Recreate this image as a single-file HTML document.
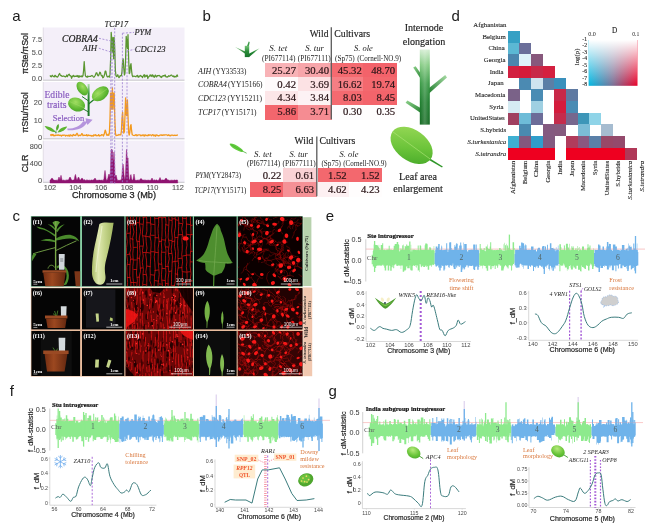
<!DOCTYPE html>
<html><head><meta charset="utf-8"><title>Figure</title>
<style>html,body{margin:0;padding:0;background:#fff}svg{display:block}</style>
</head><body>
<svg width="649" height="527" viewBox="0 0 649 527">
<rect width="649" height="527" fill="#fff"/>
<g id="panel_a">
<rect x="43" y="27.5" width="141.5" height="52.5" fill="#f4eff9"/>
<rect x="43" y="82" width="141.5" height="56.6" fill="#f4eff9"/>
<rect x="43" y="140.6" width="141.5" height="41.6" fill="#f4eff9"/>
<line x1="43" y1="80.2" x2="184.5" y2="80.2" stroke="#b9b6bd" stroke-width="0.8"/>
<line x1="43" y1="138.8" x2="184.5" y2="138.8" stroke="#b9b6bd" stroke-width="0.8"/>
<line x1="43" y1="182.3" x2="184.5" y2="182.3" stroke="#b9b6bd" stroke-width="0.8"/>
<line x1="43.2" y1="27.5" x2="43.2" y2="80.2" stroke="#d6d2da" stroke-width="0.6"/>
<line x1="43.2" y1="82" x2="43.2" y2="138.8" stroke="#d6d2da" stroke-width="0.6"/>
<line x1="43.2" y1="140.6" x2="43.2" y2="182.3" stroke="#d6d2da" stroke-width="0.6"/>
<text font-size="15" font-family="'Liberation Sans', sans-serif" fill="#1a1a1a" x="12.3" y="20.5">a</text>
<text font-size="7.4" font-family="'Liberation Sans', sans-serif" text-anchor="end" fill="#555" x="42" y="42" stroke="#555" stroke-width="0.1">7.5</text>
<text font-size="7.4" font-family="'Liberation Sans', sans-serif" text-anchor="end" fill="#555" x="42" y="55.1" stroke="#555" stroke-width="0.1">5.0</text>
<text font-size="7.4" font-family="'Liberation Sans', sans-serif" text-anchor="end" fill="#555" x="42" y="67.9" stroke="#555" stroke-width="0.1">2.5</text>
<text font-size="7.4" font-family="'Liberation Sans', sans-serif" text-anchor="end" fill="#555" x="42" y="80.5" stroke="#555" stroke-width="0.1">0.0</text>
<text font-size="7.4" font-family="'Liberation Sans', sans-serif" text-anchor="end" fill="#555" x="42" y="105.4" stroke="#555" stroke-width="0.1">20</text>
<text font-size="7.4" font-family="'Liberation Sans', sans-serif" text-anchor="end" fill="#555" x="42" y="122.7" stroke="#555" stroke-width="0.1">10</text>
<text font-size="7.4" font-family="'Liberation Sans', sans-serif" text-anchor="end" fill="#555" x="42" y="139.7" stroke="#555" stroke-width="0.1">0</text>
<text font-size="7.4" font-family="'Liberation Sans', sans-serif" text-anchor="end" fill="#555" x="42" y="149.3" stroke="#555" stroke-width="0.1">800</text>
<text font-size="7.4" font-family="'Liberation Sans', sans-serif" text-anchor="end" fill="#555" x="42" y="166.3" stroke="#555" stroke-width="0.1">400</text>
<text font-size="7.4" font-family="'Liberation Sans', sans-serif" text-anchor="end" fill="#555" x="42" y="183.2" stroke="#555" stroke-width="0.1">0</text>
<text font-size="9" font-family="'Liberation Sans', sans-serif" text-anchor="middle" fill="#222" textLength="41" lengthAdjust="spacingAndGlyphs" transform="translate(27.6 53.5) rotate(-90)" stroke="#222" stroke-width="0.25">πSte/πSol</text>
<text font-size="9" font-family="'Liberation Sans', sans-serif" text-anchor="middle" fill="#222" textLength="40.5" lengthAdjust="spacingAndGlyphs" transform="translate(27.6 112.5) rotate(-90)" stroke="#222" stroke-width="0.25">πStu/πSol</text>
<text font-size="9" font-family="'Liberation Sans', sans-serif" text-anchor="middle" fill="#222" textLength="17.7" lengthAdjust="spacingAndGlyphs" transform="translate(27.8 163.5) rotate(-90)" stroke="#222" stroke-width="0.25">CLR</text>
<text font-size="7.4" font-family="'Liberation Sans', sans-serif" text-anchor="middle" fill="#555" x="50" y="190.2" stroke="#555" stroke-width="0.1">102</text>
<text font-size="7.4" font-family="'Liberation Sans', sans-serif" text-anchor="middle" fill="#555" x="75.5" y="190.2" stroke="#555" stroke-width="0.1">104</text>
<text font-size="7.4" font-family="'Liberation Sans', sans-serif" text-anchor="middle" fill="#555" x="101.1" y="190.2" stroke="#555" stroke-width="0.1">106</text>
<text font-size="7.4" font-family="'Liberation Sans', sans-serif" text-anchor="middle" fill="#555" x="127" y="190.2" stroke="#555" stroke-width="0.1">108</text>
<text font-size="7.4" font-family="'Liberation Sans', sans-serif" text-anchor="middle" fill="#555" x="152.4" y="190.2" stroke="#555" stroke-width="0.1">110</text>
<text font-size="7.4" font-family="'Liberation Sans', sans-serif" text-anchor="middle" fill="#555" x="178" y="190.2" stroke="#555" stroke-width="0.1">112</text>
<text font-size="9.2" font-family="'Liberation Sans', sans-serif" fill="#222" textLength="84" lengthAdjust="spacingAndGlyphs" x="72" y="198.3" stroke="#222" stroke-width="0.25">Chromosome 3 (Mb)</text>
<path d="M50 75.4 L50.6 76.4 L51.2 76.8 L51.8 75.9 L52.4 75.3 L53 76.2 L53.6 76.5 L54.2 76.9 L54.8 75.4 L55.4 75.4 L56 76.7 L56.6 76.5 L57.2 77.2 L57.8 76.8 L58.4 75.7 L59 74.3 L59.6 73.5 L60.2 74.8 L60.8 75.7 L61.4 75.5 L62 76.3 L62.6 76.3 L63.2 76 L63.8 76.2 L64.4 76.4 L65 76.7 L65.6 76.9 L66.2 76.3 L66.8 75 L67.4 76.7 L68 75.3 L68.6 74.6 L69.2 74.2 L69.8 75.6 L70.4 75.7 L71 76.3 L71.6 78.3 L72.2 76.2 L72.8 76.7 L73.4 75.3 L74 76 L74.6 76.6 L75.2 76.1 L75.8 76.4 L76.4 76.3 L77 75.5 L77.6 76.6 L78.2 75.7 L78.8 77.4 L79.4 75.9 L80 76.6 L80.6 76.2 L81.2 76.8 L81.8 75.8 L82.4 76.8 L83 75.8 L83.6 70.2 L84.2 61.6 L84.8 70.2 L85.4 75.7 L86 76.7 L86.6 76.5 L87.2 77.3 L87.8 76 L88.4 76.6 L89 76.5 L89.6 76.4 L90.2 76.3 L90.8 76.3 L91.4 75.8 L92 75.5 L92.6 75.9 L93.2 76.6 L93.8 77.2 L94.4 76.8 L95 75.8 L95.6 74.6 L96.2 72.8 L96.8 72.8 L97.4 74.6 L98 75.8 L98.6 75.6 L99.2 74 L99.8 72.2 L100.4 72.6 L101 74.7 L101.6 75.9 L102.2 75.5 L102.8 77.8 L103.4 77.4 L104 76.3 L104.6 74.3 L105.2 71.2 L105.8 71.2 L106.4 74.3 L107 76.4 L107.6 76.9 L108.2 76.7 L108.8 76.2 L109.4 77.1 L110 74.4 L110.6 59.9 L111.2 32.3 L111.8 40.2 L112.4 52.1 L113 37.3 L113.6 58.8 L114.2 37.6 L114.8 50.3 L115.4 70.9 L116 75.9 L116.6 76.6 L117.2 76.1 L117.8 74.7 L118.4 76.7 L119 77.7 L119.6 76.9 L120.2 75.6 L120.8 75.9 L121.4 75.7 L122 71.6 L122.6 61.5 L123.2 58.8 L123.8 68.6 L124.4 75 L125 73.4 L125.6 58.9 L126.2 36.3 L126.8 42.4 L127.4 48.3 L128 34.7 L128.6 57.4 L129.2 73.6 L129.8 72.9 L130.4 65.6 L131 63.7 L131.6 70.8 L132.2 75.3 L132.8 76.7 L133.4 76.3 L134 76 L134.6 76.3 L135.2 76.5 L135.8 76.8 L136.4 75.9 L137 76 L137.6 75.3 L138.2 77.2 L138.8 77.1 L139.4 76.1 L140 75.9 L140.6 75.4 L141.2 76.3 L141.8 76.3 L142.4 77.6 L143 76.4 L143.6 75.7 L144.2 74.6 L144.8 77.1 L145.4 76.3 L146 75.2 L146.6 76.3 L147.2 75.2 L147.8 78.5 L148.4 76.9 L149 76.6 L149.6 76.1 L150.2 74.8 L150.8 76.1 L151.4 75.2 L152 76.6 L152.6 74.8 L153.2 75.6 L153.8 77 L154.4 77.3 L155 75.4 L155.6 75.2 L156.2 76.8 L156.8 76.8 L157.4 75.6 L158 75.7 L158.6 75.7 L159.2 75.4 L159.8 75.8 L160.4 77 L161 76.6 L161.6 77.5 L162.2 76.1 L162.8 76.1 L163.4 75.6 L164 76.1 L164.6 75.3 L165.2 75 L165.8 76.7 L166.4 77.1 L167 76.7 L167.6 77.1 L168.2 76.4 L168.8 75.7 L169.4 76.3 L170 76 L170.6 75.5 L171.2 75.1 L171.8 75.2 L172.4 76.2 L173 76.3 L173.6 75.9 L174.2 77.1 L174.8 76.3 L175.4 76.6 L176 77 L176.6 75.7 L177.2 74.9 L177.8 76.7" fill="none" stroke="#5b9631" stroke-width="1.25" stroke-linejoin="round"/>
<path d="M50 134.9 L50.6 134.9 L51.2 135.5 L51.8 134.5 L52.4 135.2 L53 134.5 L53.6 135.7 L54.2 135.4 L54.8 135.8 L55.4 135.1 L56 135.4 L56.6 135.2 L57.2 135 L57.8 135.4 L58.4 134.9 L59 135.2 L59.6 135.5 L60.2 135.3 L60.8 135.2 L61.4 136.1 L62 135.3 L62.6 135.1 L63.2 135.4 L63.8 135.1 L64.4 135.2 L65 135.2 L65.6 136 L66.2 135.3 L66.8 135.4 L67.4 135.5 L68 136 L68.6 135.2 L69.2 135.1 L69.8 136.2 L70.4 134.8 L71 135.2 L71.6 135.5 L72.2 136.1 L72.8 135 L73.4 134.5 L74 135.5 L74.6 135.1 L75.2 135.2 L75.8 135.5 L76.4 134.1 L77 133.3 L77.6 134.1 L78.2 135.8 L78.8 135.8 L79.4 135.3 L80 135.1 L80.6 135.6 L81.2 134.8 L81.8 133.6 L82.4 134 L83 135.7 L83.6 135.3 L84.2 135.2 L84.8 135.4 L85.4 135.3 L86 135.3 L86.6 134.6 L87.2 135.9 L87.8 135.4 L88.4 135 L89 135.6 L89.6 135.4 L90.2 135.3 L90.8 135.7 L91.4 136.1 L92 135.5 L92.6 135.9 L93.2 136.1 L93.8 134.9 L94.4 135.1 L95 135.6 L95.6 134.7 L96.2 135.2 L96.8 135.8 L97.4 135.7 L98 135.5 L98.6 134.6 L99.2 136.1 L99.8 135.5 L100.4 135.6 L101 135.5 L101.6 134.7 L102.2 134.8 L102.8 134.9 L103.4 136 L104 134.8 L104.6 132.6 L105.2 130.1 L105.8 131.6 L106.4 134.3 L107 135.4 L107.6 134.9 L108.2 134.2 L108.8 135.4 L109.4 132.8 L110 118.8 L110.6 93.2 L111.2 93.2 L111.8 109.2 L112.4 88 L113 109.2 L113.6 93.2 L114.2 93.2 L114.8 118.8 L115.4 132.8 L116 135.7 L116.6 135.4 L117.2 135.4 L117.8 135.1 L118.4 135.2 L119 134.4 L119.6 134.9 L120.2 134.8 L120.8 134.9 L121.4 131 L122 118.8 L122.6 112.3 L123.2 123.5 L123.8 133.1 L124.4 131.8 L125 114.7 L125.6 98 L126.2 114.7 L126.8 115.8 L127.4 100 L128 115.8 L128.6 132 L129.2 135 L129.8 132.5 L130.4 126.3 L131 124.6 L131.6 130.7 L132.2 134.6 L132.8 135 L133.4 135.3 L134 135.5 L134.6 135.4 L135.2 135.4 L135.8 134.6 L136.4 134.9 L137 135.8 L137.6 135.4 L138.2 134.8 L138.8 135 L139.4 134.8 L140 134.9 L140.6 135.7 L141.2 135.2 L141.8 135.7 L142.4 135.4 L143 134.8 L143.6 135.1 L144.2 136.1 L144.8 135 L145.4 134.9 L146 135.7 L146.6 135.3 L147.2 135.3 L147.8 135.8 L148.4 134.7 L149 135.4 L149.6 134.9 L150.2 134.8 L150.8 135 L151.4 135.7 L152 135.2 L152.6 134.6 L153.2 134.9 L153.8 135.8 L154.4 135.7 L155 134.9 L155.6 136.2 L156.2 135.2 L156.8 134.9 L157.4 135.3 L158 135.6 L158.6 135.9 L159.2 135.7 L159.8 135.1 L160.4 135.1 L161 134.8 L161.6 135.3 L162.2 135.1 L162.8 135.4 L163.4 134.8 L164 135.1 L164.6 135 L165.2 134.9 L165.8 134.9 L166.4 134.9 L167 134.9 L167.6 135.5 L168.2 135.3 L168.8 134.8 L169.4 135.5 L170 135.4 L170.6 135.8 L171.2 135.2 L171.8 135.2 L172.4 135.1 L173 135.3 L173.6 135.5 L174.2 135.4 L174.8 135.2 L175.4 135.5 L176 135.3 L176.6 135.4 L177.2 135 L177.8 135.4" fill="none" stroke="#f39a1e" stroke-width="1.3" stroke-linejoin="round"/>
<path d="M50 183 L50 180.1 L50.5 180 L51 179.3 L51.5 178.4 L52 178 L52.5 178.4 L53 179.3 L53.5 180 L54 180 L54.5 180.3 L55 180.1 L55.5 180.3 L56 180.3 L56.5 180.1 L57 180.4 L57.5 180.2 L58 179.9 L58.5 178.3 L59 177 L59.5 178.3 L60 179.9 L60.5 177.6 L61 175.3 L61.5 177.6 L62 180 L62.5 180.3 L63 180.2 L63.5 180 L64 180.3 L64.5 180.3 L65 180.4 L65.5 180.2 L66 180.3 L66.5 179.9 L67 180.2 L67.5 179.8 L68 180.3 L68.5 179.8 L69 178.8 L69.5 177.6 L70 177 L70.5 177.6 L71 178.8 L71.5 179.8 L72 180.3 L72.5 180.3 L73 179.9 L73.5 180.1 L74 180 L74.5 178.4 L75 175.5 L75.5 174.4 L76 176.7 L76.5 179.3 L77 179.8 L77.5 179.2 L78 177.8 L78.5 177 L79 177.8 L79.5 179.2 L80 180.1 L80.5 180 L81 179.3 L81.5 178.4 L82 178 L82.5 178.4 L83 179.3 L83.5 180 L84 180.3 L84.5 179.5 L85 180.3 L85.5 180.4 L86 180.2 L86.5 179.7 L87 180.4 L87.5 180 L88 180.1 L88.5 180.3 L89 180.2 L89.5 180.1 L90 180.4 L90.5 180.3 L91 180.1 L91.5 179.9 L92 180.1 L92.5 180.2 L93 179.7 L93.5 179.9 L94 179.8 L94.5 178.7 L95 178 L95.5 178.7 L96 179.8 L96.5 180.3 L97 180.2 L97.5 180.3 L98 180.1 L98.5 180.2 L99 180 L99.5 180.1 L100 179.9 L100.5 180.3 L101 180.3 L101.5 180.1 L102 180.3 L102.5 180.2 L103 180.4 L103.5 180.1 L104 178.5 L104.5 173.8 L105 170.4 L105.5 173.8 L106 178.5 L106.5 180.2 L107 180.3 L107.5 179.3 L108 177.5 L108.5 175.1 L109 174 L109.5 175.1 L110 177.5 L110.5 168.8 L111 151.6 L111.5 149.1 L112 165.5 L112.5 149.8 L113 159.2 L113.5 161.6 L114 152 L114.5 161.6 L115 175 L115.5 176.6 L116 175 L116.5 176.6 L117 179.1 L117.5 180.2 L118 180.4 L118.5 180.3 L119 180 L119.5 180.3 L120 180.4 L120.5 180.1 L121 180.3 L121.5 178.7 L122 174.5 L122.5 167.7 L123 164 L123.5 167.7 L124 174.5 L124.5 178.7 L125 179.5 L125.5 174.6 L126 161.4 L126.5 149.4 L127 155.3 L127.5 160 L128 157.9 L128.5 171.2 L129 179 L129.5 180.3 L130 179.1 L130.5 175.3 L131 174.6 L131.5 178.5 L132 179.7 L132.5 180.3 L133 179.5 L133.5 176.9 L134 174 L134.5 176.9 L135 179.9 L135.5 180.3 L136 180.3 L136.5 180.3 L137 180.2 L137.5 180.1 L138 180.3 L138.5 180 L139 180.4 L139.5 180.1 L140 179.5 L140.5 178.8 L141 178.5 L141.5 178.8 L142 179.5 L142.5 180.1 L143 180 L143.5 180 L144 180.3 L144.5 179.9 L145 180.3 L145.5 180 L146 180.3 L146.5 180.3 L147 180.1 L147.5 180.2 L148 180.3 L148.5 180.1 L149 180.2 L149.5 180.3 L150 180.3 L150.5 180.3 L151 180.1 L151.5 178.9 L152 178 L152.5 178.9 L153 179.9 L153.5 180.3 L154 180.2 L154.5 180 L155 179.7 L155.5 180.4 L156 179.8 L156.5 180 L157 179.9 L157.5 180.4 L158 180.2 L158.5 180.2 L159 180 L159.5 178.6 L160 177.5 L160.5 178.6 L161 180 L161.5 180.3 L162 179.7 L162.5 180.1 L163 180.1 L163.5 180.1 L164 180.1 L164.5 180 L165 179.3 L165.5 178.4 L166 178 L166.5 178.4 L167 179.3 L167.5 180 L168 179.8 L168.5 180.1 L169 180.3 L169.5 180.4 L170 180.4 L170.5 180.3 L171 180.4 L171.5 179.9 L172 180.2 L172.5 180.3 L173 180.2 L173.5 180.3 L174 180.2 L174.5 179.9 L175 179.9 L175.5 180.3 L176 179.9 L176.5 180 L177 180 L177.5 180 L177.8 183Z" fill="#8f1370" stroke="#8f1370" stroke-width="0.5" stroke-linejoin="round"/>
<line x1="110.8" y1="51.8" x2="110.8" y2="183.6" stroke="#9b7fcf" stroke-width="0.8" stroke-dasharray="2 1.5"/>
<line x1="112.1" y1="41" x2="112.1" y2="183.6" stroke="#9b7fcf" stroke-width="0.8" stroke-dasharray="2 1.5"/>
<line x1="114.7" y1="27.9" x2="114.7" y2="183.6" stroke="#9b7fcf" stroke-width="0.8" stroke-dasharray="2 1.5"/>
<line x1="122.4" y1="33.2" x2="122.4" y2="183.6" stroke="#9b7fcf" stroke-width="0.8" stroke-dasharray="2 1.5"/>
<line x1="127" y1="50.8" x2="127" y2="183.6" stroke="#9b7fcf" stroke-width="0.8" stroke-dasharray="2 1.5"/>
<line x1="99" y1="38.3" x2="112.1" y2="41.2" stroke="#9b7fcf" stroke-width="0.8" stroke-dasharray="2 1.5"/>
<line x1="98.8" y1="48.2" x2="110.8" y2="52" stroke="#9b7fcf" stroke-width="0.8" stroke-dasharray="2 1.5"/>
<line x1="122.4" y1="33.2" x2="134" y2="32.4" stroke="#9b7fcf" stroke-width="0.8" stroke-dasharray="2 1.5"/>
<line x1="127" y1="51" x2="134.5" y2="49.3" stroke="#9b7fcf" stroke-width="0.8" stroke-dasharray="2 1.5"/>
<text font-size="8.2" font-family="'Liberation Serif', serif" fill="#222" font-style="italic" textLength="23.5" lengthAdjust="spacingAndGlyphs" x="104.6" y="27.3" stroke="#222" stroke-width="0.12">TCP17</text>
<text font-size="8.2" font-family="'Liberation Serif', serif" fill="#222" font-style="italic" textLength="16.8" lengthAdjust="spacingAndGlyphs" x="134.4" y="35" stroke="#222" stroke-width="0.12">PYM</text>
<text font-size="8.4" font-family="'Liberation Serif', serif" fill="#222" font-style="italic" textLength="30.8" lengthAdjust="spacingAndGlyphs" x="134.8" y="52" stroke="#222" stroke-width="0.12">CDC123</text>
<text font-size="9.4" font-family="'Liberation Serif', serif" fill="#222" font-style="italic" textLength="35.8" lengthAdjust="spacingAndGlyphs" x="62" y="41.6" stroke="#222" stroke-width="0.2">COBRA4</text>
<text font-size="8.2" font-family="'Liberation Serif', serif" fill="#222" font-style="italic" textLength="14.5" lengthAdjust="spacingAndGlyphs" x="82.6" y="50.8" stroke="#222" stroke-width="0.12">AIH</text>
<text font-size="9.6" font-family="'Liberation Serif', serif" fill="#8658be" textLength="25" lengthAdjust="spacingAndGlyphs" x="44.5" y="98" stroke="#8658be" stroke-width="0.15">Edible</text>
<text font-size="9.6" font-family="'Liberation Serif', serif" fill="#8658be" textLength="19.6" lengthAdjust="spacingAndGlyphs" x="47" y="108.4" stroke="#8658be" stroke-width="0.15">traits</text>
<text font-size="8.4" font-family="'Liberation Serif', serif" fill="#8658be" textLength="31.5" lengthAdjust="spacingAndGlyphs" x="52.7" y="120.8" stroke="#8658be" stroke-width="0.15">Selection</text>
<path d="M67.3 128.6 C75 128.4 80 126.5 83.2 121.2 L86 121.4 L85.6 118.2 L92.6 119.8 L87.5 125 L86.6 123 C83.5 128.5 77 130.6 67.6 130.2 Z" fill="#b594dd"/>
<defs><linearGradient id="stg" x1="0" y1="0" x2="0" y2="1"><stop offset="0" stop-color="#b4e0b0"/><stop offset="0.3" stop-color="#3a9a40"/><stop offset="0.6" stop-color="#1f7a28"/></linearGradient><radialGradient id="lg1" cx="0.4" cy="0.35" r="0.8"><stop offset="0" stop-color="#a2de62"/><stop offset="0.6" stop-color="#62ba34"/><stop offset="1" stop-color="#429a26"/></radialGradient></defs>
<path d="M87.6 84 L89.6 84 L89.6 116 L87.6 116 Z" fill="url(#stg)"/>
<path d="M88.6 101 L82 96.5" stroke="#1f7a28" stroke-width="1" fill="none"/>
<path d="M88.6 104 L94 99.5" stroke="#1f7a28" stroke-width="1.2" fill="none"/>
<path d="M88.6 112 L81.5 108" stroke="#1f7a28" stroke-width="1" fill="none"/>
<ellipse cx="82.3" cy="88.6" rx="7.6" ry="4.7" transform="rotate(55 82.3 88.6)" fill="url(#lg1)"/>
<ellipse cx="76.6" cy="104.5" rx="8.8" ry="6.7" transform="rotate(22 76.6 104.5)" fill="url(#lg1)"/><path d="M69.5 101.5 L84.5 108" stroke="#a6e070" stroke-width="0.4"/>
<ellipse cx="100.3" cy="93.8" rx="9.4" ry="6.3" transform="rotate(-36 100.3 93.8)" fill="url(#lg1)"/><path d="M93.5 98.6 L107.5 88.6" stroke="#a6e070" stroke-width="0.4"/>
<path d="M44.6 126 C50 126.3 54 129 55.8 132.3 C51 132 46.5 129.5 44.6 126Z" fill="#5cb430"/>
<path d="M67.2 126.5 C62 126.8 58.5 129.5 57.6 132.6 C62 132.2 65.6 129.8 67.2 126.5Z" fill="#5cb430"/>
<path d="M58.4 124 C59.6 126 58.6 129.5 56.6 130.8 C55.4 128.6 56.4 125.4 58.4 124Z" fill="#4fa82c"/>
<path d="M56 130 L56.6 133.2 L55.2 133.2Z" fill="#1f7a28"/>
</g>
<g id="panel_b">
<text font-size="15" font-family="'Liberation Sans', sans-serif" fill="#1a1a1a" x="202.4" y="20.5">b</text>
<text font-size="9.5" font-family="'Liberation Serif', serif" text-anchor="end" fill="#222" textLength="18.6" lengthAdjust="spacingAndGlyphs" x="328.4" y="36.7" stroke="#222" stroke-width="0.15">Wild</text>
<text font-size="9.5" font-family="'Liberation Serif', serif" fill="#222" textLength="36" lengthAdjust="spacingAndGlyphs" x="334.2" y="36.7" stroke="#222" stroke-width="0.15">Cultivars</text>
<text font-size="8.2" font-family="'Liberation Serif', serif" fill="#222" font-style="italic" textLength="18" lengthAdjust="spacingAndGlyphs" x="269.2" y="51.2">S. tet</text>
<text font-size="8.2" font-family="'Liberation Serif', serif" fill="#222" font-style="italic" textLength="18.8" lengthAdjust="spacingAndGlyphs" x="305.2" y="51.2">S. tur</text>
<text font-size="8.2" font-family="'Liberation Serif', serif" fill="#222" font-style="italic" textLength="18.8" lengthAdjust="spacingAndGlyphs" x="354" y="51.2">S. ole</text>
<text font-size="7.2" font-family="'Liberation Serif', serif" fill="#222" textLength="33.4" lengthAdjust="spacingAndGlyphs" x="262" y="60.6">(PI677114)</text>
<text font-size="7.2" font-family="'Liberation Serif', serif" fill="#222" textLength="33" lengthAdjust="spacingAndGlyphs" x="297.8" y="60.6">(PI677111)</text>
<text font-size="7.2" font-family="'Liberation Serif', serif" fill="#222" textLength="19.8" lengthAdjust="spacingAndGlyphs" x="335" y="60.6">(Sp75)</text>
<text font-size="7.2" font-family="'Liberation Serif', serif" fill="#222" textLength="44" lengthAdjust="spacingAndGlyphs" x="357.2" y="60.6">(Cornell-NO.9)</text>
<rect x="264.7" y="63.3" width="33.4" height="14.3" fill="#f8b2b6" shape-rendering="crispEdges"/>
<rect x="297.6" y="63.3" width="34.1" height="14.3" fill="#f7a5aa" shape-rendering="crispEdges"/>
<rect x="332.2" y="63.3" width="31.6" height="14.3" fill="#f46a70" shape-rendering="crispEdges"/>
<rect x="363.3" y="63.3" width="33.8" height="14.3" fill="#f3626a" shape-rendering="crispEdges"/>
<rect x="264.7" y="77.1" width="33.4" height="14.2" fill="#fefafb" shape-rendering="crispEdges"/>
<rect x="297.6" y="77.1" width="34.1" height="14.2" fill="#fce2e4" shape-rendering="crispEdges"/>
<rect x="332.2" y="77.1" width="31.6" height="14.2" fill="#f57e84" shape-rendering="crispEdges"/>
<rect x="363.3" y="77.1" width="33.8" height="14.2" fill="#f3686e" shape-rendering="crispEdges"/>
<rect x="264.7" y="90.8" width="33.4" height="14.4" fill="#fce6e8" shape-rendering="crispEdges"/>
<rect x="297.6" y="90.8" width="34.1" height="14.4" fill="#fdf2f4" shape-rendering="crispEdges"/>
<rect x="332.2" y="90.8" width="31.6" height="14.4" fill="#f46a70" shape-rendering="crispEdges"/>
<rect x="363.3" y="90.8" width="33.8" height="14.4" fill="#f3646b" shape-rendering="crispEdges"/>
<rect x="264.7" y="104.7" width="33.4" height="14.8" fill="#f3666d" shape-rendering="crispEdges"/>
<rect x="297.6" y="104.7" width="34.1" height="14.8" fill="#f58c92" shape-rendering="crispEdges"/>
<rect x="332.2" y="104.7" width="31.6" height="14.8" fill="#fefcfd" shape-rendering="crispEdges"/>
<rect x="363.3" y="104.7" width="33.8" height="14.8" fill="#fffdfd" shape-rendering="crispEdges"/>
<text font-size="10.7" font-family="'Liberation Serif', serif" text-anchor="end" fill="#2a1518" x="296" y="73.7" stroke="#2a1518" stroke-width="0.2">25.27</text>
<text font-size="10.7" font-family="'Liberation Serif', serif" text-anchor="end" fill="#2a1518" x="329" y="73.7" stroke="#2a1518" stroke-width="0.2">30.40</text>
<text font-size="10.7" font-family="'Liberation Serif', serif" text-anchor="end" fill="#2a1518" x="361.8" y="73.7" stroke="#2a1518" stroke-width="0.2">45.32</text>
<text font-size="10.7" font-family="'Liberation Serif', serif" text-anchor="end" fill="#2a1518" x="395.2" y="73.7" stroke="#2a1518" stroke-width="0.2">48.70</text>
<text font-size="10.7" font-family="'Liberation Serif', serif" text-anchor="end" fill="#2a1518" x="296" y="87.5" stroke="#2a1518" stroke-width="0.2">0.42</text>
<text font-size="10.7" font-family="'Liberation Serif', serif" text-anchor="end" fill="#2a1518" x="329" y="87.5" stroke="#2a1518" stroke-width="0.2">3.69</text>
<text font-size="10.7" font-family="'Liberation Serif', serif" text-anchor="end" fill="#2a1518" x="361.8" y="87.5" stroke="#2a1518" stroke-width="0.2">16.62</text>
<text font-size="10.7" font-family="'Liberation Serif', serif" text-anchor="end" fill="#2a1518" x="395.2" y="87.5" stroke="#2a1518" stroke-width="0.2">19.74</text>
<text font-size="10.7" font-family="'Liberation Serif', serif" text-anchor="end" fill="#2a1518" x="296" y="101.2" stroke="#2a1518" stroke-width="0.2">4.34</text>
<text font-size="10.7" font-family="'Liberation Serif', serif" text-anchor="end" fill="#2a1518" x="329" y="101.2" stroke="#2a1518" stroke-width="0.2">3.84</text>
<text font-size="10.7" font-family="'Liberation Serif', serif" text-anchor="end" fill="#2a1518" x="361.8" y="101.2" stroke="#2a1518" stroke-width="0.2">8.03</text>
<text font-size="10.7" font-family="'Liberation Serif', serif" text-anchor="end" fill="#2a1518" x="395.2" y="101.2" stroke="#2a1518" stroke-width="0.2">8.45</text>
<text font-size="10.7" font-family="'Liberation Serif', serif" text-anchor="end" fill="#2a1518" x="296" y="115.1" stroke="#2a1518" stroke-width="0.2">5.86</text>
<text font-size="10.7" font-family="'Liberation Serif', serif" text-anchor="end" fill="#2a1518" x="329" y="115.1" stroke="#2a1518" stroke-width="0.2">3.71</text>
<text font-size="10.7" font-family="'Liberation Serif', serif" text-anchor="end" fill="#2a1518" x="361.8" y="115.1" stroke="#2a1518" stroke-width="0.2">0.30</text>
<text font-size="10.7" font-family="'Liberation Serif', serif" text-anchor="end" fill="#2a1518" x="395.2" y="115.1" stroke="#2a1518" stroke-width="0.2">0.35</text>
<line x1="331.3" y1="27.3" x2="331.3" y2="119.2" stroke="#5a5a5a" stroke-width="1.3"/>
<text font-size="7.6" font-family="'Liberation Serif', serif" fill="#222" font-style="italic" textLength="13.4" lengthAdjust="spacingAndGlyphs" x="198" y="73.5">AIH</text>
<text font-size="7.8" font-family="'Liberation Serif', serif" fill="#222" textLength="33.4" lengthAdjust="spacingAndGlyphs" x="213" y="73.5">(YY33533)</text>
<text font-size="7.6" font-family="'Liberation Serif', serif" fill="#222" font-style="italic" textLength="29" lengthAdjust="spacingAndGlyphs" x="198" y="87.3">COBRA4</text>
<text font-size="7.8" font-family="'Liberation Serif', serif" fill="#222" textLength="34.6" lengthAdjust="spacingAndGlyphs" x="228" y="87.3">(YY15166)</text>
<text font-size="7.6" font-family="'Liberation Serif', serif" fill="#222" font-style="italic" textLength="28" lengthAdjust="spacingAndGlyphs" x="198" y="101">CDC123</text>
<text font-size="7.8" font-family="'Liberation Serif', serif" fill="#222" textLength="34.6" lengthAdjust="spacingAndGlyphs" x="227.4" y="101">(YY15211)</text>
<text font-size="7.6" font-family="'Liberation Serif', serif" fill="#222" font-style="italic" textLength="22.4" lengthAdjust="spacingAndGlyphs" x="198" y="114.9">TCP17</text>
<text font-size="7.8" font-family="'Liberation Serif', serif" fill="#222" textLength="34.6" lengthAdjust="spacingAndGlyphs" x="221.8" y="114.9">(YY15171)</text>
<defs><linearGradient id="sdg" x1="0" y1="0" x2="0" y2="1"><stop offset="0" stop-color="#74c478"/><stop offset="0.5" stop-color="#2a8c38"/><stop offset="1" stop-color="#16732a"/></linearGradient><linearGradient id="sdl" x1="0" y1="0" x2="1" y2="0"><stop offset="0" stop-color="#a6dca6"/><stop offset="1" stop-color="#1f7d2c"/></linearGradient><linearGradient id="sdr" x1="1" y1="0" x2="0" y2="0"><stop offset="0" stop-color="#a6dca6"/><stop offset="0.5" stop-color="#2a8c38"/><stop offset="1" stop-color="#16732a"/></linearGradient></defs>
<path d="M246.8 46.4 L248.7 41.4 L249.7 41.9 L248.8 46.4 Z" fill="#3c9a48"/>
<path d="M234.8 46.8 L245.2 51.4 L245.2 53.8 Z" fill="url(#sdl)"/>
<path d="M259.6 48.2 L248.8 53.8 L248.8 57.2 Z" fill="url(#sdr)"/>
<rect x="244.8" y="45.8" width="4.4" height="11.3" fill="url(#sdg)"/>
<text font-size="9.5" font-family="'Liberation Serif', serif" text-anchor="end" fill="#222" textLength="18.8" lengthAdjust="spacingAndGlyphs" x="313.4" y="143.7" stroke="#222" stroke-width="0.15">Wild</text>
<text font-size="9.5" font-family="'Liberation Serif', serif" fill="#222" textLength="35.8" lengthAdjust="spacingAndGlyphs" x="319.4" y="143.7" stroke="#222" stroke-width="0.15">Cultivars</text>
<text font-size="8.2" font-family="'Liberation Serif', serif" fill="#222" font-style="italic" textLength="17.8" lengthAdjust="spacingAndGlyphs" x="254" y="156.6">S. tet</text>
<text font-size="8.2" font-family="'Liberation Serif', serif" fill="#222" font-style="italic" textLength="18.4" lengthAdjust="spacingAndGlyphs" x="289.5" y="156.6">S. tur</text>
<text font-size="8.2" font-family="'Liberation Serif', serif" fill="#222" font-style="italic" textLength="18.8" lengthAdjust="spacingAndGlyphs" x="339.6" y="156.6">S. ole</text>
<text font-size="7.2" font-family="'Liberation Serif', serif" fill="#222" textLength="33.2" lengthAdjust="spacingAndGlyphs" x="247" y="165.8">(PI677114)</text>
<text font-size="7.2" font-family="'Liberation Serif', serif" fill="#222" textLength="33" lengthAdjust="spacingAndGlyphs" x="282.6" y="165.8">(PI677111)</text>
<text font-size="7.2" font-family="'Liberation Serif', serif" fill="#222" textLength="19.6" lengthAdjust="spacingAndGlyphs" x="321.4" y="165.8">(Sp75)</text>
<text font-size="7.2" font-family="'Liberation Serif', serif" fill="#222" textLength="43.4" lengthAdjust="spacingAndGlyphs" x="343.2" y="165.8">(Cornell-NO.9)</text>
<rect x="250" y="167.5" width="33.8" height="14.5" fill="#fefcfd" shape-rendering="crispEdges"/>
<rect x="283.3" y="167.5" width="33.8" height="14.5" fill="#fad2d5" shape-rendering="crispEdges"/>
<rect x="317.6" y="167.5" width="31.7" height="14.5" fill="#f3686e" shape-rendering="crispEdges"/>
<rect x="348.8" y="167.5" width="33.5" height="14.5" fill="#f3686e" shape-rendering="crispEdges"/>
<rect x="250" y="181.5" width="33.8" height="15" fill="#f3646b" shape-rendering="crispEdges"/>
<rect x="283.3" y="181.5" width="33.8" height="15" fill="#f59196" shape-rendering="crispEdges"/>
<rect x="317.6" y="181.5" width="31.7" height="15" fill="#fdf0f2" shape-rendering="crispEdges"/>
<rect x="348.8" y="181.5" width="33.5" height="15" fill="#fffdfd" shape-rendering="crispEdges"/>
<text font-size="10.7" font-family="'Liberation Serif', serif" text-anchor="end" fill="#2a1518" x="281.4" y="178.7" stroke="#2a1518" stroke-width="0.2">0.22</text>
<text font-size="10.7" font-family="'Liberation Serif', serif" text-anchor="end" fill="#2a1518" x="314.2" y="178.7" stroke="#2a1518" stroke-width="0.2">0.61</text>
<text font-size="10.7" font-family="'Liberation Serif', serif" text-anchor="end" fill="#2a1518" x="346.6" y="178.7" stroke="#2a1518" stroke-width="0.2">1.52</text>
<text font-size="10.7" font-family="'Liberation Serif', serif" text-anchor="end" fill="#2a1518" x="379.6" y="178.7" stroke="#2a1518" stroke-width="0.2">1.52</text>
<text font-size="10.7" font-family="'Liberation Serif', serif" text-anchor="end" fill="#2a1518" x="281.4" y="192.7" stroke="#2a1518" stroke-width="0.2">8.25</text>
<text font-size="10.7" font-family="'Liberation Serif', serif" text-anchor="end" fill="#2a1518" x="314.2" y="192.7" stroke="#2a1518" stroke-width="0.2">6.63</text>
<text font-size="10.7" font-family="'Liberation Serif', serif" text-anchor="end" fill="#2a1518" x="346.6" y="192.7" stroke="#2a1518" stroke-width="0.2">4.62</text>
<text font-size="10.7" font-family="'Liberation Serif', serif" text-anchor="end" fill="#2a1518" x="379.6" y="192.7" stroke="#2a1518" stroke-width="0.2">4.23</text>
<line x1="316.8" y1="136.4" x2="316.8" y2="196.2" stroke="#5a5a5a" stroke-width="1.3"/>
<text font-size="7.4" font-family="'Liberation Serif', serif" fill="#222" font-style="italic" textLength="13.6" lengthAdjust="spacingAndGlyphs" x="195.4" y="178.2">PYM</text>
<text font-size="7.8" font-family="'Liberation Serif', serif" fill="#222" textLength="32" lengthAdjust="spacingAndGlyphs" x="209" y="178.2">(YY28473)</text>
<text font-size="7.4" font-family="'Liberation Serif', serif" fill="#222" font-style="italic" textLength="19.6" lengthAdjust="spacingAndGlyphs" x="194.4" y="192.6">TCP17</text>
<text font-size="7.8" font-family="'Liberation Serif', serif" fill="#222" textLength="32.4" lengthAdjust="spacingAndGlyphs" x="214" y="192.6">(YY15171)</text>
<path d="M242.6 151.2 L246.6 153.2" stroke="#4cae3c" stroke-width="0.8" fill="none"/>
<ellipse cx="236.5" cy="147.7" rx="7.8" ry="2.1" transform="rotate(30 236.5 147.7)" fill="#62cc3e"/>
<path d="M231 144.6 L242.4 151" stroke="#46b02c" stroke-width="0.6" fill="none"/>
<text font-size="10" font-family="'Liberation Serif', serif" text-anchor="middle" fill="#222" textLength="38.6" lengthAdjust="spacingAndGlyphs" x="424" y="31.3" stroke="#222" stroke-width="0.15">Internode</text>
<text font-size="10" font-family="'Liberation Serif', serif" text-anchor="middle" fill="#222" textLength="42.6" lengthAdjust="spacingAndGlyphs" x="424" y="44.5" stroke="#222" stroke-width="0.15">elongation</text>
<defs><linearGradient id="stemg" x1="0" y1="0" x2="0" y2="1"><stop offset="0" stop-color="#d4edd2"/><stop offset="0.2" stop-color="#86cc84"/><stop offset="0.45" stop-color="#3a9a46"/><stop offset="0.7" stop-color="#1c7c2c"/><stop offset="1" stop-color="#146a22"/></linearGradient><linearGradient id="stemh" x1="0" y1="0" x2="1" y2="0"><stop offset="0" stop-color="#fff" stop-opacity="0"/><stop offset="0.5" stop-color="#fff" stop-opacity="0.22"/><stop offset="1" stop-color="#fff" stop-opacity="0"/></linearGradient><linearGradient id="brl" x1="0" y1="0" x2="1" y2="1"><stop offset="0" stop-color="#8fd28c"/><stop offset="1" stop-color="#1f7d2c"/></linearGradient><linearGradient id="brr" x1="1" y1="0" x2="0" y2="1"><stop offset="0" stop-color="#a9dca6"/><stop offset="1" stop-color="#1f7d2c"/></linearGradient><linearGradient id="leafg" x1="0" y1="0" x2="1" y2="1"><stop offset="0" stop-color="#a0dc5c"/><stop offset="0.55" stop-color="#6cc43a"/><stop offset="1" stop-color="#3fa426"/></linearGradient></defs>
<path d="M413.2 67.6 L415.6 66.2 L421.5 74.5 L421.5 80 Z" fill="url(#brl)"/>
<path d="M445.2 75 L447 77.4 L429 93.5 L429 88 Z" fill="url(#brr)"/>
<path d="M405.6 102.8 L407.4 100.4 L421.5 108.6 L421.5 113.6 Z" fill="url(#brl)"/>
<rect x="419.8" y="49.6" width="10" height="75" fill="url(#stemg)"/>
<rect x="419.8" y="49.6" width="10" height="75" fill="url(#stemh)"/>
<path d="M430 158.4 L442.8 166.4 L442 167.6 L429 160 Z" fill="#2f9628"/>
<ellipse cx="411.6" cy="145.4" rx="23.5" ry="15.4" transform="rotate(36 411.6 145.4)" fill="url(#leafg)"/>
<path d="M392.6 131.6 L430.4 159.2" stroke="#b4e87c" stroke-width="0.6" fill="none"/>
<text font-size="10" font-family="'Liberation Serif', serif" text-anchor="middle" fill="#222" textLength="37.8" lengthAdjust="spacingAndGlyphs" x="418" y="180" stroke="#222" stroke-width="0.15">Leaf area</text>
<text font-size="10" font-family="'Liberation Serif', serif" text-anchor="middle" fill="#222" textLength="49.6" lengthAdjust="spacingAndGlyphs" x="418" y="192.3" stroke="#222" stroke-width="0.15">enlargement</text>
</g>
<g id="panel_c">
<text font-size="15" font-family="'Liberation Sans', sans-serif" fill="#1a1a1a" x="12.4" y="220.6">c</text>
<rect x="30.8" y="216" width="272" height="70.8" fill="#88cea4"/>
<rect x="30.8" y="287.4" width="272" height="89.2" fill="#e9bd9e"/>
<rect x="30.8" y="286.9" width="281" height="1" fill="#f4ead8"/>
<rect x="303.2" y="217.2" width="8.2" height="68.8" fill="#b8d2ae"/>
<rect x="303.2" y="287.8" width="9" height="88.4" fill="#f1c8b0"/>
<text font-size="5" font-family="'Liberation Serif', serif" text-anchor="middle" fill="#2a2a2a" font-weight="bold" textLength="35.4" lengthAdjust="spacingAndGlyphs" transform="translate(308.4 253.4) rotate(-90)">Cultivars  (Sp75)</text>
<text font-size="4.6" font-family="'Liberation Serif', serif" text-anchor="middle" fill="#2a2a2a" font-style="italic" font-weight="bold" textLength="28.7" lengthAdjust="spacingAndGlyphs" transform="translate(306.2 310.2) rotate(-90)">S. turkestanica</text>
<text font-size="3.9" font-family="'Liberation Serif', serif" text-anchor="middle" fill="#2a2a2a" font-weight="bold" textLength="17.8" lengthAdjust="spacingAndGlyphs" transform="translate(311.2 310) rotate(-90)">(PI677111)</text>
<text font-size="5.1" font-family="'Liberation Serif', serif" text-anchor="middle" fill="#2a2a2a" font-weight="bold" textLength="10.8" lengthAdjust="spacingAndGlyphs" transform="translate(308.3 332.3) rotate(-90)">Wild</text>
<text font-size="4.6" font-family="'Liberation Serif', serif" text-anchor="middle" fill="#2a2a2a" font-style="italic" font-weight="bold" textLength="21.6" lengthAdjust="spacingAndGlyphs" transform="translate(306.2 352.6) rotate(-90)">S. tetrandra</text>
<text font-size="3.9" font-family="'Liberation Serif', serif" text-anchor="middle" fill="#2a2a2a" font-weight="bold" textLength="17.8" lengthAdjust="spacingAndGlyphs" transform="translate(311.2 352.2) rotate(-90)">(PI677114)</text>
<defs>
<clipPath id="cp00"><rect x="31.4" y="216.6" width="48.7" height="69.6"/></clipPath>
<clipPath id="cp01"><rect x="82" y="216.6" width="42.3" height="69.6"/></clipPath>
<clipPath id="cp02"><rect x="125.6" y="216.6" width="67.2" height="69.6"/></clipPath>
<clipPath id="cp03"><rect x="194" y="216.6" width="42.6" height="69.6"/></clipPath>
<clipPath id="cp04"><rect x="237.8" y="216.6" width="64.6" height="69.6"/></clipPath>
<clipPath id="cp10"><rect x="31.4" y="288.2" width="48.7" height="41.2"/></clipPath>
<clipPath id="cp11"><rect x="82" y="288.2" width="42.3" height="41.2"/></clipPath>
<clipPath id="cp12"><rect x="125.6" y="288.2" width="67.2" height="41.2"/></clipPath>
<clipPath id="cp13"><rect x="194" y="288.2" width="42.6" height="41.2"/></clipPath>
<clipPath id="cp14"><rect x="237.8" y="288.2" width="64.6" height="41.2"/></clipPath>
<clipPath id="cp20"><rect x="31.4" y="331" width="48.7" height="45"/></clipPath>
<clipPath id="cp21"><rect x="82" y="331" width="42.3" height="45"/></clipPath>
<clipPath id="cp22"><rect x="125.6" y="331" width="67.2" height="45"/></clipPath>
<clipPath id="cp23"><rect x="194" y="331" width="42.6" height="45"/></clipPath>
<clipPath id="cp24"><rect x="237.8" y="331" width="64.6" height="45"/></clipPath>
<linearGradient id="celg" x1="0" y1="0" x2="1" y2="0"><stop offset="0" stop-color="#a9bb68"/><stop offset="0.3" stop-color="#dfe8b0"/><stop offset="0.6" stop-color="#c4d48a"/><stop offset="1" stop-color="#a2b660"/></linearGradient>
<linearGradient id="potg" x1="0" y1="0" x2="1" y2="0"><stop offset="0" stop-color="#742e12"/><stop offset="0.4" stop-color="#9c4820"/><stop offset="1" stop-color="#642810"/></linearGradient>
</defs>
<rect x="31.4" y="216.6" width="48.7" height="69.6" fill="#050505"/>
<rect x="82" y="216.6" width="42.3" height="69.6" fill="#050505"/>
<rect x="125.6" y="216.6" width="67.2" height="69.6" fill="#050505"/>
<rect x="194" y="216.6" width="42.6" height="69.6" fill="#050505"/>
<rect x="237.8" y="216.6" width="64.6" height="69.6" fill="#050505"/>
<rect x="31.4" y="288.2" width="48.7" height="41.2" fill="#050505"/>
<rect x="82" y="288.2" width="42.3" height="41.2" fill="#050505"/>
<rect x="125.6" y="288.2" width="67.2" height="41.2" fill="#050505"/>
<rect x="194" y="288.2" width="42.6" height="41.2" fill="#050505"/>
<rect x="237.8" y="288.2" width="64.6" height="41.2" fill="#050505"/>
<rect x="31.4" y="331" width="48.7" height="45" fill="#050505"/>
<rect x="82" y="331" width="42.3" height="45" fill="#050505"/>
<rect x="125.6" y="331" width="67.2" height="45" fill="#050505"/>
<rect x="194" y="331" width="42.6" height="45" fill="#050505"/>
<rect x="237.8" y="331" width="64.6" height="45" fill="#050505"/>
<g clip-path="url(#cp00)">
<path d="M74.4 271.2 H81 V287 H75.8 Z" fill="#7c3618"/>
<path d="M55.7 247.5 C48 249.5 40 251.5 33 253.8" stroke="#78a848" stroke-width="0.9" fill="none"/>
<path d="M56 250.5 C63 247 70 243.6 76.5 240.8" stroke="#78a848" stroke-width="0.9" fill="none"/>
<path d="M33.6 253.2 C32 255 31.6 258 31.8 261.4 C33.4 259 35 256.6 36.4 254.2Z" fill="#4a8a2c"/>
<path d="M55.5 235 C50 231 44 227.4 36.4 226.4 C38 228.6 40.6 229 43 229.4 C47.4 230.6 51.4 233.6 55.5 237Z" fill="#4a8a2c"/>
<path d="M55.2 240.6 C50.5 238.6 45.4 238.4 40.4 240.6 C45 241 50 241 55.2 242.2Z" fill="#4a8a2c"/>
<path d="M56 238.4 C61 235.6 66 234.4 70.2 234.8 C74.4 235.6 77.6 238 79.4 241.4 C76.4 239.4 73.4 238.4 70 238.4 C65 238.4 60 239.6 56 240.6Z" fill="#4a8a2c"/>
<path d="M55.6 231 C52.4 227.6 50 225.4 47.6 224.6 C50.6 224 53.6 226 55.8 229Z" fill="#4a8a2c"/>
<path d="M55.8 231 C58.4 227 61.6 224.6 64.8 224.2 C62 225.8 59.6 228.6 57.6 232Z" fill="#4a8a2c"/>
<path d="M52.4 222.8 C54 220.6 57.6 220.2 60 222.4 C58 224 57 227 56 230 C55 227 54 224.6 52.4 222.8Z" fill="#5a9836"/>
<path d="M55.8 270 C55.2 255 56 240 55.7 221.6" stroke="#78a848" stroke-width="1.4" fill="none"/>
<path d="M56.6 266.4 C61 262.6 66.6 266 68.4 272 C69.6 276.6 68.6 281 66.4 284.4 L63 285.6 C66.4 281 67.2 276.6 66.2 272.4 C65 267.6 60.4 266 57.4 268.4Z" fill="#4a8a2c"/>
<path d="M54.8 267.6 C52.6 263.6 48.6 265 48 268.6" stroke="#78a848" stroke-width="0.8" fill="none"/>
<path d="M58.8 254 H64.7 L64.4 269.8 H59 Z" fill="#d0d6da"/>
<path d="M60.2 258 H63.2 V262 H60.2Z" fill="#8a9094" opacity="0.6"/>
<path d="M42.5 270.2 H66.3 V272.8 H42.5Z" fill="#9a4a24"/>
<path d="M43.2 272.8 H65.6 L63.6 287 H45.4Z" fill="url(#potg)"/>
</g>
<text font-size="6.2" font-family="'Liberation Serif', serif" fill="#fff" font-weight="bold" x="32.8" y="223.5">(f1)</text>
<text font-size="5" font-family="'Liberation Serif', serif" fill="#fff" font-weight="bold" x="33.2" y="283">5cm</text>
<line x1="33.4" y1="284.2" x2="37.4" y2="284.2" stroke="#fff" stroke-width="0.6"/>
<g clip-path="url(#cp01)">
<rect x="81.8" y="216.6" width="42.6" height="69.6" fill="#0d0d13"/>
<path d="M99.4 224 C103 221.6 109 222.6 113.6 222.8 C112 236 108.6 250 105.6 262 C104.4 268 104.8 272 105.4 275.6 C106 280 104.6 284 100.6 284.8 C96 285.4 92.6 280 92 274 C91.6 262 93.6 250 96 240 C97.4 234 98.6 228 99.4 224Z" fill="url(#celg)"/>
<path d="M102 226 C100.5 240 97 255 96 272" stroke="#eef3cf" stroke-width="1.1" fill="none" opacity="0.8"/>
</g>
<text font-size="6.2" font-family="'Liberation Serif', serif" fill="#fff" font-weight="bold" x="83.4" y="223.5">(f2)</text>
<text font-size="4.7" font-family="'Liberation Serif', serif" text-anchor="middle" fill="#f4f4f4" font-weight="bold" x="114.3" y="282.4">1cm</text>
<line x1="106.3" y1="284" x2="122.3" y2="284" stroke="#f4f4f4" stroke-width="0.7"/>
<g clip-path="url(#cp02)">
<path d="M127.1 215.6 L127.3 220.8 L127.6 227.8 L126.5 235.3 L127.3 241.7 L126.6 247.7 L126.5 253.6 L127.6 261.4 L126.8 267.6 L127.2 275.2 L127.6 282.7 L127 288.8 M127.1 222 L130.3 221.9 M127.1 233.4 L130.3 233.1 M127.1 254.6 L130.3 253.9 M127.1 264.3 L130.3 264.5 M127.1 277.5 L130.3 277.6 M130.3 215.6 L131 221 L130.2 225.8 L130.5 230.6 L130.1 235.7 L130.1 242.7 L130.9 248.9 L129.7 253.3 L130.7 258.2 L130 264.7 L129.9 270 L129.7 275.8 L130.9 282.6 L130.7 290.4 M130.3 225.2 L133.4 224.5 M130.3 238.6 L133.4 239.3 M130.3 259.2 L133.4 259.1 M130.3 282.4 L133.4 282.5 M133.4 215.6 L132.9 220.8 L132.9 226.6 L134 232.1 L132.7 237.4 L132.9 241.6 L133.2 248.7 L132.8 253.9 L133.3 261.8 L132.8 266.6 L132.9 270.9 L132.9 277.6 L133.4 281.7 L134.1 286.7 L133.4 291.2 M133.4 223.6 L136.8 223.4 M133.4 247.4 L136.8 247.3 M133.4 260 L136.8 259.9 M133.4 269.6 L136.8 269.4 M133.4 282.3 L136.8 282.9 M136.8 215.6 L136.2 221.6 L136.5 226.6 L136.5 231.4 L136.3 238.9 L137.4 243.1 L137.5 249.4 L137.4 255 L137.2 261.6 L136.8 268.6 L136.4 273 L137.4 280.5 L136.6 288.2 M136.8 222.5 L139.9 223 M136.8 241.1 L139.9 241.7 M136.8 258.1 L139.9 258.3 M136.8 277.4 L139.9 277 M139.9 215.6 L139.4 223.4 L140.6 231.3 L139.3 238 L139.4 245.6 L140.2 253.5 L139.5 257.7 L140 264.2 L140.5 271.2 L139.3 276.1 L139.3 283.8 L139.4 291.3 M139.9 223.9 L142.9 224.3 M139.9 246.1 L142.9 246.1 M139.9 268.2 L142.9 267.8 M142.9 215.6 L143.5 220.9 L142.9 228 L142.3 234.1 L143.1 238.3 L143.5 244.2 L142.4 250.6 L143.3 256.1 L142.3 262.2 L143.4 269.5 L143 273.9 L143.3 279.4 L142.6 284.6 L143.6 290.6 M142.9 217.5 L146.4 216.8 M142.9 235.8 L146.4 236.4 M142.9 252.5 L146.4 252.4 M142.9 274.3 L146.4 274.8 M142.9 284.3 L146.4 284.9 M146.4 215.6 L146.9 220.8 L146.8 226.5 L146.9 231.2 L145.9 235.9 L146.2 241.9 L147 248 L145.7 254.9 L146.5 260.1 L146.7 266.1 L145.8 272 L146.9 277 L146.8 282.4 L146.6 290.3 M146.4 222.7 L150.6 222.9 M146.4 236.4 L150.6 237.1 M146.4 252.4 L150.6 253.1 M146.4 266 L150.6 266.6 M150.6 215.6 L150.5 222.1 L151 226.6 L150.8 232.1 L150 236.6 L151 241.2 L151.1 245.9 L150.7 251.4 L150.8 256.8 L150.5 261.1 L150.1 268.9 L150.3 275.5 L149.9 280.7 L151.2 284.8 L151 292.1 M150.6 223.9 L154.6 224.6 M150.6 235.2 L154.6 235.4 M150.6 251.7 L154.6 251.8 M150.6 274.7 L154.6 275.2 M154.6 215.6 L154.8 220.1 L155 226.8 L155.1 233.2 L155.2 238.5 L154.7 244.1 L154.9 251.7 L154.2 256.9 L154.8 262.2 L155.2 270.2 L154.5 275.8 L154.3 283.1 L153.9 288.7 M154.6 218.3 L158.6 218.3 M154.6 237.7 L158.6 237.8 M154.6 252.1 L158.6 252.8 M154.6 270.5 L158.6 269.9 M154.6 280.5 L158.6 281.2 M158.6 215.6 L158.7 223.3 L158 228.5 L158.2 233.6 L159.1 241.3 L158.1 248.4 L158.3 253.3 L158.1 261.1 L158.8 268.3 L159.2 274.5 L158.6 279.5 L158 284.2 L158.3 288.3 M158.6 217.7 L161.8 217 M158.6 241.6 L161.8 241.2 M158.6 263.9 L161.8 264.3 M158.6 283.9 L161.8 284.2 M161.8 215.6 L162.1 223.1 L162.1 229.4 L161.9 236.2 L161.3 242.3 L161.8 249.6 L161.3 253.9 L161.4 261.4 L162 267 L161.5 274.4 L161.7 280 L162.3 284.1 L162.4 288.2 M161.8 218 L165.4 217.4 M161.8 239.7 L165.4 240.2 M161.8 252.2 L165.4 252.3 M161.8 268.3 L165.4 268.7 M161.8 280.1 L165.4 280.6 M165.4 215.6 L166 222.4 L165.3 230.2 L165.9 237.6 L164.9 243.9 L166 250.4 L165.6 255.6 L165.6 263.2 L165.6 267.3 L165.9 272.4 L165.2 279 L165.6 286.6 L165.9 292 M165.4 224.6 L168.7 225.3 M165.4 246.9 L168.7 247.1 M165.4 266.4 L168.7 266.5 M165.4 283.3 L168.7 284 M168.7 215.6 L169 219.9 L168.8 225.9 L168.4 232.3 L168.1 237.1 L169.3 244.2 L168.2 251 L169.2 258.9 L168 265 L168.9 272.4 L168.1 278.8 L168.1 285.8 L168.2 291.7 M168.7 219.8 L171.9 220.5 M168.7 240.1 L171.9 240.6 M168.7 253.5 L171.9 253.4 M168.7 271.6 L171.9 270.9 M171.9 215.6 L172.2 223.5 L171.6 231 L172.3 237.7 L171.8 244.5 L171.2 249.2 L172.5 256.8 L172.2 261.9 L172 267.5 L171.6 274.9 L171.5 281.4 L171.2 287.4 M171.9 219 L174.9 218.6 M171.9 241.7 L174.9 241.1 M171.9 262.1 L174.9 261.4 M171.9 285.9 L174.9 285.3 M174.9 215.6 L175.5 220.4 L175.5 227.1 L174.4 233.1 L174.9 238.5 L174.5 246.4 L175.4 251.4 L175.6 255.9 L175 261.1 L175.5 267.7 L175.4 272 L175.2 276.7 L175.3 280.8 L174.5 285.6 L174.7 289.7 M174.9 219.6 L178.1 220.3 M174.9 237.7 L178.1 237.4 M174.9 261.5 L178.1 261 M174.9 273.7 L178.1 274.5 M178.1 215.6 L178.8 222.3 L178.7 226.6 L178.4 233.4 L177.6 240.8 L177.6 245.6 L178.2 251.5 L177.9 257.6 L178.6 264.6 L177.5 271.6 L177.7 276.3 L178.2 281.2 L178.3 286 L177.9 291.4 M178.1 223 L182.3 223.7 M178.1 234.8 L182.3 234.6 M178.1 258.6 L182.3 258.1 M178.1 268 L182.3 267.5 M182.3 215.6 L182.9 222.5 L181.7 228.5 L182.6 233.7 L181.8 239.3 L182.3 244.8 L182.2 250.2 L181.7 254.8 L182.6 261.9 L181.8 267.6 L182.4 272.8 L182.3 280.4 L182.4 288.2 M182.3 218.2 L186.4 218.4 M182.3 236.2 L186.4 236.4 M182.3 256.1 L186.4 255.3 M182.3 271.7 L186.4 272.1 M182.3 282.7 L186.4 282 M186.4 215.6 L186.3 220.7 L186.6 226 L186.2 230.7 L186.4 237.4 L187 245.2 L186.1 250.2 L186.4 256.4 L186.9 261.9 L186.3 266.7 L186.9 271.1 L187.1 277.5 L186.7 282.1 L185.7 288.5 M186.4 224 L190.4 224.6 M186.4 234.2 L190.4 234.9 M186.4 255 L190.4 255.1 M186.4 272.1 L190.4 271.7 M186.4 282 L190.4 281.9 M190.4 215.6 L190.4 220.4 L190.7 225.6 L191 233.4 L190.3 238.6 L190.4 242.6 L190.9 250 L190.3 254.3 L190.3 258.6 L190.1 266.2 L191 273.6 L190 280.9 L191 288.6 M190.4 225.6 L194.4 224.8 M190.4 234.6 L194.4 234.3 M190.4 251.4 L194.4 251.3 M190.4 261.8 L194.4 262 M190.4 280.8 L194.4 281 M194.4 215.6 L194.7 221.8 L194.3 226.1 L193.9 230.6 L194.2 237.6 L194.1 243 L193.9 249.4 L193.8 255.9 L193.9 263.7 L194.5 270.8 L194.2 276.5 L194.8 281.9 L194.5 288" stroke="#e01212" stroke-width="0.78" fill="none" opacity="0.95"/>
<ellipse cx="185.6" cy="238.6" rx="3" ry="2" fill="#ff1a1a"/>
</g>
<text font-size="6.2" font-family="'Liberation Serif', serif" fill="#fff" font-weight="bold" x="127" y="223.5">(f3)</text>
<text font-size="4.7" font-family="'Liberation Sans', sans-serif" text-anchor="middle" fill="#f4f4f4" x="183.6" y="282.4">100 μm</text>
<line x1="176.4" y1="284" x2="190.8" y2="284" stroke="#f4f4f4" stroke-width="0.7"/>
<g clip-path="url(#cp03)">
<path d="M217.1 223.8 C219.4 225.6 220.4 228 220.8 230.5 C222.4 234 223.8 238 224.5 241.6 C225.4 246 226.2 249.6 227.2 252.7 C228.6 256.6 230.6 260 232.8 262.9 C230.2 263.6 227.8 264 225.4 263.6 C225.4 267 223.6 270.4 221.7 273 C219.6 273.6 216.6 274.6 214.5 275.8 L214.2 286.4 L213 286.4 L213.2 275.8 C212.4 275 211.6 274.4 210.6 274 C208 272.6 206 271 205.4 269.3 C205.6 267 205.4 265 205 262.9 C202 262.8 199 261.8 196.2 260.4 C199.6 258.6 202.4 256.4 204.1 253.6 C206.4 249.8 207.8 245.6 208.8 241.6 C210 237.6 211.4 233.6 212.5 230.5 C213.6 227.8 215 225.4 217.1 223.8Z" fill="#4e8e2f"/>
<path d="M217 226 C216 245 214.6 262 213.8 275 M214.6 262 C210 262 205 261.6 199 260.4 M214.8 262 C220 262.6 226 263 231 262.8" stroke="#86b860" stroke-width="0.5" fill="none"/>
</g>
<text font-size="6.2" font-family="'Liberation Serif', serif" fill="#fff" font-weight="bold" x="195.4" y="223.5">(f4)</text>
<text font-size="4.7" font-family="'Liberation Serif', serif" text-anchor="middle" fill="#f4f4f4" font-weight="bold" x="230.6" y="282.4">1cm</text>
<line x1="226.6" y1="284" x2="234.6" y2="284" stroke="#f4f4f4" stroke-width="0.7"/>
<g clip-path="url(#cp04)">
<rect x="237.8" y="216.6" width="64.6" height="69.6" fill="#0b0000"/>
<path d="M256.7 224.6 Q256.9 225.8 257.2 222.4 Q256.9 221.6 256 220.5 Q256.2 221.8 255.2 218.5 M277.4 255.9 Q277.6 254.8 279.2 254.1 Q279.5 254.3 281.1 251.3 Q281.3 250.4 283 250.2 Q283.2 250.6 283 246.4 Q283.9 246.3 283 243.1 Q282.3 242.1 285.6 241.8 M287.5 219.5 Q286.9 221 283.8 220.6 Q284.6 219.6 283 223.5 Q283.5 224.3 282.4 225.5 Q281.8 226.1 280.5 229.3 Q280.4 230.3 278.3 231.9 Q278.8 230.6 275.3 231 M282.2 260.6 Q282.7 259.1 284.7 258.9 Q283.5 257.6 286.5 257.3 Q285.7 257 288.8 257.3 Q288.7 257.4 290.1 259.1 Q291.2 258.4 288.6 262.9 Q289.7 264.2 288.1 265.7 M245 226.4 Q244 225.7 249 227.2 Q249.3 226.6 251.5 224.9 Q252.8 225.4 250.9 220.8 Q252 222.2 252.4 218 M280.8 254.2 Q279.5 252.9 281.2 257.8 Q280.7 256.4 283 259.3 Q281.8 258.9 285 258 Q285.3 257 283.9 254 Q283.5 252.8 281.7 252.2 Q281.6 252.1 281.8 247.7 M240.6 221 Q240.7 220.1 238.7 224.2 Q239.3 225.5 235.9 223.9 Q236.3 222.6 233.9 221.9 Q235.2 221.5 234.4 218.6 Q234.4 219 232.5 215.8 M276.3 270.8 Q277 270 279.3 268.2 Q277.9 266.7 281.5 266.3 Q282.1 267.7 282.4 263.8 Q283.8 265.2 283.1 259.6 M259.4 229.6 Q260.9 229.9 261.2 232.3 Q260.7 232.7 265.3 231.1 Q264.9 231.7 267.2 232.3 Q267 232.7 271.3 231.5 M240.7 282.3 Q241.3 281.3 238.8 278.3 Q240 279.3 236.5 277.9 Q237.9 278.4 233.5 280.7 Q232.4 279.3 232.1 283.8 Q232.2 285.1 228.5 283.5 Q229.5 282.6 224.3 283.9 M251.8 234.9 Q250.7 236.1 253.8 237.2 Q254 238.4 256.5 238.7 Q256.5 238.8 260.6 240 Q260.4 239.1 262.5 240.7 Q261.5 240.7 264.9 237.5 M283.8 254 Q284 253.2 281.7 254.8 Q281.7 255 279.4 258 Q279.2 258.3 275.2 259 Q275.8 258.9 272 259.8 Q273.4 260.4 268.9 260.3 Q268.2 260.5 265.9 257.2 M298.6 274.6 Q299.1 274.4 300.9 276.1 Q299.8 276.9 303.6 275.7 Q303.2 274.9 305.6 278.7 M244.1 247.6 Q245.5 248.6 243.2 244.5 Q243.2 244 240.3 243.3 Q241 241.8 237.7 244.3 M272.3 245.6 Q273.6 244.4 275 246 Q276.1 244.8 275.8 248.4 Q274.8 249.2 279.2 251 Q279.7 252.4 279.5 255.2 Q279.6 255.1 280.6 258.3 M256.9 233.9 Q258.2 234.3 257.2 231.7 Q258.2 230.4 258.9 230.3 Q258.4 230.5 261.9 231.2 Q260.8 231.2 262.4 233.8 M250.9 221.5 Q251.3 221.6 255.2 222.3 Q255.7 221.7 257.8 220.6 Q256.4 219.2 262.2 221.6 M269 284.6 Q269.9 284.4 268.2 282.5 Q267.9 282.5 266.7 278.7 Q266.3 279.7 267.3 274.2 Q267 273.8 269.5 271.4 M238.5 223 Q239 222.7 240.5 223.6 Q240.8 224.2 244.8 224.8 Q244.1 223.3 246.3 222.9 Q247.8 222.3 247.2 220.2 Q246.3 219.2 243.9 217.6 M257.5 219.7 Q256.2 220.6 259.3 223.2 Q258.9 222.6 262.7 223.8 Q264.1 224.8 264.6 224.9 Q265.5 225.2 268.5 223.3 M286.5 265.9 Q285.1 266.9 283.4 264.1 Q284.1 265 283.4 260.5 Q283.4 261.5 280.7 258.5 Q280.9 259.7 280.1 254.5 Q279.2 253.1 281.2 251 M243.8 239.8 Q244.2 240.3 246.3 242.4 Q247.1 243.1 247.7 243.8 Q248.2 242.5 250 246.2 Q248.7 245.5 250.5 248.8 Q251.2 250.2 249.4 251 Q249.3 251.6 248.2 253.7 M286.6 258.4 Q287.1 259 285.5 255.8 Q285.4 255.8 285.3 253.5 Q284.4 253.5 287.3 252.5 M282.7 234.3 Q282.2 233.1 281.1 231.4 Q279.8 231.4 279.6 229.1 Q279.3 230.3 282.5 225.7 M297.7 219 Q298.7 219 297.3 221.3 Q296.5 222.5 293.8 222.7 Q292.3 222.7 292 223.6 Q290.9 223.1 289.6 225.1 Q288.1 225.8 287.5 228.6 M291.5 222.3 Q291.1 222 293.8 223.8 Q293.4 223.6 292.8 227.1 Q291.6 228.1 293.3 229.2 M254.1 281.5 Q254.9 282.4 254.6 284.3 Q255.4 284 255.3 286.2 Q254.4 285 253.3 289 Q253.7 287.9 250.4 288.4 Q251.6 288.6 249 285.5 M246.3 243.7 Q245.6 244.2 243.1 246.7 Q242.8 245.8 242.1 250 Q243.3 250 243.5 252.1 Q245 251.9 247.6 253.2 Q246.4 252.7 249.5 251.7 M241 231 Q240.7 230.7 237.6 232.9 Q237.1 231.5 234.9 234.1 Q233.8 234.1 232.6 237.9 Q231.8 237.2 229.4 240.6 M251.6 242.6 Q250.2 241.2 248.1 240.4 Q248 240.6 246.2 236.6 Q247.5 237.6 243.3 237.1 Q242.5 236 240 234.2 Q240.5 235.5 236.7 234.7 M283.6 260.6 Q282.1 259.5 280.3 258.4 Q280.9 259.8 278.8 257 Q278.6 257.8 277.3 254 Q278.6 253.1 274.5 253.9 Q273 254 271.2 256 Q270.6 257.1 269.1 254.3 M251.2 251.8 Q250.6 250.4 250.9 248.1 Q250.6 247.3 250.6 244.4 Q249.8 243 252.1 240.3 M257.7 244.1 Q258.7 242.8 254.9 244.5 Q255.7 243.6 252.5 244.9 Q253.6 243.7 249.9 245.5 Q251.1 245.5 246.4 245.2 M296.3 217.7 Q296.6 217.4 294.6 218.8 Q294.5 219.4 292.1 218.8 Q290.9 217.8 290.1 219.9 Q290.2 219.8 289.2 223.4 Q290.2 224.9 290 227.2 Q288.8 225.9 290.9 229.3 M263.2 277.9 Q262.6 278.8 259.3 277.6 Q258.4 277.7 257.3 280.8 Q258 280.7 256.1 283.3 Q256.5 283 254.3 285.2 M260.2 247.3 Q261.4 246.8 259 243.6 Q259.4 242.9 255.6 240.8 Q255 239.3 254.7 238.2 M285.9 280.1 Q285.8 281.5 283.5 281.1 Q282.8 280.9 281.4 279 Q280.4 279.9 278.3 276 M284.7 273.3 Q284.3 274.2 283.9 270.7 Q284.6 269.9 281.4 270.2 Q281.6 269.7 280.2 272 Q281.7 271.2 276.2 270.8 M240.5 220.6 Q240.4 221.8 239 222.4 Q239.8 223.1 238.9 225.7 Q238.2 225 237 227.7 Q236.9 226.8 236.7 230.4 Q238 229.4 238.2 232.6 Q237.5 232.7 240.8 232.3 M278.7 220.9 Q279.7 221.9 277.7 223.9 Q277.1 222.8 275.7 224.3 Q275.9 225.6 273.3 228 M260 276.5 Q258.5 276.9 256.6 275.1 Q255.2 274.6 254.9 272.8 Q253.5 273.5 250.5 273.9 Q251.5 273.6 247.8 270.9 Q246.5 269.5 244.7 269.2 M268.3 248.7 Q268.4 249.2 265.9 249.1 Q267.4 249.6 263.5 250.1 Q264.2 251.3 261.8 251.4 Q262.6 252.3 260.4 252.9 Q260.2 254.3 257.8 254.3 Q256.6 253.1 255.9 255.8 M273.9 240.1 Q274.3 241.3 270.8 238.6 Q270.4 238.6 267.9 240.7 Q268 241.9 267.8 243.4 Q268.7 244.8 270.5 245.2 M248.1 222.8 Q248.5 221.6 250.5 220.2 Q251.7 220.6 254 219.1 Q254.4 218.2 256.9 221.2 Q255.5 222.5 259.8 223 Q258.7 224.5 262.5 222.1 Q263.7 223.1 264.7 223.3 M280.2 262.1 Q280.6 261.5 278 264.6 Q277.8 265.1 276.3 267.6 Q274.9 268 275.2 270.5 Q276 271.3 274.3 272.9 Q274.2 271.8 273.7 275.3 Q272.5 275.1 275.7 277.6 M269.3 216.6 Q269.9 215.3 270.3 214 Q270.8 214.8 274 211.8 Q274.3 212.4 273.6 209.7 M242.2 223.2 Q241.2 224 246 225.1 Q245.6 225.9 246 227.2 Q245.3 228.2 249.3 230 Q250.5 229.1 252.4 229.2 Q251.9 227.8 254.6 226.8 M247.1 225.3 Q248 224.2 249.1 226.7 Q248.7 227.8 251.8 229.1 Q253 227.9 254.1 231.6 Q253.8 232.5 252.2 234.7 Q252.4 234.3 252.4 239.1 M286.5 245.7 Q285.9 247.1 289.2 247.5 Q290.4 248.2 289.4 251.8 Q288.7 252.2 287.9 253.9 M263 240 Q261.6 238.5 266.4 238.6 Q265.9 237.8 268 237 Q267.1 237.4 270.9 235.1 Q272.2 234.3 272.8 233.7 Q273.2 234.8 272.8 231.5 Q272.1 230 274.9 229.3 M278.4 254.4 Q278.4 253.4 275.8 256.5 Q274.4 255.5 276.7 258.5 Q275.5 258.8 280.8 259.7 Q280.5 259.7 282.7 261.2 Q282.5 261.6 284.5 264.4 Q284.9 265.9 285.5 266.3 M283.8 248.3 Q283.7 249 282.1 244.8 Q280.9 244 280.8 242.6 Q281.5 243.2 278 243.2 Q277.3 243.3 275.1 240.7 Q275.2 240 271.7 238.6 Q270.9 239.8 269 235.1 M235.8 232.5 Q235.3 233.6 232.4 234.4 Q233.7 234.8 230.9 236.5 Q232.4 236.4 227.6 238.1 Q228.7 237.9 224.2 236.5 M283.8 255 Q284 254 283.5 258.5 Q283.9 257.4 285.6 259.4 Q284.2 258.3 285.2 263.2 Q283.9 261.8 284.2 265 M292.7 268.9 Q293.3 268.6 290.3 272 Q288.9 273.3 290.3 274.5 Q289 275.2 286.8 276.3 M277.5 248.2 Q276.8 247.8 280.3 249.1 Q281 250.3 280.6 251.2 Q280.5 250.5 278.8 254.2 Q277.4 254.2 275.1 255.7 M241.4 247.6 Q241.7 247 244.1 250.7 Q243.5 251.5 246.6 252.8 Q245.4 253.4 249.2 251.6 Q249.5 252.9 253.3 253.2 M269.6 255.6 Q268.6 256.9 268.2 257.7 Q269.7 257.9 265.2 258.7 Q264 260 264.5 261.5 Q264.3 261.9 260.9 262.7 M259.9 235.6 Q259.1 235.5 256.9 238.5 Q257.7 239 253.9 241 Q252.9 242 252.6 243.5 Q251.6 243.3 249.5 245.8 M287.1 255.6 Q287.1 255 288.6 259.1 Q288.9 259.8 287.5 263 Q287.9 262.6 283.8 263.3 Q283 264.7 280.6 266.4 Q281.1 265.5 278.5 265.2 Q277.9 264.6 276.3 266.1 M253.3 221.5 Q251.9 221.2 254 218.7 Q254 219.1 257.2 216.7 Q257.5 216.4 259 215.2 Q258.8 215.4 263.3 215.1 Q262.5 215.7 265.8 216.8 M294.3 269.8 Q294.2 269.2 294.8 266.2 Q294.6 267.1 295.9 264.2 Q295.1 264 299 262.4 Q298.7 263 301.8 260.3 M297.7 226.9 Q299.1 225.5 295.2 224.9 Q296 226.2 293.5 223.2 Q293.7 223.3 292 221.5 M283.3 250.8 Q284.6 249.9 281.5 248.4 Q282.3 247.2 281 245.4 Q279.7 244.7 283.6 244.1 Q283.3 243.9 285.1 242.7 Q284.4 241.9 287.9 242.1 M284.9 281.8 Q284.8 280.8 284.4 277.5 Q285.3 276.5 286.2 276.3 Q287.2 275.2 290 275.5 Q290.8 275.3 293.9 276.5 M302.1 268.8 Q301.4 268.4 298.6 266.6 Q297.7 265.1 295.6 266.8 Q294.8 266.2 293.2 265.5 Q293.6 266 290.4 264.2 Q291.5 262.9 286.1 263.8 Q287 262.8 283.6 260.4 M291 259.6 Q290.4 259.9 292.7 258.2 Q291.8 258.1 296.4 256.4 Q296.1 256.5 298.9 257.1 M276 263.6 Q276.9 264.6 280.1 264.8 Q280.2 265.5 283.3 263 Q283.5 262.3 286.7 260.4 M250.6 223.7 Q251.2 223 246.4 224.1 Q247.1 223.1 244.4 226.9 Q244.4 226.3 243.8 230.6 M266.3 244.5 Q266.7 243.1 268.2 242.4 Q269.7 243.3 266.6 238.9 Q267.4 237.8 263.4 238.7 M249.2 243.8 Q249.1 243.8 248.7 246.6 Q248.5 246.4 246.8 248.3 Q246.2 249.3 243.4 250.4 M262.1 250.2 Q263 249.7 258.5 250.9 Q258.8 251.3 256.4 252.6 Q257.1 253.8 254.3 252.5 Q253.7 251 252.2 252.1 Q252.5 252.6 248.7 254.6 M288.1 279.7 Q288.4 280.2 286.2 276.4 Q286.1 277.2 282.7 275.4 Q281.3 276.2 280.9 277.1 Q280.5 278.1 277.4 276 M288 254.4 Q286.5 254.6 289.4 255.9 Q289.4 256 291.7 259.5 Q291.5 260.1 290.6 263.3 Q291.2 263.6 290.6 265.5 Q289.5 266.3 287.1 266.4 M271.9 219.6 Q270.4 220.1 268.9 219.2 Q268 218 268.2 215.1 Q268.4 214.9 267.6 212.4 Q267.2 213.2 269.4 208.5 M281.8 224.1 Q281.7 225.4 283.2 220.6 Q283.9 219.2 282.1 216.3 Q283.1 215.1 278.5 216.1 Q277.5 217.2 275 217.7 Q274.6 218 273.1 218.7 M264.5 262.7 Q264.8 262.5 267.5 264.6 Q268.9 265.5 271.4 265.7 Q270 267.1 273.8 266.8 M282.3 273.7 Q281.8 273.5 278.9 274.3 Q279.5 274.7 276.9 272.2 Q276.2 270.7 278 268.3 M252.6 244.3 Q253.8 245.8 250.2 244.3 Q251.1 244.4 247.6 247.8 Q247.7 248 244.4 248.5 M267.6 241.3 Q267.3 241.9 267 239.2 Q265.5 238.9 269.6 236.9 Q269.2 235.6 272.3 235 Q271.6 236 274.4 232.5 M256.5 250.3 Q257.1 249.9 258.7 251.5 Q258.7 250.4 261.1 253.2 Q260.7 252.1 264.9 250.9 Q263.9 251.2 268.8 250.1 M258.1 251.3 Q258.3 251.6 261.5 248.8 Q260.8 247.6 262.3 244.6 Q262.6 243.5 262.4 241.1 M291.8 238.2 Q292 239.3 292.8 236.3 Q294 235 294.2 232.2 Q293.1 233.5 295.9 229.7 Q296.3 231.1 295.8 226.3 Q295.6 225.3 297 223.5 Q296.2 222.2 301.5 223.8 M252.1 239.2 Q253 239.8 254.1 239.7 Q252.8 238.6 257.7 242.4 Q258.2 241.8 258.8 246.6 M274.8 268.6 Q274.4 268.3 277.6 269.6 Q278.8 270.8 281.6 270.3 Q282.5 269.3 285.8 270.7 Q286.2 270.3 287.1 272.5 Q288.5 273.8 286.9 276.4 M260.8 215.2 Q259.7 214.8 263.4 215.2 Q262.5 215.1 266.9 213.6 Q265.9 213.4 269.5 215.3 Q269.7 214.7 271.6 215.2 Q270.4 215.1 273.5 216.9 M267.4 224.7 Q266.3 225.5 263.4 223.8 Q262.7 223 263.1 220.7 Q262.9 219.7 261 218.6 Q259.9 219 261.3 214.2 M264.7 250.5 Q264.8 249.5 263.3 254.3 Q262.5 254.5 262.6 258.5 Q263.4 259.2 264.3 260.3 Q263 260.6 266.5 260.3 Q265.6 260.7 269.2 260.3 Q269.4 259.4 272.6 262.4 M239.2 266.8 Q238.6 267.2 236.8 268.2 Q236.5 269 235 266.9 Q234.2 267.1 231.5 268.1 M301.4 216.3 Q302.8 215 298.7 212.9 Q299.7 214.1 296.5 211.6 Q296.7 212.8 295.1 207.6 M254.5 221.4 Q254.6 220 254.2 218.1 Q253.3 216.9 256.5 217 Q255.1 215.8 258.4 213.4 Q256.9 213.7 260.5 212.1 Q261.1 210.9 263.6 210.9 Q262.2 209.7 266.7 213 M268.2 250 Q268.3 249.1 271.2 252.9 Q271.1 252.6 274.8 253.1 Q275.3 253.7 275.5 255 M275.2 257.4 Q274.4 256.9 276.8 259.7 Q277.7 260.9 280 262.8 Q278.6 262.9 279.9 266.9 M299.6 281.4 Q298.4 280.5 298.7 283.3 Q299.2 282.5 298.8 285.8 Q300.3 285.6 299.5 288.7 Q301 287.3 303.9 289.3 Q305.2 289.7 305.6 292.5 Q304.2 291.3 306.1 296.5 M243 214.6 Q243.5 213.5 244.7 216.8 Q244.7 216.1 246.3 220.9 Q245.3 219.7 247.9 223.8 M243.7 234.9 Q244.4 234.3 242.2 238.5 Q241.4 238.1 241.2 242.1 Q242.4 241.5 240 244.7 Q238.6 244.2 238.7 248.5 Q240.1 248.2 240.2 251.6 M297.3 225.4 Q296.6 226.8 300.5 224.9 Q299.4 223.6 303.5 222.4 Q302.2 222 306.5 223.2 Q305.3 222.4 310.3 223.7 Q309.3 223.2 311.3 227.4 M258.6 262.6 Q259.3 263.4 258.6 259.3 Q259.5 260 260.6 256.8 Q261.7 255.3 262.9 257.2 Q262.9 258.6 265.1 259.9 Q266 261 266.6 262.5 M275.9 241.2 Q275.4 241.2 274 243.3 Q272.5 244.1 271 245.4 Q270.4 245.5 268.7 243.6 Q268.3 242.7 268.3 240.5 Q269.7 240.8 270.2 238.4 Q271.6 239.5 270.3 235.6 M299.4 215.5 Q298.9 215.8 301 218.4 Q301.6 218.2 303.4 221.7 Q303.9 221.5 304.8 223.2 Q304 223 306.8 222.3 Q308.1 221.3 310.1 220.8 Q309.8 221.6 311 217.9 M295.6 256.2 Q297 257.2 293 255.3 Q294.1 255.9 290.8 254.5 Q292 254.2 289.3 250.3 M245.4 234.6 Q245.6 233.5 243.2 235 Q243.9 235.6 239.7 234.9 Q240.3 235.1 239 236.8 Q237.8 235.3 236.1 237.3 M236.8 226.3 Q236.8 225.3 240.5 224.3 Q239.5 224.4 241.6 221 Q240.3 222.3 242.2 219 Q242 219.9 243.2 216 Q243.4 214.9 245.5 213.1 M250.9 233.6 Q249.6 232.7 252.7 237.6 Q251.9 237.3 252.9 239.6 Q251.6 238.8 251.8 241.4 M249.9 225.2 Q250.8 224.6 245.6 224.9 Q245.6 226.3 241.5 223.5 Q242.1 222.6 238.7 224.5 Q238.6 225.3 235.8 227.6 M251.3 226.2 Q250.9 225.8 253.6 229.7 Q253.1 230.1 257.2 231.8 Q258.4 232 256.7 234.8 Q256.2 234.6 257.1 238 M253.7 215.4 Q253 216.4 255.4 214 Q256.4 214.9 255.1 210.9 Q255.8 210.5 252.7 209.3 Q254.1 209.3 253.3 206.8 M250.2 246.5 Q251.6 246.6 251.6 249.2 Q250.5 249.9 253.9 251.6 Q254.9 252.3 254.5 253.7 Q255.2 252.7 253.7 255.6 Q254.3 256.5 256.6 258.1 M250.5 227.3 Q250.5 226.7 253 225.8 Q252.1 224.7 252.7 223 Q252.4 224.3 254 220.6 M287.2 277.7 Q286.8 278.6 289.5 278.3 Q288.1 278.9 292.6 281.2 Q292.3 282.5 296.2 284 Q295.5 284.3 298.7 283 M249.6 262.8 Q248.6 263.5 246.9 265.5 Q248.2 265.7 244 267.7 Q244.1 268.9 243.3 270.8 Q244.6 269.7 241.2 273.5 M286.4 261.2 Q285 260.6 289.5 263.3 Q290.7 263.1 290.2 266.1 Q290.5 265.2 288.4 270.2 M270.4 238.9 Q271.2 239.9 273 241.6 Q271.7 242.2 274.4 244.4 Q275.7 243.3 276.3 247.1 Q276.9 248 276.2 249.2 Q277.6 249.6 278 252.1 Q276.7 251.6 279.1 254.4 M262.6 228.2 Q262.6 228.8 260.2 230.3 Q259.1 230.7 261.7 233.7 Q262.3 234 261.5 236 Q260.3 235.8 263.4 239 M298.4 262.8 Q297.5 263.3 297.6 265.6 Q296.2 266.8 300.3 267.4 Q299.7 268.8 302.5 267.6 Q302.7 267 304.7 265.4 Q304.6 266.8 306.4 264.1 Q305.9 264.8 309.3 261.6 M252.7 260.4 Q251.2 261.7 254.3 257.5 Q255.6 257.9 257 255.2 Q255.9 253.7 257.5 252.6 Q256.9 251.7 260.8 250.2 Q262.1 249.2 264.8 249 Q265.5 248.5 268.4 250.8 M247.3 273.5 Q248.3 272.8 249.4 277.3 Q250.3 278.5 251.6 277.1 Q250.3 276.2 252.7 279.9 Q254.2 280.2 254.7 283.2 Q253.9 282.1 255.2 285.5 M277.8 242.7 Q277.5 241.3 280.3 242.3 Q280.4 241.2 284.4 242.7 Q285 243.8 285.5 240.9 Q286.9 239.9 284.4 239.2 Q282.9 240.1 284.4 236.2 Q284.4 236.3 286 233.2 M269.7 244.7 Q270.1 245.6 269.2 240.3 Q269.5 239.7 265.7 239.2 Q265.6 239.7 261.8 237.2 Q263 235.7 259 237.2 M247.6 262.9 Q247.7 264.2 246.5 266.1 Q246.3 265.4 246.6 268.7 Q245.7 269.5 249.6 272" stroke="#9a0c0c" stroke-width="0.45" fill="none"/>
<ellipse cx="252.7" cy="274.2" rx="1.5" ry="1" transform="rotate(171 252.7 274.2)" fill="#f81818"/>
<ellipse cx="279.5" cy="230.3" rx="1.9" ry="1.5" transform="rotate(145 279.5 230.3)" fill="#f81818"/>
<ellipse cx="280.8" cy="265.5" rx="2.4" ry="2.2" transform="rotate(150 280.8 265.5)" fill="#f81818"/>
<ellipse cx="253" cy="248.6" rx="1.4" ry="1" transform="rotate(78 253 248.6)" fill="#f81818"/>
<ellipse cx="272.7" cy="264.7" rx="1.7" ry="1.3" transform="rotate(168 272.7 264.7)" fill="#f81818"/>
<ellipse cx="284.8" cy="279.1" rx="2.6" ry="1.9" transform="rotate(48 284.8 279.1)" fill="#f81818"/>
<ellipse cx="274.3" cy="275.2" rx="2.1" ry="1.4" transform="rotate(45 274.3 275.2)" fill="#f81818"/>
<ellipse cx="281.3" cy="271.7" rx="1.7" ry="1.3" transform="rotate(119 281.3 271.7)" fill="#f81818"/>
<ellipse cx="247.2" cy="251.6" rx="1.8" ry="1.6" transform="rotate(109 247.2 251.6)" fill="#f81818"/>
<ellipse cx="298.2" cy="260" rx="2.3" ry="2.1" transform="rotate(124 298.2 260)" fill="#f81818"/>
<ellipse cx="298.9" cy="252.4" rx="1.7" ry="1.2" transform="rotate(65 298.9 252.4)" fill="#f81818"/>
<ellipse cx="272.9" cy="283" rx="2.1" ry="1.8" transform="rotate(160 272.9 283)" fill="#f81818"/>
<ellipse cx="244.6" cy="242.8" rx="1.7" ry="1.4" transform="rotate(55 244.6 242.8)" fill="#f81818"/>
<ellipse cx="277.5" cy="244.9" rx="1.4" ry="1" transform="rotate(154 277.5 244.9)" fill="#f81818"/>
<ellipse cx="241.8" cy="220.4" rx="1.7" ry="1.3" transform="rotate(25 241.8 220.4)" fill="#f81818"/>
<ellipse cx="267.6" cy="225.7" rx="1.6" ry="1.4" transform="rotate(33 267.6 225.7)" fill="#f81818"/>
<ellipse cx="247.3" cy="279" rx="2.1" ry="1.4" transform="rotate(147 247.3 279)" fill="#f81818"/>
<ellipse cx="244.3" cy="284.4" rx="1.8" ry="1.2" transform="rotate(48 244.3 284.4)" fill="#f81818"/>
<ellipse cx="251.4" cy="225.4" rx="1.7" ry="1.4" transform="rotate(3 251.4 225.4)" fill="#f81818"/>
<ellipse cx="284.4" cy="241.6" rx="2.2" ry="2" transform="rotate(54 284.4 241.6)" fill="#f81818"/>
<ellipse cx="261.8" cy="274.5" rx="1.8" ry="1.6" transform="rotate(6 261.8 274.5)" fill="#f81818"/>
<ellipse cx="289.1" cy="267.4" rx="2.2" ry="1.7" transform="rotate(173 289.1 267.4)" fill="#f81818"/>
<ellipse cx="239.5" cy="234.9" rx="2.4" ry="1.6" transform="rotate(106 239.5 234.9)" fill="#f81818"/>
<ellipse cx="271.6" cy="241.7" rx="2.4" ry="1.6" transform="rotate(156 271.6 241.7)" fill="#f81818"/>
<ellipse cx="260.9" cy="241.6" rx="1.8" ry="1.4" transform="rotate(153 260.9 241.6)" fill="#f81818"/>
<ellipse cx="259.3" cy="258.4" rx="1.9" ry="1.7" transform="rotate(3 259.3 258.4)" fill="#f81818"/>
<ellipse cx="240.9" cy="279.1" rx="1.3" ry="1" transform="rotate(167 240.9 279.1)" fill="#f81818"/>
<ellipse cx="254" cy="241.6" rx="2.7" ry="1.7" transform="rotate(157 254 241.6)" fill="#f81818"/>
<ellipse cx="282.2" cy="219" rx="2.3" ry="2.1" transform="rotate(40 282.2 219)" fill="#f81818"/>
<ellipse cx="288.3" cy="250.6" rx="1.4" ry="1" transform="rotate(36 288.3 250.6)" fill="#f81818"/>
<ellipse cx="293.5" cy="262.9" rx="2" ry="1.8" transform="rotate(91 293.5 262.9)" fill="#f81818"/>
<ellipse cx="291.1" cy="257.4" rx="2.4" ry="1.9" transform="rotate(137 291.1 257.4)" fill="#f81818"/>
<ellipse cx="254.5" cy="285" rx="2.3" ry="2" transform="rotate(39 254.5 285)" fill="#f81818"/>
<ellipse cx="286.5" cy="235.8" rx="2.2" ry="1.8" transform="rotate(84 286.5 235.8)" fill="#f81818"/>
<ellipse cx="266.6" cy="219.3" rx="1.6" ry="1.3" transform="rotate(122 266.6 219.3)" fill="#f81818"/>
<ellipse cx="291.2" cy="222.6" rx="2.4" ry="2.1" transform="rotate(79 291.2 222.6)" fill="#f81818"/>
<ellipse cx="266.9" cy="233.1" rx="2.2" ry="1.8" transform="rotate(116 266.9 233.1)" fill="#f81818"/>
<ellipse cx="258.3" cy="226.5" rx="2.1" ry="1.5" transform="rotate(135 258.3 226.5)" fill="#f81818"/>
<ellipse cx="259.5" cy="249.3" rx="2.6" ry="1.7" transform="rotate(2 259.5 249.3)" fill="#f81818"/>
<ellipse cx="297.5" cy="238.9" rx="2.1" ry="1.4" transform="rotate(92 297.5 238.9)" fill="#f81818"/>
<ellipse cx="253" cy="234.4" rx="1.5" ry="1.3" transform="rotate(102 253 234.4)" fill="#f81818"/>
<ellipse cx="274.6" cy="224.3" rx="2.4" ry="1.5" transform="rotate(7 274.6 224.3)" fill="#f81818"/>
<ellipse cx="294.1" cy="270.5" rx="2.2" ry="1.4" transform="rotate(139 294.1 270.5)" fill="#f81818"/>
<ellipse cx="289.5" cy="285" rx="2" ry="1.6" transform="rotate(46 289.5 285)" fill="#f81818"/>
</g>
<text font-size="6.2" font-family="'Liberation Serif', serif" fill="#fff" font-weight="bold" x="239.2" y="223.5">(f5)</text>
<text font-size="4.7" font-family="'Liberation Sans', sans-serif" text-anchor="middle" fill="#f4f4f4" x="290.7" y="282.4">100μm</text>
<line x1="280.8" y1="284" x2="300.6" y2="284" stroke="#f4f4f4" stroke-width="0.7"/>
<g clip-path="url(#cp10)">
<path d="M60.8 306.2 H66.6 L66.2 317.7 H61 Z" fill="#d4dadd"/>
<path d="M56.2 316.4 L54.6 311 M56.6 316.4 L57.8 310.6 M56.4 316.4 L53 313.6" stroke="#4f8f2e" stroke-width="0.8" fill="none"/>
<path d="M45 315.6 H67.4 V318.6 H45Z" fill="#9a4a24"/>
<path d="M46 318.6 H66.6 L65.2 327.9 H47.6Z" fill="url(#potg)"/>
</g>
<text font-size="6.2" font-family="'Liberation Serif', serif" fill="#fff" font-weight="bold" x="32.8" y="295.1">(f6)</text>
<text font-size="5" font-family="'Liberation Serif', serif" fill="#fff" font-weight="bold" x="33.2" y="326.2">5cm</text>
<line x1="33.4" y1="327.4" x2="37.4" y2="327.4" stroke="#fff" stroke-width="0.6"/>
<g clip-path="url(#cp11)">
<rect x="86" y="289.4" width="29.4" height="38.4" fill="#16161b"/>
<path d="M95.6 313.6 L98.6 313.4 L99 321.6 L96.4 321.8Z" fill="#c4d48a"/>
<path d="M110.4 317.2 L112.8 318.4 L112.6 321.2 L109.6 320.6Z" fill="#b4c870"/>
</g>
<text font-size="6.2" font-family="'Liberation Serif', serif" fill="#fff" font-weight="bold" x="83.4" y="295.1">(f7)</text>
<text font-size="4.7" font-family="'Liberation Serif', serif" text-anchor="middle" fill="#f4f4f4" font-weight="bold" x="114.3" y="325.6">1cm</text>
<line x1="106.3" y1="327.2" x2="122.3" y2="327.2" stroke="#f4f4f4" stroke-width="0.7"/>
<g clip-path="url(#cp12)">
<rect x="125.6" y="288.2" width="67.2" height="41.2" fill="#6a0606"/>
<ellipse cx="157.5" cy="315.3" rx="1.2" ry="1.9" fill="#1c0101" opacity="0.8"/>
<ellipse cx="126.3" cy="303.6" rx="0.8" ry="3.5" fill="#1c0101" opacity="0.8"/>
<ellipse cx="172" cy="313" rx="1.1" ry="3.2" fill="#1c0101" opacity="0.8"/>
<ellipse cx="135.4" cy="306.3" rx="0.7" ry="3.8" fill="#1c0101" opacity="0.8"/>
<ellipse cx="129.6" cy="321.9" rx="0.7" ry="3.2" fill="#1c0101" opacity="0.8"/>
<ellipse cx="148.2" cy="304.9" rx="1.4" ry="1.5" fill="#1c0101" opacity="0.8"/>
<ellipse cx="129.7" cy="325.9" rx="1.1" ry="1.7" fill="#1c0101" opacity="0.8"/>
<ellipse cx="191.9" cy="327.2" rx="0.7" ry="2.6" fill="#1c0101" opacity="0.8"/>
<ellipse cx="134.7" cy="301.1" rx="1.2" ry="1.9" fill="#1c0101" opacity="0.8"/>
<ellipse cx="172.4" cy="290.3" rx="0.8" ry="3.5" fill="#1c0101" opacity="0.8"/>
<ellipse cx="152.5" cy="305.5" rx="1.1" ry="2.7" fill="#1c0101" opacity="0.8"/>
<ellipse cx="151.4" cy="289.5" rx="1.3" ry="3.9" fill="#1c0101" opacity="0.8"/>
<ellipse cx="191.2" cy="315.5" rx="0.9" ry="2.4" fill="#1c0101" opacity="0.8"/>
<ellipse cx="172" cy="316" rx="0.7" ry="2.1" fill="#1c0101" opacity="0.8"/>
<ellipse cx="150" cy="309.3" rx="1.3" ry="2.8" fill="#1c0101" opacity="0.8"/>
<ellipse cx="127.5" cy="322.1" rx="1" ry="2.8" fill="#1c0101" opacity="0.8"/>
<ellipse cx="140.5" cy="305.8" rx="0.9" ry="3.4" fill="#1c0101" opacity="0.8"/>
<ellipse cx="132.5" cy="310.9" rx="0.8" ry="3.2" fill="#1c0101" opacity="0.8"/>
<ellipse cx="128.1" cy="299.6" rx="0.9" ry="3.1" fill="#1c0101" opacity="0.8"/>
<ellipse cx="129.1" cy="307.1" rx="0.8" ry="2.2" fill="#1c0101" opacity="0.8"/>
<ellipse cx="157.6" cy="327.7" rx="1" ry="3.9" fill="#1c0101" opacity="0.8"/>
<ellipse cx="136.9" cy="326.3" rx="0.9" ry="2" fill="#1c0101" opacity="0.8"/>
<ellipse cx="175.9" cy="325.8" rx="0.6" ry="2.2" fill="#1c0101" opacity="0.8"/>
<ellipse cx="177.4" cy="302.3" rx="0.8" ry="1.5" fill="#1c0101" opacity="0.8"/>
<ellipse cx="128.3" cy="313.7" rx="1.5" ry="4" fill="#1c0101" opacity="0.8"/>
<ellipse cx="159.4" cy="289.2" rx="0.9" ry="3.5" fill="#1c0101" opacity="0.8"/>
<ellipse cx="181.5" cy="314.5" rx="0.8" ry="2.8" fill="#1c0101" opacity="0.8"/>
<ellipse cx="157.7" cy="314" rx="0.8" ry="3.9" fill="#1c0101" opacity="0.8"/>
<ellipse cx="185.7" cy="294.9" rx="0.9" ry="3.7" fill="#1c0101" opacity="0.8"/>
<ellipse cx="144.3" cy="327.1" rx="1.1" ry="3.2" fill="#1c0101" opacity="0.8"/>
<ellipse cx="173" cy="297" rx="0.9" ry="2.1" fill="#1c0101" opacity="0.8"/>
<ellipse cx="171.5" cy="316.8" rx="0.7" ry="3.7" fill="#1c0101" opacity="0.8"/>
<ellipse cx="153.8" cy="298.1" rx="1" ry="3.9" fill="#1c0101" opacity="0.8"/>
<ellipse cx="163.2" cy="313.9" rx="1.4" ry="3.9" fill="#1c0101" opacity="0.8"/>
<ellipse cx="176.7" cy="305.4" rx="1.1" ry="3.8" fill="#1c0101" opacity="0.8"/>
<ellipse cx="178.6" cy="312.1" rx="0.9" ry="2.4" fill="#1c0101" opacity="0.8"/>
<ellipse cx="175" cy="311.4" rx="0.6" ry="3.3" fill="#1c0101" opacity="0.8"/>
<ellipse cx="186.3" cy="321.1" rx="1.4" ry="3.8" fill="#1c0101" opacity="0.8"/>
<ellipse cx="161.5" cy="320.7" rx="0.9" ry="1.7" fill="#1c0101" opacity="0.8"/>
<ellipse cx="149.3" cy="301.1" rx="1.4" ry="3.2" fill="#1c0101" opacity="0.8"/>
<ellipse cx="162" cy="313.8" rx="0.7" ry="2.8" fill="#1c0101" opacity="0.8"/>
<ellipse cx="172.7" cy="304.4" rx="0.8" ry="2.5" fill="#1c0101" opacity="0.8"/>
<ellipse cx="147.3" cy="316.4" rx="0.7" ry="1.7" fill="#1c0101" opacity="0.8"/>
<ellipse cx="146.6" cy="316.9" rx="1.3" ry="3.1" fill="#1c0101" opacity="0.8"/>
<ellipse cx="188.4" cy="303.3" rx="0.6" ry="2.7" fill="#1c0101" opacity="0.8"/>
<ellipse cx="155.4" cy="295.6" rx="1.2" ry="2.4" fill="#1c0101" opacity="0.8"/>
<ellipse cx="141.6" cy="301.7" rx="1.4" ry="1.5" fill="#1c0101" opacity="0.8"/>
<ellipse cx="149.8" cy="299.7" rx="0.8" ry="2.6" fill="#1c0101" opacity="0.8"/>
<ellipse cx="140.4" cy="326.1" rx="1.1" ry="3.2" fill="#1c0101" opacity="0.8"/>
<ellipse cx="136.5" cy="307.3" rx="1.1" ry="3.6" fill="#1c0101" opacity="0.8"/>
<ellipse cx="142.4" cy="307.1" rx="1.4" ry="3.6" fill="#1c0101" opacity="0.8"/>
<ellipse cx="140.9" cy="310.4" rx="1.3" ry="2.5" fill="#1c0101" opacity="0.8"/>
<ellipse cx="170.9" cy="315.5" rx="1.5" ry="2.9" fill="#1c0101" opacity="0.8"/>
<ellipse cx="171.3" cy="302.6" rx="1.3" ry="2.3" fill="#1c0101" opacity="0.8"/>
<ellipse cx="159.2" cy="303.1" rx="0.9" ry="1.8" fill="#1c0101" opacity="0.8"/>
<ellipse cx="140.8" cy="310.6" rx="0.8" ry="1.6" fill="#1c0101" opacity="0.8"/>
<ellipse cx="179.6" cy="300" rx="1.4" ry="3" fill="#1c0101" opacity="0.8"/>
<ellipse cx="151.7" cy="324.2" rx="1.4" ry="2.3" fill="#1c0101" opacity="0.8"/>
<ellipse cx="134.1" cy="314.6" rx="1.4" ry="3" fill="#1c0101" opacity="0.8"/>
<ellipse cx="178.3" cy="305.2" rx="1.2" ry="2.2" fill="#1c0101" opacity="0.8"/>
<ellipse cx="152.9" cy="303.8" rx="0.9" ry="2.5" fill="#1c0101" opacity="0.8"/>
<ellipse cx="179.8" cy="295.2" rx="0.8" ry="2.1" fill="#1c0101" opacity="0.8"/>
<ellipse cx="190.9" cy="309.7" rx="0.6" ry="3.6" fill="#1c0101" opacity="0.8"/>
<ellipse cx="184.3" cy="322" rx="0.9" ry="3.3" fill="#1c0101" opacity="0.8"/>
<ellipse cx="146.1" cy="293.9" rx="1.4" ry="3.6" fill="#1c0101" opacity="0.8"/>
<ellipse cx="139.8" cy="324.4" rx="0.6" ry="2.3" fill="#1c0101" opacity="0.8"/>
<ellipse cx="126.5" cy="295.2" rx="0.7" ry="3.3" fill="#1c0101" opacity="0.8"/>
<ellipse cx="145.5" cy="296" rx="0.8" ry="2.3" fill="#1c0101" opacity="0.8"/>
<ellipse cx="183.5" cy="313.2" rx="0.7" ry="3.2" fill="#1c0101" opacity="0.8"/>
<ellipse cx="161.6" cy="306.7" rx="1.1" ry="3.1" fill="#1c0101" opacity="0.8"/>
<path d="M126.8 286.2 q-0.1 6 0.2 12 M126.9 299.4 q-0.5 4.1 0.7 8.1 M127.1 309 q0.4 6.3 -0.1 12.6 M127 322.8 q-0.9 5 -0.7 10.1 M128.6 286.2 q-0.9 2.3 0.3 4.6 M128.6 308.5 q1 6.7 -0 13.5 M129 322.6 q-0.4 5.8 -0.4 11.6 M131.6 302 q1 6.7 0.2 13.3 M131.8 317.4 q0.6 2.1 0.5 4.1 M132.3 323.8 q1.2 3.7 -0 7.4 M134.5 286.2 q-0.3 4.7 0.2 9.4 M134.3 307.6 q0.6 3.3 0.2 6.5 M134.9 314.6 q-0.3 4.7 -0.3 9.5 M134.8 325.2 q-0.1 7 -0.5 14 M137 286.2 q1.1 3.6 -0.3 7.2 M137.2 294.4 q0.4 5.3 -0.7 10.6 M137.6 307 q1.2 2.5 0.3 5 M137.6 312.5 q-0.6 4.2 -0.5 8.4 M137.2 322.8 q1.1 5.2 -0.1 10.4 M140.2 286.2 q0.6 4.3 -0.4 8.7 M140.1 296.4 q0.3 5.6 0.3 11.3 M140.4 308.8 q0.7 3.5 -0.2 7.1 M140.3 318.7 q-0.2 6.5 -0.3 13 M142.1 286.2 q-0.5 2.3 -0.5 4.5 M142.6 291.1 q0.2 6.2 0.7 12.3 M142.4 312.9 q-0.7 6.7 0.7 13.3 M142.3 328.5 q0.1 4.8 0.7 9.5 M145 294.6 q-0 5.2 -0.2 10.4 M145.9 324.9 q-0.3 4.7 0.6 9.5 M149.3 286.2 q-0.7 4.6 -0.1 9.3 M149 297.9 q0.4 5.7 0.6 11.5 M148.2 311.3 q-0.9 3.8 -0.7 7.6 M148.2 321.9 q1.1 2.7 0.1 5.4 M150.9 286.2 q0.2 4 0.3 8 M150.9 296.5 q0.6 6.1 -0.1 12.2 M151 309.2 q-1 2.1 -0 4.2 M151.2 314.7 q0.1 3.6 0.8 7.3 M155 286.2 q0.4 2.3 0.3 4.6 M154.9 296.8 q0.4 2.9 0.8 5.8 M154.1 321.4 q-0.7 5.3 -0.7 10.6 M157.6 300.7 q0.5 5.4 0.8 10.7 M156.9 314 q-0.1 5.4 -0.1 10.8 M156.9 325.2 q0.3 3 -0.3 6 M160.1 286.2 q-0.7 4.6 0.7 9.2 M159.8 298.1 q0.1 5.3 -0.5 10.5 M160 309.6 q0.6 4.9 -0 9.9 M160.8 322.1 q0.3 2.8 0.3 5.6 M163.6 286.2 q-0.6 2.7 0.6 5.5 M163.3 292.4 q1.1 2.4 0.6 4.8 M164 299.2 q-0.9 4.1 -0.5 8.3 M163 308.8 q1 6.3 -0.8 12.6 M163.2 323.6 q-0.1 2.7 0.7 5.4 M166.2 286.2 q0.7 2.4 0.7 4.9 M166.9 298.9 q-0.6 2.4 0.4 4.8 M166.5 304.1 q0.6 5.3 0.6 10.6 M166.9 316 q1 6.9 0.8 13.8 M168.3 297.9 q-1 5.8 -0.8 11.7 M169.4 310.3 q1 6.7 -0.2 13.3 M168.4 325.7 q0.9 5.3 -0.5 10.5 M171.4 298.6 q0.9 3.5 -0.3 7 M171.6 306.7 q-0.9 3.6 -0.7 7.1 M171.7 324.5 q-0.4 4.3 -0.6 8.6 M175 286.2 q0.5 2.3 0.8 4.6 M174 293.2 q1.2 5.7 0.3 11.4 M174.5 306.8 q-1 2.7 -0.5 5.4 M174 315.1 q0.6 5.1 -0.2 10.2 M174.5 326.8 q-0.2 2.7 -0.5 5.4 M177.2 286.2 q-1.1 2.6 0.4 5.1 M176.7 305.2 q0.9 4.1 -0.7 8.2 M180.5 286.2 q0.2 5.2 0.1 10.5 M180.6 297.9 q0.7 5.1 -0.3 10.3 M180.1 310.3 q0.5 3.2 -0.7 6.3 M179.7 317.1 q0.1 2.9 0.6 5.8 M180 324.2 q-0.2 3.1 -0.5 6.2 M182.9 286.2 q1 6.9 0.8 13.9 M183.3 300.1 q0.7 6.6 -0.4 13.3 M182.9 315.5 q-0.1 4.8 0.3 9.6 M183 327.3 q0.9 2 0.1 4.1 M185 292.3 q0.3 6.5 -0.8 13 M184.7 306.7 q-1.1 6 0.7 12 M184.8 319 q0.1 5.3 0.3 10.7 M187.6 286.2 q-0.1 6.6 0.4 13.2 M187.6 302 q-1 5.8 0.1 11.6 M187.1 314.9 q-0.3 5.8 0.5 11.6 M187.3 328 q-0.6 5.3 -0 10.7 M190.6 286.2 q0 3.7 0.2 7.3 M190.7 303.4 q-0.8 4.6 -0.8 9.1 M191.1 315.4 q-0.1 6.5 0.3 12.9 M191 328.6 q0.3 5.8 0.6 11.5" stroke="#e01616" stroke-width="0.9" fill="none" opacity="0.85"/>
<circle cx="180.4" cy="303.6" r="0.7" fill="#ff2a2a"/>
<circle cx="179.4" cy="328.5" r="0.5" fill="#ff2a2a"/>
<circle cx="156.2" cy="301.2" r="0.8" fill="#ff2a2a"/>
<circle cx="152.3" cy="325.7" r="0.8" fill="#ff2a2a"/>
<circle cx="153.8" cy="319.6" r="0.7" fill="#ff2a2a"/>
<circle cx="133.5" cy="300.4" r="0.5" fill="#ff2a2a"/>
<circle cx="181.5" cy="304.5" r="0.6" fill="#ff2a2a"/>
<circle cx="173.8" cy="328.8" r="0.5" fill="#ff2a2a"/>
<circle cx="172.1" cy="297.6" r="0.8" fill="#ff2a2a"/>
<circle cx="175.7" cy="319.9" r="0.7" fill="#ff2a2a"/>
<circle cx="133.8" cy="323.3" r="0.5" fill="#ff2a2a"/>
<circle cx="164.6" cy="327.7" r="0.5" fill="#ff2a2a"/>
<circle cx="157.9" cy="316" r="0.7" fill="#ff2a2a"/>
<circle cx="147.3" cy="305.4" r="0.8" fill="#ff2a2a"/>
<circle cx="173.7" cy="295.4" r="0.7" fill="#ff2a2a"/>
<circle cx="182.9" cy="313" r="0.8" fill="#ff2a2a"/>
<circle cx="143.4" cy="300.1" r="0.8" fill="#ff2a2a"/>
<circle cx="142.9" cy="293.4" r="0.5" fill="#ff2a2a"/>
<circle cx="184.9" cy="322.1" r="0.5" fill="#ff2a2a"/>
<circle cx="175.4" cy="296.3" r="0.7" fill="#ff2a2a"/>
<circle cx="126.3" cy="312" r="0.8" fill="#ff2a2a"/>
<circle cx="159.5" cy="314.1" r="0.5" fill="#ff2a2a"/>
<circle cx="156.4" cy="320.5" r="0.6" fill="#ff2a2a"/>
<circle cx="175.6" cy="312.9" r="0.8" fill="#ff2a2a"/>
<circle cx="175.3" cy="300.8" r="0.8" fill="#ff2a2a"/>
<circle cx="180.5" cy="305.8" r="0.8" fill="#ff2a2a"/>
<circle cx="153.4" cy="311.9" r="0.6" fill="#ff2a2a"/>
<circle cx="156.6" cy="300.9" r="0.8" fill="#ff2a2a"/>
<circle cx="166.8" cy="313.5" r="0.7" fill="#ff2a2a"/>
<circle cx="156.8" cy="295.4" r="0.7" fill="#ff2a2a"/>
<circle cx="155.6" cy="302.4" r="0.7" fill="#ff2a2a"/>
<circle cx="134.4" cy="314.9" r="0.8" fill="#ff2a2a"/>
<circle cx="150.2" cy="294.9" r="0.9" fill="#ff2a2a"/>
<circle cx="167.2" cy="301.3" r="0.4" fill="#ff2a2a"/>
<circle cx="164.1" cy="297.2" r="0.8" fill="#ff2a2a"/>
<circle cx="173.8" cy="299.6" r="0.6" fill="#ff2a2a"/>
<circle cx="131.4" cy="297.5" r="0.7" fill="#ff2a2a"/>
<circle cx="184.9" cy="305.8" r="0.9" fill="#ff2a2a"/>
<circle cx="142.8" cy="292.5" r="0.8" fill="#ff2a2a"/>
<circle cx="151" cy="299.7" r="0.6" fill="#ff2a2a"/>
<path d="M178 288 L193 288 L193 312 L187 304 L182 296Z" fill="#0a0000" opacity="0.88"/>
<path d="M150 288 L165 288 L160 293 L153 292Z" fill="#0a0000" opacity="0.88"/>
<path d="M125.6 309 L133 311 L138 315 L134 322 L128 326 L125.6 329.4Z" fill="#f01414" opacity="0.9"/>
</g>
<text font-size="6.2" font-family="'Liberation Serif', serif" fill="#fff" font-weight="bold" x="127" y="295.1">(f8)</text>
<text font-size="4.7" font-family="'Liberation Sans', sans-serif" text-anchor="middle" fill="#f4f4f4" x="180.1" y="325.6">100μm</text>
<line x1="169.2" y1="327.2" x2="191" y2="327.2" stroke="#f4f4f4" stroke-width="0.7"/>
<g clip-path="url(#cp13)">
<path d="M207.4 300.8 C210.6 306 210.8 315 207.6 322 L207.2 328 L206.6 328 L206.6 322 C203.6 315 204 306 207.4 300.8Z" fill="#74b044"/>
<path d="M222.4 311 C224 315 223.8 321 222.6 324.6 L222.4 328.4 L222 328.4 L222 324.6 C220.6 321 220.8 315 222.4 311Z" fill="#74b044"/>
</g>
<text font-size="6.2" font-family="'Liberation Serif', serif" fill="#fff" font-weight="bold" x="195.4" y="295.1">(f9)</text>
<text font-size="4.7" font-family="'Liberation Serif', serif" text-anchor="middle" fill="#f4f4f4" font-weight="bold" x="230.6" y="325.6">1cm</text>
<line x1="226.6" y1="327.2" x2="234.6" y2="327.2" stroke="#f4f4f4" stroke-width="0.7"/>
<g clip-path="url(#cp14)">
<rect x="237.8" y="288.2" width="64.6" height="41.2" fill="#220202"/>
<path d="M270.1 320.9 Q270.2 320.2 271.8 317.5 Q272.7 317.3 274.4 317.5 Q274.8 318 276.8 320.7 Q277 319.6 277 323 Q278.1 323.1 275.4 324.9 M289 315.5 Q288.4 314.3 285.4 315.8 Q286.9 314.7 283.9 313 Q285.2 311.5 285.2 309.1 M260 287.5 Q260.2 286 257 286.2 Q256.2 285.5 254.8 285.8 Q253.5 285.2 254.3 283.7 Q254.4 284.9 256 280 Q255.5 279 255.4 277.3 M241.2 310.6 Q240.7 310.5 237.7 308.8 Q238.4 308.2 234.2 309.1 Q235.4 307.7 232.6 313.3 Q232.3 314 230.7 316.4 Q230.3 315.5 227.2 315.9 M251.8 291.9 Q251.2 293 255.7 289.8 Q254.7 289.6 257.3 287.6 Q256.6 289 259.8 286.3 Q260 287.8 262.8 284.7 M250 327.5 Q250.3 328.5 246.8 330.2 Q247.1 329 246.3 333.2 Q246.3 334.2 246.2 335.8 Q247.6 336 242.9 336.8 Q243.8 338.2 240.8 337.3 M246.2 327.8 Q247 327.2 248.2 331.9 Q248.3 331.9 250.8 334.2 Q251.4 335 254.3 333.9 Q254.3 334.1 257.3 333.3 Q256.6 334.8 259.3 332.8 M290.7 305.9 Q291.2 304.4 288.6 305 Q288 304.1 285.5 307.1 Q286.4 308.5 281.6 306.5 Q282.8 307.6 277.5 306.4 M236.8 302.9 Q238.2 302.2 237.2 305 Q237.5 306.5 239.5 308.7 Q239.6 310.2 242.5 311.8 M240.3 318.3 Q239.2 319.3 239.9 316.1 Q239.7 315.3 243.1 313.6 Q243.6 313.6 242.5 310.6 Q243.9 310.8 239.5 309.3 Q239.4 310.5 238.7 307.3 M287.6 311.9 Q287 312.8 287.8 308.6 Q287.5 308.9 291.6 306.4 Q292.5 306.2 292.4 302.7 Q293.1 303.6 291.4 299 M254.3 295.9 Q253.8 294.7 255.5 299.3 Q254.7 298 258.7 299.9 Q259.9 299.8 261.3 298.9 Q260.6 298.6 262 296.6 M256.8 310.6 Q258 311.1 252.8 311.4 Q252.1 310.5 249.4 309.5 Q249.2 308.8 248.9 305.4 Q250.2 304.5 246.1 304.3 Q246.3 303 244.1 304.5 Q243.8 303.8 241 303.4 M255.3 324.7 Q254.8 325.8 256.3 322.4 Q256.7 322 258.9 322.5 Q259.6 323.3 261.4 322.3 Q261.2 322.7 263 325.1 Q263.8 324.2 267.2 325.5 Q268.2 326.1 270.3 325 M251 327.2 Q250.7 328.7 253.8 325.8 Q252.9 324.4 257.7 323.7 Q256.9 322.3 259.7 322.3 Q258.5 321.7 259.8 319.2 M276.2 296.7 Q274.8 297.1 274.5 300.3 Q274.9 299.1 272.3 301.9 Q271.8 301.8 272.8 304.6 Q271.4 304.2 275.4 306.5 Q276.9 306.1 278.9 308.4 Q279.8 308 282.3 307.6 M288 322.8 Q286.9 323.6 290.7 321.5 Q291.6 320.1 291.1 319 Q292.6 317.9 293.6 318 M241.3 306.2 Q239.9 305 241.7 309 Q242.8 309.1 244.8 309.5 Q245.6 310.6 247.8 308.5 Q247.2 309.8 248.5 304.9 Q249 305.7 250.9 302.4 M239.6 299.4 Q240.1 300.6 241.5 303.4 Q240.3 304.2 240.6 307.3 Q240.4 308.2 237.9 309.1 Q238.1 309.8 234.5 309.5 M275.5 319.3 Q275.4 320.2 273.2 322.1 Q272.3 322.2 273.4 324.4 Q274.3 324.7 275.6 326.5 Q274.2 325.1 277.9 326.4 Q278.9 326 280.9 324.1 M237.9 309.9 Q238.7 310.5 237.9 306.6 Q239.1 308 236.2 303 Q235.6 302.3 233.6 300.7 M252.8 304.8 Q252.8 305.4 252.8 307.1 Q251.3 306.8 251 308.1 Q250.3 307.2 248 308.3 Q249.4 307.8 244.9 306.7 M267 327.7 Q266.9 326.7 267.9 323.6 Q266.8 323.7 266.9 321.2 Q266.2 320.9 266.3 318.5 Q267 319.8 264.9 314.5 Q264.4 315.1 262.9 313.4 M247.5 319.1 Q249 319.4 251.2 321.3 Q251.8 322.3 254.8 323.4 Q254.8 323.3 257.6 324.6 Q256.1 323.3 258.2 329.1 M246.1 319 Q247.1 320 244.8 316.7 Q244.3 318.1 241 316 Q242.4 315.4 237.6 315.6 M284.6 328.9 Q285.7 328.3 281.7 330 Q282.3 330.9 278.2 330.9 Q279.6 329.5 276.1 330 Q274.9 329.6 274.6 327.7 M242.5 294.5 Q242.4 295.8 244.4 290.9 Q244.3 290 248.3 289.7 Q246.9 288.9 250.6 286.1 Q251.4 286.5 253.2 283 Q252.6 282.4 254.5 280.7 M246.6 305.1 Q247.6 304.4 242.5 303.4 Q241 304.2 238.7 302.3 Q237.2 302.7 235 302.1 Q235.3 302.5 233.8 304.6 Q233.4 304 233.5 307.2 M250.2 296.1 Q251.5 295.7 248.1 294 Q248.9 295.2 248.6 290 Q247.9 290 250.2 286.1 Q248.9 285.3 252 283.2 Q252.6 283.9 254.3 281.4 Q254.1 282.7 256.3 280.3 M256.1 289.2 Q257 288.4 253.6 287.9 Q253.2 286.7 252.1 285 Q252.6 285.7 252.9 281.2 Q254.2 281.3 254.7 277.1 Q255 276.5 255 273.7 M273.3 325.8 Q272 324.9 272.6 328.1 Q272 329.5 273.9 331.1 Q274 331.4 277 331.3 Q277.4 330.8 279 332.6 Q279.1 332.4 282.2 333.5 M276.2 320.7 Q275.3 321.2 280.1 321.8 Q279.8 322.5 281.9 324.8 Q283 323.9 284.6 324.8 Q284.7 326.1 286.5 323.5 Q287.7 322.3 286.7 320.3 M267.5 298.5 Q266.6 298.5 267.2 295.6 Q266.5 295.3 269.4 294.3 Q268.5 294 271.7 295.9 Q272.5 294.9 273.6 297.5 Q274.8 299 275.7 299.6 Q275.4 300 278 301.5 M245.7 286.9 Q245.8 288.3 246.4 289.2 Q245.5 289.8 244.5 291 Q244.5 290.4 242.2 290.5 Q241.5 291.9 241.5 286.2 Q242.8 285.7 239.2 284.9 Q239.6 286.2 239.5 281.5 M284.4 299.5 Q283.3 299.4 282.7 301.4 Q282.4 300.1 283.8 303.6 Q283.9 303.3 285.9 303.4 Q287.4 303 288.6 300.1 Q288.5 300.5 290.5 300.6 M236.4 325.4 Q236.8 326.2 234.3 325.1 Q233.5 324.5 230.3 325.1 Q228.8 326.3 228.7 326.4 Q229.2 325.9 228.9 328.7 M271.3 286.6 Q272.4 287.6 273.2 287.9 Q271.8 288.5 275.1 288.8 Q274.2 290 276.5 292.7 Q276.7 293.1 277.8 296 Q277.7 294.9 278.4 298.5 Q277.2 299 279.6 301.5 M241.6 302.8 Q240.7 301.8 239 300.1 Q238 299.2 236.3 297 Q235.9 297.8 232.3 297.3 Q233.6 295.9 229.4 299.3 Q228.8 298.3 226 300 M282.7 296.1 Q283.7 297.3 286 299 Q285.8 298 285 302.4 Q285.7 302.4 286.2 305.5 M238.3 297.9 Q237 299.1 237.9 294.3 Q238.6 294.4 237.8 290.1 Q236.3 289.7 237.3 287.5 Q237.9 288.5 236.6 284.3 M255.6 304.1 Q256.9 303.3 253.1 304.9 Q252.1 306.1 250.8 306.4 Q250.3 306.9 251.3 310.8 Q251.6 312.1 252.6 313.1 Q253 313.7 253 315.6 M301.2 302.5 Q302.5 303.7 305 304.3 Q305.8 303.7 308.2 304.8 Q307.6 304 310.2 304.2 Q311.1 303 313.3 305.6 Q313.4 304.7 316.2 306.3 Q316 306.4 320.1 304.9 M249.6 307.8 Q248.6 307.7 247.8 305.7 Q247.3 304.8 244.6 305.5 Q245.7 306.6 240.7 307.3 Q241.2 306.3 239.5 310.2 M261.2 319.1 Q262.2 320.4 262.7 316.8 Q263.2 318.1 262.1 314.2 Q260.6 315.2 264 312.2 Q265.2 313.2 264.7 308.6 M247.9 320.9 Q248.5 322.4 244.1 320.7 Q245.3 321.1 241.8 322.6 Q242.1 321.5 242.2 324.9 Q241.5 324.8 245.2 325.8 Q244.2 327.1 248.7 326.7 Q248.4 326.6 251.4 323.7 M274.1 302.7 Q274.6 302.1 271.2 305.9 Q272.5 307.3 268.7 305 Q270 305 267.6 302.4 Q267.7 302.2 264.5 302.7 Q263.7 302.2 264 305.1 M252.4 311.4 Q251.8 310.4 253.2 307.4 Q251.8 307.4 249.9 305.6 Q251 304.9 250.1 301.8 Q251.5 301 253 300.6 M252 299.2 Q251.1 299.5 248.9 298.1 Q250.3 296.9 245.4 297.6 Q245.4 296.8 243.9 293.9 Q244.8 295.4 242.6 292.2 M269.7 328.5 Q271 330 271.9 330.5 Q270.9 329.6 275.6 333 Q275 332.7 275.7 336.9 Q274.3 337.1 276.5 340.6 Q275.2 339.8 275.6 344.3 Q276.1 344.4 276.9 347.1 M259.6 303.8 Q260 302.4 259.6 301.7 Q258.8 300.3 258.1 299.9 Q259.3 298.5 253.9 301.2 Q255.2 302 250.7 298.7 Q249.5 298.9 246.9 298.2 Q246 299.5 245.7 296.5 M265 293.7 Q263.7 295 262.9 293.8 Q263.4 292.6 259.7 292.4 Q259.1 292.8 256.6 289.9 Q256.3 290.9 253.4 290.2 Q253.5 289.3 250.1 290.6 M240.2 321.8 Q239.4 322.3 243.7 322.3 Q242.3 322.4 247.3 323.1 Q246.8 323 248.4 325.2 Q249.3 326.1 246.7 328.7 Q245.9 330.1 243.3 329.9 M245.5 326.5 Q245.9 326.8 242.8 324.2 Q242 325.3 240.3 323.5 Q241.7 324.3 237.3 322.4 Q236.4 322.6 234.8 319.8 M248.6 319.8 Q249 321 247.5 316.2 Q247.8 315.3 248.1 314.2 Q249 314.5 248 310.9 Q248.9 311.7 249.6 309 M246.2 300.3 Q246.3 299 247.8 298 Q247.9 298.2 250.4 298.5 Q251.3 298.2 253.1 298.9 Q254.3 300.4 254.8 302.2 M287 307.6 Q288.2 308.9 286.5 311.4 Q286.4 311 285.9 315.1 Q286.9 314.5 286.5 319.2 Q286.2 318.2 287.7 322.3 Q289.2 321.6 288.1 324.3 Q288.8 325.3 287.3 327.4 M240.4 291.5 Q241.2 292.3 242.5 290.9 Q242.1 289.9 244.4 292.1 Q245.3 292.7 247.7 293.8 Q246.4 294.3 249.9 293.4 Q249.9 293 253.8 291.4 M295.6 294.9 Q296.3 295.4 294.5 298.7 Q295.9 300 292.2 299.4 Q292.6 299.4 289.9 301.1 Q289.5 301.5 291.2 305 Q290.8 305.4 289.8 309.3 M297 316.1 Q296.2 315.4 298.3 317.6 Q297.1 316.5 301.1 317.1 Q302 317.8 302.4 315.4 Q303.2 316.5 302.9 313.4 M235.4 296 Q235.3 297.1 238.2 296.5 Q238.3 295.7 240.3 296.4 Q241.2 296.7 242.6 293.7 M287.3 313.6 Q288.4 313.7 284.2 311.9 Q285.7 311.3 283 310 Q284.1 310 279 308.4 Q279.5 308.8 275.5 310.6 M272.1 302.7 Q271.6 303.8 274.1 303.6 Q273.4 304.7 277.8 304.5 Q278.1 303.5 281.4 305.5 M251.7 293 Q252 293.6 247.4 293.3 Q248.3 292.5 245.6 296.3 Q246.6 296.7 241.6 297.3 M259.4 328.6 Q258 327.3 258.8 331.9 Q258.6 333.1 259.9 333.7 Q259.3 333.9 258.6 335.8 Q257.6 336 255.8 337.1 Q256.7 336.9 253.4 336.3 Q253 335.4 253.5 333.9 M240.4 312.9 Q241.1 311.8 241.1 316 Q241.7 316.3 240.3 318.6 Q239.2 319.8 243.6 320.6 Q242.2 319.9 244.7 322.4 Q245.4 321 245.3 324.9 Q245.9 325.8 246.9 326.6 M251.3 305.5 Q251.5 304.9 252.6 302.4 Q252.5 302.3 251.2 298.3 Q250.4 299.3 247.6 297.4 Q248.2 295.9 244.8 298.8 M282.7 317.9 Q283.2 318.8 281.9 314 Q282 315 281 309.7 Q281.4 310.7 281 306.3 M266.1 286.8 Q265.1 287.1 268.2 287.2 Q268.3 286.3 270.8 283.6 Q271.2 283.7 272 279.7 M274.4 307.9 Q274.9 307.1 276.3 306.7 Q277.6 306.1 278.5 306.4 Q278.2 307.6 282.6 308 Q283 308.8 283 311.3 M298.5 304.1 Q297.6 303.2 302.3 305.4 Q303.4 306.1 306.4 306.5 Q305.1 305.8 307.1 310.8 Q305.9 311.5 309.7 313.7 Q309 314 312.5 315.3 M282.4 298.8 Q283.4 298 279.2 300.9 Q278.8 300.6 275.7 301.6 Q276.9 300.2 273.8 303.4 Q274.7 302.4 271.5 302.5 Q272.7 301.1 269.4 302.6 Q268.2 301.4 268.4 300.3 M281.4 285.5 Q281.9 284.5 281.7 281.9 Q281.7 281.1 283.1 278.8 Q284.4 279.5 283.4 276.7 Q283.5 277.5 279.7 274.3 M247.7 293.6 Q249 293.6 248.5 295.5 Q248.9 296.8 251.5 298.1 Q251.3 296.7 251.3 300.8 Q252.1 300.2 254.5 302.9 M271.5 319.9 Q270.5 318.8 274 322.9 Q275.1 323.8 274 325 Q275 324.2 272.7 326.8 Q271.4 326.7 268.8 326.6 Q268.4 327 267.7 324.5 M293.8 322.5 Q292.9 322.3 295.4 324.6 Q295.5 325.3 298.5 323.5 Q298.5 324 299.4 320.4 Q300.4 319.4 299.6 316.2 Q300.1 315 301.8 312.5 M253.1 316.1 Q253.4 317.2 255.9 318.6 Q255.7 319.6 258.4 317 Q257.8 316.1 262 316.2 M299.7 286.3 Q298.4 285.1 298.6 287.9 Q298.7 286.9 298.3 290.2 Q298.4 291.1 299.7 292 Q298.6 291 299.4 294 M261.9 289 Q262.6 289.3 264 288.8 Q263.3 290.1 267.5 290.5 Q267.3 290.9 267.6 293.8 Q266.8 292.7 266.7 297.3 M281.9 308.5 Q283.2 309.7 282.8 306.4 Q282.9 306.5 285.7 306.1 Q285.3 306.2 288.8 306.3 Q290.2 307.8 291 305.3 Q291.7 304.3 293 306.9 Q291.8 305.9 295.2 308.6 M244.6 298.8 Q244.7 298.6 245.9 296.2 Q246.9 295.5 244.2 294.5 Q245 293.9 242.6 292.6 Q242.9 292.2 242.7 290 M278.2 328.3 Q278.4 328.8 275.7 327.2 Q276.7 326.8 273.8 328 Q273.7 329.2 271.5 329.8 Q272.6 329.4 267.9 331.7 Q267.8 331.1 264.6 332.1 M249.6 304.4 Q248.9 305.3 249.8 307.6 Q250.1 307.7 248.5 310.8 Q247.9 310.3 251.2 314.4 Q251.8 315.2 255.6 314.1 Q254.6 313 258.2 312.1 Q258.8 311.4 257.9 310 M272.5 313.5 Q272.9 313 269 314.5 Q269.9 314 266.3 313.2 Q266.9 312.6 262.7 311.6 Q262.2 311.7 260.3 312.4 Q260 313.1 258.3 309.4 Q258.4 310.3 254.9 309.8 M274.1 307.5 Q272.9 306.1 278.1 309.3 Q278.2 307.9 281.8 309.2 Q282.4 309.7 284 309.9 Q284.9 308.6 288.2 311.3 M291.1 300.5 Q292.5 300.5 295 299.4 Q296.4 299.8 296.2 295.7 Q297 295.2 298.4 294.3 Q298.4 294.7 298.4 292.3 M281 314.5 Q281 316 280.1 312.8 Q278.7 314.2 281.6 310.7 Q282.3 310.9 282.3 308.4 Q282.6 308.6 283.2 304.2 Q284.2 304.7 285.4 304 Q284.9 305.1 289.2 304.8 M267.2 326.9 Q266.4 326.6 266 329.1 Q264.6 327.7 265.9 331.5 Q266.3 330.1 269.3 333.7 Q269.9 332.2 271.4 336 Q272.1 335.9 274.6 338.3 Q275.2 338.9 276.5 340.4 M289.3 305.4 Q289.4 305.1 287.3 305.9 Q288 307.3 287 309.2 Q287 310.6 285 309.7 Q285.4 308.9 284.2 312.3 Q283.6 312.7 286.1 315 M259.6 310.9 Q259.3 310.8 256.1 311.8 Q256.1 313.3 254.3 315.9 Q253.9 316.5 253.2 320.1 Q253.2 321.5 254.2 323.6 Q254 324.4 254.5 326.6 Q253.1 327.2 252.2 327.7 M246.1 317.3 Q245.8 317.2 243.2 317.8 Q241.9 318.1 242 315.6 Q240.8 314.7 239.9 316 Q241.2 314.7 236.4 313.5 Q237 314.1 237.7 309.3 M264.3 326.4 Q264.6 326.2 266.4 324.8 Q267.6 324 269 322.2 Q267.8 323.3 270.2 319.6 Q271.4 320.3 272.7 319.1 Q271.7 317.8 275.2 321 Q273.8 320.1 277.3 322.8 M236.3 326.6 Q234.8 326.4 238.1 329.8 Q238.1 330.2 241.4 329.6 Q241.7 329.2 245 331.8 M278.4 315.3 Q278.7 316.4 276.4 313.3 Q276.7 312.4 275.7 310.9 Q275.2 310 272.5 308.6 M250.2 293.6 Q249.3 294.7 252.9 290.1 Q252.2 289.7 252.6 286.2 Q251.8 286.7 249.9 284.5 Q251 285.6 249.6 282.5 M254.9 287.4 Q253.6 287.9 258.2 289.1 Q259.4 288 259.1 291.4 Q258.8 291.5 256.3 294.9 M252.4 319.2 Q252.7 318.5 252.7 321.7 Q251.6 321 253.5 324.2 Q254.2 324.7 255.6 324.8 Q256.5 324.1 255.8 328 Q256.6 329.2 258 330.1 M285 304.6 Q285.7 304 283.6 301.7 Q283.4 300.6 280.2 298.7 Q281.2 297.5 277.3 296.8 Q276.1 297.1 273.5 294.5 Q274 295.2 271.3 292.3 Q270.4 293.6 268.6 289.3 M255.7 307.2 Q255.4 306.8 255.3 310.8 Q254.5 309.9 256.6 312.9 Q255.1 313.3 256.7 315.4 M240.6 323.5 Q239.8 323.7 241.3 325.7 Q240.4 326 242.7 328.3 Q243.3 327.5 243.3 330.6 Q242.5 331.7 242.1 332.7 Q240.7 332.3 239.5 332.3 M272.7 286.6 Q273.8 286.6 275.4 284.1 Q275.4 285 277.6 285 Q277.5 286.1 279.4 287.5 Q279.1 288.2 279.5 290.5 Q280.1 290 278.8 294.7 Q277.6 293.7 280.9 296.9" stroke="#a81010" stroke-width="0.45" fill="none"/>
<ellipse cx="254.3" cy="291.7" rx="1.6" ry="1" transform="rotate(152 254.3 291.7)" fill="#f81818"/>
<ellipse cx="287.8" cy="316.1" rx="2.1" ry="1.4" transform="rotate(33 287.8 316.1)" fill="#f81818"/>
<ellipse cx="297.9" cy="307.1" rx="1.5" ry="1" transform="rotate(150 297.9 307.1)" fill="#f81818"/>
<ellipse cx="282.5" cy="314.7" rx="2.1" ry="1.4" transform="rotate(73 282.5 314.7)" fill="#f81818"/>
<ellipse cx="252.8" cy="309.5" rx="1.7" ry="1.1" transform="rotate(147 252.8 309.5)" fill="#f81818"/>
<ellipse cx="273.8" cy="316.4" rx="2.2" ry="1.9" transform="rotate(96 273.8 316.4)" fill="#f81818"/>
<ellipse cx="264" cy="308.4" rx="2.2" ry="1.4" transform="rotate(75 264 308.4)" fill="#f81818"/>
<ellipse cx="252.5" cy="316.7" rx="1.4" ry="1" transform="rotate(118 252.5 316.7)" fill="#f81818"/>
<ellipse cx="272.1" cy="301.1" rx="1.6" ry="1.4" transform="rotate(70 272.1 301.1)" fill="#f81818"/>
<ellipse cx="296.9" cy="289.3" rx="2.2" ry="1.4" transform="rotate(35 296.9 289.3)" fill="#f81818"/>
<ellipse cx="292.8" cy="322.1" rx="1.7" ry="1.1" transform="rotate(24 292.8 322.1)" fill="#f81818"/>
<ellipse cx="280.9" cy="302.2" rx="1.4" ry="1.2" transform="rotate(113 280.9 302.2)" fill="#f81818"/>
<ellipse cx="246.7" cy="293.1" rx="2.2" ry="1.6" transform="rotate(19 246.7 293.1)" fill="#f81818"/>
<ellipse cx="244.3" cy="300.9" rx="2.2" ry="1.6" transform="rotate(22 244.3 300.9)" fill="#f81818"/>
<ellipse cx="277.9" cy="292.3" rx="2.2" ry="1.3" transform="rotate(143 277.9 292.3)" fill="#f81818"/>
<ellipse cx="242.6" cy="312.9" rx="1.7" ry="1.3" transform="rotate(131 242.6 312.9)" fill="#f81818"/>
<ellipse cx="292.9" cy="309.5" rx="2.1" ry="1.8" transform="rotate(28 292.9 309.5)" fill="#f81818"/>
<ellipse cx="263.5" cy="328.2" rx="1.4" ry="1" transform="rotate(150 263.5 328.2)" fill="#f81818"/>
<ellipse cx="248.6" cy="304.7" rx="1.9" ry="1.3" transform="rotate(7 248.6 304.7)" fill="#f81818"/>
<ellipse cx="297.1" cy="313.2" rx="1.6" ry="1.4" transform="rotate(14 297.1 313.2)" fill="#f81818"/>
<ellipse cx="255.4" cy="304.6" rx="2.3" ry="1.6" transform="rotate(149 255.4 304.6)" fill="#f81818"/>
<ellipse cx="255" cy="326.8" rx="2.1" ry="1.4" transform="rotate(157 255 326.8)" fill="#f81818"/>
<ellipse cx="277.4" cy="310.8" rx="1.8" ry="1.2" transform="rotate(77 277.4 310.8)" fill="#f81818"/>
<ellipse cx="287.9" cy="327" rx="1.8" ry="1.6" transform="rotate(123 287.9 327)" fill="#f81818"/>
<ellipse cx="300.8" cy="323.2" rx="2.2" ry="1.9" transform="rotate(177 300.8 323.2)" fill="#f81818"/>
<ellipse cx="261.3" cy="294.6" rx="1.7" ry="1.3" transform="rotate(153 261.3 294.6)" fill="#f81818"/>
<ellipse cx="246.6" cy="322.4" rx="1.7" ry="1.5" transform="rotate(156 246.6 322.4)" fill="#f81818"/>
<ellipse cx="243.2" cy="326.9" rx="2.1" ry="1.6" transform="rotate(149 243.2 326.9)" fill="#f81818"/>
<ellipse cx="289.8" cy="289.3" rx="1.5" ry="1.4" transform="rotate(131 289.8 289.3)" fill="#f81818"/>
<ellipse cx="261.5" cy="320.1" rx="1.9" ry="1.8" transform="rotate(133 261.5 320.1)" fill="#f81818"/>
<ellipse cx="268.7" cy="295.4" rx="1.4" ry="1.3" transform="rotate(172 268.7 295.4)" fill="#f81818"/>
<ellipse cx="281.6" cy="326.7" rx="1.8" ry="1.3" transform="rotate(113 281.6 326.7)" fill="#f81818"/>
<ellipse cx="265.4" cy="314.1" rx="1.5" ry="0.9" transform="rotate(100 265.4 314.1)" fill="#f81818"/>
<ellipse cx="274.1" cy="327" rx="1.5" ry="1.4" transform="rotate(67 274.1 327)" fill="#f81818"/>
<ellipse cx="286.2" cy="309.2" rx="2" ry="1.4" transform="rotate(160 286.2 309.2)" fill="#f81818"/>
<ellipse cx="240.1" cy="295.9" rx="1.9" ry="1.6" transform="rotate(143 240.1 295.9)" fill="#f81818"/>
</g>
<text font-size="6.2" font-family="'Liberation Serif', serif" fill="#fff" font-weight="bold" x="239.2" y="295.1">(f10)</text>
<text font-size="4.7" font-family="'Liberation Sans', sans-serif" text-anchor="middle" fill="#f4f4f4" x="290.85" y="325.6">100μm</text>
<line x1="279.7" y1="327.2" x2="302" y2="327.2" stroke="#f4f4f4" stroke-width="0.7"/>
<g clip-path="url(#cp20)">
<rect x="40.8" y="331" width="31" height="45" fill="#0e0e0e"/>
<path d="M58.6 337.7 H65.3 L65 353.2 H59 Z" fill="#d4dadd"/>
<path d="M55.4 351.6 L53 347.6 M55.8 351.6 L57.6 348.6" stroke="#4f8f2e" stroke-width="0.8" fill="none"/>
<path d="M43.2 350.4 H68.6 V354 H43.2Z" fill="#9a4a24"/>
<path d="M44.6 354 H67.4 L64.6 371.4 H47Z" fill="url(#potg)"/>
</g>
<text font-size="6.2" font-family="'Liberation Serif', serif" fill="#fff" font-weight="bold" x="32.8" y="337.9">(f11)</text>
<text font-size="5" font-family="'Liberation Serif', serif" fill="#fff" font-weight="bold" x="33.2" y="372.8">1cm</text>
<line x1="33.4" y1="374" x2="37.4" y2="374" stroke="#fff" stroke-width="0.6"/>
<g clip-path="url(#cp21)">
<path d="M95.4 359.4 L99 359.6 L98.6 367.6 L95 367.4Z" fill="#c4d48a"/>
<path d="M108.4 359.4 L111.4 360.6 L109 368 L106.2 366.8Z" fill="#c4d48a"/>
</g>
<text font-size="6.2" font-family="'Liberation Serif', serif" fill="#fff" font-weight="bold" x="83.4" y="337.9">(f12)</text>
<text font-size="4.7" font-family="'Liberation Serif', serif" text-anchor="middle" fill="#f4f4f4" font-weight="bold" x="114.3" y="372.2">1cm</text>
<line x1="106.3" y1="373.8" x2="122.3" y2="373.8" stroke="#f4f4f4" stroke-width="0.7"/>
<g clip-path="url(#cp22)">
<rect x="125.6" y="331" width="67.2" height="45" fill="#6a0606"/>
<ellipse cx="126.4" cy="336.1" rx="1" ry="3.2" fill="#1c0101" opacity="0.8"/>
<ellipse cx="134.9" cy="336.1" rx="0.8" ry="3.4" fill="#1c0101" opacity="0.8"/>
<ellipse cx="135.5" cy="364.3" rx="1.2" ry="1.8" fill="#1c0101" opacity="0.8"/>
<ellipse cx="161.6" cy="351.1" rx="1" ry="4" fill="#1c0101" opacity="0.8"/>
<ellipse cx="131.9" cy="331.9" rx="1.4" ry="2.5" fill="#1c0101" opacity="0.8"/>
<ellipse cx="138.9" cy="345.9" rx="0.9" ry="3.9" fill="#1c0101" opacity="0.8"/>
<ellipse cx="139.7" cy="340.8" rx="1.1" ry="2.9" fill="#1c0101" opacity="0.8"/>
<ellipse cx="189.7" cy="368.7" rx="0.9" ry="2" fill="#1c0101" opacity="0.8"/>
<ellipse cx="181.8" cy="375.5" rx="0.6" ry="3.3" fill="#1c0101" opacity="0.8"/>
<ellipse cx="184" cy="360.3" rx="0.8" ry="3.5" fill="#1c0101" opacity="0.8"/>
<ellipse cx="174.6" cy="339.7" rx="1.2" ry="2" fill="#1c0101" opacity="0.8"/>
<ellipse cx="128.4" cy="346.1" rx="0.9" ry="2.5" fill="#1c0101" opacity="0.8"/>
<ellipse cx="169.1" cy="368.6" rx="1.5" ry="3.9" fill="#1c0101" opacity="0.8"/>
<ellipse cx="192.4" cy="366.5" rx="0.9" ry="1.9" fill="#1c0101" opacity="0.8"/>
<ellipse cx="167.5" cy="355.6" rx="1.2" ry="1.7" fill="#1c0101" opacity="0.8"/>
<ellipse cx="138.6" cy="372.4" rx="1.1" ry="3.2" fill="#1c0101" opacity="0.8"/>
<ellipse cx="132" cy="349" rx="1.4" ry="3.1" fill="#1c0101" opacity="0.8"/>
<ellipse cx="192.2" cy="339.9" rx="1" ry="3.5" fill="#1c0101" opacity="0.8"/>
<ellipse cx="155.5" cy="366.5" rx="1.1" ry="1.8" fill="#1c0101" opacity="0.8"/>
<ellipse cx="132.2" cy="375.2" rx="0.7" ry="2" fill="#1c0101" opacity="0.8"/>
<ellipse cx="148.1" cy="363.1" rx="1.4" ry="2.7" fill="#1c0101" opacity="0.8"/>
<ellipse cx="159.1" cy="366.5" rx="0.9" ry="2.4" fill="#1c0101" opacity="0.8"/>
<ellipse cx="166.8" cy="359.6" rx="0.6" ry="1.8" fill="#1c0101" opacity="0.8"/>
<ellipse cx="134.9" cy="363.6" rx="1.2" ry="3.9" fill="#1c0101" opacity="0.8"/>
<ellipse cx="177.2" cy="342.5" rx="1.3" ry="4" fill="#1c0101" opacity="0.8"/>
<ellipse cx="149" cy="331.5" rx="0.9" ry="2.2" fill="#1c0101" opacity="0.8"/>
<ellipse cx="137.4" cy="333" rx="0.7" ry="3.7" fill="#1c0101" opacity="0.8"/>
<ellipse cx="129" cy="358.6" rx="0.8" ry="2" fill="#1c0101" opacity="0.8"/>
<ellipse cx="180.8" cy="344.4" rx="0.8" ry="2.6" fill="#1c0101" opacity="0.8"/>
<ellipse cx="172.3" cy="354.6" rx="1.4" ry="2.5" fill="#1c0101" opacity="0.8"/>
<ellipse cx="160.8" cy="363.3" rx="1" ry="3.3" fill="#1c0101" opacity="0.8"/>
<ellipse cx="157" cy="337" rx="0.7" ry="3.5" fill="#1c0101" opacity="0.8"/>
<ellipse cx="175.7" cy="373.4" rx="1.2" ry="2.9" fill="#1c0101" opacity="0.8"/>
<ellipse cx="136.8" cy="369.4" rx="0.7" ry="2.6" fill="#1c0101" opacity="0.8"/>
<ellipse cx="135.1" cy="348.1" rx="0.9" ry="2.6" fill="#1c0101" opacity="0.8"/>
<ellipse cx="173.4" cy="355.4" rx="0.8" ry="3.4" fill="#1c0101" opacity="0.8"/>
<ellipse cx="175" cy="368.2" rx="0.6" ry="3" fill="#1c0101" opacity="0.8"/>
<ellipse cx="185.8" cy="342.6" rx="0.8" ry="3.5" fill="#1c0101" opacity="0.8"/>
<ellipse cx="150.1" cy="349.1" rx="1.3" ry="2.5" fill="#1c0101" opacity="0.8"/>
<ellipse cx="138.9" cy="340.6" rx="0.9" ry="3.2" fill="#1c0101" opacity="0.8"/>
<ellipse cx="150.3" cy="365.7" rx="0.7" ry="2.1" fill="#1c0101" opacity="0.8"/>
<ellipse cx="167.6" cy="352.6" rx="1" ry="3.8" fill="#1c0101" opacity="0.8"/>
<ellipse cx="144.2" cy="339.2" rx="0.6" ry="2.7" fill="#1c0101" opacity="0.8"/>
<ellipse cx="145.6" cy="352.3" rx="0.6" ry="1.5" fill="#1c0101" opacity="0.8"/>
<ellipse cx="151.1" cy="365.1" rx="0.9" ry="3.8" fill="#1c0101" opacity="0.8"/>
<ellipse cx="164.5" cy="349.2" rx="1.3" ry="2.1" fill="#1c0101" opacity="0.8"/>
<ellipse cx="166.3" cy="369.1" rx="1.1" ry="2.3" fill="#1c0101" opacity="0.8"/>
<ellipse cx="132.1" cy="356.8" rx="0.8" ry="2.4" fill="#1c0101" opacity="0.8"/>
<ellipse cx="162.1" cy="373.3" rx="1.2" ry="2.8" fill="#1c0101" opacity="0.8"/>
<ellipse cx="183.3" cy="344.9" rx="0.9" ry="3.2" fill="#1c0101" opacity="0.8"/>
<ellipse cx="162.8" cy="341" rx="1" ry="3.6" fill="#1c0101" opacity="0.8"/>
<ellipse cx="141.9" cy="362.8" rx="0.6" ry="3.9" fill="#1c0101" opacity="0.8"/>
<ellipse cx="171.6" cy="345.6" rx="1.5" ry="3.5" fill="#1c0101" opacity="0.8"/>
<ellipse cx="129.7" cy="342.2" rx="1" ry="4" fill="#1c0101" opacity="0.8"/>
<ellipse cx="135.1" cy="333.1" rx="0.9" ry="1.6" fill="#1c0101" opacity="0.8"/>
<ellipse cx="153.1" cy="355.2" rx="1" ry="1.9" fill="#1c0101" opacity="0.8"/>
<ellipse cx="127.2" cy="367.1" rx="1" ry="2.7" fill="#1c0101" opacity="0.8"/>
<ellipse cx="157.7" cy="361.9" rx="1.4" ry="3.6" fill="#1c0101" opacity="0.8"/>
<ellipse cx="174.5" cy="346.2" rx="0.8" ry="1.7" fill="#1c0101" opacity="0.8"/>
<ellipse cx="183.3" cy="333.6" rx="1.1" ry="3.8" fill="#1c0101" opacity="0.8"/>
<ellipse cx="147.3" cy="348.5" rx="1" ry="3.9" fill="#1c0101" opacity="0.8"/>
<ellipse cx="171.6" cy="368.7" rx="0.6" ry="3.3" fill="#1c0101" opacity="0.8"/>
<ellipse cx="155.9" cy="349.1" rx="1.3" ry="3.3" fill="#1c0101" opacity="0.8"/>
<ellipse cx="186.8" cy="364.2" rx="1.4" ry="2.6" fill="#1c0101" opacity="0.8"/>
<ellipse cx="163" cy="366.3" rx="1" ry="1.8" fill="#1c0101" opacity="0.8"/>
<ellipse cx="164.9" cy="370.2" rx="1.4" ry="1.8" fill="#1c0101" opacity="0.8"/>
<ellipse cx="151.2" cy="341.3" rx="0.9" ry="3.9" fill="#1c0101" opacity="0.8"/>
<ellipse cx="153.9" cy="345.1" rx="0.8" ry="2.6" fill="#1c0101" opacity="0.8"/>
<ellipse cx="170.6" cy="346.4" rx="0.8" ry="2.1" fill="#1c0101" opacity="0.8"/>
<ellipse cx="143.1" cy="371.8" rx="0.8" ry="3.4" fill="#1c0101" opacity="0.8"/>
<path d="M126.3 329 q0.7 2.5 -0.1 5.1 M126.7 334.3 q-0 2.5 -0.2 4.9 M126.7 341.3 q-0.4 4.4 0.6 8.8 M126.8 351.8 q0.3 5.9 0.6 11.7 M126.9 366.2 q-0.6 4.8 0.1 9.5 M129.6 341.4 q-0.8 3.3 0.8 6.6 M129.1 361.3 q-0.1 2.7 -0.6 5.4 M130 369.4 q0.8 3.8 -0.3 7.6 M132.9 329 q-0.8 2.9 0.3 5.9 M132.9 337.1 q0.7 5 -0.7 9.9 M132.1 349.7 q-1 5.2 0.5 10.4 M132 362.6 q-0.2 3.7 -0.3 7.5 M134.6 329 q-1 4.6 -0.6 9.1 M135.7 341.1 q-0.4 6.3 -0.4 12.6 M135.7 367.4 q-0.8 4.1 -0.4 8.1 M137.1 329 q1 5.5 0.3 10.9 M137.5 341.4 q-0.3 3.7 -0.4 7.4 M137.4 364.3 q-0.2 4.3 0.1 8.7 M137.4 375.9 q0.7 2.2 0.7 4.4 M140.1 329 q0.7 5 -0.1 9.9 M139.6 340.6 q0.5 5.8 0.8 11.7 M140 362.8 q-0.3 4.3 0.3 8.5 M140 374.1 q-0.5 2.6 -0.7 5.3 M143.4 329 q-0.2 5.1 -0.1 10.3 M143.4 350.8 q-0.8 5.4 -0.3 10.8 M143.4 364.4 q-0.9 5 -0.4 10.1 M142.7 374.7 q-0.1 5.4 -0.4 10.7 M145.6 336.9 q0.1 4.8 -0.7 9.7 M146.4 346.8 q-0.5 2.7 -0.6 5.3 M146.6 366.8 q0.1 2.8 0.6 5.7 M145.7 373.1 q0.1 4.4 0.5 8.7 M148.5 343.1 q1 3.2 0.1 6.5 M148.9 351.4 q0.2 6.4 -0.7 12.7 M149.2 364.9 q0.2 3.7 -0.2 7.4 M148.9 373.4 q1 3.9 0.5 7.8 M151.7 329 q0.2 5.7 -0.5 11.4 M152.3 349.4 q0.5 4 -0.5 8 M151.8 358.3 q-0.4 2.5 0.3 4.9 M152.3 364 q0.7 2.7 0.1 5.4 M151.6 371.6 q-0.3 6.3 0.4 12.6 M155.4 336.9 q0.2 5 -0.5 9.9 M155.4 348.1 q-0.5 4.8 0.7 9.6 M154.8 358.8 q0.5 6.8 -0.8 13.5 M154.9 372.6 q0.5 4.9 -0 9.8 M158.4 329 q0.6 6.2 -0.4 12.4 M158.1 341.6 q1.2 3 -0 5.9 M157.8 363.3 q-0.8 6.9 -0.8 13.8 M160.8 341.5 q-0.3 4.6 -0.5 9.1 M160.8 351.5 q0.7 2.1 -0.1 4.2 M160.3 369.1 q-1 5.4 0.5 10.7 M163.7 329 q0 6.6 -0.6 13.1 M163.8 342.5 q-0.1 2.1 -0.7 4.3 M163.2 348.3 q-0 6.9 -0.2 13.7 M163.4 362.7 q1 5.3 0.4 10.6 M166.4 329 q0.1 6.5 -0 12.9 M167.1 344.9 q0.2 3.2 -0.3 6.5 M166.5 363.3 q-1 4.7 -0.5 9.3 M169.3 329 q-0.3 2.5 0.7 5.1 M170.4 336.7 q-0.8 2.3 -0.1 4.5 M169.5 342 q-0.8 3.5 0.8 7 M169.4 351.3 q0.3 5 0.2 10 M169.6 361.3 q0.3 6.8 0.7 13.6 M169.8 376 q1 4.6 0.7 9.1 M173.5 329 q-0.5 7 0.7 13.9 M173.3 345.6 q0.5 6.9 0.1 13.7 M175.4 329 q1.1 4.5 -0.1 9.1 M175.2 339.5 q-0.2 6.4 0.1 12.9 M176.2 353.1 q-0.9 5.8 -0.5 11.6 M175.8 365.6 q-0.4 4.6 -0.7 9.2 M179 329 q0.3 6.5 -0 13 M178.6 354.2 q-0.4 6.7 0.5 13.5 M178.1 370.4 q1.1 6.3 -0.5 12.6 M181.2 329 q-0.3 5.7 -0.2 11.3 M181.4 354.8 q0.2 3.7 0.3 7.5 M181.9 362.4 q1.1 3 -0.6 6 M181.7 370.6 q-0.2 4.2 0.2 8.5 M184.2 341.1 q-0.2 3.3 0.1 6.5 M184 348.5 q1.2 7 0.8 14 M183.5 376 q-0.4 4.1 0.1 8.2 M187 329 q1.2 2 0.8 4 M187.3 335.2 q-0.6 5.6 0.5 11.3 M187 348.2 q-0.4 3.2 0.3 6.3 M187 355.9 q1.2 2.2 0.7 4.3 M186.7 362.1 q-0.8 6.8 -0.4 13.6 M189.7 329 q-0.1 6.4 0.7 12.9 M190 343.4 q0.3 6.9 0.4 13.8 M189.5 359.7 q0.7 2.6 -0 5.2 M192.6 329 q-0.2 2.1 0.6 4.3 M191.9 333.3 q-0.4 6.3 -0.3 12.7 M192.7 348.7 q-0.2 4.5 -0.3 9 M192.5 371.4 q-0 2.1 0.4 4.2" stroke="#e01616" stroke-width="0.9" fill="none" opacity="0.85"/>
<circle cx="172.4" cy="341.8" r="0.7" fill="#ff2a2a"/>
<circle cx="138.4" cy="337.3" r="0.8" fill="#ff2a2a"/>
<circle cx="169.6" cy="359.8" r="0.6" fill="#ff2a2a"/>
<circle cx="142.7" cy="333.8" r="0.9" fill="#ff2a2a"/>
<circle cx="178.9" cy="364.9" r="0.4" fill="#ff2a2a"/>
<circle cx="126.4" cy="352" r="0.5" fill="#ff2a2a"/>
<circle cx="166.8" cy="344.8" r="0.8" fill="#ff2a2a"/>
<circle cx="136.7" cy="353.4" r="0.6" fill="#ff2a2a"/>
<circle cx="141.2" cy="345.9" r="0.5" fill="#ff2a2a"/>
<circle cx="145.9" cy="350.9" r="0.6" fill="#ff2a2a"/>
<circle cx="169.9" cy="370.6" r="0.7" fill="#ff2a2a"/>
<circle cx="139" cy="353.9" r="0.5" fill="#ff2a2a"/>
<circle cx="182.1" cy="331.7" r="0.5" fill="#ff2a2a"/>
<circle cx="187.9" cy="357.2" r="0.6" fill="#ff2a2a"/>
<circle cx="127.9" cy="339.1" r="0.8" fill="#ff2a2a"/>
<circle cx="130.8" cy="362.3" r="0.5" fill="#ff2a2a"/>
<circle cx="176.5" cy="336.1" r="0.5" fill="#ff2a2a"/>
<circle cx="138.8" cy="373.8" r="0.4" fill="#ff2a2a"/>
<circle cx="157.7" cy="371.9" r="0.7" fill="#ff2a2a"/>
<circle cx="126.6" cy="360.8" r="0.6" fill="#ff2a2a"/>
<circle cx="140.5" cy="337" r="0.5" fill="#ff2a2a"/>
<circle cx="163.4" cy="365" r="0.8" fill="#ff2a2a"/>
<circle cx="168.5" cy="350.7" r="0.9" fill="#ff2a2a"/>
<circle cx="137" cy="372.6" r="0.9" fill="#ff2a2a"/>
<circle cx="161.9" cy="364.5" r="0.7" fill="#ff2a2a"/>
<circle cx="172.5" cy="361.6" r="0.7" fill="#ff2a2a"/>
<circle cx="171.1" cy="352.8" r="0.5" fill="#ff2a2a"/>
<circle cx="148" cy="345.7" r="0.7" fill="#ff2a2a"/>
<circle cx="134.6" cy="362.1" r="0.6" fill="#ff2a2a"/>
<circle cx="187.6" cy="350" r="0.8" fill="#ff2a2a"/>
<circle cx="135.3" cy="337.4" r="0.8" fill="#ff2a2a"/>
<circle cx="180.8" cy="342" r="0.6" fill="#ff2a2a"/>
<circle cx="176.9" cy="334.7" r="0.7" fill="#ff2a2a"/>
<circle cx="172.3" cy="373.8" r="0.9" fill="#ff2a2a"/>
<circle cx="177.7" cy="336.3" r="0.8" fill="#ff2a2a"/>
<circle cx="136.4" cy="343.6" r="0.8" fill="#ff2a2a"/>
<circle cx="158.8" cy="350.1" r="0.8" fill="#ff2a2a"/>
<circle cx="182.6" cy="344.4" r="0.8" fill="#ff2a2a"/>
<circle cx="192.2" cy="361.8" r="0.5" fill="#ff2a2a"/>
<circle cx="161.4" cy="356.2" r="0.5" fill="#ff2a2a"/>
<path d="M125.6 366 L131 372 L134 376 L125.6 376Z" fill="#0a0000" opacity="0.88"/>
<path d="M180 331 L193 331 L193 340 L188 338 L183 335Z" fill="#f01414" opacity="0.9"/>
</g>
<text font-size="6.2" font-family="'Liberation Serif', serif" fill="#fff" font-weight="bold" x="127" y="337.9">(f13)</text>
<text font-size="4.7" font-family="'Liberation Sans', sans-serif" text-anchor="middle" fill="#f4f4f4" x="181.5" y="372.2">100μm</text>
<line x1="171" y1="373.8" x2="192" y2="373.8" stroke="#f4f4f4" stroke-width="0.7"/>
<g clip-path="url(#cp23)">
<rect x="200" y="331" width="30" height="45" fill="#0c0c0c"/>
<path d="M208.6 344.6 C213 350 213.6 361 210.4 368.6 L210 375 L209.2 375 L209 368.6 C205.4 361 205 351 208.6 344.6Z" fill="#84bc52"/>
<path d="M222 354 C224.8 359 224.6 367 222.8 372 L222.4 376 L221.8 376 L221.6 372 C219.6 367 219.6 359 222 354Z" fill="#84bc52"/>
</g>
<text font-size="6.2" font-family="'Liberation Serif', serif" fill="#fff" font-weight="bold" x="195.4" y="337.9">(f14)</text>
<text font-size="4.7" font-family="'Liberation Serif', serif" text-anchor="middle" fill="#f4f4f4" font-weight="bold" x="230.6" y="372.2">1cm</text>
<line x1="226.6" y1="373.8" x2="234.6" y2="373.8" stroke="#f4f4f4" stroke-width="0.7"/>
<g clip-path="url(#cp24)">
<rect x="237.8" y="331" width="64.6" height="45" fill="#360404"/>
<path d="M297.3 373.5 Q297 373.1 296.3 370.9 Q294.9 371.3 296.9 368.3 Q298.4 368.3 299.1 367.7 M236.1 358.1 Q235.7 357.1 235.4 360.1 Q235.6 361.2 236.7 363.7 Q238.2 363.9 234.7 365.4 M289.8 336.5 Q290.7 336.6 287.6 335.7 Q287.8 334.4 285.3 333.3 Q286.6 332.7 282.5 331.4 Q283.7 331.5 281 329.7 Q280.1 328.6 281.9 326.7 Q282.8 326.7 283.2 324.8 M257 334.8 Q258.4 333.5 259.2 333.8 Q260.1 334.4 260.8 332.5 Q262.1 332.6 264.2 334.7 M301.6 364 Q300.9 364.1 300.5 365.7 Q299.8 364.5 297.5 366.7 Q298.1 366.9 293.9 367.4 Q292.9 365.9 292.5 369.1 Q292.2 368.1 288.9 369.7 Q287.6 371.1 284.9 369.3 M295.5 363.8 Q295.7 363.9 291.6 363.6 Q291.9 363.1 290.1 361.8 Q289.4 363.2 288.1 358.3 Q288.2 357.5 284.7 358.4 Q284.6 359.1 281.6 358 Q282.4 357 280.4 360.7 M293.4 337.8 Q294.8 337.5 293.3 333.9 Q294.8 334.6 291.3 331.1 Q290.6 332.5 288 330.6 Q289.2 330.3 286.2 331.8 M236 349.9 Q235.3 351.2 233.2 352.8 Q234.4 353.3 233.4 354.9 Q233.5 355.5 231.2 358.5 Q232.7 357.4 230.1 362.6 Q231.6 361.9 230.4 366.1 M286.8 328.4 Q287.2 327 290.9 326.5 Q290.5 325.5 293.4 327.5 Q294.1 327.2 294.1 329.6 M280.7 342.1 Q281.5 343.5 282.5 340.6 Q283.8 340 282.2 336.9 Q283.1 335.5 284.4 335.3 Q283.2 333.9 283.5 331.5 M258.5 335.7 Q257.7 335.9 255.1 337.6 Q255.2 336.8 252.1 335.5 Q252 335.9 249.4 332.8 Q249 334.2 250.8 329.4 Q250.8 329 250.4 325.1 Q249.4 324.6 247.7 322.8 M263.4 330 Q263.1 329.2 265.7 327.4 Q265.6 326.4 266.7 323.9 Q268.1 324 269.8 322.3 Q270.1 323.6 272.8 321.9 Q272.6 320.6 274.5 325.1 Q274.1 323.8 273.3 327.9 M237.1 346.7 Q238.6 347.5 239.3 347.7 Q240 349 240.4 350.6 Q241.8 351.5 242.3 353.8 Q242.4 352.9 244.4 353.9 Q245.2 353.3 248.2 355.5 M282.4 348.7 Q281.5 349.2 284.5 345.5 Q283.2 346.3 287.8 344.7 Q288.4 344.1 289.6 340.7 Q289.8 341.7 288.5 336.5 Q288.4 337.8 290.2 335.3 M237.2 340.7 Q238.3 339.8 237.1 337.1 Q235.9 338 239.3 333.9 Q238 334.4 238.7 331.4 Q237.2 332.4 234.6 329.7 Q234.8 330.6 233 326.7 Q233.8 326.3 232.6 324.4 M274.3 352.6 Q274.1 352 273.3 349.5 Q272.3 348.9 273.8 347.5 Q272.8 348.5 275.9 346.5 Q276.9 347.3 278.1 346.6 Q278.7 347 279.9 344.9 Q279 343.6 283.6 342.8 M279.2 332.8 Q277.9 333.3 276.5 334.2 Q277.4 334.8 274.5 336.2 Q274.2 335.3 274.9 339.7 Q274.4 339.9 274.9 343.7 M300.6 332.6 Q299.2 331.2 303.4 331.8 Q304.6 331.3 305.5 333 Q306 332.4 309.1 332.1 Q310 330.9 312.8 334.3 M270.8 346.1 Q272.1 344.7 266.6 346 Q267.1 344.8 264.3 342.7 Q264.7 344.1 264.4 338.8 M298.8 358.4 Q298.1 358.5 300.6 356.9 Q300.8 357.3 304.2 355.1 Q303.2 354.4 307.5 353.6 Q308.5 354.8 311.3 354.2 M288 354.3 Q288.8 354.8 289.8 350.4 Q288.6 350.7 292.4 349.7 Q292.1 350.9 294.9 346.1 Q295.3 346.7 294.8 343.9 Q296.3 344.4 292.1 340.5 Q291.1 341.2 294.5 336.8 M285.2 363.1 Q283.9 362.8 282.3 366 Q281.1 364.7 281.1 369.8 Q280.9 370.9 282.5 371.6 Q283.1 371.1 284.5 372.7 M273.4 363.9 Q274.6 364.6 270.3 361.6 Q271.1 362.4 267 361.3 Q268 361.5 263.8 358.8 Q263.7 359.5 262.7 357 M296.6 368.7 Q297.2 369.3 294.3 369.3 Q293.4 368.8 291.6 372.3 Q290.1 371.6 288.9 375.6 Q290 377 287 378.1 M263.3 337.6 Q262.1 338.3 266.7 335.3 Q267.7 334.5 267.7 332.8 Q267.8 332.6 264.8 330.5 Q263.9 331.9 265.7 327.6 Q264.5 326.2 269.5 325.7 Q269.7 325.7 270.1 323.7 M282.1 355.7 Q280.8 356.9 284.6 356.2 Q283.4 357.7 285.6 354.3 Q286.2 354.2 289.7 354.7 M252.8 351.4 Q251.8 350.9 255.2 349 Q256.1 349.2 258.3 349.1 Q258.8 348.5 261.2 346.9 M297.6 353 Q298.5 354 298.9 351.1 Q300.3 351.5 301.3 349.9 Q300.5 349.1 303.6 346.6 Q304.7 346.3 305.7 346.8 M273.5 361.2 Q272.4 360.3 277.4 359.5 Q277.2 360 280.7 359.8 Q281.7 359.9 282.9 359.9 Q282.4 361.3 284.3 362.1 M270.9 346.4 Q269.8 345.4 272.8 344.8 Q272.4 345.5 276.2 342.6 Q277 342.3 278.9 344.3 Q278.6 344.5 282.3 341.9 Q283.6 340.5 284.4 342.9 M293.4 356.8 Q294.4 356.6 290.4 354.3 Q290.3 354.8 288.8 352.8 Q288.3 353.6 290.4 348.9 Q291 348.4 294.7 347.7 M293.9 328.8 Q293.1 327.6 289.7 329.3 Q288.4 330.7 285.3 328.7 Q284.1 328.3 284.1 330.4 Q284.4 329.3 285.1 332.8 Q284.3 332.7 286.6 334.5 Q285.5 335.1 287.5 338.3 M296.2 339.4 Q295.3 340.5 294.1 337.7 Q294.5 337.4 292.5 334.3 Q293.6 334 293.1 331.6 Q294 331.9 293.5 328.1 Q294.6 327.2 295.2 327 Q295.1 326.5 297.3 327.7 M255.9 360.1 Q255.5 359.2 257.6 358.1 Q259 357.8 259.2 354.8 Q258.9 355.4 257.3 351.6 Q257 351.6 258.9 349.1 Q259.8 350.3 262.6 349.8 M245.7 375.9 Q246.1 376.2 244.5 377.6 Q243.7 376.9 243.5 381.3 Q244.6 381.3 245.3 383.2 M284.6 369.7 Q283.8 370.2 283.5 367.8 Q283.6 366.4 281.3 367.5 Q282.7 368.1 279.5 366.1 Q278.4 366.5 276.3 368.3 Q275.8 368.2 272.5 366.1 M270.7 375 Q270.4 375.3 274.8 375 Q274.6 375.6 277.1 373.1 Q277.5 373.1 278.9 371.5 Q280 372 281.5 369.7 M279.5 352.1 Q280.5 351.6 278 355.4 Q278.1 354.3 275.8 358.3 Q274.8 357.4 274.3 360.3 Q273.6 361.8 275.5 363.4 Q276.4 362.7 274.5 365.4 Q274.2 365.8 273.2 368.6 M249.7 344.8 Q249.6 345.4 252.8 346.2 Q252.6 344.8 255.8 342.8 Q255.2 343 254.6 339.8 Q254.5 338.3 254.5 336 M256.3 369.6 Q256.2 369 254.4 370.5 Q253.9 369.1 253.1 373.5 Q252.3 374 248.6 373.6 Q248.7 372.9 246.1 373.1 Q244.7 372.3 243.2 374.3 M301.3 365 Q300.8 366.2 301 369.1 Q299.9 368.8 301.3 373.3 Q302.4 372.2 303 376.8 Q301.7 375.7 304.6 378.7 Q304.4 379.9 307.3 378 M278.9 364.5 Q278.2 363.7 277.3 366.9 Q278.4 368 273.3 367.5 Q274.4 367.8 270.9 367.9 Q271.5 366.9 269 366.6 Q269.5 366.4 266.3 367.3 M264.7 352.3 Q265.8 351.7 262.4 350.4 Q261.1 351.6 261 348.8 Q262.5 349.4 258.4 347.4 Q258.3 347.7 255.3 348.8 Q256.7 349.1 253.9 351 Q254.6 350.1 251.5 353.9 M287.7 351.2 Q288 351.2 288.8 353.8 Q289.5 353 286.4 355.8 Q286.6 354.9 282.3 355.3 Q281 356.7 279.7 358.1 Q279.6 356.6 277.4 357.4 M261.8 336.6 Q261.3 336.4 259.7 337.5 Q260.7 336.5 257.9 336.6 Q259.4 336.8 256.1 332.9 Q255.9 333.4 253.4 333 M300.3 370.1 Q301.1 369.1 302.5 368.5 Q302.8 369.1 304.6 364.7 Q305.3 365.1 303.4 363.1 Q303.4 361.9 300.4 361.9 M257.6 333.6 Q258.4 333 254.1 332.8 Q253.3 332.9 251.6 333.5 Q250.3 332 249.1 333.8 Q249.5 334.7 247.6 335.7 Q247.4 334.4 245.1 338.2 Q244 337.7 241.2 338.8 M280.9 361.9 Q279.5 362.5 283.8 364.1 Q283.9 364.6 284.8 365.8 Q283.9 365.1 287.3 368.6 Q287.2 367.5 287.5 370.7 Q286.8 371.9 286 373.4 Q286.8 374.3 285.9 375.6 M241.6 362.2 Q242.2 363.5 243.8 359.4 Q244.1 358.9 247.8 359.7 Q248.5 358.5 249.4 356.3 Q249.6 356.9 250.4 354.5 M275.3 357.3 Q274.1 357.9 277.7 357.7 Q276.3 356.8 279.1 359.5 Q280.4 358 280.1 361.3 Q279.7 362.3 279.5 365.3 M246.7 365.2 Q245.7 365.9 244.6 365.6 Q244.5 364.1 241.4 366 Q241.7 365.9 239.5 363.1 Q239.6 364 240.8 360.2 Q241.2 359.7 238.8 356.6 M244.8 352.7 Q244.5 352.1 241.4 354.4 Q241.2 355.7 239.2 352.3 Q240.2 353.3 237.4 353.2 M282 329.3 Q283.1 329.2 278.4 326.8 Q277.7 325.3 275.6 324.3 Q276.5 324.4 277 321.2 M239.9 332.9 Q239.8 334.3 238.1 335 Q238.2 334 236.2 337 Q236.3 335.9 234.5 338.4 M237.5 364.2 Q237.8 365.1 234.9 360.5 Q235.1 360.3 235.8 357.2 Q236.9 356 239.4 355.4 Q240.1 355.4 240.2 352 M269.6 369 Q268.8 367.9 269.6 366.5 Q270.2 366.4 267 364.6 Q267.9 366 264.2 362 Q262.9 361.4 263.3 358.9 M247.8 374 Q246.4 373.9 245.5 370.5 Q245.9 371.8 243.5 368.2 Q242 368.2 244.9 365.3 Q244.7 365.3 245.1 361.8 M292.8 347.9 Q292.7 347.3 290 349.1 Q290.4 348.1 287.2 350.5 Q288.4 349.3 284.8 350.4 Q285.1 351.4 283.8 347.3 Q284.3 347.7 280.5 346.3 Q279.4 345.3 277.4 347.4 M276.7 351.7 Q275.3 350.9 279 351.7 Q279.6 351 281.8 350 Q283.3 349.1 281.7 346.7 M247.9 346.6 Q248.1 345.3 246 345.6 Q246.8 347 243 346.5 Q242.8 346.6 239.3 345 Q240.3 343.5 235.4 342.8 M281.5 362.5 Q280.1 363.5 285.3 363.5 Q286.1 362.2 286.6 366 Q287 365.2 289.4 367.3 Q290.7 367.6 289.3 369.3 Q288.1 370.5 291.7 371.7 Q292.7 371.1 294.8 370.9 M280.7 354.8 Q280.1 356.3 281 352.1 Q281.9 353.5 278.8 351.2 Q278.5 350.7 275.6 351 M256.5 352.4 Q255.7 351.9 258.8 349.7 Q259 348.8 259.2 347.2 Q258.5 348 258.6 344.9 Q257.5 343.5 255.4 341.8 Q254.9 341.5 252.2 341.5 Q251.4 342.6 249.5 339 M259.2 355.4 Q257.9 354.3 257.3 359.2 Q258.2 359.5 255 359.4 Q253.6 360.4 254.4 362.3 Q255.6 362.9 257.5 365.5 Q258.7 364.3 261.2 365.9 Q260.3 366.1 264.8 365.5 M264.2 366.4 Q263.2 365.8 261.6 366.7 Q262.3 367.5 259.4 364.3 Q260.2 364.3 255.9 362.7 M270.3 350.6 Q271.3 351.9 266.8 348.1 Q267.3 348.6 264.7 348.7 Q264.2 349.5 262.8 347.6 Q264.2 348.2 262 344.8 M261.2 359.8 Q262 359.9 259 359.6 Q260 358.1 256.9 360.8 Q256.5 362.2 254.3 361.7 Q252.8 361.3 253.5 364 M239.9 330.1 Q238.5 329.2 237.4 328.3 Q237.5 327.9 237.8 325 Q238.1 324.5 240.7 324.3 Q239.6 323.2 241.6 321.9 M285 342.6 Q284.7 342.6 283 344.6 Q284 346 281.6 346.1 Q281 346.6 281 348.7 Q281.4 348 280 352 Q280.4 352.4 278.9 355.1 Q279 355.4 276.6 355.1 M245.7 345.8 Q244.8 345.5 247.6 348.3 Q247.2 347.8 245.1 351.7 Q246.3 350.3 245.9 355.8 Q245.1 356.3 246.8 358.7 Q248.3 359 245.4 361.2 Q244.3 361 245.9 364.9 M274 336.9 Q273.7 337.9 276.4 340.3 Q275.5 339.4 274.5 343.3 Q273.5 342.1 271.9 346.1 Q270.6 346.3 268 344.4 Q267.9 345.7 266.1 343.4 Q267 341.9 262.4 341.5 M263.5 360.8 Q264.1 361.8 263.4 363.9 Q264.8 362.4 266.7 365 Q266.7 364.5 269.2 361.5 Q270 361.3 270.5 358.9 Q271.2 358.4 273.4 357 Q274.2 356.1 273.4 354.8 M265.5 329.4 Q266.3 330.5 268.1 326.6 Q267.1 326.2 270.6 326.3 Q271.1 326.4 273.9 323.6 M239.5 359.1 Q239.6 360.6 242.2 360.1 Q242.1 358.9 243.6 362.3 Q242.6 362.6 247.3 363.7 M286.1 373.8 Q286.7 374.7 283.2 374.6 Q282.3 374 281.8 373.1 Q280.5 372 280.1 370.1 M300.8 336.1 Q302.1 334.6 303.2 337.6 Q302.9 336.9 304.9 339 Q305.8 339.1 308.9 337.9 Q308.1 338 310.2 334.9 Q309.5 334.2 313.6 332.1 Q314.5 331.6 313.9 327.7 M263.9 367.4 Q263.6 367.6 261 367.5 Q261.7 367 258.2 370.5 Q257.6 371.3 257.9 373.3 Q258.6 373.1 255.5 375.1 Q256.1 375.6 253 375.6 Q253.7 375.9 251.8 378.4 M272.8 367.3 Q272 366.7 273 371 Q273.1 371.4 272.8 373.8 Q274.2 373.1 271.8 376.5 Q270.4 376 270.4 379.1 M279 369.7 Q278.3 370.4 278.8 371.9 Q279.6 371.2 276.4 374.9 Q275 373.8 273.6 377.9 Q272.9 377.6 272.8 380.1 M291.9 356.2 Q290.5 355.2 290.8 359.5 Q291.9 359.2 288.5 360.9 Q287.1 361.4 285.6 361.3 Q286.2 361.5 283 363.5 M247.6 335.8 Q249 334.8 247.8 332.3 Q248.3 332.5 248.1 328.3 Q247.3 327.8 250.3 326.4 Q249.1 327.4 251.4 323.4 Q251.8 324.2 253.9 320.6 M265 340.6 Q265.6 341.8 264.5 344.6 Q264.3 344.2 266.9 346.3 Q266.4 346.3 271.2 346.8 M281.2 370 Q281 370.5 279.2 370 Q279.9 369 276.6 368.8 Q275.7 369.8 275.1 370.2 M256.1 371.5 Q257.1 372 257.1 368 Q255.8 368.8 257.4 364.3 Q257.9 365.6 253.6 362.1 Q253.6 362 251.6 359.8 Q250.7 359 247.6 360.6 M257 361.3 Q257.9 361 254.1 362.5 Q252.8 361.1 250 361.1 Q249 361.3 248 363.6 Q249.4 364.7 249.2 367.7 Q250.2 366.5 245.7 369.9 M255.4 370.6 Q256.5 370 252 369.7 Q252.7 369.2 250.2 371.7 Q249.9 372.8 248.1 374.6 Q249.2 373.3 246.9 377.6 Q247.4 377.5 246.7 381.3 Q247.9 380.6 247.1 385.6 M264.4 328.4 Q264 327.2 267.5 326.2 Q267.7 326.2 267.8 323.7 Q266.6 324.5 266.1 321.5 Q267.3 322.9 266 318.5 Q267.2 318.4 264.6 317 M241.4 341.5 Q242.8 342.2 241.8 339.3 Q240.6 338 239.1 336.7 Q239.6 336.5 238.2 334.5 Q238.5 333.3 238.3 331.7 Q237.9 332.2 241.6 329.5 M241.1 358.1 Q242.3 358.6 243 359.1 Q242.8 359.8 244.5 360.7 Q244.7 359.6 248.3 359.6 Q249.2 359.8 251.2 358.8 Q251.2 357.9 254.4 361.1 M301.8 343.3 Q300.9 343.4 299.8 343 Q299.5 342.9 298.1 344.4 Q299 344.9 296.2 343.1 Q295.6 343.9 297 339.2 M291.2 368.1 Q290.3 368.9 290.5 371.8 Q289.4 371.9 292.9 373.2 Q292.7 374.3 296.3 375 M238.8 356.7 Q238.8 356.9 242.2 357.1 Q241.4 357.3 244.9 358.6 Q244.1 359.6 245.1 363 Q246 362.1 241.9 364.9 Q242 363.6 239.5 364.1 M258.7 366.1 Q257.4 364.8 256.4 366 Q255.7 366.7 252.6 365.4 Q251.4 363.9 251.2 362.5 M242 363.9 Q240.9 364.9 244.6 363.7 Q244.5 363.3 246 366.2 Q246.2 365.3 250 366.9 M301.8 374.6 Q300.7 376 306 376 Q306.3 374.6 308 377 Q307 377.3 311.1 378.5 Q309.9 379 313.6 377.1 Q312.6 376.5 316.9 376.4 M236.4 364.9 Q237.8 363.7 236.8 361.8 Q238.2 361.7 236.9 358.9 Q238.4 359.5 237.1 355 Q236 353.6 235 354 M237.2 373.7 Q238.7 372.5 236.3 376 Q236.2 375.9 234.2 376.6 Q233.1 377.7 230.7 376.8 Q229.3 376 228.9 378.8 M274.4 350.7 Q274.4 350 276.5 349 Q275.7 350.3 278.4 345.9 Q279 347.3 282.1 345.7 Q282.5 346.5 285.1 345.4 M264.6 338.6 Q263.6 339.1 267.7 336.6 Q267.8 337.3 269.8 337 Q269.1 336.6 273.3 334.8 M291 372.9 Q291 373.8 290.5 376.2 Q289.4 377.6 292.5 377.7 Q291.9 378.7 295.6 379.9 Q297 381.4 296.2 382.8 Q297.5 384.2 295 385.4 Q295.3 384.9 293.2 387.8 M242.7 342.6 Q241.8 341.7 241.8 344.5 Q241.9 344.4 237.8 344.7 Q238.9 344.1 235.7 342.9 Q236.5 342.7 232.6 343.4 Q233.1 344.4 229.4 344.2 Q230.6 345.4 227.5 347 M275.2 371 Q274.7 371.8 272.5 371.5 Q272 371.5 272.1 375.1 Q273.5 375 273.5 377.1 Q274.7 377.1 277 378 Q278.2 377.9 280.7 379.7 M273 335.3 Q272.4 336.3 272.7 337.4 Q273.7 336.8 273.3 340.1 Q273.1 339.9 276.7 342.4 Q277 342.3 280.6 341.6 M288.8 371.7 Q288.5 372.5 286.5 370.6 Q285.3 369.2 283.4 372.6 Q283.7 372 280.1 372.1 M245.1 355.3 Q244.1 354.9 241.2 357.1 Q241.2 357.4 239.6 358.7 Q238.1 357.9 238.9 361 Q239.5 360.3 237.8 365.3 Q238.9 363.9 238.6 367.7 Q238 367.9 236.1 370.7 M242.4 361.8 Q243.5 362.3 244.6 363.3 Q245.7 363.6 246.3 365.1 Q244.9 364.3 247.3 369.4 Q246.3 369.4 250.1 371.6 Q251.3 372.2 252 370.6 Q251.9 370.4 254.7 372 M269.2 337.6 Q267.9 338.5 271.4 337 Q272 336.2 272.4 335.1 Q271.8 336.2 272.7 331.6 Q273.2 331.8 272.4 328.1 Q271.4 327.9 273.8 325.7 M291 350.9 Q291.6 351.4 287.7 348 Q288.8 348.4 285.5 346.7 Q286.7 345.8 285.9 344.1 Q286.9 344.5 288.1 342 M254.7 366.7 Q253.6 367.8 253.6 370.7 Q255 370.9 250.4 373.1 Q251.8 373.1 247.2 372.8 Q246.9 371.7 245.2 372.5 Q243.9 371.3 243.7 375.4 Q243.2 376.1 241.2 375.1 M237.2 369.4 Q236.4 369.7 235.7 367.2 Q237.1 366.7 235.9 363.2 Q234.7 363 236.2 358.7 M280.3 338.8 Q281.1 338.5 280.4 335.1 Q281.5 335 283.2 333.7 Q282.4 333.8 285.8 334 Q286.8 335.1 288.7 335.4 M263.9 331.5 Q264.2 330.1 262.2 334.1 Q261.7 334.5 262.1 336.9 Q260.9 335.5 262.4 339 Q262.6 337.9 265.3 341.4 M275.5 359.9 Q276.5 360.1 279.8 361 Q278.3 361.6 282.9 363.7 Q281.5 362.7 285.2 366.4 Q286.3 366.1 287.4 366.3 Q287.6 365.5 289.2 370.2 M234.9 338.6 Q235.1 337.7 234.1 341.3 Q233 340.9 230.9 342.8 Q230.7 341.9 230.4 346 Q230 346.4 226.7 346.6 Q226.7 346.9 224.5 346.2 M255 346.2 Q254.6 347.4 256 344 Q254.7 343.3 254.7 342.2 Q254.6 341.5 251.7 342.2 M274 361.6 Q273.5 361 269.9 361.2 Q271.4 362.4 267.8 362.4 Q268.9 362.5 266 364 Q265.5 363.1 264 363.3 M295.9 340.4 Q295.2 339.6 295.6 342.7 Q295.4 342.8 295.5 346.5 Q294.3 346.6 297.7 349 M264.2 354.6 Q264.8 354.3 265.3 350.5 Q264.1 351.9 268.5 347.5 Q267.2 348.6 268.1 345.5 Q268.4 344.1 265.4 342.3 Q266.7 343.5 266.5 340.2 M271.6 331.8 Q272.8 331 273.6 330.3 Q274.3 330.4 276.2 332.3 Q276.9 331.5 279.8 332 Q280.7 333.1 282 334 M249 372.3 Q249.9 373.7 246 374.1 Q246.3 372.9 243.8 372 Q244.2 371.8 244.7 370.1 Q246 371.5 248.8 368.7 Q247.6 368.6 250.3 370.1 Q251.3 370.8 251.9 373.9" stroke="#b81212" stroke-width="0.45" fill="none"/>
<ellipse cx="268.5" cy="340.7" rx="1.8" ry="1.5" transform="rotate(84 268.5 340.7)" fill="#f81818"/>
<ellipse cx="252.6" cy="364.3" rx="2" ry="1.4" transform="rotate(105 252.6 364.3)" fill="#f81818"/>
<ellipse cx="259" cy="335.1" rx="1.7" ry="1.3" transform="rotate(55 259 335.1)" fill="#f81818"/>
<ellipse cx="281" cy="357" rx="1.7" ry="1.2" transform="rotate(52 281 357)" fill="#f81818"/>
<ellipse cx="253.7" cy="373.8" rx="1.5" ry="1.1" transform="rotate(66 253.7 373.8)" fill="#f81818"/>
<ellipse cx="270.3" cy="356.5" rx="2.2" ry="2.1" transform="rotate(72 270.3 356.5)" fill="#f81818"/>
<ellipse cx="280" cy="332.4" rx="1.5" ry="1" transform="rotate(34 280 332.4)" fill="#f81818"/>
<ellipse cx="249.8" cy="346.7" rx="2.2" ry="1.4" transform="rotate(51 249.8 346.7)" fill="#f81818"/>
<ellipse cx="298.1" cy="333.8" rx="1.9" ry="1.8" transform="rotate(77 298.1 333.8)" fill="#f81818"/>
<ellipse cx="298.1" cy="358" rx="1.6" ry="1.1" transform="rotate(166 298.1 358)" fill="#f81818"/>
<ellipse cx="265.4" cy="363.8" rx="1.5" ry="1.4" transform="rotate(104 265.4 363.8)" fill="#f81818"/>
<ellipse cx="293.7" cy="365.6" rx="1.9" ry="1.3" transform="rotate(175 293.7 365.6)" fill="#f81818"/>
<ellipse cx="239.7" cy="369.1" rx="1.7" ry="1.5" transform="rotate(61 239.7 369.1)" fill="#f81818"/>
<ellipse cx="261.2" cy="368.2" rx="2.3" ry="1.7" transform="rotate(160 261.2 368.2)" fill="#f81818"/>
<ellipse cx="269.9" cy="369" rx="2.1" ry="1.5" transform="rotate(107 269.9 369)" fill="#f81818"/>
<ellipse cx="243.1" cy="353.6" rx="2.2" ry="1.4" transform="rotate(41 243.1 353.6)" fill="#f81818"/>
<ellipse cx="290.9" cy="345.6" rx="1.6" ry="1.5" transform="rotate(156 290.9 345.6)" fill="#f81818"/>
<ellipse cx="290.7" cy="338.3" rx="1.4" ry="0.9" transform="rotate(97 290.7 338.3)" fill="#f81818"/>
<ellipse cx="273.6" cy="332.9" rx="2" ry="1.3" transform="rotate(58 273.6 332.9)" fill="#f81818"/>
<ellipse cx="285.2" cy="343.5" rx="2.3" ry="1.5" transform="rotate(10 285.2 343.5)" fill="#f81818"/>
<ellipse cx="285.8" cy="352.7" rx="1.5" ry="1.3" transform="rotate(163 285.8 352.7)" fill="#f81818"/>
<ellipse cx="272.1" cy="349.9" rx="1.5" ry="1.3" transform="rotate(70 272.1 349.9)" fill="#f81818"/>
<ellipse cx="259.5" cy="348.2" rx="1.4" ry="1.1" transform="rotate(8 259.5 348.2)" fill="#f81818"/>
<ellipse cx="242.4" cy="338.8" rx="2.2" ry="2" transform="rotate(172 242.4 338.8)" fill="#f81818"/>
<ellipse cx="296.5" cy="344.5" rx="1.5" ry="1.3" transform="rotate(25 296.5 344.5)" fill="#f81818"/>
<ellipse cx="265" cy="335.9" rx="1.5" ry="1.1" transform="rotate(105 265 335.9)" fill="#f81818"/>
<ellipse cx="265.7" cy="374.8" rx="2.3" ry="1.8" transform="rotate(39 265.7 374.8)" fill="#f81818"/>
<ellipse cx="301" cy="364.2" rx="2.2" ry="1.9" transform="rotate(54 301 364.2)" fill="#f81818"/>
<ellipse cx="247.7" cy="334.9" rx="2" ry="1.3" transform="rotate(25 247.7 334.9)" fill="#f81818"/>
<ellipse cx="299.5" cy="373.7" rx="1.4" ry="0.9" transform="rotate(105 299.5 373.7)" fill="#f81818"/>
<ellipse cx="277.8" cy="343.3" rx="1.7" ry="1.3" transform="rotate(116 277.8 343.3)" fill="#f81818"/>
<ellipse cx="249" cy="353.7" rx="1.6" ry="1.3" transform="rotate(143 249 353.7)" fill="#f81818"/>
<ellipse cx="242.6" cy="344.6" rx="1.7" ry="1.1" transform="rotate(166 242.6 344.6)" fill="#f81818"/>
<ellipse cx="248.1" cy="360.7" rx="2.1" ry="1.8" transform="rotate(62 248.1 360.7)" fill="#f81818"/>
<ellipse cx="283.6" cy="373.3" rx="2.2" ry="2" transform="rotate(165 283.6 373.3)" fill="#f81818"/>
<ellipse cx="290.6" cy="370.4" rx="1.8" ry="1.7" transform="rotate(12 290.6 370.4)" fill="#f81818"/>
<ellipse cx="280.5" cy="366.6" rx="1.7" ry="1.2" transform="rotate(41 280.5 366.6)" fill="#f81818"/>
<ellipse cx="254.1" cy="341.9" rx="2.2" ry="1.9" transform="rotate(6 254.1 341.9)" fill="#f81818"/>
<ellipse cx="301.4" cy="348.2" rx="2.2" ry="1.7" transform="rotate(157 301.4 348.2)" fill="#f81818"/>
<ellipse cx="262.1" cy="355.4" rx="1.8" ry="1.5" transform="rotate(29 262.1 355.4)" fill="#f81818"/>
<ellipse cx="287.2" cy="334" rx="1.9" ry="1.4" transform="rotate(125 287.2 334)" fill="#f81818"/>
<ellipse cx="256" cy="353.1" rx="2.2" ry="1.6" transform="rotate(135 256 353.1)" fill="#f81818"/>
</g>
<text font-size="6.2" font-family="'Liberation Serif', serif" fill="#fff" font-weight="bold" x="239.2" y="337.9">(f15)</text>
<text font-size="4.7" font-family="'Liberation Sans', sans-serif" text-anchor="middle" fill="#f4f4f4" x="290.6" y="372.2">100μm</text>
<line x1="279.1" y1="373.8" x2="302.1" y2="373.8" stroke="#f4f4f4" stroke-width="0.7"/>
</g>
<g id="panel_d">
<text font-size="15" font-family="'Liberation Sans', sans-serif" fill="#1a1a1a" x="451.4" y="20.5">d</text>
<rect x="507.5" y="30.8" width="12" height="12" fill="#35a0c4" shape-rendering="crispEdges"/>
<rect x="507.5" y="42.5" width="12" height="12" fill="#5bb8d4" shape-rendering="crispEdges"/>
<rect x="519.2" y="42.5" width="12" height="12" fill="#6b6f9a" shape-rendering="crispEdges"/>
<rect x="507.5" y="54.2" width="12" height="12" fill="#4b86ae" shape-rendering="crispEdges"/>
<rect x="519.2" y="54.2" width="12" height="12" fill="#dff3fa" shape-rendering="crispEdges"/>
<rect x="530.9" y="54.2" width="12" height="12" fill="#87587c" shape-rendering="crispEdges"/>
<rect x="507.5" y="65.9" width="12" height="12" fill="#d22040" shape-rendering="crispEdges"/>
<rect x="519.2" y="65.9" width="12" height="12" fill="#d61a3a" shape-rendering="crispEdges"/>
<rect x="530.9" y="65.9" width="12" height="12" fill="#c82848" shape-rendering="crispEdges"/>
<rect x="542.6" y="65.9" width="12" height="12" fill="#d42040" shape-rendering="crispEdges"/>
<rect x="519.2" y="77.6" width="12" height="12" fill="#4b8ab2" shape-rendering="crispEdges"/>
<rect x="530.9" y="77.6" width="12" height="12" fill="#cfe4ef" shape-rendering="crispEdges"/>
<rect x="542.6" y="77.6" width="12" height="12" fill="#5b7fa6" shape-rendering="crispEdges"/>
<rect x="554.3" y="77.6" width="12" height="12" fill="#3a90bc" shape-rendering="crispEdges"/>
<rect x="507.5" y="89.3" width="12" height="12" fill="#7a6288" shape-rendering="crispEdges"/>
<rect x="530.9" y="89.3" width="12" height="12" fill="#4a8cb4" shape-rendering="crispEdges"/>
<rect x="554.3" y="89.3" width="12" height="12" fill="#c82848" shape-rendering="crispEdges"/>
<rect x="566" y="89.3" width="12" height="12" fill="#5f7aa2" shape-rendering="crispEdges"/>
<rect x="507.5" y="101" width="12" height="12" fill="#d5ebf3" shape-rendering="crispEdges"/>
<rect x="530.9" y="101" width="12" height="12" fill="#9fd0e2" shape-rendering="crispEdges"/>
<rect x="554.3" y="101" width="12" height="12" fill="#d41c3c" shape-rendering="crispEdges"/>
<rect x="566" y="101" width="12" height="12" fill="#4a8cb4" shape-rendering="crispEdges"/>
<rect x="507.5" y="112.7" width="12" height="12" fill="#a04060" shape-rendering="crispEdges"/>
<rect x="519.2" y="112.7" width="12" height="12" fill="#6ebcd8" shape-rendering="crispEdges"/>
<rect x="530.9" y="112.7" width="12" height="12" fill="#6c6c98" shape-rendering="crispEdges"/>
<rect x="554.3" y="112.7" width="12" height="12" fill="#c42c4c" shape-rendering="crispEdges"/>
<rect x="566" y="112.7" width="12" height="12" fill="#76688e" shape-rendering="crispEdges"/>
<rect x="577.7" y="112.7" width="12" height="12" fill="#3d96b8" shape-rendering="crispEdges"/>
<rect x="589.4" y="112.7" width="12" height="12" fill="#8fd4e8" shape-rendering="crispEdges"/>
<rect x="519.2" y="124.4" width="12" height="12" fill="#4a8ab0" shape-rendering="crispEdges"/>
<rect x="542.6" y="124.4" width="12" height="12" fill="#845a80" shape-rendering="crispEdges"/>
<rect x="554.3" y="124.4" width="12" height="12" fill="#865a7e" shape-rendering="crispEdges"/>
<rect x="577.7" y="124.4" width="12" height="12" fill="#7bbcd6" shape-rendering="crispEdges"/>
<rect x="601.1" y="124.4" width="12" height="12" fill="#a6bcd0" shape-rendering="crispEdges"/>
<rect x="507.5" y="136.1" width="12" height="12" fill="#3eb0d2" shape-rendering="crispEdges"/>
<rect x="519.2" y="136.1" width="12" height="12" fill="#84587e" shape-rendering="crispEdges"/>
<rect x="530.9" y="136.1" width="12" height="12" fill="#2f9ecb" shape-rendering="crispEdges"/>
<rect x="542.6" y="136.1" width="12" height="12" fill="#825a80" shape-rendering="crispEdges"/>
<rect x="566" y="136.1" width="12" height="12" fill="#b03c5c" shape-rendering="crispEdges"/>
<rect x="577.7" y="136.1" width="12" height="12" fill="#8a5880" shape-rendering="crispEdges"/>
<rect x="589.4" y="136.1" width="12" height="12" fill="#5a80a8" shape-rendering="crispEdges"/>
<rect x="601.1" y="136.1" width="12" height="12" fill="#984868" shape-rendering="crispEdges"/>
<rect x="612.8" y="136.1" width="12" height="12" fill="#944a6c" shape-rendering="crispEdges"/>
<rect x="507.5" y="147.8" width="12" height="12" fill="#ee0020" shape-rendering="crispEdges"/>
<rect x="519.2" y="147.8" width="12" height="12" fill="#ee0020" shape-rendering="crispEdges"/>
<rect x="530.9" y="147.8" width="12" height="12" fill="#ee0020" shape-rendering="crispEdges"/>
<rect x="542.6" y="147.8" width="12" height="12" fill="#ee0020" shape-rendering="crispEdges"/>
<rect x="566" y="147.8" width="12" height="12" fill="#ee0020" shape-rendering="crispEdges"/>
<rect x="577.7" y="147.8" width="12" height="12" fill="#ee0020" shape-rendering="crispEdges"/>
<rect x="589.4" y="147.8" width="12" height="12" fill="#ee0020" shape-rendering="crispEdges"/>
<rect x="601.1" y="147.8" width="12" height="12" fill="#ee0020" shape-rendering="crispEdges"/>
<rect x="612.8" y="147.8" width="12" height="12" fill="#ee0020" shape-rendering="crispEdges"/>
<rect x="624.5" y="147.8" width="12" height="12" fill="#b03858" shape-rendering="crispEdges"/>
<text font-size="6.8" font-family="'Liberation Serif', serif" text-anchor="end" fill="#222" x="506.5" y="26.8" stroke="#222" stroke-width="0.1">Afghanistan</text>
<text font-size="6.8" font-family="'Liberation Serif', serif" text-anchor="end" fill="#222" transform="translate(515 160.8) rotate(-90)" stroke="#222" stroke-width="0.1">Afghanistan</text>
<text font-size="6.8" font-family="'Liberation Serif', serif" text-anchor="end" fill="#222" x="505.8" y="38.5" stroke="#222" stroke-width="0.1">Belgium</text>
<text font-size="6.8" font-family="'Liberation Serif', serif" text-anchor="end" fill="#222" transform="translate(526.7 160.8) rotate(-90)" stroke="#222" stroke-width="0.1">Belgium</text>
<text font-size="6.8" font-family="'Liberation Serif', serif" text-anchor="end" fill="#222" x="504.7" y="50.2" stroke="#222" stroke-width="0.1">China</text>
<text font-size="6.8" font-family="'Liberation Serif', serif" text-anchor="end" fill="#222" transform="translate(538.4 160.8) rotate(-90)" stroke="#222" stroke-width="0.1">China</text>
<text font-size="6.8" font-family="'Liberation Serif', serif" text-anchor="end" fill="#222" x="505.6" y="61.9" stroke="#222" stroke-width="0.1">Georgia</text>
<text font-size="6.8" font-family="'Liberation Serif', serif" text-anchor="end" fill="#222" transform="translate(550.1 160.8) rotate(-90)" stroke="#222" stroke-width="0.1">Georgia</text>
<text font-size="6.8" font-family="'Liberation Serif', serif" text-anchor="end" fill="#222" x="503.6" y="73.6" stroke="#222" stroke-width="0.1">India</text>
<text font-size="6.8" font-family="'Liberation Serif', serif" text-anchor="end" fill="#222" transform="translate(561.8 160.8) rotate(-90)" stroke="#222" stroke-width="0.1">India</text>
<text font-size="6.8" font-family="'Liberation Serif', serif" text-anchor="end" fill="#222" x="503.6" y="85.3" stroke="#222" stroke-width="0.1">Japan</text>
<text font-size="6.8" font-family="'Liberation Serif', serif" text-anchor="end" fill="#222" transform="translate(573.5 160.8) rotate(-90)" stroke="#222" stroke-width="0.1">Japan</text>
<text font-size="6.8" font-family="'Liberation Serif', serif" text-anchor="end" fill="#222" x="505.3" y="97" stroke="#222" stroke-width="0.1">Macedonia</text>
<text font-size="6.8" font-family="'Liberation Serif', serif" text-anchor="end" fill="#222" transform="translate(585.2 160.8) rotate(-90)" stroke="#222" stroke-width="0.1">Macedonia</text>
<text font-size="6.8" font-family="'Liberation Serif', serif" text-anchor="end" fill="#222" x="503.6" y="108.7" stroke="#222" stroke-width="0.1">Syria</text>
<text font-size="6.8" font-family="'Liberation Serif', serif" text-anchor="end" fill="#222" transform="translate(596.9 160.8) rotate(-90)" stroke="#222" stroke-width="0.1">Syria</text>
<text font-size="6.8" font-family="'Liberation Serif', serif" text-anchor="end" fill="#222" x="504.7" y="120.4" stroke="#222" stroke-width="0.1">UnitedStates</text>
<text font-size="6.8" font-family="'Liberation Serif', serif" text-anchor="end" fill="#222" transform="translate(608.6 160.8) rotate(-90)" stroke="#222" stroke-width="0.1">UnitedStates</text>
<text font-size="6.8" font-family="'Liberation Serif', serif" text-anchor="end" fill="#222" x="506.1" y="132.1" stroke="#222" stroke-width="0.1">S.hybrids</text>
<text font-size="6.8" font-family="'Liberation Serif', serif" text-anchor="end" fill="#222" transform="translate(620.3 160.8) rotate(-90)" stroke="#222" stroke-width="0.1">S.hybrids</text>
<text font-size="6.8" font-family="'Liberation Serif', serif" text-anchor="end" fill="#222" font-style="italic" x="506.2" y="143.8" stroke="#222" stroke-width="0.1">S.turkestanica</text>
<text font-size="6.8" font-family="'Liberation Serif', serif" text-anchor="end" fill="#222" font-style="italic" transform="translate(632 160.8) rotate(-90)" stroke="#222" stroke-width="0.1">S.turkestanica</text>
<text font-size="6.8" font-family="'Liberation Serif', serif" text-anchor="end" fill="#222" font-style="italic" x="506.2" y="155.5" stroke="#222" stroke-width="0.1">S.tetrandra</text>
<text font-size="6.8" font-family="'Liberation Serif', serif" text-anchor="end" fill="#222" font-style="italic" transform="translate(643.7 160.8) rotate(-90)" stroke="#222" stroke-width="0.1">S.tetrandra</text>
<defs><linearGradient id="lgh" x1="0" y1="0" x2="1" y2="0"><stop offset="0" stop-color="#00b8e2"/><stop offset="0.5" stop-color="#7a6e94"/><stop offset="1" stop-color="#ea0028"/></linearGradient><linearGradient id="lgv" x1="0" y1="0" x2="0" y2="1"><stop offset="0" stop-color="#fff" stop-opacity="1"/><stop offset="1" stop-color="#fff" stop-opacity="0"/></linearGradient></defs>
<rect x="588.6" y="40" width="48.9" height="45.8" fill="url(#lgh)"/>
<rect x="588.6" y="40" width="48.9" height="45.8" fill="url(#lgv)"/>
<text font-size="7.2" font-family="'Liberation Serif', serif" text-anchor="middle" fill="#222" x="614.5" y="32.6" stroke="#222" stroke-width="0.12">D</text>
<text font-size="5.8" font-family="'Liberation Serif', serif" fill="#222" textLength="7.6" lengthAdjust="spacingAndGlyphs" x="588.2" y="36.2">0.0</text>
<text font-size="5.8" font-family="'Liberation Serif', serif" fill="#222" textLength="7.2" lengthAdjust="spacingAndGlyphs" x="632.2" y="36.2">0.1</text>
<text font-size="6.8" font-family="'Liberation Serif', serif" text-anchor="middle" fill="#222" textLength="16.6" lengthAdjust="spacingAndGlyphs" transform="translate(578.8 56.9) rotate(-90)" stroke="#222" stroke-width="0.1">log(p)</text>
<text font-size="5.6" font-family="'Liberation Serif', serif" text-anchor="end" fill="#222" x="587" y="40.8" stroke="#222" stroke-width="0.12">-1</text>
<text font-size="5.6" font-family="'Liberation Serif', serif" text-anchor="end" fill="#222" x="587" y="47.3" stroke="#222" stroke-width="0.12">-2</text>
<text font-size="5.6" font-family="'Liberation Serif', serif" text-anchor="end" fill="#222" x="587" y="53.8" stroke="#222" stroke-width="0.12">-3</text>
<text font-size="5.6" font-family="'Liberation Serif', serif" text-anchor="end" fill="#222" x="587" y="60.3" stroke="#222" stroke-width="0.12">-4</text>
<text font-size="5.6" font-family="'Liberation Serif', serif" text-anchor="end" fill="#222" x="587" y="66.8" stroke="#222" stroke-width="0.12">-5</text>
<text font-size="5.6" font-family="'Liberation Serif', serif" text-anchor="end" fill="#222" x="587" y="73.3" stroke="#222" stroke-width="0.12">-6</text>
<text font-size="5.6" font-family="'Liberation Serif', serif" text-anchor="end" fill="#222" x="587" y="79.8" stroke="#222" stroke-width="0.12">-7</text>
<text font-size="5.6" font-family="'Liberation Serif', serif" text-anchor="end" fill="#222" x="587" y="86.3" stroke="#222" stroke-width="0.12">-8</text>
</g>
<g id="panel_efg">
<defs><radialGradient id="lfi" cx="0.35" cy="0.35" r="0.8"><stop offset="0" stop-color="#b6ea7c"/><stop offset="0.6" stop-color="#68c438"/><stop offset="1" stop-color="#46a62a"/></radialGradient></defs>
<text font-size="15" font-family="'Liberation Sans', sans-serif" fill="#1a1a1a" x="325.8" y="220.5">e</text>
<line x1="365.8" y1="249.1" x2="645" y2="249.1" stroke="#f8b4b4" stroke-width="0.55"/>
<path d="M373.2 249.4 L373.7 249.4 L373.7 244.5 L374.2 244.5 L374.2 244.5 L374.7 244.5 L374.7 244.5 L375.2 244.5 L375.2 245 L375.7 245 L375.7 245 L376.2 245 L376.2 245 L376.7 245 L376.7 245 L377.2 245 L377.2 245 L377.7 245 L377.7 245.9 L378.2 245.9 L378.2 247.2 L378.7 247.2 L378.7 244.8 L379.2 244.8 L379.2 247.9 L379.7 247.9 L379.7 249.8 L380.2 249.8 L380.2 249.7 L380.7 249.7 L380.7 245 L381.2 245 L381.2 245 L381.7 245 L381.7 245 L382.2 245 L382.2 243.3 L382.7 243.3 L382.7 243.3 L383.2 243.3 L383.2 249.7 L383.7 249.7 L383.7 250.1 L384.2 250.1 L384.2 249.6 L384.7 249.6 L384.7 249.7 L385.2 249.7 L385.2 250 L385.7 250 L385.7 250.2 L386.2 250.2 L386.2 249.5 L386.7 249.5 L386.7 249.8 L387.2 249.8 L387.2 249.6 L387.7 249.6 L387.7 249.5 L388.2 249.5 L388.2 249.6 L388.7 249.6 L388.7 245.7 L389.2 245.7 L389.2 245.7 L389.7 245.7 L389.7 249.6 L390.2 249.6 L390.2 249.8 L390.7 249.8 L390.7 249.5 L391.2 249.5 L391.2 249.5 L391.7 249.5 L391.7 250.1 L392.2 250.1 L392.2 250.1 L392.7 250.1 L392.7 250 L393.2 250 L393.2 249.4 L393.7 249.4 L393.7 245.8 L394.2 245.8 L394.2 245.8 L394.7 245.8 L394.7 243.9 L395.2 243.9 L395.2 243.9 L395.7 243.9 L395.7 243.9 L396.2 243.9 L396.2 243.9 L396.7 243.9 L396.7 242.1 L397.2 242.1 L397.2 242.1 L397.7 242.1 L397.7 242.1 L398.2 242.1 L398.2 244.1 L398.7 244.1 L398.7 244.9 L399.2 244.9 L399.2 251.5 L399.7 251.5 L399.7 250.6 L400.2 250.6 L400.2 249.4 L400.7 249.4 L400.7 248 L401.2 248 L401.2 249.5 L401.7 249.5 L401.7 249.4 L402.2 249.4 L402.2 245.2 L402.7 245.2 L402.7 245.6 L403.2 245.6 L403.2 244.6 L403.7 244.6 L403.7 250 L404.2 250 L404.2 249.5 L404.7 249.5 L404.7 245.9 L405.2 245.9 L405.2 246.2 L405.7 246.2 L405.7 246.5 L406.2 246.5 L406.2 244.6 L406.7 244.6 L406.7 244.6 L407.2 244.6 L407.2 245.8 L407.7 245.8 L407.7 245.8 L408.2 245.8 L408.2 245.8 L408.7 245.8 L408.7 245.8 L409.2 245.8 L409.2 250 L409.7 250 L409.7 249.6 L410.2 249.6 L410.2 251.4 L410.7 251.4 L410.7 244.7 L411.2 244.7 L411.2 249.8 L411.7 249.8 L411.7 251.5 L412.2 251.5 L412.2 249.6 L412.7 249.6 L412.7 249.9 L413.2 249.9 L413.2 249.5 L413.7 249.5 L413.7 249.4 L414.2 249.4 L414.2 249.8 L414.7 249.8 L414.7 249.4 L415.2 249.4 L415.2 250 L415.7 250 L415.7 250.1 L416.2 250.1 L416.2 249.7 L416.7 249.7 L416.7 250.2 L417.2 250.2 L417.2 250 L417.7 250 L417.7 245.6 L418.2 245.6 L418.2 245.6 L418.7 245.6 L418.7 250.1 L419.2 250.1 L419.2 250.2 L419.7 250.2 L419.7 245.3 L420.2 245.3 L420.2 245.3 L420.7 245.3 L420.7 246 L421.2 246 L421.2 249.5 L421.7 249.5 L421.7 249.9 L422.2 249.9 L422.2 249.8 L422.7 249.8 L422.7 249.8 L423.2 249.8 L423.2 249.7 L423.7 249.7 L423.7 249.7 L424.2 249.7 L424.2 249.8 L424.7 249.8 L424.7 245.2 L425.2 245.2 L425.2 243.5 L425.7 243.5 L425.7 243.5 L426.2 243.5 L426.2 243.5 L426.7 243.5 L426.7 243.5 L427.2 243.5 L427.2 244.3 L427.7 244.3 L427.7 250 L428.2 250 L428.2 249.4 L428.7 249.4 L428.7 249.8 L429.2 249.8 L429.2 247.3 L429.7 247.3 L429.7 247.3 L430.2 247.3 L430.2 247.3 L430.7 247.3 L430.7 248.3 L431.2 248.3 L431.2 250.2 L431.7 250.2 L431.7 249.7 L432.2 249.7 L432.2 249.7 L432.7 249.7 L432.7 250.2 L433.2 250.2 L433.2 249.7 L433.7 249.7 L433.7 246.1 L434.2 246.1 L434.2 250.5 L434.7 250.5 L434.7 263.9 L434.2 263.9 L434.2 265.2 L433.7 265.2 L433.7 265.1 L433.2 265.1 L433.2 264.5 L432.7 264.5 L432.7 264.8 L432.2 264.8 L432.2 265.6 L431.7 265.6 L431.7 266.9 L431.2 266.9 L431.2 265.4 L430.7 265.4 L430.7 265.4 L430.2 265.4 L430.2 265.1 L429.7 265.1 L429.7 266 L429.2 266 L429.2 269.7 L428.7 269.7 L428.7 269.7 L428.2 269.7 L428.2 269.7 L427.7 269.7 L427.7 265.9 L427.2 265.9 L427.2 266.8 L426.7 266.8 L426.7 266.8 L426.2 266.8 L426.2 265.3 L425.7 265.3 L425.7 265.9 L425.2 265.9 L425.2 266.9 L424.7 266.9 L424.7 266.9 L424.2 266.9 L424.2 266.9 L423.7 266.9 L423.7 266.9 L423.2 266.9 L423.2 265.6 L422.7 265.6 L422.7 266 L422.2 266 L422.2 266.7 L421.7 266.7 L421.7 267.2 L421.2 267.2 L421.2 266.6 L420.7 266.6 L420.7 264.5 L420.2 264.5 L420.2 263.9 L419.7 263.9 L419.7 271.9 L419.2 271.9 L419.2 270.2 L418.7 270.2 L418.7 270.5 L418.2 270.5 L418.2 270.5 L417.7 270.5 L417.7 265.8 L417.2 265.8 L417.2 265.1 L416.7 265.1 L416.7 267.7 L416.2 267.7 L416.2 266.9 L415.7 266.9 L415.7 264.9 L415.2 264.9 L415.2 266.1 L414.7 266.1 L414.7 265.8 L414.2 265.8 L414.2 266 L413.7 266 L413.7 265.1 L413.2 265.1 L413.2 265.9 L412.7 265.9 L412.7 270.5 L412.2 270.5 L412.2 270.5 L411.7 270.5 L411.7 270.5 L411.2 270.5 L411.2 270.5 L410.7 270.5 L410.7 269.8 L410.2 269.8 L410.2 265.4 L409.7 265.4 L409.7 268.2 L409.2 268.2 L409.2 268.2 L408.7 268.2 L408.7 268.2 L408.2 268.2 L408.2 268.2 L407.7 268.2 L407.7 268.2 L407.2 268.2 L407.2 266 L406.7 266 L406.7 266.7 L406.2 266.7 L406.2 269.7 L405.7 269.7 L405.7 270.4 L405.2 270.4 L405.2 270.4 L404.7 270.4 L404.7 270.4 L404.2 270.4 L404.2 271.8 L403.7 271.8 L403.7 271.8 L403.2 271.8 L403.2 271.8 L402.7 271.8 L402.7 265.5 L402.2 265.5 L402.2 265.5 L401.7 265.5 L401.7 265.5 L401.2 265.5 L401.2 269 L400.7 269 L400.7 265.4 L400.2 265.4 L400.2 265.9 L399.7 265.9 L399.7 265.4 L399.2 265.4 L399.2 265.2 L398.7 265.2 L398.7 265.4 L398.2 265.4 L398.2 265.9 L397.7 265.9 L397.7 265.7 L397.2 265.7 L397.2 265.9 L396.7 265.9 L396.7 265.4 L396.2 265.4 L396.2 263.7 L395.7 263.7 L395.7 264.6 L395.2 264.6 L395.2 264.5 L394.7 264.5 L394.7 265.3 L394.2 265.3 L394.2 268.2 L393.7 268.2 L393.7 268.2 L393.2 268.2 L393.2 265.3 L392.7 265.3 L392.7 267.2 L392.2 267.2 L392.2 267.2 L391.7 267.2 L391.7 270.8 L391.2 270.8 L391.2 270.8 L390.7 270.8 L390.7 270.8 L390.2 270.8 L390.2 266 L389.7 266 L389.7 265.5 L389.2 265.5 L389.2 270.6 L388.7 270.6 L388.7 270.6 L388.2 270.6 L388.2 270.4 L387.7 270.4 L387.7 265.2 L387.2 265.2 L387.2 265.8 L386.7 265.8 L386.7 265.5 L386.2 265.5 L386.2 270.4 L385.7 270.4 L385.7 270.4 L385.2 270.4 L385.2 270.4 L384.7 270.4 L384.7 267.8 L384.2 267.8 L384.2 265.4 L383.7 265.4 L383.7 265.8 L383.2 265.8 L383.2 264.6 L382.7 264.6 L382.7 265.1 L382.2 265.1 L382.2 265.9 L381.7 265.9 L381.7 265.5 L381.2 265.5 L381.2 265.4 L380.7 265.4 L380.7 265.7 L380.2 265.7 L380.2 265.5 L379.7 265.5 L379.7 265.4 L379.2 265.4 L379.2 265.5 L378.7 265.5 L378.7 265.4 L378.2 265.4 L378.2 265.7 L377.7 265.7 L377.7 265.6 L377.2 265.6 L377.2 265.4 L376.7 265.4 L376.7 266.1 L376.2 266.1 L376.2 267.7 L375.7 267.7 L375.7 268 L375.2 268 L375.2 268 L374.7 268 L374.7 265.8 L374.2 265.8 L374.2 265.8 L373.7 265.8 L373.7 264.1 L373.2 264.1Z" fill="#8dea8d"/>
<path d="M434.7 252.9 L435.2 252.9 L435.2 249.7 L435.7 249.7 L435.7 246.6 L436.2 246.6 L436.2 246.6 L436.7 246.6 L436.7 246.6 L437.2 246.6 L437.2 248 L437.7 248 L437.7 246.6 L438.2 246.6 L438.2 244.1 L438.7 244.1 L438.7 244.1 L439.2 244.1 L439.2 244.1 L439.7 244.1 L439.7 250.1 L440.2 250.1 L440.2 249.8 L440.7 249.8 L440.7 249.7 L441.2 249.7 L441.2 245.6 L441.7 245.6 L441.7 246.6 L442.2 246.6 L442.2 250 L442.7 250 L442.7 250.2 L443.2 250.2 L443.2 250.1 L443.7 250.1 L443.7 249.8 L444.2 249.8 L444.2 250 L444.7 250 L444.7 249.6 L445.2 249.6 L445.2 249.8 L445.7 249.8 L445.7 249.5 L446.2 249.5 L446.2 243.2 L446.7 243.2 L446.7 243.2 L447.2 243.2 L447.2 249.6 L447.7 249.6 L447.7 251.9 L448.2 251.9 L448.2 249.8 L448.7 249.8 L448.7 249.4 L449.2 249.4 L449.2 242.5 L449.7 242.5 L449.7 242.3 L450.2 242.3 L450.2 242.3 L450.7 242.3 L450.7 242.3 L451.2 242.3 L451.2 248 L451.7 248 L451.7 250.1 L452.2 250.1 L452.2 249.6 L452.7 249.6 L452.7 249.7 L453.2 249.7 L453.2 249.7 L453.7 249.7 L453.7 249.9 L454.2 249.9 L454.2 245.1 L454.7 245.1 L454.7 246.8 L455.2 246.8 L455.2 246.4 L455.7 246.4 L455.7 244.5 L456.2 244.5 L456.2 243.1 L456.7 243.1 L456.7 243.7 L457.2 243.7 L457.2 243.8 L457.7 243.8 L457.7 250.1 L458.2 250.1 L458.2 248.4 L458.7 248.4 L458.7 249.9 L459.2 249.9 L459.2 245.5 L459.7 245.5 L459.7 245.5 L460.2 245.5 L460.2 242.4 L460.7 242.4 L460.7 242.4 L461.2 242.4 L461.2 245.5 L461.7 245.5 L461.7 249.9 L462.2 249.9 L462.2 249.5 L462.7 249.5 L462.7 250 L463.2 250 L463.2 242.6 L463.7 242.6 L463.7 249.8 L464.2 249.8 L464.2 243.9 L464.7 243.9 L464.7 243.9 L465.2 243.9 L465.2 243.9 L465.7 243.9 L465.7 243.9 L466.2 243.9 L466.2 243.9 L466.7 243.9 L466.7 249.7 L467.2 249.7 L467.2 251.4 L467.7 251.4 L467.7 251.5 L468.2 251.5 L468.2 250 L468.7 250 L468.7 250.1 L469.2 250.1 L469.2 249.7 L469.7 249.7 L469.7 250 L470.2 250 L470.2 249.6 L470.7 249.6 L470.7 250 L471.2 250 L471.2 249.5 L471.7 249.5 L471.7 249.5 L472.2 249.5 L472.2 249.4 L472.7 249.4 L472.7 250.1 L473.2 250.1 L473.2 244.4 L473.7 244.4 L473.7 244.4 L474.2 244.4 L474.2 244.4 L474.7 244.4 L474.7 244.4 L475.2 244.4 L475.2 250.1 L475.7 250.1 L475.7 244.5 L476.2 244.5 L476.2 244.5 L476.7 244.5 L476.7 249.7 L477.2 249.7 L477.2 249.8 L477.7 249.8 L477.7 249.8 L478.2 249.8 L478.2 250.2 L478.7 250.2 L478.7 249.7 L479.2 249.7 L479.2 267.1 L478.7 267.1 L478.7 269.8 L478.2 269.8 L478.2 269.8 L477.7 269.8 L477.7 269.8 L477.2 269.8 L477.2 265.7 L476.7 265.7 L476.7 266.7 L476.2 266.7 L476.2 266.7 L475.7 266.7 L475.7 266.7 L475.2 266.7 L475.2 270.1 L474.7 270.1 L474.7 270.1 L474.2 270.1 L474.2 270.1 L473.7 270.1 L473.7 268.9 L473.2 268.9 L473.2 265.7 L472.7 265.7 L472.7 265.6 L472.2 265.6 L472.2 266.1 L471.7 266.1 L471.7 265.9 L471.2 265.9 L471.2 266 L470.7 266 L470.7 266.1 L470.2 266.1 L470.2 265.4 L469.7 265.4 L469.7 265.9 L469.2 265.9 L469.2 265.7 L468.7 265.7 L468.7 267.4 L468.2 267.4 L468.2 267.4 L467.7 267.4 L467.7 265.4 L467.2 265.4 L467.2 265.3 L466.7 265.3 L466.7 265.5 L466.2 265.5 L466.2 266.8 L465.7 266.8 L465.7 266.9 L465.2 266.9 L465.2 268.6 L464.7 268.6 L464.7 269.4 L464.2 269.4 L464.2 269.4 L463.7 269.4 L463.7 268.2 L463.2 268.2 L463.2 267.5 L462.7 267.5 L462.7 269.4 L462.2 269.4 L462.2 272 L461.7 272 L461.7 272 L461.2 272 L461.2 272 L460.7 272 L460.7 265.3 L460.2 265.3 L460.2 265.5 L459.7 265.5 L459.7 266.9 L459.2 266.9 L459.2 266.9 L458.7 266.9 L458.7 265.7 L458.2 265.7 L458.2 265.6 L457.7 265.6 L457.7 265.7 L457.2 265.7 L457.2 267.4 L456.7 267.4 L456.7 267.4 L456.2 267.4 L456.2 265.6 L455.7 265.6 L455.7 269.1 L455.2 269.1 L455.2 269.1 L454.7 269.1 L454.7 269.1 L454.2 269.1 L454.2 269.1 L453.7 269.1 L453.7 267.3 L453.2 267.3 L453.2 263.5 L452.7 263.5 L452.7 265.5 L452.2 265.5 L452.2 265.5 L451.7 265.5 L451.7 265.9 L451.2 265.9 L451.2 265.4 L450.7 265.4 L450.7 265.1 L450.2 265.1 L450.2 265.6 L449.7 265.6 L449.7 267.7 L449.2 267.7 L449.2 267.7 L448.7 267.7 L448.7 267 L448.2 267 L448.2 265.1 L447.7 265.1 L447.7 265.6 L447.2 265.6 L447.2 265.3 L446.7 265.3 L446.7 266 L446.2 266 L446.2 265.2 L445.7 265.2 L445.7 265.6 L445.2 265.6 L445.2 269.2 L444.7 269.2 L444.7 269.2 L444.2 269.2 L444.2 265.9 L443.7 265.9 L443.7 265.5 L443.2 265.5 L443.2 265.9 L442.7 265.9 L442.7 265.4 L442.2 265.4 L442.2 265.3 L441.7 265.3 L441.7 267.7 L441.2 267.7 L441.2 267.7 L440.7 267.7 L440.7 270.5 L440.2 270.5 L440.2 270.5 L439.7 270.5 L439.7 270.5 L439.2 270.5 L439.2 267.4 L438.7 267.4 L438.7 267.4 L438.2 267.4 L438.2 265.1 L437.7 265.1 L437.7 265.9 L437.2 265.9 L437.2 265.9 L436.7 265.9 L436.7 266.7 L436.2 266.7 L436.2 266.7 L435.7 266.7 L435.7 265.4 L435.2 265.4 L435.2 264 L434.7 264Z" fill="#6fb3ea"/>
<path d="M479.2 253.2 L479.7 253.2 L479.7 243.9 L480.2 243.9 L480.2 243.9 L480.7 243.9 L480.7 248.4 L481.2 248.4 L481.2 248.4 L481.7 248.4 L481.7 249.8 L482.2 249.8 L482.2 249.9 L482.7 249.9 L482.7 249.5 L483.2 249.5 L483.2 250 L483.7 250 L483.7 248 L484.2 248 L484.2 248 L484.7 248 L484.7 250.9 L485.2 250.9 L485.2 251.2 L485.7 251.2 L485.7 246.5 L486.2 246.5 L486.2 246.5 L486.7 246.5 L486.7 246.5 L487.2 246.5 L487.2 244.6 L487.7 244.6 L487.7 247.9 L488.2 247.9 L488.2 249 L488.7 249 L488.7 248.7 L489.2 248.7 L489.2 248.9 L489.7 248.9 L489.7 246.4 L490.2 246.4 L490.2 242.2 L490.7 242.2 L490.7 242.2 L491.2 242.2 L491.2 249.4 L491.7 249.4 L491.7 249.6 L492.2 249.6 L492.2 249.4 L492.7 249.4 L492.7 250.2 L493.2 250.2 L493.2 250.1 L493.7 250.1 L493.7 250.2 L494.2 250.2 L494.2 249.9 L494.7 249.9 L494.7 249.9 L495.2 249.9 L495.2 250.2 L495.7 250.2 L495.7 249.8 L496.2 249.8 L496.2 250.1 L496.7 250.1 L496.7 250 L497.1 250 L497.1 250 L497.6 250 L497.6 249.6 L498.1 249.6 L498.1 249.9 L498.6 249.9 L498.6 250 L499.1 250 L499.1 248.1 L499.6 248.1 L499.6 248.1 L500.1 248.1 L500.1 248.1 L500.6 248.1 L500.6 249.7 L501.1 249.7 L501.1 249.5 L501.6 249.5 L501.6 249.6 L502.1 249.6 L502.1 250 L502.6 250 L502.6 251.1 L503.1 251.1 L503.1 250.7 L503.6 250.7 L503.6 244.2 L504.1 244.2 L504.1 242.8 L504.6 242.8 L504.6 251.1 L505.1 251.1 L505.1 245.1 L505.6 245.1 L505.6 245.4 L506.1 245.4 L506.1 243.8 L506.6 243.8 L506.6 250.2 L507.1 250.2 L507.1 245.4 L507.6 245.4 L507.6 245.4 L508.1 245.4 L508.1 249.5 L508.6 249.5 L508.6 249.8 L509.1 249.8 L509.1 249.7 L509.6 249.7 L509.6 249.5 L510.1 249.5 L510.1 249.5 L510.6 249.5 L510.6 249.7 L511.1 249.7 L511.1 249.9 L511.6 249.9 L511.6 249.8 L512.1 249.8 L512.1 250.1 L512.6 250.1 L512.6 242.3 L513.1 242.3 L513.1 242.3 L513.6 242.3 L513.6 242.3 L514.1 242.3 L514.1 247.9 L514.6 247.9 L514.6 262.7 L514.1 262.7 L514.1 263.9 L513.6 263.9 L513.6 263.9 L513.1 263.9 L513.1 265.8 L512.6 265.8 L512.6 265.3 L512.1 265.3 L512.1 270 L511.6 270 L511.6 270.9 L511.1 270.9 L511.1 265.2 L510.6 265.2 L510.6 266.1 L510.1 266.1 L510.1 265.3 L509.6 265.3 L509.6 265.1 L509.1 265.1 L509.1 265.6 L508.6 265.6 L508.6 268.5 L508.1 268.5 L508.1 268.5 L507.6 268.5 L507.6 267.2 L507.1 267.2 L507.1 267.2 L506.6 267.2 L506.6 266.1 L506.1 266.1 L506.1 265.4 L505.6 265.4 L505.6 265.1 L505.1 265.1 L505.1 265.9 L504.6 265.9 L504.6 266.8 L504.1 266.8 L504.1 268.5 L503.6 268.5 L503.6 270.6 L503.1 270.6 L503.1 270.6 L502.6 270.6 L502.6 270.6 L502.1 270.6 L502.1 270.6 L501.6 270.6 L501.6 270.6 L501.1 270.6 L501.1 265.2 L500.6 265.2 L500.6 266.1 L500.1 266.1 L500.1 265.4 L499.6 265.4 L499.6 264.5 L499.1 264.5 L499.1 264 L498.6 264 L498.6 265.5 L498.1 265.5 L498.1 267.8 L497.6 267.8 L497.6 267.8 L497.1 267.8 L497.1 266 L496.7 266 L496.7 265.4 L496.2 265.4 L496.2 265.4 L495.7 265.4 L495.7 269.1 L495.2 269.1 L495.2 269.1 L494.7 269.1 L494.7 265.3 L494.2 265.3 L494.2 266 L493.7 266 L493.7 266.3 L493.2 266.3 L493.2 268.1 L492.7 268.1 L492.7 266.1 L492.2 266.1 L492.2 266 L491.7 266 L491.7 269.2 L491.2 269.2 L491.2 269.2 L490.7 269.2 L490.7 269.2 L490.2 269.2 L490.2 265.2 L489.7 265.2 L489.7 266 L489.2 266 L489.2 265.8 L488.7 265.8 L488.7 265.4 L488.2 265.4 L488.2 270.7 L487.7 270.7 L487.7 270.7 L487.2 270.7 L487.2 270.7 L486.7 270.7 L486.7 268.3 L486.2 268.3 L486.2 268.3 L485.7 268.3 L485.7 266 L485.2 266 L485.2 265.9 L484.7 265.9 L484.7 266 L484.2 266 L484.2 265.5 L483.7 265.5 L483.7 265.6 L483.2 265.6 L483.2 265.4 L482.7 265.4 L482.7 268.5 L482.2 268.5 L482.2 266.1 L481.7 266.1 L481.7 265.6 L481.2 265.6 L481.2 265.9 L480.7 265.9 L480.7 265.6 L480.2 265.6 L480.2 266.7 L479.7 266.7 L479.7 265 L479.2 265Z" fill="#8dea8d"/>
<path d="M514.6 254 L515.1 254 L515.1 249.5 L515.6 249.5 L515.6 249.9 L516.1 249.9 L516.1 249.6 L516.6 249.6 L516.6 249.9 L517.1 249.9 L517.1 249.8 L517.6 249.8 L517.6 249.4 L518.1 249.4 L518.1 249.8 L518.6 249.8 L518.6 250.1 L519.1 250.1 L519.1 245.7 L519.6 245.7 L519.6 245.7 L520.1 245.7 L520.1 245.7 L520.6 245.7 L520.6 248 L521.1 248 L521.1 242.5 L521.6 242.5 L521.6 242.4 L522.1 242.4 L522.1 242.4 L522.6 242.4 L522.6 243.3 L523.1 243.3 L523.1 243.3 L523.6 243.3 L523.6 243.3 L524.1 243.3 L524.1 245.6 L524.6 245.6 L524.6 249.6 L525.1 249.6 L525.1 244.2 L525.6 244.2 L525.6 245.2 L526 245.2 L526 245.2 L526.5 245.2 L526.5 249.5 L527 249.5 L527 249.7 L527.5 249.7 L527.5 250.1 L528 250.1 L528 249.7 L528.5 249.7 L528.5 249.7 L529 249.7 L529 249.5 L529.5 249.5 L529.5 250 L530 250 L530 249.9 L530.5 249.9 L530.5 249.7 L531 249.7 L531 246.5 L531.5 246.5 L531.5 246.5 L532 246.5 L532 246.5 L532.5 246.5 L532.5 246.5 L533 246.5 L533 246.5 L533.5 246.5 L533.5 250 L534 250 L534 249.5 L534.5 249.5 L534.5 250.1 L535 250.1 L535 249.5 L535.5 249.5 L535.5 249.5 L536 249.5 L536 251.1 L536.5 251.1 L536.5 251.7 L537 251.7 L537 249.5 L537.5 249.5 L537.5 248.4 L538 248.4 L538 247.7 L538.5 247.7 L538.5 247.7 L539 247.7 L539 247.7 L539.5 247.7 L539.5 247.7 L540 247.7 L540 249.7 L540.5 249.7 L540.5 249.7 L541 249.7 L541 250.5 L541.5 250.5 L541.5 249.8 L542 249.8 L542 246.7 L542.5 246.7 L542.5 246 L543 246 L543 246 L543.5 246 L543.5 246 L544 246 L544 246 L544.5 246 L544.5 249.8 L545 249.8 L545 246.5 L545.5 246.5 L545.5 246.5 L546 246.5 L546 249.7 L546.5 249.7 L546.5 249.8 L547 249.8 L547 244.8 L547.5 244.8 L547.5 244.8 L547.9 244.8 L547.9 250.1 L548.4 250.1 L548.4 249.8 L548.9 249.8 L548.9 249.5 L549.4 249.5 L549.4 249.8 L549.9 249.8 L549.9 243.3 L550.4 243.3 L550.4 243.3 L550.9 243.3 L550.9 243.3 L551.4 243.3 L551.4 247.9 L551.9 247.9 L551.9 247.9 L552.4 247.9 L552.4 247.9 L552.9 247.9 L552.9 247.7 L553.4 247.7 L553.4 248.7 L553.9 248.7 L553.9 249.3 L554.4 249.3 L554.4 248.8 L554.9 248.8 L554.9 251.3 L555.4 251.3 L555.4 249.2 L555.9 249.2 L555.9 247.3 L556.4 247.3 L556.4 250.2 L556.9 250.2 L556.9 249.4 L557.4 249.4 L557.4 249.6 L557.9 249.6 L557.9 245.4 L558.4 245.4 L558.4 250 L558.9 250 L558.9 264 L558.4 264 L558.4 265.8 L557.9 265.8 L557.9 265.6 L557.4 265.6 L557.4 265.4 L556.9 265.4 L556.9 265.4 L556.4 265.4 L556.4 265.7 L555.9 265.7 L555.9 265.5 L555.4 265.5 L555.4 268.6 L554.9 268.6 L554.9 268.6 L554.4 268.6 L554.4 267 L553.9 267 L553.9 270.7 L553.4 270.7 L553.4 270.7 L552.9 270.7 L552.9 270.7 L552.4 270.7 L552.4 267.4 L551.9 267.4 L551.9 267.4 L551.4 267.4 L551.4 269.4 L550.9 269.4 L550.9 265.7 L550.4 265.7 L550.4 266 L549.9 266 L549.9 270.4 L549.4 270.4 L549.4 269 L548.9 269 L548.9 269.1 L548.4 269.1 L548.4 264.3 L547.9 264.3 L547.9 265.3 L547.5 265.3 L547.5 265.4 L547 265.4 L547 265.8 L546.5 265.8 L546.5 267.8 L546 267.8 L546 265.3 L545.5 265.3 L545.5 266.8 L545 266.8 L545 268.9 L544.5 268.9 L544.5 268.9 L544 268.9 L544 268.9 L543.5 268.9 L543.5 268.7 L543 268.7 L543 265.7 L542.5 265.7 L542.5 266.8 L542 266.8 L542 266.8 L541.5 266.8 L541.5 266.8 L541 266.8 L541 266 L540.5 266 L540.5 265.5 L540 265.5 L540 265.4 L539.5 265.4 L539.5 265.4 L539 265.4 L539 267.7 L538.5 267.7 L538.5 267.7 L538 267.7 L538 267.7 L537.5 267.7 L537.5 266.1 L537 266.1 L537 265.8 L536.5 265.8 L536.5 266.7 L536 266.7 L536 268.3 L535.5 268.3 L535.5 266.8 L535 266.8 L535 267.1 L534.5 267.1 L534.5 266.9 L534 266.9 L534 271 L533.5 271 L533.5 271 L533 271 L533 265.7 L532.5 265.7 L532.5 265.4 L532 265.4 L532 265.2 L531.5 265.2 L531.5 265.4 L531 265.4 L531 266.7 L530.5 266.7 L530.5 266.7 L530 266.7 L530 266 L529.5 266 L529.5 265.5 L529 265.5 L529 269.1 L528.5 269.1 L528.5 269.1 L528 269.1 L528 269.1 L527.5 269.1 L527.5 265.5 L527 265.5 L527 265.6 L526.5 265.6 L526.5 265.6 L526 265.6 L526 265.5 L525.6 265.5 L525.6 265.6 L525.1 265.6 L525.1 265.5 L524.6 265.5 L524.6 265.6 L524.1 265.6 L524.1 265.3 L523.6 265.3 L523.6 268.8 L523.1 268.8 L523.1 267.1 L522.6 267.1 L522.6 264.9 L522.1 264.9 L522.1 264.3 L521.6 264.3 L521.6 265.5 L521.1 265.5 L521.1 264.1 L520.6 264.1 L520.6 263.5 L520.1 263.5 L520.1 264.5 L519.6 264.5 L519.6 267.4 L519.1 267.4 L519.1 267.4 L518.6 267.4 L518.6 267.4 L518.1 267.4 L518.1 267.4 L517.6 267.4 L517.6 267.8 L517.1 267.8 L517.1 267.8 L516.6 267.8 L516.6 267.8 L516.1 267.8 L516.1 265.6 L515.6 265.6 L515.6 267.3 L515.1 267.3 L515.1 265.3 L514.6 265.3Z" fill="#6fb3ea"/>
<path d="M558.9 251.3 L559.4 251.3 L559.4 244.3 L559.9 244.3 L559.9 244.3 L560.4 244.3 L560.4 244.3 L560.9 244.3 L560.9 247.2 L561.4 247.2 L561.4 249.9 L561.9 249.9 L561.9 249.9 L562.4 249.9 L562.4 249.4 L562.9 249.4 L562.9 249.9 L563.4 249.9 L563.4 249.8 L563.9 249.8 L563.9 245 L564.4 245 L564.4 245.7 L564.9 245.7 L564.9 250.3 L565.4 250.3 L565.4 250 L565.9 250 L565.9 243.8 L566.4 243.8 L566.4 243.8 L566.9 243.8 L566.9 243.8 L567.4 243.8 L567.4 243.8 L567.9 243.8 L567.9 247.6 L568.4 247.6 L568.4 247.6 L568.9 247.6 L568.9 249.7 L569.4 249.7 L569.4 243.7 L569.9 243.7 L569.9 249.4 L570.4 249.4 L570.4 250.2 L570.9 250.2 L570.9 249.9 L571.4 249.9 L571.4 246.2 L571.9 246.2 L571.9 246.2 L572.4 246.2 L572.4 247.8 L572.9 247.8 L572.9 247.8 L573.4 247.8 L573.4 246.2 L573.9 246.2 L573.9 249.9 L574.4 249.9 L574.4 249.9 L574.9 249.9 L574.9 249.7 L575.4 249.7 L575.4 248.3 L575.9 248.3 L575.9 248.3 L576.5 248.3 L576.5 249.9 L577 249.9 L577 249.5 L577.5 249.5 L577.5 246.1 L578 246.1 L578 251.1 L578.5 251.1 L578.5 247.7 L579 247.7 L579 247.1 L579.5 247.1 L579.5 250.1 L580 250.1 L580 249.5 L580.5 249.5 L580.5 249.6 L581 249.6 L581 250.2 L581.5 250.2 L581.5 249.9 L582 249.9 L582 246.5 L582.5 246.5 L582.5 246.5 L583 246.5 L583 246.5 L583.5 246.5 L583.5 246.5 L584 246.5 L584 249.8 L584.5 249.8 L584.5 249.8 L585 249.8 L585 249.7 L585.5 249.7 L585.5 249.8 L586 249.8 L586 250.2 L586.5 250.2 L586.5 249.8 L587 249.8 L587 248.3 L587.5 248.3 L587.5 244.2 L588 244.2 L588 244.2 L588.5 244.2 L588.5 247.5 L589 247.5 L589 247.5 L589.5 247.5 L589.5 245.6 L590 245.6 L590 245.6 L590.5 245.6 L590.5 249.9 L591 249.9 L591 249.8 L591.5 249.8 L591.5 250.1 L592 250.1 L592 250.1 L592.5 250.1 L592.5 250 L593 250 L593 248.3 L593.5 248.3 L593.5 250.1 L594 250.1 L594 266.5 L593.5 266.5 L593.5 269 L593 269 L593 269 L592.5 269 L592.5 269 L592 269 L592 265.4 L591.5 265.4 L591.5 264.3 L591 264.3 L591 263.5 L590.5 263.5 L590.5 264.8 L590 264.8 L590 265.8 L589.5 265.8 L589.5 270.6 L589 270.6 L589 270.6 L588.5 270.6 L588.5 270.6 L588 270.6 L588 265.8 L587.5 265.8 L587.5 265.9 L587 265.9 L587 265.5 L586.5 265.5 L586.5 265.2 L586 265.2 L586 269 L585.5 269 L585.5 269 L585 269 L585 269 L584.5 269 L584.5 268.1 L584 268.1 L584 268.1 L583.5 268.1 L583.5 266.9 L583 266.9 L583 266.9 L582.5 266.9 L582.5 266.9 L582 266.9 L582 265.4 L581.5 265.4 L581.5 271.5 L581 271.5 L581 271.5 L580.5 271.5 L580.5 270.9 L580 270.9 L580 269.7 L579.5 269.7 L579.5 269.7 L579 269.7 L579 269.7 L578.5 269.7 L578.5 269.7 L578 269.7 L578 265.4 L577.5 265.4 L577.5 265.9 L577 265.9 L577 265.7 L576.5 265.7 L576.5 268.7 L575.9 268.7 L575.9 268.7 L575.4 268.7 L575.4 268.7 L574.9 268.7 L574.9 267.5 L574.4 267.5 L574.4 267.5 L573.9 267.5 L573.9 267.5 L573.4 267.5 L573.4 265.8 L572.9 265.8 L572.9 269.4 L572.4 269.4 L572.4 269.4 L571.9 269.4 L571.9 269.4 L571.4 269.4 L571.4 269.4 L570.9 269.4 L570.9 265.2 L570.4 265.2 L570.4 267.7 L569.9 267.7 L569.9 265.9 L569.4 265.9 L569.4 266 L568.9 266 L568.9 268.8 L568.4 268.8 L568.4 269.8 L567.9 269.8 L567.9 268.9 L567.4 268.9 L567.4 270.8 L566.9 270.8 L566.9 267.6 L566.4 267.6 L566.4 267.6 L565.9 267.6 L565.9 267.6 L565.4 267.6 L565.4 267.6 L564.9 267.6 L564.9 265.7 L564.4 265.7 L564.4 264.5 L563.9 264.5 L563.9 263.4 L563.4 263.4 L563.4 265.6 L562.9 265.6 L562.9 265.7 L562.4 265.7 L562.4 265.6 L561.9 265.6 L561.9 265.7 L561.4 265.7 L561.4 265.8 L560.9 265.8 L560.9 265.3 L560.4 265.3 L560.4 271.2 L559.9 271.2 L559.9 271.2 L559.4 271.2 L559.4 263.9 L558.9 263.9Z" fill="#8dea8d"/>
<path d="M594 252.9 L594.5 252.9 L594.5 249.7 L595 249.7 L595 250 L595.5 250 L595.5 249.7 L596 249.7 L596 250.1 L596.5 250.1 L596.5 249.9 L597 249.9 L597 250 L597.5 250 L597.5 249.8 L598 249.8 L598 244.6 L598.5 244.6 L598.5 244.6 L599 244.6 L599 244.6 L599.5 244.6 L599.5 245.4 L600 245.4 L600 245.4 L600.5 245.4 L600.5 249.7 L601 249.7 L601 249.6 L601.5 249.6 L601.5 250.1 L602 250.1 L602 249.8 L602.5 249.8 L602.5 246.6 L603 246.6 L603 246.6 L603.5 246.6 L603.5 246.6 L604 246.6 L604 249.8 L604.5 249.8 L604.5 250 L605 250 L605 250 L605.4 250 L605.4 250.2 L605.9 250.2 L605.9 249.5 L606.4 249.5 L606.4 246.5 L606.9 246.5 L606.9 242 L607.4 242 L607.4 242 L607.9 242 L607.9 242 L608.4 242 L608.4 246.3 L608.9 246.3 L608.9 243.8 L609.4 243.8 L609.4 244 L609.9 244 L609.9 244 L610.4 244 L610.4 244 L610.9 244 L610.9 249.8 L611.4 249.8 L611.4 249.8 L611.9 249.8 L611.9 250.2 L612.4 250.2 L612.4 251 L612.9 251 L612.9 244.5 L613.4 244.5 L613.4 244.5 L613.9 244.5 L613.9 244.5 L614.4 244.5 L614.4 244.5 L614.9 244.5 L614.9 244.5 L615.4 244.5 L615.4 246.6 L615.9 246.6 L615.9 246.6 L616.4 246.6 L616.4 246.6 L616.9 246.6 L616.9 249.8 L617.4 249.8 L617.4 249.7 L617.9 249.7 L617.9 249.9 L618.4 249.9 L618.4 249.8 L618.9 249.8 L618.9 249.9 L619.4 249.9 L619.4 250.2 L619.9 250.2 L619.9 251.1 L620.4 251.1 L620.4 249.6 L620.9 249.6 L620.9 250.1 L621.4 250.1 L621.4 249.5 L621.9 249.5 L621.9 245 L622.4 245 L622.4 245 L622.9 245 L622.9 245 L623.4 245 L623.4 245 L623.9 245 L623.9 245 L624.4 245 L624.4 249.9 L624.9 249.9 L624.9 250.2 L625.4 250.2 L625.4 249.6 L625.9 249.6 L625.9 248.7 L626.4 248.7 L626.4 249 L626.9 249 L626.9 247.8 L627.3 247.8 L627.3 248.5 L627.8 248.5 L627.8 250.7 L628.3 250.7 L628.3 243.6 L628.8 243.6 L628.8 246.5 L629.3 246.5 L629.3 245.5 L629.8 245.5 L629.8 245.5 L630.3 245.5 L630.3 247.1 L630.8 247.1 L630.8 247.3 L631.3 247.3 L631.3 246.4 L631.8 246.4 L631.8 249.7 L632.3 249.7 L632.3 249.4 L632.8 249.4 L632.8 250 L633.3 250 L633.3 243.6 L633.8 243.6 L633.8 243.6 L634.3 243.6 L634.3 249.6 L634.8 249.6 L634.8 250 L635.3 250 L635.3 250.1 L635.8 250.1 L635.8 249.9 L636.3 249.9 L636.3 249.6 L636.8 249.6 L636.8 243.6 L637.3 243.6 L637.3 250.1 L637.8 250.1 L637.8 251.9 L638.3 251.9 L638.3 265.5 L637.8 265.5 L637.8 265.3 L637.3 265.3 L637.3 265.6 L636.8 265.6 L636.8 266 L636.3 266 L636.3 265.7 L635.8 265.7 L635.8 265.7 L635.3 265.7 L635.3 270.6 L634.8 270.6 L634.8 270.8 L634.3 270.8 L634.3 266.1 L633.8 266.1 L633.8 268 L633.3 268 L633.3 268 L632.8 268 L632.8 268 L632.3 268 L632.3 269.1 L631.8 269.1 L631.8 269.5 L631.3 269.5 L631.3 269.5 L630.8 269.5 L630.8 265.5 L630.3 265.5 L630.3 265.3 L629.8 265.3 L629.8 265.6 L629.3 265.6 L629.3 265.9 L628.8 265.9 L628.8 269.7 L628.3 269.7 L628.3 269 L627.8 269 L627.8 270.7 L627.3 270.7 L627.3 265.4 L626.9 265.4 L626.9 268.4 L626.4 268.4 L626.4 265.9 L625.9 265.9 L625.9 267 L625.4 267 L625.4 267 L624.9 267 L624.9 267 L624.4 267 L624.4 267 L623.9 267 L623.9 265.8 L623.4 265.8 L623.4 265.4 L622.9 265.4 L622.9 265.4 L622.4 265.4 L622.4 268.2 L621.9 268.2 L621.9 268.2 L621.4 268.2 L621.4 268.2 L620.9 268.2 L620.9 268.2 L620.4 268.2 L620.4 264 L619.9 264 L619.9 264.1 L619.4 264.1 L619.4 264.8 L618.9 264.8 L618.9 268.4 L618.4 268.4 L618.4 268.4 L617.9 268.4 L617.9 265.6 L617.4 265.6 L617.4 265.8 L616.9 265.8 L616.9 265.2 L616.4 265.2 L616.4 271.2 L615.9 271.2 L615.9 271.2 L615.4 271.2 L615.4 265.4 L614.9 265.4 L614.9 266 L614.4 266 L614.4 265.3 L613.9 265.3 L613.9 270.3 L613.4 270.3 L613.4 270.3 L612.9 270.3 L612.9 270.3 L612.4 270.3 L612.4 270.3 L611.9 270.3 L611.9 265.8 L611.4 265.8 L611.4 265.3 L610.9 265.3 L610.9 265.8 L610.4 265.8 L610.4 267.5 L609.9 267.5 L609.9 267.5 L609.4 267.5 L609.4 265.4 L608.9 265.4 L608.9 269.4 L608.4 269.4 L608.4 269.4 L607.9 269.4 L607.9 269.4 L607.4 269.4 L607.4 269.4 L606.9 269.4 L606.9 265.9 L606.4 265.9 L606.4 265.7 L605.9 265.7 L605.9 265.7 L605.4 265.7 L605.4 265.8 L605 265.8 L605 267 L604.5 267 L604.5 265.4 L604 265.4 L604 265.9 L603.5 265.9 L603.5 265.9 L603 265.9 L603 268.1 L602.5 268.1 L602.5 268.1 L602 268.1 L602 268.1 L601.5 268.1 L601.5 268.1 L601 268.1 L601 268.1 L600.5 268.1 L600.5 265.7 L600 265.7 L600 271.9 L599.5 271.9 L599.5 271.9 L599 271.9 L599 271.9 L598.5 271.9 L598.5 267.7 L598 267.7 L598 267.9 L597.5 267.9 L597.5 267.3 L597 267.3 L597 267.3 L596.5 267.3 L596.5 267.3 L596 267.3 L596 267.3 L595.5 267.3 L595.5 266.1 L595 266.1 L595 266 L594.5 266 L594.5 263.9 L594 263.9Z" fill="#6fb3ea"/>
<line x1="374.6" y1="241" x2="374.6" y2="272" stroke="#8dea8d" stroke-width="1.3"/>
<line x1="373.4" y1="250.9" x2="373.4" y2="266.4" stroke="#8dea8d" stroke-width="1.2"/>
<line x1="375.8" y1="252.484" x2="375.8" y2="265.504" stroke="#8dea8d" stroke-width="1.2"/>
<line x1="372.3" y1="254.86" x2="372.3" y2="264.16" stroke="#8dea8d" stroke-width="1.2"/>
<line x1="409.8" y1="241.5" x2="409.8" y2="262" stroke="#8dea8d" stroke-width="1.3"/>
<line x1="408.6" y1="251.15" x2="408.6" y2="261.4" stroke="#8dea8d" stroke-width="1.2"/>
<line x1="411" y1="252.694" x2="411" y2="261.304" stroke="#8dea8d" stroke-width="1.2"/>
<line x1="407.5" y1="255.01" x2="407.5" y2="261.16" stroke="#8dea8d" stroke-width="1.2"/>
<line x1="509.4" y1="234.6" x2="509.4" y2="262" stroke="#8dea8d" stroke-width="1.3"/>
<line x1="508.2" y1="247.7" x2="508.2" y2="261.4" stroke="#8dea8d" stroke-width="1.2"/>
<line x1="510.6" y1="249.796" x2="510.6" y2="261.304" stroke="#8dea8d" stroke-width="1.2"/>
<line x1="507.1" y1="252.94" x2="507.1" y2="261.16" stroke="#8dea8d" stroke-width="1.2"/>
<line x1="544.3" y1="258" x2="544.3" y2="274" stroke="#6fb3ea" stroke-width="1.3"/>
<line x1="543.1" y1="259.4" x2="543.1" y2="267.4" stroke="#6fb3ea" stroke-width="1.2"/>
<line x1="545.5" y1="259.624" x2="545.5" y2="266.344" stroke="#6fb3ea" stroke-width="1.2"/>
<line x1="542" y1="259.96" x2="542" y2="264.76" stroke="#6fb3ea" stroke-width="1.2"/>
<line x1="635.5" y1="236" x2="635.5" y2="273.4" stroke="#6fb3ea" stroke-width="1.3"/>
<line x1="634.3" y1="248.4" x2="634.3" y2="267.1" stroke="#6fb3ea" stroke-width="1.2"/>
<line x1="636.7" y1="250.384" x2="636.7" y2="266.092" stroke="#6fb3ea" stroke-width="1.2"/>
<line x1="633.2" y1="253.36" x2="633.2" y2="264.58" stroke="#6fb3ea" stroke-width="1.2"/>
<line x1="444" y1="258" x2="444" y2="270.5" stroke="#6fb3ea" stroke-width="1.3"/>
<line x1="442.8" y1="259.4" x2="442.8" y2="265.65" stroke="#6fb3ea" stroke-width="1.2"/>
<line x1="445.2" y1="259.624" x2="445.2" y2="264.874" stroke="#6fb3ea" stroke-width="1.2"/>
<line x1="441.7" y1="259.96" x2="441.7" y2="263.71" stroke="#6fb3ea" stroke-width="1.2"/>
<line x1="628" y1="258" x2="628" y2="271" stroke="#6fb3ea" stroke-width="1.3"/>
<line x1="626.8" y1="259.4" x2="626.8" y2="265.9" stroke="#6fb3ea" stroke-width="1.2"/>
<line x1="629.2" y1="259.624" x2="629.2" y2="265.084" stroke="#6fb3ea" stroke-width="1.2"/>
<line x1="625.7" y1="259.96" x2="625.7" y2="263.86" stroke="#6fb3ea" stroke-width="1.2"/>
<line x1="365.8" y1="249.1" x2="645" y2="249.1" stroke="#f7a3a3" stroke-width="0.5" opacity="0.45"/>
<line x1="365.8" y1="239.3" x2="365.8" y2="281.5" stroke="#bdbdbd" stroke-width="0.7"/>
<text font-size="7.2" font-family="'Liberation Sans', sans-serif" text-anchor="end" fill="#333" x="361.6" y="242.4">0.5</text>
<text font-size="7.2" font-family="'Liberation Sans', sans-serif" text-anchor="end" fill="#333" x="361.6" y="263.4">0.0</text>
<text font-size="7.2" font-family="'Liberation Sans', sans-serif" text-anchor="end" fill="#333" x="361.6" y="283.8">-0.5</text>
<text font-size="7.2" font-family="'Liberation Sans', sans-serif" text-anchor="middle" fill="#222" textLength="44" lengthAdjust="spacingAndGlyphs" transform="translate(348.8 261) rotate(-90)" stroke="#222" stroke-width="0.15">f_dM-statistic</text>
<text font-size="7" font-family="'Liberation Serif', serif" fill="#111" font-weight="bold" textLength="46.6" lengthAdjust="spacingAndGlyphs" x="367.2" y="238" stroke="#111" stroke-width="0.2">Ste introgressor</text>
<text font-size="7.1" font-family="'Liberation Serif', serif" fill="#606060" x="366.8" y="260">Chr</text>
<text font-size="7.6" font-family="'Liberation Serif', serif" text-anchor="middle" fill="#566" x="409" y="260.3">1</text>
<text font-size="7.6" font-family="'Liberation Serif', serif" text-anchor="middle" fill="#566" x="461.4" y="260.3">2</text>
<text font-size="7.6" font-family="'Liberation Serif', serif" text-anchor="middle" fill="#566" x="500.3" y="260.3">3</text>
<text font-size="7.6" font-family="'Liberation Serif', serif" text-anchor="middle" fill="#566" x="540" y="260.3">4</text>
<text font-size="7.6" font-family="'Liberation Serif', serif" text-anchor="middle" fill="#566" x="576.9" y="260.3">5</text>
<text font-size="7.6" font-family="'Liberation Serif', serif" text-anchor="middle" fill="#566" x="618" y="260.3">6</text>
<text font-size="6.6" font-family="'Liberation Serif', serif" text-anchor="middle" fill="#d9773c" textLength="25" lengthAdjust="spacingAndGlyphs" x="461.4" y="282.4">Flowering</text>
<text font-size="6.6" font-family="'Liberation Serif', serif" text-anchor="middle" fill="#d9773c" textLength="24" lengthAdjust="spacingAndGlyphs" x="461.4" y="289.6">time shift</text>
<path d="M366.2 291 V341.5 H471" fill="none" stroke="#c9c9c9" stroke-width="0.7"/>
<text font-size="5.8" font-family="'Liberation Sans', sans-serif" text-anchor="end" fill="#4a4a4a" x="364.6" y="295.088">0.6</text>
<line x1="365" y1="293" x2="366.2" y2="293" stroke="#c9c9c9" stroke-width="0.5"/>
<text font-size="5.8" font-family="'Liberation Sans', sans-serif" text-anchor="end" fill="#4a4a4a" x="364.6" y="306.588">0.4</text>
<line x1="365" y1="304.5" x2="366.2" y2="304.5" stroke="#c9c9c9" stroke-width="0.5"/>
<text font-size="5.8" font-family="'Liberation Sans', sans-serif" text-anchor="end" fill="#4a4a4a" x="364.6" y="318.088">0.2</text>
<line x1="365" y1="316" x2="366.2" y2="316" stroke="#c9c9c9" stroke-width="0.5"/>
<text font-size="5.8" font-family="'Liberation Sans', sans-serif" text-anchor="end" fill="#4a4a4a" x="364.6" y="329.488">0.0</text>
<line x1="365" y1="327.4" x2="366.2" y2="327.4" stroke="#c9c9c9" stroke-width="0.5"/>
<text font-size="5.8" font-family="'Liberation Sans', sans-serif" text-anchor="end" fill="#4a4a4a" x="364.6" y="341.088">-0.2</text>
<line x1="365" y1="339" x2="366.2" y2="339" stroke="#c9c9c9" stroke-width="0.5"/>
<text font-size="5.8" font-family="'Liberation Sans', sans-serif" text-anchor="middle" fill="#4a4a4a" x="370.7" y="346.788">102</text>
<line x1="370.7" y1="341.5" x2="370.7" y2="342.7" stroke="#c9c9c9" stroke-width="0.5"/>
<text font-size="5.8" font-family="'Liberation Sans', sans-serif" text-anchor="middle" fill="#4a4a4a" x="390" y="346.788">104</text>
<line x1="390" y1="341.5" x2="390" y2="342.7" stroke="#c9c9c9" stroke-width="0.5"/>
<text font-size="5.8" font-family="'Liberation Sans', sans-serif" text-anchor="middle" fill="#4a4a4a" x="409" y="346.788">106</text>
<line x1="409" y1="341.5" x2="409" y2="342.7" stroke="#c9c9c9" stroke-width="0.5"/>
<text font-size="5.8" font-family="'Liberation Sans', sans-serif" text-anchor="middle" fill="#4a4a4a" x="427.9" y="346.788">108</text>
<line x1="427.9" y1="341.5" x2="427.9" y2="342.7" stroke="#c9c9c9" stroke-width="0.5"/>
<text font-size="5.8" font-family="'Liberation Sans', sans-serif" text-anchor="middle" fill="#4a4a4a" x="446.9" y="346.788">110</text>
<line x1="446.9" y1="341.5" x2="446.9" y2="342.7" stroke="#c9c9c9" stroke-width="0.5"/>
<text font-size="5.8" font-family="'Liberation Sans', sans-serif" text-anchor="middle" fill="#4a4a4a" x="465.9" y="346.788">112</text>
<line x1="465.9" y1="341.5" x2="465.9" y2="342.7" stroke="#c9c9c9" stroke-width="0.5"/>
<text font-size="7" font-family="'Liberation Sans', sans-serif" fill="#222" textLength="63" lengthAdjust="spacingAndGlyphs" x="387.2" y="353.3" stroke="#222" stroke-width="0.18">Chromosome 3 (Mb)</text>
<text font-size="7.4" font-family="'Liberation Sans', sans-serif" text-anchor="middle" fill="#222" textLength="16.6" lengthAdjust="spacingAndGlyphs" transform="translate(353.7 316.4) rotate(-90)" stroke="#222" stroke-width="0.18">f_dM</text>
<line x1="420.7" y1="291" x2="420.7" y2="341.5" stroke="#a45ad6" stroke-width="2" stroke-dasharray="2 2"/>
<path d="M370.7 328.4 C371.4 328.8 372.9 330.7 374.4 330.4 C375.9 330.1 377.8 327.1 379.3 326.7 C380.8 326.3 381.7 327.9 383 328.4 C384.3 328.8 385.2 328.8 386.7 329.2 C388.2 329.6 389.8 330.3 391.6 330.4 C393.4 330.5 394.8 329.3 396.6 329.7 C398.4 330.1 399.7 332.3 401.5 332.4 C403.3 332.5 404.9 331.2 406.4 330 C407.9 328.8 409 329 410.1 325.5 C411.2 322 411.7 315.6 412.6 310.7 C413.5 305.8 414.3 301.3 415.1 298.4 C415.9 295.5 416.1 294.7 416.8 294.7 C417.5 294.7 418 297.3 418.8 298.4 C419.6 299.5 420.2 301.3 421.2 300.8 C422.2 300.3 423.3 294.9 424.2 295.4 C425.1 295.8 425.5 302.9 426.2 303.3 C426.9 303.8 427.2 298.3 427.9 297.9 C428.6 297.4 429.2 299.2 429.9 300.8 C430.6 302.4 430.9 306.1 431.6 307 C432.3 307.9 432.6 303.5 433.6 305.7 C434.6 307.9 436.1 315.1 437.2 319.3 C438.3 323.5 438.8 327.2 439.7 329.2 C440.6 331.2 441.2 329.2 442.2 330.4 C443.2 331.6 444 335.8 445.1 335.8 C446.2 335.8 446.8 331.8 448.3 330.4 C449.8 329 451.9 328.9 453.3 328 C454.7 327.1 455.3 326.9 456.2 325.5 C457.1 324.1 457.4 320.2 458.2 320 C459 319.8 459.5 323.9 460.7 324.2 C461.9 324.5 464.3 322.2 465.1 321.8" fill="none" stroke="#3b7c7d" stroke-width="1" stroke-linejoin="round" stroke-linecap="round"/>
<text font-size="6.4" font-family="'Liberation Serif', serif" fill="#222" font-style="italic" textLength="16.6" lengthAdjust="spacingAndGlyphs" x="398.4" y="296.6">WNK5</text>
<text font-size="6.4" font-family="'Liberation Serif', serif" fill="#222" font-style="italic" textLength="30" lengthAdjust="spacingAndGlyphs" x="426.2" y="296.6">REM16-like</text>
<ellipse cx="382.4" cy="299.6" rx="1.5" ry="2.2" transform="rotate(-25 382.4 299.6)" fill="#f6efc8"/>
<ellipse cx="388.2" cy="299.6" rx="1.5" ry="2.2" transform="rotate(25 388.2 299.6)" fill="#f6efc8"/>
<path d="M374.8 297.8 C378.5 303.6 382.6 307.8 385.4 308.8 C388.2 307.8 392.4 303.6 396.2 297.8 C392 300.4 388.6 303.4 385.4 304 C382.2 303.4 379 300.4 374.8 297.8Z" fill="#4c9c2e"/>
<path d="M377.4 300.2 C380.4 303.4 383 305.4 385.4 306.2 C387.8 305.4 390.6 303.4 393.6 300.2 C390.6 302.6 388 304.4 385.4 304.8 C382.8 304.4 380.4 302.6 377.4 300.2Z" fill="#7cc24c"/>
<circle cx="385" cy="303" r="0.95" fill="#1d3a3a"/>
<path d="M528.7 290.8 V340.3 H638.2" fill="none" stroke="#c9c9c9" stroke-width="0.7"/>
<text font-size="5.8" font-family="'Liberation Sans', sans-serif" text-anchor="end" fill="#4a4a4a" x="526.8" y="294.888">0.6</text>
<line x1="527.5" y1="292.8" x2="528.7" y2="292.8" stroke="#c9c9c9" stroke-width="0.5"/>
<text font-size="5.8" font-family="'Liberation Sans', sans-serif" text-anchor="end" fill="#4a4a4a" x="526.8" y="310.088">0.3</text>
<line x1="527.5" y1="308" x2="528.7" y2="308" stroke="#c9c9c9" stroke-width="0.5"/>
<text font-size="5.8" font-family="'Liberation Sans', sans-serif" text-anchor="end" fill="#4a4a4a" x="526.8" y="324.788">0.0</text>
<line x1="527.5" y1="322.7" x2="528.7" y2="322.7" stroke="#c9c9c9" stroke-width="0.5"/>
<text font-size="5.8" font-family="'Liberation Sans', sans-serif" text-anchor="end" fill="#4a4a4a" x="526.8" y="339.988">-0.3</text>
<line x1="527.5" y1="337.9" x2="528.7" y2="337.9" stroke="#c9c9c9" stroke-width="0.5"/>
<text font-size="5.8" font-family="'Liberation Sans', sans-serif" text-anchor="middle" fill="#4a4a4a" x="532.9" y="345.588">140</text>
<line x1="532.9" y1="340.3" x2="532.9" y2="341.5" stroke="#c9c9c9" stroke-width="0.5"/>
<text font-size="5.8" font-family="'Liberation Sans', sans-serif" text-anchor="middle" fill="#4a4a4a" x="552.7" y="345.588">142</text>
<line x1="552.7" y1="340.3" x2="552.7" y2="341.5" stroke="#c9c9c9" stroke-width="0.5"/>
<text font-size="5.8" font-family="'Liberation Sans', sans-serif" text-anchor="middle" fill="#4a4a4a" x="572.8" y="345.588">144</text>
<line x1="572.8" y1="340.3" x2="572.8" y2="341.5" stroke="#c9c9c9" stroke-width="0.5"/>
<text font-size="5.8" font-family="'Liberation Sans', sans-serif" text-anchor="middle" fill="#4a4a4a" x="592.9" y="345.588">146</text>
<line x1="592.9" y1="340.3" x2="592.9" y2="341.5" stroke="#c9c9c9" stroke-width="0.5"/>
<text font-size="5.8" font-family="'Liberation Sans', sans-serif" text-anchor="middle" fill="#4a4a4a" x="613" y="345.588">148</text>
<line x1="613" y1="340.3" x2="613" y2="341.5" stroke="#c9c9c9" stroke-width="0.5"/>
<text font-size="5.8" font-family="'Liberation Sans', sans-serif" text-anchor="middle" fill="#4a4a4a" x="632.8" y="345.588">150</text>
<line x1="632.8" y1="340.3" x2="632.8" y2="341.5" stroke="#c9c9c9" stroke-width="0.5"/>
<text font-size="7" font-family="'Liberation Sans', sans-serif" fill="#222" textLength="65.5" lengthAdjust="spacingAndGlyphs" x="549.5" y="352" stroke="#222" stroke-width="0.18">Chromosome 6 (Mb)</text>
<text font-size="7.4" font-family="'Liberation Sans', sans-serif" text-anchor="middle" fill="#222" textLength="16.6" lengthAdjust="spacingAndGlyphs" transform="translate(515.2 316) rotate(-90)" stroke="#222" stroke-width="0.18">f_dM</text>
<line x1="569.6" y1="290.8" x2="569.6" y2="340.3" stroke="#a45ad6" stroke-width="1.2" stroke-dasharray="2 1.6"/>
<line x1="581.1" y1="290.8" x2="581.1" y2="340.3" stroke="#a45ad6" stroke-width="1.4" stroke-dasharray="2 1.6"/>
<path d="M535.3 314.1 C535.8 314.3 536.7 313.8 537.8 315.3 C538.9 316.8 539.9 320.7 541.4 322.7 C542.9 324.7 544.8 324.8 546.3 326.3 C547.8 327.8 548.7 329.9 550 331.2 C551.3 332.5 552.4 333.5 553.7 333.7 C555 333.9 555.9 333.8 557.4 332.5 C558.9 331.2 560.8 328.5 562.3 326.3 C563.8 324.1 564.6 323.5 565.9 320.2 C567.2 316.9 568.3 312.2 569.6 308 C570.9 303.8 572.1 299.6 573.3 297 C574.5 294.4 575.4 293.3 576.5 293.3 C577.6 293.3 578.4 295 579.4 297 C580.4 299 581 300.8 581.9 304.3 C582.8 307.8 583.2 312.8 584.3 316.5 C585.4 320.2 586.5 323.1 588 325.1 C589.5 327.1 591.1 327.6 592.9 327.6 C594.7 327.6 596.3 326.2 597.8 325.1 C599.3 324 600 322.5 601.5 321.4 C603 320.3 604.6 319.7 606.4 319 C608.2 318.3 609.1 317.6 611.3 317.3 C613.5 317 616.4 317.1 618.6 317.3 C620.8 317.5 622 318.9 623.5 318.3 C625 317.7 625.8 315.1 627.2 314.1 C628.6 313.1 630.6 313.1 631.4 312.9" fill="none" stroke="#3b7c7d" stroke-width="1" stroke-linejoin="round" stroke-linecap="round"/>
<text font-size="6.2" font-family="'Liberation Serif', serif" fill="#222" font-style="italic" textLength="18.6" lengthAdjust="spacingAndGlyphs" x="549.4" y="295.7">4 VRN1</text>
<text font-size="6.6" font-family="'Liberation Serif', serif" fill="#222" font-style="italic" textLength="12.8" lengthAdjust="spacingAndGlyphs" x="569.2" y="287.1">STS1</text>
<text font-size="6.6" font-family="'Liberation Serif', serif" fill="#222" font-style="italic" textLength="17.4" lengthAdjust="spacingAndGlyphs" x="583.9" y="290.6">GOLS2</text>
<line x1="581.1" y1="290.8" x2="583" y2="288" stroke="#a45ad6" stroke-width="0.8" stroke-dasharray="1.5 1"/>
<text font-size="6.6" font-family="'Liberation Serif', serif" fill="#d9773c" textLength="12.7" lengthAdjust="spacingAndGlyphs" x="609.3" y="282.3">Frost</text>
<text font-size="6.6" font-family="'Liberation Serif', serif" fill="#d9773c" textLength="24.7" lengthAdjust="spacingAndGlyphs" x="609.3" y="289.6">resistance</text>
<path d="M603 304.8 C600.4 304.6 600 301.4 602 300.2 C601.4 297.4 604.6 296 606.4 297 C607.6 294.4 612 294.2 613.4 296.4 C616 295.4 618.6 297.6 617.6 300 C619.4 301.6 618.4 304.6 616 304.6 C614.6 306 611.6 306 610.4 304.8 C608.6 306.2 604.6 306.2 603 304.8Z" fill="#cfcfcf" stroke="#7aa6e0" stroke-width="0.5" stroke-dasharray="1.4 0.9"/>
<path d="M604.6 305.6 L603.6 307.4" stroke="#5a96e0" stroke-width="0.7"/>
<text font-size="15" font-family="'Liberation Sans', sans-serif" fill="#1a1a1a" x="9.8" y="396">f</text>
<line x1="216.3" y1="394.6" x2="216.3" y2="447" stroke="#e2d8f0" stroke-width="1.4"/>
<line x1="319" y1="398.6" x2="319" y2="451" stroke="#e2d8f0" stroke-width="1.4"/>
<line x1="49.8" y1="420.3" x2="330" y2="420.3" stroke="#f8b4b4" stroke-width="0.55"/>
<path d="M56.3 423.7 L56.8 423.7 L56.8 415.4 L57.3 415.4 L57.3 421.3 L57.8 421.3 L57.8 418.6 L58.3 418.6 L58.3 418.6 L58.8 418.6 L58.8 415.6 L59.3 415.6 L59.3 415.6 L59.8 415.6 L59.8 415.6 L60.3 415.6 L60.3 417.4 L60.8 417.4 L60.8 417.4 L61.3 417.4 L61.3 417.4 L61.8 417.4 L61.8 421 L62.3 421 L62.3 419.2 L62.8 419.2 L62.8 419.2 L63.3 419.2 L63.3 419.2 L63.8 419.2 L63.8 421.2 L64.3 421.2 L64.3 418.5 L64.8 418.5 L64.8 418.5 L65.3 418.5 L65.3 421.1 L65.8 421.1 L65.8 415.3 L66.3 415.3 L66.3 415.3 L66.8 415.3 L66.8 415.3 L67.3 415.3 L67.3 418.7 L67.8 418.7 L67.8 418.7 L68.3 418.7 L68.3 421.3 L68.8 421.3 L68.8 420.9 L69.3 420.9 L69.3 421.1 L69.8 421.1 L69.8 420.9 L70.3 420.9 L70.3 421.1 L70.8 421.1 L70.8 420.8 L71.3 420.8 L71.3 421 L71.8 421 L71.8 420.9 L72.3 420.9 L72.3 420.7 L72.8 420.7 L72.8 420.9 L73.3 420.9 L73.3 417.1 L73.8 417.1 L73.8 417.1 L74.3 417.1 L74.3 417.1 L74.8 417.1 L74.8 417.1 L75.3 417.1 L75.3 422.8 L75.8 422.8 L75.8 420.6 L76.3 420.6 L76.3 420.9 L76.8 420.9 L76.8 420.8 L77.3 420.8 L77.3 420.7 L77.8 420.7 L77.8 421.2 L78.3 421.2 L78.3 422.8 L78.8 422.8 L78.8 421.9 L79.3 421.9 L79.3 422.4 L79.8 422.4 L79.8 422.2 L80.3 422.2 L80.3 421.3 L80.8 421.3 L80.8 420.8 L81.3 420.8 L81.3 419.4 L81.8 419.4 L81.8 420.6 L82.3 420.6 L82.3 420.7 L82.8 420.7 L82.8 421 L83.3 421 L83.3 415.7 L83.8 415.7 L83.8 415.1 L84.3 415.1 L84.3 415.1 L84.8 415.1 L84.8 415.1 L85.3 415.1 L85.3 421.3 L85.8 421.3 L85.8 420.7 L86.3 420.7 L86.3 421 L86.8 421 L86.8 420.8 L87.3 420.8 L87.3 418 L87.8 418 L87.8 418 L88.2 418 L88.2 418 L88.7 418 L88.7 415.4 L89.2 415.4 L89.2 415.4 L89.7 415.4 L89.7 415.5 L90.2 415.5 L90.2 415.5 L90.7 415.5 L90.7 415.5 L91.2 415.5 L91.2 420.7 L91.7 420.7 L91.7 421.3 L92.2 421.3 L92.2 421.1 L92.7 421.1 L92.7 421.3 L93.2 421.3 L93.2 413.7 L93.7 413.7 L93.7 413.7 L94.2 413.7 L94.2 421.2 L94.7 421.2 L94.7 420.8 L95.2 420.8 L95.2 417.2 L95.7 417.2 L95.7 417.2 L96.2 417.2 L96.2 420.8 L96.7 420.8 L96.7 417.8 L97.2 417.8 L97.2 417.7 L97.7 417.7 L97.7 417.1 L98.2 417.1 L98.2 422.3 L98.7 422.3 L98.7 421.7 L99.2 421.7 L99.2 422 L99.7 422 L99.7 421.1 L100.2 421.1 L100.2 420.9 L100.7 420.9 L100.7 421.2 L101.2 421.2 L101.2 415 L101.7 415 L101.7 415 L102.2 415 L102.2 415 L102.7 415 L102.7 421 L103.2 421 L103.2 416.9 L103.7 416.9 L103.7 418 L104.2 418 L104.2 419.6 L104.7 419.6 L104.7 422.7 L105.2 422.7 L105.2 420.6 L105.7 420.6 L105.7 421.3 L106.2 421.3 L106.2 423.1 L106.7 423.1 L106.7 421.3 L107.2 421.3 L107.2 421.1 L107.7 421.1 L107.7 420.9 L108.2 420.9 L108.2 420.8 L108.7 420.8 L108.7 421.1 L109.2 421.1 L109.2 420.6 L109.7 420.6 L109.7 418.2 L110.2 418.2 L110.2 417.3 L110.7 417.3 L110.7 417.3 L111.2 417.3 L111.2 417.3 L111.7 417.3 L111.7 417.3 L112.2 417.3 L112.2 417.3 L112.7 417.3 L112.7 420.8 L113.2 420.8 L113.2 420.6 L113.7 420.6 L113.7 420.9 L114.2 420.9 L114.2 421.3 L114.7 421.3 L114.7 420.6 L115.2 420.6 L115.2 415.7 L115.7 415.7 L115.7 415.7 L116.2 415.7 L116.2 420.9 L116.7 420.9 L116.7 421 L117.2 421 L117.2 421 L117.7 421 L117.7 421.3 L118.2 421.3 L118.2 416.4 L118.7 416.4 L118.7 420.4 L119.2 420.4 L119.2 438.1 L118.7 438.1 L118.7 441.8 L118.2 441.8 L118.2 441.8 L117.7 441.8 L117.7 441.8 L117.2 441.8 L117.2 442 L116.7 442 L116.7 442 L116.2 442 L116.2 442 L115.7 442 L115.7 442 L115.2 442 L115.2 442 L114.7 442 L114.7 439.1 L114.2 439.1 L114.2 439.1 L113.7 439.1 L113.7 439.1 L113.2 439.1 L113.2 439.1 L112.7 439.1 L112.7 439.1 L112.2 439.1 L112.2 437.4 L111.7 437.4 L111.7 437.4 L111.2 437.4 L111.2 439.7 L110.7 439.7 L110.7 443.4 L110.2 443.4 L110.2 439.4 L109.7 439.4 L109.7 437.4 L109.2 437.4 L109.2 435.1 L108.7 435.1 L108.7 440.2 L108.2 440.2 L108.2 440.1 L107.7 440.1 L107.7 442.1 L107.2 442.1 L107.2 442.1 L106.7 442.1 L106.7 437 L106.2 437 L106.2 436.6 L105.7 436.6 L105.7 437.2 L105.2 437.2 L105.2 437.1 L104.7 437.1 L104.7 436.6 L104.2 436.6 L104.2 437.3 L103.7 437.3 L103.7 437.4 L103.2 437.4 L103.2 437.5 L102.7 437.5 L102.7 439 L102.2 439 L102.2 439 L101.7 439 L101.7 439 L101.2 439 L101.2 438.7 L100.7 438.7 L100.7 438.7 L100.2 438.7 L100.2 436.9 L99.7 436.9 L99.7 437.3 L99.2 437.3 L99.2 437.1 L98.7 437.1 L98.7 437.3 L98.2 437.3 L98.2 436.7 L97.7 436.7 L97.7 437.2 L97.2 437.2 L97.2 437.3 L96.7 437.3 L96.7 437.5 L96.2 437.5 L96.2 439.9 L95.7 439.9 L95.7 439.9 L95.2 439.9 L95.2 439.9 L94.7 439.9 L94.7 439.9 L94.2 439.9 L94.2 438.9 L93.7 438.9 L93.7 441.2 L93.2 441.2 L93.2 441.2 L92.7 441.2 L92.7 435.3 L92.2 435.3 L92.2 436.1 L91.7 436.1 L91.7 435.3 L91.2 435.3 L91.2 436.9 L90.7 436.9 L90.7 438.1 L90.2 438.1 L90.2 437.3 L89.7 437.3 L89.7 438.4 L89.2 438.4 L89.2 441.7 L88.7 441.7 L88.7 441.7 L88.2 441.7 L88.2 441.7 L87.8 441.7 L87.8 437 L87.3 437 L87.3 436.9 L86.8 436.9 L86.8 436.9 L86.3 436.9 L86.3 437.1 L85.8 437.1 L85.8 437.3 L85.3 437.3 L85.3 437.2 L84.8 437.2 L84.8 435.7 L84.3 435.7 L84.3 437.1 L83.8 437.1 L83.8 441.2 L83.3 441.2 L83.3 441.2 L82.8 441.2 L82.8 441.2 L82.3 441.2 L82.3 441.2 L81.8 441.2 L81.8 441.2 L81.3 441.2 L81.3 437.5 L80.8 437.5 L80.8 436.1 L80.3 436.1 L80.3 435.9 L79.8 435.9 L79.8 436.6 L79.3 436.6 L79.3 436.8 L78.8 436.8 L78.8 437.3 L78.3 437.3 L78.3 438.7 L77.8 438.7 L77.8 438.7 L77.3 438.7 L77.3 439.5 L76.8 439.5 L76.8 439.5 L76.3 439.5 L76.3 439.5 L75.8 439.5 L75.8 436.9 L75.3 436.9 L75.3 437.5 L74.8 437.5 L74.8 437 L74.3 437 L74.3 436.8 L73.8 436.8 L73.8 441.7 L73.3 441.7 L73.3 441.7 L72.8 441.7 L72.8 441.7 L72.3 441.7 L72.3 437.2 L71.8 437.2 L71.8 436.2 L71.3 436.2 L71.3 437.1 L70.8 437.1 L70.8 439 L70.3 439 L70.3 439 L69.8 439 L69.8 437.2 L69.3 437.2 L69.3 437 L68.8 437 L68.8 436.7 L68.3 436.7 L68.3 436.7 L67.8 436.7 L67.8 437.2 L67.3 437.2 L67.3 437.9 L66.8 437.9 L66.8 438.8 L66.3 438.8 L66.3 438 L65.8 438 L65.8 439.8 L65.3 439.8 L65.3 436.9 L64.8 436.9 L64.8 436.9 L64.3 436.9 L64.3 436.5 L63.8 436.5 L63.8 440.2 L63.3 440.2 L63.3 440.2 L62.8 440.2 L62.8 440.2 L62.3 440.2 L62.3 436.6 L61.8 436.6 L61.8 441.8 L61.3 441.8 L61.3 441.8 L60.8 441.8 L60.8 438.7 L60.3 438.7 L60.3 438.7 L59.8 438.7 L59.8 438.7 L59.3 438.7 L59.3 438.7 L58.8 438.7 L58.8 438.4 L58.3 438.4 L58.3 438.4 L57.8 438.4 L57.8 438.4 L57.3 438.4 L57.3 440.3 L56.8 440.3 L56.8 435.7 L56.3 435.7Z" fill="#8dea8d"/>
<path d="M119.2 423.5 L119.7 423.5 L119.7 420.7 L120.2 420.7 L120.2 418 L120.7 418 L120.7 418 L121.2 418 L121.2 418 L121.7 418 L121.7 416.5 L122.2 416.5 L122.2 416.5 L122.7 416.5 L122.7 416.5 L123.2 416.5 L123.2 416.5 L123.7 416.5 L123.7 420.8 L124.2 420.8 L124.2 421.1 L124.7 421.1 L124.7 421.4 L125.2 421.4 L125.2 419.1 L125.7 419.1 L125.7 419.1 L126.2 419.1 L126.2 418.4 L126.7 418.4 L126.7 419.2 L127.2 419.2 L127.2 417.8 L127.7 417.8 L127.7 417.8 L128.2 417.8 L128.2 417.8 L128.7 417.8 L128.7 421.1 L129.2 421.1 L129.2 421.4 L129.7 421.4 L129.7 421.1 L130.2 421.1 L130.2 420.8 L130.8 420.8 L130.8 420.7 L131.3 420.7 L131.3 419 L131.8 419 L131.8 419 L132.3 419 L132.3 419 L132.8 419 L132.8 420.8 L133.3 420.8 L133.3 420.8 L133.8 420.8 L133.8 421.1 L134.3 421.1 L134.3 414.4 L134.8 414.4 L134.8 414.4 L135.3 414.4 L135.3 414.4 L135.8 414.4 L135.8 414.4 L136.3 414.4 L136.3 414.4 L136.8 414.4 L136.8 421 L137.3 421 L137.3 421.3 L137.8 421.3 L137.8 419 L138.3 419 L138.3 416.5 L138.8 416.5 L138.8 416.5 L139.3 416.5 L139.3 417.9 L139.8 417.9 L139.8 416.5 L140.3 416.5 L140.3 417 L140.8 417 L140.8 420.7 L141.3 420.7 L141.3 420.9 L141.8 420.9 L141.8 420.6 L142.3 420.6 L142.3 417.9 L142.8 417.9 L142.8 415.6 L143.3 415.6 L143.3 417.9 L143.8 417.9 L143.8 417.9 L144.3 417.9 L144.3 417.9 L144.8 417.9 L144.8 420.7 L145.3 420.7 L145.3 420.9 L145.8 420.9 L145.8 421.2 L146.3 421.2 L146.3 420.8 L146.8 420.8 L146.8 420.6 L147.3 420.6 L147.3 420.8 L147.8 420.8 L147.8 421.4 L148.3 421.4 L148.3 416.6 L148.8 416.6 L148.8 416.6 L149.3 416.6 L149.3 416.6 L149.8 416.6 L149.8 421 L150.3 421 L150.3 420.7 L150.8 420.7 L150.8 420.9 L151.3 420.9 L151.3 418.5 L151.8 418.5 L151.8 418.5 L152.3 418.5 L152.3 415.3 L152.9 415.3 L152.9 414.5 L153.4 414.5 L153.4 414.5 L153.9 414.5 L153.9 415.3 L154.4 415.3 L154.4 419.2 L154.9 419.2 L154.9 419.2 L155.4 419.2 L155.4 421.1 L155.9 421.1 L155.9 421.9 L156.4 421.9 L156.4 422 L156.9 422 L156.9 423 L157.4 423 L157.4 420.8 L157.9 420.8 L157.9 420.7 L158.4 420.7 L158.4 420.6 L158.9 420.6 L158.9 416.9 L159.4 416.9 L159.4 421.1 L159.9 421.1 L159.9 417.1 L160.4 417.1 L160.4 416.8 L160.9 416.8 L160.9 416.2 L161.4 416.2 L161.4 416.2 L161.9 416.2 L161.9 417.7 L162.4 417.7 L162.4 417.7 L162.9 417.7 L162.9 421 L163.4 421 L163.4 425.1 L163.9 425.1 L163.9 434.6 L163.4 434.6 L163.4 436.5 L162.9 436.5 L162.9 442 L162.4 442 L162.4 442 L161.9 442 L161.9 437.4 L161.4 437.4 L161.4 435.9 L160.9 435.9 L160.9 436 L160.4 436 L160.4 441.4 L159.9 441.4 L159.9 442.2 L159.4 442.2 L159.4 438.5 L158.9 438.5 L158.9 438.5 L158.4 438.5 L158.4 438.5 L157.9 438.5 L157.9 436.3 L157.4 436.3 L157.4 435.9 L156.9 435.9 L156.9 438.1 L156.4 438.1 L156.4 440 L155.9 440 L155.9 440 L155.4 440 L155.4 436.6 L154.9 436.6 L154.9 437 L154.4 437 L154.4 437.4 L153.9 437.4 L153.9 442.3 L153.4 442.3 L153.4 441.6 L152.9 441.6 L152.9 440.5 L152.3 440.5 L152.3 435.6 L151.8 435.6 L151.8 436.7 L151.3 436.7 L151.3 436.6 L150.8 436.6 L150.8 436.5 L150.3 436.5 L150.3 436.9 L149.8 436.9 L149.8 436.6 L149.3 436.6 L149.3 437.2 L148.8 437.2 L148.8 440.1 L148.3 440.1 L148.3 440.1 L147.8 440.1 L147.8 440.1 L147.3 440.1 L147.3 440.1 L146.8 440.1 L146.8 440.1 L146.3 440.1 L146.3 437.4 L145.8 437.4 L145.8 439.7 L145.3 439.7 L145.3 439.7 L144.8 439.7 L144.8 439.7 L144.3 439.7 L144.3 438.3 L143.8 438.3 L143.8 438.3 L143.3 438.3 L143.3 438.3 L142.8 438.3 L142.8 438.3 L142.3 438.3 L142.3 437.1 L141.8 437.1 L141.8 436.7 L141.3 436.7 L141.3 436.7 L140.8 436.7 L140.8 440.2 L140.3 440.2 L140.3 437.3 L139.8 437.3 L139.8 437.3 L139.3 437.3 L139.3 442.2 L138.8 442.2 L138.8 442.2 L138.3 442.2 L138.3 442.2 L137.8 442.2 L137.8 436.6 L137.3 436.6 L137.3 439.7 L136.8 439.7 L136.8 439.7 L136.3 439.7 L136.3 439.7 L135.8 439.7 L135.8 437.4 L135.3 437.4 L135.3 436.9 L134.8 436.9 L134.8 436.9 L134.3 436.9 L134.3 436.6 L133.8 436.6 L133.8 437.2 L133.3 437.2 L133.3 437 L132.8 437 L132.8 436.9 L132.3 436.9 L132.3 437.4 L131.8 437.4 L131.8 438.7 L131.3 438.7 L131.3 438.7 L130.8 438.7 L130.8 439.8 L130.2 439.8 L130.2 439.8 L129.7 439.8 L129.7 439.8 L129.2 439.8 L129.2 434.7 L128.7 434.7 L128.7 435.6 L128.2 435.6 L128.2 435.2 L127.7 435.2 L127.7 440.1 L127.2 440.1 L127.2 438.4 L126.7 438.4 L126.7 439.1 L126.2 439.1 L126.2 441.1 L125.7 441.1 L125.7 441.1 L125.2 441.1 L125.2 436.7 L124.7 436.7 L124.7 441.3 L124.2 441.3 L124.2 441.3 L123.7 441.3 L123.7 441.3 L123.2 441.3 L123.2 442.1 L122.7 442.1 L122.7 442.1 L122.2 442.1 L122.2 441.5 L121.7 441.5 L121.7 441.5 L121.2 441.5 L121.2 439.2 L120.7 439.2 L120.7 439.2 L120.2 439.2 L120.2 442.7 L119.7 442.7 L119.7 438.7 L119.2 438.7Z" fill="#6fb3ea"/>
<path d="M163.9 423.6 L164.4 423.6 L164.4 420.6 L164.9 420.6 L164.9 421.1 L165.4 421.1 L165.4 417.6 L165.9 417.6 L165.9 419.5 L166.4 419.5 L166.4 418.4 L166.9 418.4 L166.9 421.1 L167.4 421.1 L167.4 420.7 L167.9 420.7 L167.9 421.1 L168.4 421.1 L168.4 421.2 L168.9 421.2 L168.9 421.1 L169.4 421.1 L169.4 421.3 L169.9 421.3 L169.9 421.1 L170.4 421.1 L170.4 420.8 L170.9 420.8 L170.9 421.1 L171.4 421.1 L171.4 416.9 L171.9 416.9 L171.9 416.6 L172.4 416.6 L172.4 416.6 L172.9 416.6 L172.9 420.7 L173.4 420.7 L173.4 415.4 L173.9 415.4 L173.9 416 L174.4 416 L174.4 415.4 L174.9 415.4 L174.9 418 L175.4 418 L175.4 418.8 L175.9 418.8 L175.9 419.2 L176.4 419.2 L176.4 422.1 L176.9 422.1 L176.9 419.3 L177.4 419.3 L177.4 419.3 L177.9 419.3 L177.9 419.3 L178.4 419.3 L178.4 419.3 L178.9 419.3 L178.9 419.8 L179.4 419.8 L179.4 421 L179.9 421 L179.9 420.7 L180.4 420.7 L180.4 418.8 L180.9 418.8 L180.9 418.8 L181.4 418.8 L181.4 418.8 L181.8 418.8 L181.8 418.8 L182.3 418.8 L182.3 418.8 L182.8 418.8 L182.8 417.9 L183.3 417.9 L183.3 419.7 L183.8 419.7 L183.8 419.7 L184.3 419.7 L184.3 421.4 L184.8 421.4 L184.8 422.8 L185.3 422.8 L185.3 421.2 L185.8 421.2 L185.8 418.3 L186.3 418.3 L186.3 418.3 L186.8 418.3 L186.8 418.3 L187.3 418.3 L187.3 418.6 L187.8 418.6 L187.8 418.6 L188.3 418.6 L188.3 418.6 L188.8 418.6 L188.8 421.2 L189.3 421.2 L189.3 421.1 L189.8 421.1 L189.8 418.7 L190.3 418.7 L190.3 413.7 L190.8 413.7 L190.8 413.7 L191.3 413.7 L191.3 413.7 L191.8 413.7 L191.8 418.8 L192.3 418.8 L192.3 418.8 L192.8 418.8 L192.8 418.8 L193.3 418.8 L193.3 421 L193.8 421 L193.8 421 L194.3 421 L194.3 421 L194.8 421 L194.8 421.3 L195.3 421.3 L195.3 421.1 L195.8 421.1 L195.8 421.1 L196.3 421.1 L196.3 421.1 L196.8 421.1 L196.8 421.2 L197.3 421.2 L197.3 418.5 L197.8 418.5 L197.8 418.5 L198.3 418.5 L198.3 421.3 L198.8 421.3 L198.8 423.8 L199.3 423.8 L199.3 434.4 L198.8 434.4 L198.8 436.8 L198.3 436.8 L198.3 442.5 L197.8 442.5 L197.8 440.3 L197.3 440.3 L197.3 440.6 L196.8 440.6 L196.8 437.2 L196.3 437.2 L196.3 437 L195.8 437 L195.8 436.6 L195.3 436.6 L195.3 437.2 L194.8 437.2 L194.8 436.6 L194.3 436.6 L194.3 437.1 L193.8 437.1 L193.8 437.4 L193.3 437.4 L193.3 437.1 L192.8 437.1 L192.8 436.5 L192.3 436.5 L192.3 440.4 L191.8 440.4 L191.8 440.4 L191.3 440.4 L191.3 440.4 L190.8 440.4 L190.8 440.4 L190.3 440.4 L190.3 439.7 L189.8 439.7 L189.8 439.4 L189.3 439.4 L189.3 438.9 L188.8 438.9 L188.8 438.9 L188.3 438.9 L188.3 438.8 L187.8 438.8 L187.8 438.8 L187.3 438.8 L187.3 438.8 L186.8 438.8 L186.8 438.8 L186.3 438.8 L186.3 437.3 L185.8 437.3 L185.8 437 L185.3 437 L185.3 437.3 L184.8 437.3 L184.8 442 L184.3 442 L184.3 436.5 L183.8 436.5 L183.8 436.9 L183.3 436.9 L183.3 437.4 L182.8 437.4 L182.8 437.1 L182.3 437.1 L182.3 436.8 L181.8 436.8 L181.8 437.2 L181.4 437.2 L181.4 437.1 L180.9 437.1 L180.9 436.7 L180.4 436.7 L180.4 437.4 L179.9 437.4 L179.9 437 L179.4 437 L179.4 437.4 L178.9 437.4 L178.9 436.6 L178.4 436.6 L178.4 440 L177.9 440 L177.9 440 L177.4 440 L177.4 440 L176.9 440 L176.9 436.7 L176.4 436.7 L176.4 436.9 L175.9 436.9 L175.9 436.7 L175.4 436.7 L175.4 437.2 L174.9 437.2 L174.9 436.6 L174.4 436.6 L174.4 435.4 L173.9 435.4 L173.9 436.9 L173.4 436.9 L173.4 441.4 L172.9 441.4 L172.9 441.4 L172.4 441.4 L172.4 441.4 L171.9 441.4 L171.9 441.4 L171.4 441.4 L171.4 440.2 L170.9 440.2 L170.9 438.3 L170.4 438.3 L170.4 441.2 L169.9 441.2 L169.9 441.2 L169.4 441.2 L169.4 440.3 L168.9 440.3 L168.9 440.1 L168.4 440.1 L168.4 441.2 L167.9 441.2 L167.9 440.4 L167.4 440.4 L167.4 440.4 L166.9 440.4 L166.9 440.4 L166.4 440.4 L166.4 436.5 L165.9 436.5 L165.9 436.5 L165.4 436.5 L165.4 437.3 L164.9 437.3 L164.9 437.1 L164.4 437.1 L164.4 434.8 L163.9 434.8Z" fill="#8dea8d"/>
<path d="M199.3 423.8 L199.8 423.8 L199.8 416.9 L200.3 416.9 L200.3 416.9 L200.8 416.9 L200.8 416.8 L201.3 416.8 L201.3 416.8 L201.8 416.8 L201.8 416.8 L202.3 416.8 L202.3 417.1 L202.8 417.1 L202.8 415.2 L203.3 415.2 L203.3 415.2 L203.8 415.2 L203.8 415.2 L204.3 415.2 L204.3 415.2 L204.8 415.2 L204.8 415.2 L205.3 415.2 L205.3 421.2 L205.8 421.2 L205.8 418.9 L206.3 418.9 L206.3 418.9 L206.8 418.9 L206.8 418.9 L207.3 418.9 L207.3 418.9 L207.8 418.9 L207.8 418.9 L208.3 418.9 L208.3 419.7 L208.8 419.7 L208.8 421.1 L209.3 421.1 L209.3 421.1 L209.8 421.1 L209.8 421 L210.3 421 L210.3 420.6 L210.8 420.6 L210.8 421.3 L211.3 421.3 L211.3 421.1 L211.8 421.1 L211.8 415 L212.3 415 L212.3 416.7 L212.8 416.7 L212.8 420.5 L213.3 420.5 L213.3 416.7 L213.8 416.7 L213.8 416.7 L214.3 416.7 L214.3 416.7 L214.8 416.7 L214.8 418 L215.3 418 L215.3 420 L215.8 420 L215.8 421.6 L216.3 421.6 L216.3 422 L216.8 422 L216.8 421.1 L217.3 421.1 L217.3 421.3 L217.8 421.3 L217.8 420.6 L218.3 420.6 L218.3 420.9 L218.8 420.9 L218.8 415.1 L219.3 415.1 L219.3 415.1 L219.8 415.1 L219.8 415.1 L220.3 415.1 L220.3 415.1 L220.8 415.1 L220.8 416 L221.3 416 L221.3 421.9 L221.8 421.9 L221.8 422.8 L222.3 422.8 L222.3 419.3 L222.8 419.3 L222.8 419.3 L223.3 419.3 L223.3 419.3 L223.8 419.3 L223.8 421.1 L224.3 421.1 L224.3 421.4 L224.8 421.4 L224.8 421.2 L225.3 421.2 L225.3 422.4 L225.8 422.4 L225.8 418.1 L226.3 418.1 L226.3 417.1 L226.8 417.1 L226.8 417.1 L227.3 417.1 L227.3 420.7 L227.8 420.7 L227.8 421.2 L228.3 421.2 L228.3 414.7 L228.8 414.7 L228.8 421.3 L229.3 421.3 L229.3 421 L229.8 421 L229.8 420.9 L230.3 420.9 L230.3 420.8 L230.8 420.8 L230.8 421.4 L231.3 421.4 L231.3 421.3 L231.8 421.3 L231.8 421.3 L232.3 421.3 L232.3 421.2 L232.8 421.2 L232.8 420.8 L233.3 420.8 L233.3 420.7 L233.8 420.7 L233.8 420.8 L234.3 420.8 L234.3 419.4 L234.8 419.4 L234.8 419.4 L235.3 419.4 L235.3 419.4 L235.8 419.4 L235.8 419.4 L236.3 419.4 L236.3 420.8 L236.8 420.8 L236.8 421.1 L237.3 421.1 L237.3 421 L237.8 421 L237.8 421.1 L238.3 421.1 L238.3 421 L238.8 421 L238.8 421.1 L239.3 421.1 L239.3 421.1 L239.8 421.1 L239.8 420.7 L240.3 420.7 L240.3 420.9 L240.8 420.9 L240.8 420.1 L241.3 420.1 L241.3 419.3 L241.8 419.3 L241.8 418.9 L242.3 418.9 L242.3 418 L242.8 418 L242.8 421 L243.3 421 L243.3 434.7 L242.8 434.7 L242.8 437.3 L242.3 437.3 L242.3 436.9 L241.8 436.9 L241.8 437.2 L241.3 437.2 L241.3 437.2 L240.8 437.2 L240.8 436.8 L240.3 436.8 L240.3 442 L239.8 442 L239.8 435.6 L239.3 435.6 L239.3 434.9 L238.8 434.9 L238.8 437.3 L238.3 437.3 L238.3 436.6 L237.8 436.6 L237.8 436.8 L237.3 436.8 L237.3 436.7 L236.8 436.7 L236.8 440.5 L236.3 440.5 L236.3 440.5 L235.8 440.5 L235.8 438.2 L235.3 438.2 L235.3 437.5 L234.8 437.5 L234.8 437.1 L234.3 437.1 L234.3 435.2 L233.8 435.2 L233.8 435.7 L233.3 435.7 L233.3 443.4 L232.8 443.4 L232.8 443.4 L232.3 443.4 L232.3 443.4 L231.8 443.4 L231.8 443.4 L231.3 443.4 L231.3 443.4 L230.8 443.4 L230.8 435.9 L230.3 435.9 L230.3 435.6 L229.8 435.6 L229.8 441 L229.3 441 L229.3 441 L228.8 441 L228.8 436.8 L228.3 436.8 L228.3 437.4 L227.8 437.4 L227.8 436.6 L227.3 436.6 L227.3 443.3 L226.8 443.3 L226.8 443.3 L226.3 443.3 L226.3 437.2 L225.8 437.2 L225.8 437.2 L225.3 437.2 L225.3 438.6 L224.8 438.6 L224.8 438.6 L224.3 438.6 L224.3 436.3 L223.8 436.3 L223.8 436.1 L223.3 436.1 L223.3 435.2 L222.8 435.2 L222.8 437.2 L222.3 437.2 L222.3 436.7 L221.8 436.7 L221.8 438.6 L221.3 438.6 L221.3 438.3 L220.8 438.3 L220.8 436.8 L220.3 436.8 L220.3 439.9 L219.8 439.9 L219.8 439.2 L219.3 439.2 L219.3 441.5 L218.8 441.5 L218.8 441.5 L218.3 441.5 L218.3 441.5 L217.8 441.5 L217.8 436.7 L217.3 436.7 L217.3 437.5 L216.8 437.5 L216.8 438.2 L216.3 438.2 L216.3 439.5 L215.8 439.5 L215.8 439.5 L215.3 439.5 L215.3 439.5 L214.8 439.5 L214.8 439.5 L214.3 439.5 L214.3 438.2 L213.8 438.2 L213.8 438.2 L213.3 438.2 L213.3 436.7 L212.8 436.7 L212.8 439 L212.3 439 L212.3 439 L211.8 439 L211.8 439 L211.3 439 L211.3 439 L210.8 439 L210.8 439 L210.3 439 L210.3 440.1 L209.8 440.1 L209.8 436.6 L209.3 436.6 L209.3 437.5 L208.8 437.5 L208.8 436.7 L208.3 436.7 L208.3 436.9 L207.8 436.9 L207.8 437.1 L207.3 437.1 L207.3 437.2 L206.8 437.2 L206.8 440.5 L206.3 440.5 L206.3 440.5 L205.8 440.5 L205.8 440.5 L205.3 440.5 L205.3 437.3 L204.8 437.3 L204.8 436.8 L204.3 436.8 L204.3 436.7 L203.8 436.7 L203.8 437.3 L203.3 437.3 L203.3 436.6 L202.8 436.6 L202.8 437 L202.3 437 L202.3 436.8 L201.8 436.8 L201.8 436.8 L201.3 436.8 L201.3 437.3 L200.8 437.3 L200.8 442.1 L200.3 442.1 L200.3 442.1 L199.8 442.1 L199.8 438.3 L199.3 438.3Z" fill="#6fb3ea"/>
<path d="M243.3 424.1 L243.8 424.1 L243.8 415.3 L244.3 415.3 L244.3 420.8 L244.8 420.8 L244.8 420.6 L245.3 420.6 L245.3 421.3 L245.8 421.3 L245.8 421.2 L246.3 421.2 L246.3 421.1 L246.8 421.1 L246.8 420.8 L247.3 420.8 L247.3 421 L247.8 421 L247.8 421.1 L248.3 421.1 L248.3 420.7 L248.8 420.7 L248.8 421.1 L249.3 421.1 L249.3 421.2 L249.8 421.2 L249.8 421.4 L250.3 421.4 L250.3 420.6 L250.8 420.6 L250.8 416.2 L251.3 416.2 L251.3 416.2 L251.8 416.2 L251.8 417.9 L252.3 417.9 L252.3 417.9 L252.8 417.9 L252.8 414.2 L253.3 414.2 L253.3 414.2 L253.8 414.2 L253.8 421.1 L254.3 421.1 L254.3 420.9 L254.8 420.9 L254.8 421.2 L255.3 421.2 L255.3 421 L255.8 421 L255.8 421.2 L256.3 421.2 L256.3 421.2 L256.8 421.2 L256.8 423 L257.3 423 L257.3 422.7 L257.8 422.7 L257.8 421.9 L258.3 421.9 L258.3 421.3 L258.8 421.3 L258.8 421 L259.3 421 L259.3 418.1 L259.8 418.1 L259.8 418.1 L260.3 418.1 L260.3 418.1 L260.8 418.1 L260.9 416.6 L261.4 416.6 L261.4 416.6 L261.9 416.6 L261.9 416.6 L262.4 416.6 L262.4 421.4 L262.9 421.4 L262.9 420.9 L263.4 420.9 L263.4 422.2 L263.9 422.2 L263.9 421.2 L264.4 421.2 L264.4 419.5 L264.9 419.5 L264.9 417.4 L265.4 417.4 L265.4 417.4 L265.9 417.4 L265.9 417.2 L266.4 417.2 L266.4 421.3 L266.9 421.3 L266.9 417.3 L267.4 417.3 L267.4 417.3 L267.9 417.3 L267.9 421 L268.4 421 L268.4 421.6 L268.9 421.6 L268.9 421.5 L269.4 421.5 L269.4 421 L269.9 421 L269.9 420.8 L270.4 420.8 L270.4 421.1 L270.9 421.1 L270.9 420.9 L271.4 420.9 L271.4 416.8 L271.9 416.8 L271.9 416.8 L272.4 416.8 L272.4 419 L272.9 419 L272.9 419 L273.4 419 L273.4 419 L273.9 419 L273.9 419 L274.4 419 L274.4 421 L274.9 421 L274.9 421.3 L275.4 421.3 L275.4 421.1 L275.9 421.1 L275.9 421.2 L276.4 421.2 L276.4 417.6 L276.9 417.6 L276.9 417.6 L277.4 417.6 L277.4 415 L277.9 415 L277.9 419.3 L278.4 419.3 L278.4 437.5 L277.9 437.5 L277.9 439.6 L277.4 439.6 L277.4 439.6 L276.9 439.6 L276.9 441.9 L276.4 441.9 L276.4 441.9 L275.9 441.9 L275.9 441.9 L275.4 441.9 L275.4 441.9 L274.9 441.9 L274.9 441.2 L274.4 441.2 L274.4 437.9 L273.9 437.9 L273.9 437.6 L273.4 437.6 L273.4 439.4 L272.9 439.4 L272.9 440.4 L272.4 440.4 L272.4 436.5 L271.9 436.5 L271.9 437.3 L271.4 437.3 L271.4 443.2 L270.9 443.2 L270.9 443.2 L270.4 443.2 L270.4 443.2 L269.9 443.2 L269.9 443.2 L269.4 443.2 L269.4 439.1 L268.9 439.1 L268.9 439.1 L268.4 439.1 L268.4 437 L267.9 437 L267.9 436.8 L267.4 436.8 L267.4 437 L266.9 437 L266.9 437.5 L266.4 437.5 L266.4 436.8 L265.9 436.8 L265.9 437.1 L265.4 437.1 L265.4 436.5 L264.9 436.5 L264.9 436.5 L264.4 436.5 L264.4 439.9 L263.9 439.9 L263.9 440.3 L263.4 440.3 L263.4 440.3 L262.9 440.3 L262.9 440.3 L262.4 440.3 L262.4 437.4 L261.9 437.4 L261.9 436.9 L261.4 436.9 L261.4 436.1 L260.9 436.1 L260.8 435.7 L260.3 435.7 L260.3 435.9 L259.8 435.9 L259.8 437.2 L259.3 437.2 L259.3 436.6 L258.8 436.6 L258.8 440.5 L258.3 440.5 L258.3 439.7 L257.8 439.7 L257.8 439.4 L257.3 439.4 L257.3 436.7 L256.8 436.7 L256.8 436.6 L256.3 436.6 L256.3 436.9 L255.8 436.9 L255.8 437 L255.3 437 L255.3 436.6 L254.8 436.6 L254.8 437.5 L254.3 437.5 L254.3 437.4 L253.8 437.4 L253.8 437 L253.3 437 L253.3 439.8 L252.8 439.8 L252.8 441.6 L252.3 441.6 L252.3 441.6 L251.8 441.6 L251.8 439.8 L251.3 439.8 L251.3 439.8 L250.8 439.8 L250.8 438.8 L250.3 438.8 L250.3 437 L249.8 437 L249.8 437.2 L249.3 437.2 L249.3 436.6 L248.8 436.6 L248.8 441.7 L248.3 441.7 L248.3 441.7 L247.8 441.7 L247.8 441.7 L247.3 441.7 L247.3 437.2 L246.8 437.2 L246.8 436.6 L246.3 436.6 L246.3 437.4 L245.8 437.4 L245.8 437.1 L245.3 437.1 L245.3 436.9 L244.8 436.9 L244.8 437.1 L244.3 437.1 L244.3 437.3 L243.8 437.3 L243.8 434.7 L243.3 434.7Z" fill="#8dea8d"/>
<path d="M278.4 423.3 L278.9 423.3 L278.9 420.7 L279.4 420.7 L279.4 421.3 L279.9 421.3 L279.9 415.9 L280.4 415.9 L280.4 415.9 L280.9 415.9 L280.9 415.9 L281.4 415.9 L281.4 420.7 L281.9 420.7 L281.9 418.3 L282.4 418.3 L282.4 418.3 L282.9 418.3 L282.9 418.3 L283.4 418.3 L283.4 418 L283.9 418 L283.9 418 L284.4 418 L284.4 420.7 L284.9 420.7 L284.9 421.3 L285.4 421.3 L285.4 417.9 L285.9 417.9 L285.9 417.9 L286.4 417.9 L286.4 414.8 L286.9 414.8 L286.9 414.8 L287.4 414.8 L287.4 414.8 L287.9 414.8 L287.9 415 L288.4 415 L288.4 415 L288.9 415 L288.9 418.5 L289.4 418.5 L289.4 417.1 L289.9 417.1 L289.9 419.5 L290.4 419.5 L290.4 422.6 L290.9 422.6 L290.9 414.2 L291.4 414.2 L291.4 414.2 L291.9 414.2 L291.9 414.2 L292.4 414.2 L292.4 416.4 L292.9 416.4 L292.9 416.4 L293.4 416.4 L293.4 416.1 L293.9 416.1 L293.9 416.1 L294.4 416.1 L294.4 416.1 L294.9 416.1 L294.9 416.1 L295.4 416.1 L295.4 416.1 L295.9 416.1 L295.9 420.8 L296.4 420.8 L296.4 424 L296.9 424 L296.9 422.3 L297.4 422.3 L297.4 423.9 L297.9 423.9 L297.9 418 L298.4 418 L298.4 418 L298.9 418 L298.9 418 L299.4 418 L299.4 418 L299.9 418 L299.9 418 L300.4 418 L300.4 421.1 L300.9 421.1 L300.9 421 L301.4 421 L301.4 420.7 L301.9 420.7 L301.9 420.7 L302.4 420.7 L302.4 421.3 L302.9 421.3 L302.9 421.1 L303.4 421.1 L303.4 421.2 L303.9 421.2 L303.9 420.6 L304.4 420.6 L304.4 418.6 L304.9 418.6 L304.9 418.6 L305.4 418.6 L305.4 418.6 L305.9 418.6 L305.9 418.6 L306.4 418.6 L306.4 418.6 L306.9 418.6 L306.9 421.1 L307.4 421.1 L307.4 420.7 L307.9 420.7 L307.9 420.8 L308.4 420.8 L308.4 418.6 L308.9 418.6 L308.9 414.8 L309.4 414.8 L309.4 418.7 L309.9 418.7 L309.9 420.6 L310.4 420.6 L310.4 420.9 L310.9 420.9 L310.9 420.9 L311.4 420.9 L311.4 421.3 L311.9 421.3 L311.9 420.6 L312.4 420.6 L312.4 420.7 L312.9 420.7 L312.9 421.3 L313.4 421.3 L313.4 421.2 L313.9 421.2 L313.9 417.4 L314.4 417.4 L314.4 421.4 L314.9 421.4 L314.9 421 L315.4 421 L315.4 421.1 L315.9 421.1 L315.9 420.8 L316.4 420.8 L316.4 419 L316.9 419 L316.9 419 L317.4 419 L317.4 419 L317.9 419 L317.9 419 L318.4 419 L318.4 418.6 L318.9 418.6 L318.9 418.6 L319.4 418.6 L319.4 416.7 L319.9 416.7 L319.9 416.5 L320.4 416.5 L320.4 416.5 L320.9 416.5 L320.9 416.5 L321.4 416.5 L321.4 416.5 L321.9 416.5 L321.9 416.5 L322.4 416.5 L322.4 423.6 L322.9 423.6 L322.9 438.2 L322.4 438.2 L322.4 441.9 L321.9 441.9 L321.9 441.9 L321.4 441.9 L321.4 438.7 L320.9 438.7 L320.9 438.7 L320.4 438.7 L320.4 437.2 L319.9 437.2 L319.9 435.7 L319.4 435.7 L319.4 435.1 L318.9 435.1 L318.9 435.6 L318.4 435.6 L318.4 436.9 L317.9 436.9 L317.9 435.5 L317.4 435.5 L317.4 436.2 L316.9 436.2 L316.9 435.4 L316.4 435.4 L316.4 436.6 L315.9 436.6 L315.9 436.8 L315.4 436.8 L315.4 435.1 L314.9 435.1 L314.9 436.2 L314.4 436.2 L314.4 437.3 L313.9 437.3 L313.9 436.7 L313.4 436.7 L313.4 436.6 L312.9 436.6 L312.9 441 L312.4 441 L312.4 441 L311.9 441 L311.9 441 L311.4 441 L311.4 438.2 L310.9 438.2 L310.9 436.6 L310.4 436.6 L310.4 437 L309.9 437 L309.9 436.9 L309.4 436.9 L309.4 437.1 L308.9 437.1 L308.9 437 L308.4 437 L308.4 439.8 L307.9 439.8 L307.9 436.9 L307.4 436.9 L307.4 437.3 L306.9 437.3 L306.9 436.9 L306.4 436.9 L306.4 437.2 L305.9 437.2 L305.9 436.8 L305.4 436.8 L305.4 437 L304.9 437 L304.9 437.4 L304.4 437.4 L304.4 441 L303.9 441 L303.9 441 L303.4 441 L303.4 438.3 L302.9 438.3 L302.9 438.3 L302.4 438.3 L302.4 441.6 L301.9 441.6 L301.9 441.6 L301.4 441.6 L301.4 441.6 L300.9 441.6 L300.9 441.6 L300.4 441.6 L300.4 440.5 L299.9 440.5 L299.9 440.5 L299.4 440.5 L299.4 440.5 L298.9 440.5 L298.9 436.7 L298.4 436.7 L298.4 437.7 L297.9 437.7 L297.9 437.9 L297.4 437.9 L297.4 441.4 L296.9 441.4 L296.9 442.2 L296.4 442.2 L296.4 439.1 L295.9 439.1 L295.9 440.1 L295.4 440.1 L295.4 440.1 L294.9 440.1 L294.9 441.1 L294.4 441.1 L294.4 441.1 L293.9 441.1 L293.9 441.1 L293.4 441.1 L293.4 440.4 L292.9 440.4 L292.9 440.4 L292.4 440.4 L292.4 440.4 L291.9 440.4 L291.9 436.7 L291.4 436.7 L291.4 441.6 L290.9 441.6 L290.9 441.6 L290.4 441.6 L290.4 437.3 L289.9 437.3 L289.9 436.7 L289.4 436.7 L289.4 437 L288.9 437 L288.9 437.3 L288.4 437.3 L288.4 437 L287.9 437 L287.9 436.8 L287.4 436.8 L287.4 436.9 L286.9 436.9 L286.9 437.2 L286.4 437.2 L286.4 437 L285.9 437 L285.9 436.7 L285.4 436.7 L285.4 436.7 L284.9 436.7 L284.9 437.4 L284.4 437.4 L284.4 436.5 L283.9 436.5 L283.9 437.2 L283.4 437.2 L283.4 436.6 L282.9 436.6 L282.9 437.2 L282.4 437.2 L282.4 436.7 L281.9 436.7 L281.9 436.9 L281.4 436.9 L281.4 437.4 L280.9 437.4 L280.9 436.6 L280.4 436.6 L280.4 438.2 L279.9 438.2 L279.9 438.2 L279.4 438.2 L279.4 438.2 L278.9 438.2 L278.9 435.6 L278.4 435.6Z" fill="#6fb3ea"/>
<line x1="58.2" y1="408.5" x2="58.2" y2="448" stroke="#8dea8d" stroke-width="1.3"/>
<line x1="57" y1="419" x2="57" y2="438.75" stroke="#8dea8d" stroke-width="1.2"/>
<line x1="59.4" y1="420.68" x2="59.4" y2="437.27" stroke="#8dea8d" stroke-width="1.2"/>
<line x1="55.9" y1="423.2" x2="55.9" y2="435.05" stroke="#8dea8d" stroke-width="1.2"/>
<line x1="59.6" y1="411" x2="59.6" y2="440" stroke="#8dea8d" stroke-width="1.3"/>
<line x1="58.4" y1="420.25" x2="58.4" y2="434.75" stroke="#8dea8d" stroke-width="1.2"/>
<line x1="60.8" y1="421.73" x2="60.8" y2="433.91" stroke="#8dea8d" stroke-width="1.2"/>
<line x1="57.3" y1="423.95" x2="57.3" y2="432.65" stroke="#8dea8d" stroke-width="1.2"/>
<line x1="83.6" y1="412" x2="83.6" y2="446.6" stroke="#8dea8d" stroke-width="1.3"/>
<line x1="82.4" y1="420.75" x2="82.4" y2="438.05" stroke="#8dea8d" stroke-width="1.2"/>
<line x1="84.8" y1="422.15" x2="84.8" y2="436.682" stroke="#8dea8d" stroke-width="1.2"/>
<line x1="81.3" y1="424.25" x2="81.3" y2="434.63" stroke="#8dea8d" stroke-width="1.2"/>
<line x1="86" y1="413" x2="86" y2="440" stroke="#8dea8d" stroke-width="1.3"/>
<line x1="84.8" y1="421.25" x2="84.8" y2="434.75" stroke="#8dea8d" stroke-width="1.2"/>
<line x1="87.2" y1="422.57" x2="87.2" y2="433.91" stroke="#8dea8d" stroke-width="1.2"/>
<line x1="83.7" y1="424.55" x2="83.7" y2="432.65" stroke="#8dea8d" stroke-width="1.2"/>
<line x1="114.6" y1="413.5" x2="114.6" y2="440" stroke="#8dea8d" stroke-width="1.3"/>
<line x1="113.4" y1="421.5" x2="113.4" y2="434.75" stroke="#8dea8d" stroke-width="1.2"/>
<line x1="115.8" y1="422.78" x2="115.8" y2="433.91" stroke="#8dea8d" stroke-width="1.2"/>
<line x1="112.3" y1="424.7" x2="112.3" y2="432.65" stroke="#8dea8d" stroke-width="1.2"/>
<line x1="216.3" y1="406" x2="216.3" y2="447" stroke="#6fb3ea" stroke-width="1.3"/>
<line x1="215.1" y1="417.75" x2="215.1" y2="438.25" stroke="#6fb3ea" stroke-width="1.2"/>
<line x1="217.5" y1="419.63" x2="217.5" y2="436.85" stroke="#6fb3ea" stroke-width="1.2"/>
<line x1="214" y1="422.45" x2="214" y2="434.75" stroke="#6fb3ea" stroke-width="1.2"/>
<line x1="229" y1="409" x2="229" y2="448.6" stroke="#6fb3ea" stroke-width="1.3"/>
<line x1="227.8" y1="419.25" x2="227.8" y2="439.05" stroke="#6fb3ea" stroke-width="1.2"/>
<line x1="230.2" y1="420.89" x2="230.2" y2="437.522" stroke="#6fb3ea" stroke-width="1.2"/>
<line x1="226.7" y1="423.35" x2="226.7" y2="435.23" stroke="#6fb3ea" stroke-width="1.2"/>
<line x1="319" y1="408" x2="319" y2="451" stroke="#6fb3ea" stroke-width="1.3"/>
<line x1="317.8" y1="418.75" x2="317.8" y2="440.25" stroke="#6fb3ea" stroke-width="1.2"/>
<line x1="320.2" y1="420.47" x2="320.2" y2="438.53" stroke="#6fb3ea" stroke-width="1.2"/>
<line x1="316.7" y1="423.05" x2="316.7" y2="435.95" stroke="#6fb3ea" stroke-width="1.2"/>
<line x1="185" y1="412" x2="185" y2="440" stroke="#8dea8d" stroke-width="1.3"/>
<line x1="183.8" y1="420.75" x2="183.8" y2="434.75" stroke="#8dea8d" stroke-width="1.2"/>
<line x1="186.2" y1="422.15" x2="186.2" y2="433.91" stroke="#8dea8d" stroke-width="1.2"/>
<line x1="182.7" y1="424.25" x2="182.7" y2="432.65" stroke="#8dea8d" stroke-width="1.2"/>
<line x1="172" y1="410" x2="172" y2="438" stroke="#8dea8d" stroke-width="1.3"/>
<line x1="170.8" y1="419.75" x2="170.8" y2="433.75" stroke="#8dea8d" stroke-width="1.2"/>
<line x1="173.2" y1="421.31" x2="173.2" y2="433.07" stroke="#8dea8d" stroke-width="1.2"/>
<line x1="169.7" y1="423.65" x2="169.7" y2="432.05" stroke="#8dea8d" stroke-width="1.2"/>
<line x1="303" y1="428" x2="303" y2="447.6" stroke="#6fb3ea" stroke-width="1.3"/>
<line x1="301.8" y1="428.75" x2="301.8" y2="438.55" stroke="#6fb3ea" stroke-width="1.2"/>
<line x1="304.2" y1="428.87" x2="304.2" y2="437.102" stroke="#6fb3ea" stroke-width="1.2"/>
<line x1="300.7" y1="429.05" x2="300.7" y2="434.93" stroke="#6fb3ea" stroke-width="1.2"/>
<line x1="49.8" y1="420.3" x2="330" y2="420.3" stroke="#f7a3a3" stroke-width="0.5" opacity="0.45"/>
<line x1="49.8" y1="408.5" x2="49.8" y2="450.5" stroke="#bdbdbd" stroke-width="0.7"/>
<text font-size="7.2" font-family="'Liberation Sans', sans-serif" text-anchor="end" fill="#333" x="45.8" y="411.6">0.5</text>
<text font-size="7.2" font-family="'Liberation Sans', sans-serif" text-anchor="end" fill="#333" x="45.8" y="432.1">0.0</text>
<text font-size="7.2" font-family="'Liberation Sans', sans-serif" text-anchor="end" fill="#333" x="45.8" y="452.8">-0.5</text>
<text font-size="7.2" font-family="'Liberation Sans', sans-serif" text-anchor="middle" fill="#222" textLength="44" lengthAdjust="spacingAndGlyphs" transform="translate(32.6 430.1) rotate(-90)" stroke="#222" stroke-width="0.15">f_dM-statistic</text>
<text font-size="7" font-family="'Liberation Serif', serif" fill="#111" font-weight="bold" textLength="46.4" lengthAdjust="spacingAndGlyphs" x="51.9" y="407" stroke="#111" stroke-width="0.2">Stu introgressor</text>
<text font-size="7.1" font-family="'Liberation Serif', serif" fill="#606060" x="51" y="428.7">Chr</text>
<text font-size="7.6" font-family="'Liberation Serif', serif" text-anchor="middle" fill="#566" x="93" y="429">1</text>
<text font-size="7.6" font-family="'Liberation Serif', serif" text-anchor="middle" fill="#566" x="145.4" y="429">2</text>
<text font-size="7.6" font-family="'Liberation Serif', serif" text-anchor="middle" fill="#566" x="184.9" y="429">3</text>
<text font-size="7.6" font-family="'Liberation Serif', serif" text-anchor="middle" fill="#566" x="223.6" y="429">4</text>
<text font-size="7.6" font-family="'Liberation Serif', serif" text-anchor="middle" fill="#566" x="260.8" y="429">5</text>
<text font-size="7.6" font-family="'Liberation Serif', serif" text-anchor="middle" fill="#566" x="302.2" y="429">6</text>
<path d="M49.8 456.8 V505.2 H156.4" fill="none" stroke="#c9c9c9" stroke-width="0.7"/>
<text font-size="5.3" font-family="'Liberation Sans', sans-serif" text-anchor="end" fill="#4a4a4a" x="48" y="460.508">0.6</text>
<line x1="48.6" y1="458.6" x2="49.8" y2="458.6" stroke="#c9c9c9" stroke-width="0.5"/>
<text font-size="5.3" font-family="'Liberation Sans', sans-serif" text-anchor="end" fill="#4a4a4a" x="48" y="475.208">0.4</text>
<line x1="48.6" y1="473.3" x2="49.8" y2="473.3" stroke="#c9c9c9" stroke-width="0.5"/>
<text font-size="5.3" font-family="'Liberation Sans', sans-serif" text-anchor="end" fill="#4a4a4a" x="48" y="489.608">0.2</text>
<line x1="48.6" y1="487.7" x2="49.8" y2="487.7" stroke="#c9c9c9" stroke-width="0.5"/>
<text font-size="5.3" font-family="'Liberation Sans', sans-serif" text-anchor="end" fill="#4a4a4a" x="48" y="504.508">0</text>
<line x1="48.6" y1="502.6" x2="49.8" y2="502.6" stroke="#c9c9c9" stroke-width="0.5"/>
<text font-size="5.3" font-family="'Liberation Sans', sans-serif" text-anchor="middle" fill="#4a4a4a" x="54.5" y="510.508">56</text>
<line x1="54.5" y1="505.2" x2="54.5" y2="506.4" stroke="#c9c9c9" stroke-width="0.5"/>
<text font-size="5.3" font-family="'Liberation Sans', sans-serif" text-anchor="middle" fill="#4a4a4a" x="78.6" y="510.508">60</text>
<line x1="78.6" y1="505.2" x2="78.6" y2="506.4" stroke="#c9c9c9" stroke-width="0.5"/>
<text font-size="5.3" font-family="'Liberation Sans', sans-serif" text-anchor="middle" fill="#4a4a4a" x="102.9" y="510.508">64</text>
<line x1="102.9" y1="505.2" x2="102.9" y2="506.4" stroke="#c9c9c9" stroke-width="0.5"/>
<text font-size="5.3" font-family="'Liberation Sans', sans-serif" text-anchor="middle" fill="#4a4a4a" x="127.6" y="510.508">68</text>
<line x1="127.6" y1="505.2" x2="127.6" y2="506.4" stroke="#c9c9c9" stroke-width="0.5"/>
<text font-size="5.3" font-family="'Liberation Sans', sans-serif" text-anchor="middle" fill="#4a4a4a" x="151.9" y="510.508">72</text>
<line x1="151.9" y1="505.2" x2="151.9" y2="506.4" stroke="#c9c9c9" stroke-width="0.5"/>
<text font-size="7" font-family="'Liberation Sans', sans-serif" fill="#222" textLength="63.7" lengthAdjust="spacingAndGlyphs" x="71.2" y="517" stroke="#222" stroke-width="0.18">Chromosome 4 (Mb)</text>
<text font-size="7.4" font-family="'Liberation Sans', sans-serif" text-anchor="middle" fill="#222" textLength="16.6" lengthAdjust="spacingAndGlyphs" transform="translate(39.4 481) rotate(-90)" stroke="#222" stroke-width="0.18">f_dM</text>
<line x1="92.2" y1="456.8" x2="92.2" y2="505.2" stroke="#a45ad6" stroke-width="0.9" stroke-dasharray="2 1.6"/>
<path d="M55.8 497.9 C56.2 497.7 57.3 496.7 58.1 496.6 C58.9 496.5 59.3 497.8 60.2 497.4 C61.1 497 61.7 494.2 62.9 494.2 C64.1 494.2 65.4 496.1 66.8 497.4 C68.2 498.7 69.5 501.3 70.7 501.3 C71.9 501.3 72.3 498.3 73.3 497.4 C74.3 496.5 75 498 76 496.1 C77 494.2 77.4 490 78.6 486.9 C79.8 483.8 81.3 480.7 82.5 479 C83.7 477.3 84.2 477.1 85.1 477.2 C86 477.3 86.7 478.3 87.7 479.8 C88.7 481.3 89.6 486 90.4 485.6 C91.2 485.2 91.4 481 92.2 477.7 C93 474.4 93.6 470 94.8 467.3 C96 464.6 97.6 462.8 98.7 462.8 C99.8 462.8 99.7 466.4 100.8 467.3 C101.9 468.2 103.6 468.6 104.8 468 C106 467.4 106.5 462.4 107.4 463.9 C108.3 465.4 108.8 472.7 110 476.4 C111.2 480.1 112.5 481.9 113.9 484.3 C115.3 486.7 116.6 488 117.9 489.5 C119.2 491 119.8 492.4 121 492.9 C122.2 493.4 123.4 492.6 124.4 492.1 C125.4 491.6 125.7 490.1 126.5 490 C127.3 489.9 128.1 492.7 129.1 491.6 C130.1 490.5 131.3 485.3 132.3 483.8 C133.3 482.3 134 482.7 134.9 483 C135.8 483.3 136.3 483.5 137.5 485.6 C138.7 487.7 140 493.1 141.4 494.8 C142.8 496.5 144.2 495.1 145.4 494.8 C146.6 494.5 147.1 493.7 148 492.9 C148.9 492.1 150.1 490.8 150.6 490.3" fill="none" stroke="#3b7c7d" stroke-width="1" stroke-linejoin="round" stroke-linecap="round"/>
<text font-size="6.6" font-family="'Liberation Serif', serif" fill="#222" font-style="italic" textLength="16.7" lengthAdjust="spacingAndGlyphs" x="73.6" y="463.3">ZAT10</text>
<text font-size="6.6" font-family="'Liberation Serif', serif" fill="#d9773c" textLength="20.4" lengthAdjust="spacingAndGlyphs" x="125.3" y="457.3">Chilling</text>
<text font-size="6.6" font-family="'Liberation Serif', serif" fill="#d9773c" textLength="22.7" lengthAdjust="spacingAndGlyphs" x="125.3" y="464.4">tolerance</text>
<path d="M60.4 461.7 L60.4 455.5 M60.4 457.9 L62.2 456.4 M60.4 457.9 L58.6 456.4 M60.4 461.7 L55 458.6 M57.1 459.8 L56.7 457.5 M57.1 459.8 L54.9 460.6 M60.4 461.7 L55 464.8 M57.1 463.6 L54.9 462.8 M57.1 463.6 L56.7 465.9 M60.4 461.7 L60.4 467.9 M60.4 465.5 L58.6 467 M60.4 465.5 L62.2 467 M60.4 461.7 L65.8 464.8 M63.7 463.6 L64.1 465.9 M63.7 463.6 L65.9 462.8 M60.4 461.7 L65.8 458.6 M63.7 459.8 L65.9 460.6 M63.7 459.8 L64.1 457.5" stroke="#74aeee" stroke-width="0.8" fill="none" stroke-linecap="round"/>
<rect x="234.7" y="454.7" width="23.6" height="7.4" fill="#feecd0"/>
<rect x="274" y="453.5" width="22.4" height="7.3" fill="#feecd0"/>
<rect x="233.6" y="464.6" width="21.6" height="13.8" fill="#feecd0"/>
<path d="M215 459.4 V507.3 H321.9" fill="none" stroke="#c9c9c9" stroke-width="0.7"/>
<text font-size="5.3" font-family="'Liberation Sans', sans-serif" text-anchor="end" fill="#4a4a4a" x="213.2" y="463.108">0.6</text>
<line x1="213.8" y1="461.2" x2="215" y2="461.2" stroke="#c9c9c9" stroke-width="0.5"/>
<text font-size="5.3" font-family="'Liberation Sans', sans-serif" text-anchor="end" fill="#4a4a4a" x="213.2" y="477.808">0.4</text>
<line x1="213.8" y1="475.9" x2="215" y2="475.9" stroke="#c9c9c9" stroke-width="0.5"/>
<text font-size="5.3" font-family="'Liberation Sans', sans-serif" text-anchor="end" fill="#4a4a4a" x="213.2" y="491.908">0.2</text>
<line x1="213.8" y1="490" x2="215" y2="490" stroke="#c9c9c9" stroke-width="0.5"/>
<text font-size="5.3" font-family="'Liberation Sans', sans-serif" text-anchor="end" fill="#4a4a4a" x="213.2" y="506.608">0</text>
<line x1="213.8" y1="504.7" x2="215" y2="504.7" stroke="#c9c9c9" stroke-width="0.5"/>
<text font-size="5.3" font-family="'Liberation Sans', sans-serif" text-anchor="middle" fill="#4a4a4a" x="219.8" y="512.408">140</text>
<line x1="219.8" y1="507.3" x2="219.8" y2="508.5" stroke="#c9c9c9" stroke-width="0.5"/>
<text font-size="5.3" font-family="'Liberation Sans', sans-serif" text-anchor="middle" fill="#4a4a4a" x="244.6" y="512.408">141</text>
<line x1="244.6" y1="507.3" x2="244.6" y2="508.5" stroke="#c9c9c9" stroke-width="0.5"/>
<text font-size="5.3" font-family="'Liberation Sans', sans-serif" text-anchor="middle" fill="#4a4a4a" x="269" y="512.408">142</text>
<line x1="269" y1="507.3" x2="269" y2="508.5" stroke="#c9c9c9" stroke-width="0.5"/>
<text font-size="5.3" font-family="'Liberation Sans', sans-serif" text-anchor="middle" fill="#4a4a4a" x="293.6" y="512.408">143</text>
<line x1="293.6" y1="507.3" x2="293.6" y2="508.5" stroke="#c9c9c9" stroke-width="0.5"/>
<text font-size="5.3" font-family="'Liberation Sans', sans-serif" text-anchor="middle" fill="#4a4a4a" x="318.5" y="512.408">144</text>
<line x1="318.5" y1="507.3" x2="318.5" y2="508.5" stroke="#c9c9c9" stroke-width="0.5"/>
<text font-size="7" font-family="'Liberation Sans', sans-serif" fill="#222" textLength="63.4" lengthAdjust="spacingAndGlyphs" x="237.6" y="518.9" stroke="#222" stroke-width="0.18">Chromosome 6 (Mb)</text>
<text font-size="7.4" font-family="'Liberation Sans', sans-serif" text-anchor="middle" fill="#222" textLength="16.6" lengthAdjust="spacingAndGlyphs" transform="translate(204.7 483.6) rotate(-90)" stroke="#222" stroke-width="0.18">f_dM</text>
<line x1="265.4" y1="455.5" x2="265.4" y2="507.3" stroke="#f4788c" stroke-width="2.6" stroke-dasharray="0.6 1.2"/>
<line x1="267.7" y1="455.5" x2="267.7" y2="507.3" stroke="#a45ad6" stroke-width="0.9" stroke-dasharray="2 1.6"/>
<path d="M225 502.1 L230.2 499.5 L235.5 500 L246 500 L252 503.1 L257.7 479 L262.2 469.9 L268.2 469.9 L279.5 467.8 L285.2 479 L291.8 493.5 L297 500.5 L306.2 500 L314 498.7" fill="none" stroke="#3b7c7d" stroke-width="1" stroke-linejoin="round" stroke-linecap="round"/>
<text font-size="6" font-family="'Liberation Serif', serif" text-anchor="middle" fill="#f0522a" font-weight="bold" textLength="20" lengthAdjust="spacingAndGlyphs" x="246.5" y="460.6">SNP_02</text>
<text font-size="6" font-family="'Liberation Serif', serif" text-anchor="middle" fill="#f0522a" font-weight="bold" textLength="19.6" lengthAdjust="spacingAndGlyphs" x="285.2" y="459.4">SNP_01</text>
<text font-size="6" font-family="'Liberation Serif', serif" text-anchor="middle" fill="#f0522a" font-style="italic" font-weight="bold" textLength="16.4" lengthAdjust="spacingAndGlyphs" x="244.4" y="470.4">RPF12</text>
<text font-size="6" font-family="'Liberation Serif', serif" text-anchor="middle" fill="#f0522a" font-weight="bold" textLength="11" lengthAdjust="spacingAndGlyphs" x="244.4" y="476.6">QTL</text>
<path d="M258.3 460 L265.6 463.4" stroke="#f0506a" stroke-width="0.6" stroke-dasharray="1.2 1" fill="none"/>
<path d="M274 459 L267.7 462" stroke="#f0506a" stroke-width="0.6" stroke-dasharray="1.2 1" fill="none"/>
<text font-size="6.2" font-family="'Liberation Serif', serif" fill="#222" font-style="italic" textLength="14.4" lengthAdjust="spacingAndGlyphs" x="261" y="453">RAR1</text>
<text font-size="6.6" font-family="'Liberation Serif', serif" fill="#d9773c" textLength="18.3" lengthAdjust="spacingAndGlyphs" x="300.2" y="453.8">Downy</text>
<text font-size="6.6" font-family="'Liberation Serif', serif" fill="#d9773c" textLength="18.7" lengthAdjust="spacingAndGlyphs" x="300.2" y="461">mildew</text>
<text font-size="6.6" font-family="'Liberation Serif', serif" fill="#d9773c" textLength="24.3" lengthAdjust="spacingAndGlyphs" x="300.2" y="468.3">resistance</text>
<ellipse cx="305.8" cy="479.8" rx="7.8" ry="6.3" transform="rotate(-25 305.8 479.8)" fill="#4fa62e"/>
<ellipse cx="304.9" cy="478.8" rx="5.8" ry="4.4" transform="rotate(-25 304.9 478.8)" fill="#6cc03e"/>
<circle cx="303" cy="478" r="0.85" fill="#f0dc64"/>
<circle cx="306.4" cy="476.2" r="0.85" fill="#f0dc64"/>
<circle cx="308.6" cy="479.6" r="0.85" fill="#f0dc64"/>
<circle cx="304.6" cy="481.6" r="0.85" fill="#f0dc64"/>
<circle cx="301.6" cy="481" r="0.85" fill="#f0dc64"/>
<circle cx="307" cy="482" r="0.85" fill="#f0dc64"/>
<text font-size="15" font-family="'Liberation Sans', sans-serif" fill="#1a1a1a" x="328.6" y="396">g</text>
<line x1="464.3" y1="401" x2="464.3" y2="440.5" stroke="#e2d8f0" stroke-width="1.4"/>
<line x1="578.2" y1="397" x2="578.2" y2="438" stroke="#e2d8f0" stroke-width="1.4"/>
<line x1="362.7" y1="422.6" x2="643" y2="422.6" stroke="#f8b4b4" stroke-width="0.55"/>
<path d="M369.8 425.4 L370.3 425.4 L370.3 422.4 L370.8 422.4 L370.8 422.4 L371.3 422.4 L371.3 420.4 L371.8 420.4 L371.8 420.4 L372.3 420.4 L372.3 424.1 L372.8 424.1 L372.8 422.2 L373.3 422.2 L373.3 417.7 L373.8 417.7 L373.8 419 L374.3 419 L374.3 417.7 L374.8 417.7 L374.8 420.7 L375.3 420.7 L375.3 420.7 L375.8 420.7 L375.8 421.3 L376.3 421.3 L376.3 419.1 L376.8 419.1 L376.8 419.1 L377.3 419.1 L377.3 424.5 L377.8 424.5 L377.8 424.5 L378.3 424.5 L378.3 424.7 L378.8 424.7 L378.8 423.9 L379.3 423.9 L379.3 421.6 L379.8 421.6 L379.8 421.6 L380.3 421.6 L380.3 424.2 L380.8 424.2 L380.8 424.7 L381.3 424.7 L381.3 424.4 L381.8 424.4 L381.8 424.3 L382.3 424.3 L382.3 424.6 L382.8 424.6 L382.8 423.9 L383.3 423.9 L383.3 421.1 L383.8 421.1 L383.8 424.6 L384.3 424.6 L384.3 425.4 L384.8 425.4 L384.8 420.5 L385.3 420.5 L385.3 419.4 L385.8 419.4 L385.8 419.4 L386.3 419.4 L386.3 424.3 L386.8 424.3 L386.8 421.7 L387.3 421.7 L387.3 424.3 L387.8 424.3 L387.8 424.6 L388.3 424.6 L388.3 424.7 L388.8 424.7 L388.8 424 L389.3 424 L389.3 420.9 L389.8 420.9 L389.8 420.9 L390.3 420.9 L390.3 421 L390.8 421 L390.8 423.9 L391.3 423.9 L391.3 424 L391.8 424 L391.8 424.1 L392.3 424.1 L392.3 424.9 L392.8 424.9 L392.8 424.2 L393.3 424.2 L393.3 424.1 L393.8 424.1 L393.8 419 L394.3 419 L394.3 419 L394.8 419 L394.8 419 L395.3 419 L395.3 419.7 L395.8 419.7 L395.8 424 L396.3 424 L396.3 424 L396.8 424 L396.8 424.4 L397.3 424.4 L397.3 419.7 L397.8 419.7 L397.8 419.7 L398.3 419.7 L398.3 419.7 L398.8 419.7 L398.8 423.9 L399.3 423.9 L399.3 422.7 L399.8 422.7 L399.8 422.7 L400.3 422.7 L400.3 422.7 L400.8 422.7 L400.8 422.7 L401.3 422.7 L401.3 422.7 L401.8 422.7 L401.8 424.3 L402.3 424.3 L402.3 424.3 L402.8 424.3 L402.8 424.3 L403.3 424.3 L403.3 424.1 L403.8 424.1 L403.8 420.7 L404.3 420.7 L404.3 420.7 L404.8 420.7 L404.8 420.7 L405.3 420.7 L405.3 424.2 L405.8 424.2 L405.8 424.6 L406.3 424.6 L406.3 424.6 L406.8 424.6 L406.8 425.4 L407.3 425.4 L407.3 425.7 L407.8 425.7 L407.8 424.4 L408.3 424.4 L408.3 419 L408.8 419 L408.8 419 L409.3 419 L409.3 419 L409.8 419 L409.8 418.8 L410.3 418.8 L410.3 424 L410.8 424 L410.8 424.1 L411.3 424.1 L411.3 424.4 L411.8 424.4 L411.8 424.2 L412.3 424.2 L412.3 419.2 L412.8 419.2 L412.8 420.3 L413.3 420.3 L413.3 421.2 L413.8 421.2 L413.8 423.4 L414.3 423.4 L414.3 423.9 L414.8 423.9 L414.8 423.9 L415.3 423.9 L415.3 422.8 L415.8 422.8 L415.8 422.8 L416.3 422.8 L416.3 424.3 L416.8 424.3 L416.8 424.4 L417.3 424.4 L417.3 419.5 L417.8 419.5 L417.8 419.5 L418.3 419.5 L418.3 419.5 L418.8 419.5 L418.8 419.5 L419.3 419.5 L419.3 419.5 L419.8 419.5 L419.8 424.1 L420.3 424.1 L420.3 420.7 L420.8 420.7 L420.8 417.6 L421.3 417.6 L421.3 417.6 L421.8 417.6 L421.8 417.6 L422.3 417.6 L422.3 417.6 L422.8 417.6 L422.8 417.6 L423.3 417.6 L423.3 424.6 L423.8 424.6 L423.8 418.9 L424.3 418.9 L424.3 418.9 L424.8 418.9 L424.8 424 L425.3 424 L425.3 423.9 L425.8 423.9 L425.8 422.3 L426.3 422.3 L426.3 422.3 L426.8 422.3 L426.8 422.3 L427.3 422.3 L427.3 423.9 L427.8 423.9 L427.8 424.3 L428.3 424.3 L428.3 424.1 L428.8 424.1 L428.8 424.7 L429.3 424.7 L429.3 419.2 L429.8 419.2 L429.8 419.2 L430.3 419.2 L430.3 423.2 L430.8 423.2 L430.8 435 L430.3 435 L430.3 440.8 L429.8 440.8 L429.8 440.8 L429.3 440.8 L429.3 440.8 L428.8 440.8 L428.8 438.9 L428.3 438.9 L428.3 438.9 L427.8 438.9 L427.8 436.9 L427.3 436.9 L427.3 436.2 L426.8 436.2 L426.8 435.1 L426.3 435.1 L426.3 435 L425.8 435 L425.8 435.5 L425.3 435.5 L425.3 436.7 L424.8 436.7 L424.8 436.8 L424.3 436.8 L424.3 436.6 L423.8 436.6 L423.8 436.8 L423.3 436.8 L423.3 436.9 L422.8 436.9 L422.8 436.7 L422.3 436.7 L422.3 436.5 L421.8 436.5 L421.8 436.5 L421.3 436.5 L421.3 436.1 L420.8 436.1 L420.8 437 L420.3 437 L420.3 442.6 L419.8 442.6 L419.8 442.6 L419.3 442.6 L419.3 442.6 L418.8 442.6 L418.8 440 L418.3 440 L418.3 440 L417.8 440 L417.8 441.3 L417.3 441.3 L417.3 441.3 L416.8 441.3 L416.8 434.7 L416.3 434.7 L416.3 436.2 L415.8 436.2 L415.8 436.4 L415.3 436.4 L415.3 436 L414.8 436 L414.8 436.2 L414.3 436.2 L414.3 436.4 L413.8 436.4 L413.8 436.4 L413.3 436.4 L413.3 441.2 L412.8 441.2 L412.8 441.2 L412.3 441.2 L412.3 441.2 L411.8 441.2 L411.8 441.2 L411.3 441.2 L411.3 441.2 L410.8 441.2 L410.8 436.4 L410.3 436.4 L410.3 436.8 L409.8 436.8 L409.8 436.8 L409.3 436.8 L409.3 438.3 L408.8 438.3 L408.8 443 L408.3 443 L408.3 438.3 L407.8 438.3 L407.8 438.3 L407.3 438.3 L407.3 438.3 L406.8 438.3 L406.8 438.3 L406.3 438.3 L406.3 444.2 L405.8 444.2 L405.8 444.2 L405.3 444.2 L405.3 444.2 L404.8 444.2 L404.8 444.2 L404.3 444.2 L404.3 439.9 L403.8 439.9 L403.8 439.8 L403.3 439.8 L403.3 439.8 L402.8 439.8 L402.8 439.8 L402.3 439.8 L402.3 439.1 L401.8 439.1 L401.8 439.1 L401.3 439.1 L401.3 443 L400.8 443 L400.8 443 L400.3 443 L400.3 443 L399.8 443 L399.8 443 L399.3 443 L399.3 438.5 L398.8 438.5 L398.8 439.8 L398.3 439.8 L398.3 439.8 L397.8 439.8 L397.8 436.3 L397.3 436.3 L397.3 436.4 L396.8 436.4 L396.8 436 L396.3 436 L396.3 436.3 L395.8 436.3 L395.8 436.7 L395.3 436.7 L395.3 436.3 L394.8 436.3 L394.8 440.2 L394.3 440.2 L394.3 439.1 L393.8 439.1 L393.8 441.2 L393.3 441.2 L393.3 441.2 L392.8 441.2 L392.8 441.2 L392.3 441.2 L392.3 436 L391.8 436 L391.8 435.4 L391.3 435.4 L391.3 435.7 L390.8 435.7 L390.8 436.9 L390.3 436.9 L390.3 436.7 L389.8 436.7 L389.8 436 L389.3 436 L389.3 436.6 L388.8 436.6 L388.8 436.7 L388.3 436.7 L388.3 436.4 L387.8 436.4 L387.8 436.2 L387.3 436.2 L387.3 436.2 L386.8 436.2 L386.8 436.2 L386.3 436.2 L386.3 440.5 L385.8 440.5 L385.8 440.5 L385.3 440.5 L385.3 440.5 L384.8 440.5 L384.8 440.3 L384.3 440.3 L384.3 440.3 L383.8 440.3 L383.8 438.7 L383.3 438.7 L383.3 436.1 L382.8 436.1 L382.8 436.4 L382.3 436.4 L382.3 436 L381.8 436 L381.8 436.1 L381.3 436.1 L381.3 436.1 L380.8 436.1 L380.8 436.1 L380.3 436.1 L380.3 436.9 L379.8 436.9 L379.8 437 L379.3 437 L379.3 436.4 L378.8 436.4 L378.8 436.3 L378.3 436.3 L378.3 436.6 L377.8 436.6 L377.8 439.9 L377.3 439.9 L377.3 439.9 L376.8 439.9 L376.8 436.6 L376.3 436.6 L376.3 436 L375.8 436 L375.8 437 L375.3 437 L375.3 436.7 L374.8 436.7 L374.8 436 L374.3 436 L374.3 442.9 L373.8 442.9 L373.8 443.2 L373.3 443.2 L373.3 443.2 L372.8 443.2 L372.8 443.2 L372.3 443.2 L372.3 442.1 L371.8 442.1 L371.8 434.7 L371.3 434.7 L371.3 434.7 L370.8 434.7 L370.8 435.6 L370.3 435.6 L370.3 434.3 L369.8 434.3Z" fill="#8dea8d"/>
<path d="M430.8 425.9 L431.3 425.9 L431.3 423 L431.8 423 L431.8 423 L432.3 423 L432.3 418 L432.8 418 L432.8 418 L433.3 418 L433.3 423 L433.8 423 L433.8 423 L434.3 423 L434.3 423 L434.8 423 L434.8 423 L435.3 423 L435.3 423 L435.8 423 L435.8 424.2 L436.3 424.2 L436.3 417.1 L436.8 417.1 L436.8 417.1 L437.3 417.1 L437.3 424.1 L437.8 424.1 L437.8 421.3 L438.3 421.3 L438.3 421.3 L438.8 421.3 L438.8 421.3 L439.3 421.3 L439.3 421.3 L439.8 421.3 L439.8 421.3 L440.3 421.3 L440.3 421.3 L440.8 421.3 L440.8 421.3 L441.3 421.3 L441.3 418.5 L441.8 418.5 L441.8 418.5 L442.3 418.5 L442.3 420.1 L442.8 420.1 L442.8 420 L443.3 420 L443.3 418.6 L443.8 418.6 L443.8 418.6 L444.3 418.6 L444.3 424 L444.8 424 L444.8 424.3 L445.3 424.3 L445.3 426.4 L445.8 426.4 L445.8 425.7 L446.3 425.7 L446.3 424.5 L446.8 424.5 L446.8 418.2 L447.3 418.2 L447.3 418.2 L447.8 418.2 L447.8 418.2 L448.3 418.2 L448.3 424.1 L448.8 424.1 L448.8 424.2 L449.3 424.2 L449.3 419.9 L449.8 419.9 L449.8 418.7 L450.3 418.7 L450.3 419 L450.8 419 L450.8 424.1 L451.3 424.1 L451.3 419.1 L451.8 419.1 L451.8 419.1 L452.3 419.1 L452.3 424.3 L452.8 424.3 L452.8 422.1 L453.3 422.1 L453.3 419.6 L453.9 419.6 L453.9 419.6 L454.4 419.6 L454.4 422.1 L454.9 422.1 L454.9 424.4 L455.4 424.4 L455.4 424.3 L455.9 424.3 L455.9 424.2 L456.4 424.2 L456.4 424.1 L456.9 424.1 L456.9 424.2 L457.4 424.2 L457.4 424.3 L457.9 424.3 L457.9 424.5 L458.4 424.5 L458.4 418.1 L458.9 418.1 L458.9 418.1 L459.4 418.1 L459.4 418.1 L459.9 418.1 L459.9 424.1 L460.4 424.1 L460.4 425.6 L460.9 425.6 L460.9 426 L461.4 426 L461.4 424.4 L461.9 424.4 L461.9 424.6 L462.4 424.6 L462.4 424.7 L462.9 424.7 L462.9 424.5 L463.4 424.5 L463.4 422 L463.9 422 L463.9 422 L464.4 422 L464.4 418.1 L464.9 418.1 L464.9 418.1 L465.4 418.1 L465.4 424.5 L465.9 424.5 L465.9 421.5 L466.4 421.5 L466.4 424.6 L466.9 424.6 L466.9 424.6 L467.4 424.6 L467.4 420.4 L467.9 420.4 L467.9 419 L468.4 419 L468.4 419 L468.9 419 L468.9 420.4 L469.4 420.4 L469.4 424.6 L469.9 424.6 L469.9 424.6 L470.4 424.6 L470.4 424.1 L470.9 424.1 L470.9 424.5 L471.4 424.5 L471.4 423 L471.9 423 L471.9 423 L472.4 423 L472.4 424.5 L472.9 424.5 L472.9 424.2 L473.4 424.2 L473.4 424.5 L473.9 424.5 L473.9 424.4 L474.4 424.4 L474.4 424.1 L474.9 424.1 L474.9 424 L475.4 424 L475.4 417.1 L475.9 417.1 L475.9 421.7 L476.4 421.7 L476.4 435.1 L475.9 435.1 L475.9 436.2 L475.4 436.2 L475.4 436.8 L474.9 436.8 L474.9 437 L474.4 437 L474.4 436.2 L473.9 436.2 L473.9 436.9 L473.4 436.9 L473.4 436.6 L472.9 436.6 L472.9 436 L472.4 436 L472.4 438.2 L471.9 438.2 L471.9 442.8 L471.4 442.8 L471.4 442.1 L470.9 442.1 L470.9 440.3 L470.4 440.3 L470.4 439.5 L469.9 439.5 L469.9 437.6 L469.4 437.6 L469.4 435.1 L468.9 435.1 L468.9 436.1 L468.4 436.1 L468.4 436.7 L467.9 436.7 L467.9 436.7 L467.4 436.7 L467.4 435.9 L466.9 435.9 L466.9 438.5 L466.4 438.5 L466.4 438.5 L465.9 438.5 L465.9 438.5 L465.4 438.5 L465.4 434.8 L464.9 434.8 L464.9 436.1 L464.4 436.1 L464.4 436.4 L463.9 436.4 L463.9 439.2 L463.4 439.2 L463.4 439.2 L462.9 439.2 L462.9 439.2 L462.4 439.2 L462.4 439.2 L461.9 439.2 L461.9 436.8 L461.4 436.8 L461.4 436.4 L460.9 436.4 L460.9 440 L460.4 440 L460.4 440 L459.9 440 L459.9 438.9 L459.4 438.9 L459.4 440.8 L458.9 440.8 L458.9 439.6 L458.4 439.6 L458.4 439.6 L457.9 439.6 L457.9 439.6 L457.4 439.6 L457.4 439.6 L456.9 439.6 L456.9 436.2 L456.4 436.2 L456.4 436.5 L455.9 436.5 L455.9 440.3 L455.4 440.3 L455.4 440.3 L454.9 440.3 L454.9 441.4 L454.4 441.4 L454.4 441.4 L453.9 441.4 L453.9 441.4 L453.3 441.4 L453.3 436 L452.8 436 L452.8 436.7 L452.3 436.7 L452.3 436.9 L451.8 436.9 L451.8 444.4 L451.3 444.4 L451.3 444.4 L450.8 444.4 L450.8 444.4 L450.3 444.4 L450.3 444.4 L449.8 444.4 L449.8 436.8 L449.3 436.8 L449.3 436.7 L448.8 436.7 L448.8 436 L448.3 436 L448.3 441.5 L447.8 441.5 L447.8 441.5 L447.3 441.5 L447.3 440.9 L446.8 440.9 L446.8 440.9 L446.3 440.9 L446.3 440.9 L445.8 440.9 L445.8 436.7 L445.3 436.7 L445.3 436.1 L444.8 436.1 L444.8 440.7 L444.3 440.7 L444.3 440.7 L443.8 440.7 L443.8 441.6 L443.3 441.6 L443.3 440.4 L442.8 440.4 L442.8 439.9 L442.3 439.9 L442.3 441.6 L441.8 441.6 L441.8 441.6 L441.3 441.6 L441.3 436.5 L440.8 436.5 L440.8 436.4 L440.3 436.4 L440.3 436.3 L439.8 436.3 L439.8 436.8 L439.3 436.8 L439.3 436.3 L438.8 436.3 L438.8 436.5 L438.3 436.5 L438.3 436.3 L437.8 436.3 L437.8 441 L437.3 441 L437.3 441 L436.8 441 L436.8 441 L436.3 441 L436.3 441 L435.8 441 L435.8 436.8 L435.3 436.8 L435.3 436.4 L434.8 436.4 L434.8 436 L434.3 436 L434.3 436.6 L433.8 436.6 L433.8 436.4 L433.3 436.4 L433.3 440.4 L432.8 440.4 L432.8 440.4 L432.3 440.4 L432.3 436.8 L431.8 436.8 L431.8 437 L431.3 437 L431.3 435.3 L430.8 435.3Z" fill="#6fb3ea"/>
<path d="M476.4 426.8 L476.9 426.8 L476.9 424.3 L477.4 424.3 L477.4 423.9 L477.9 423.9 L477.9 424.1 L478.4 424.1 L478.4 424.5 L478.9 424.5 L478.9 424.4 L479.4 424.4 L479.4 419.3 L479.9 419.3 L479.9 419.3 L480.4 419.3 L480.4 424.2 L480.9 424.2 L480.9 424.5 L481.4 424.5 L481.4 418.3 L481.9 418.3 L481.9 419.4 L482.4 419.4 L482.4 419.6 L482.9 419.6 L482.9 426.2 L483.4 426.2 L483.4 424.4 L483.9 424.4 L483.9 424.5 L484.4 424.5 L484.4 420.6 L484.9 420.6 L484.9 423.9 L485.4 423.9 L485.4 424 L485.9 424 L485.9 424.2 L486.4 424.2 L486.4 424 L486.9 424 L486.9 419.5 L487.4 419.5 L487.4 419.5 L487.9 419.5 L487.9 419.5 L488.4 419.5 L488.4 419.5 L488.9 419.5 L488.9 422.6 L489.4 422.6 L489.4 422.6 L489.9 422.6 L489.9 422.6 L490.4 422.6 L490.4 424.4 L490.9 424.4 L490.9 418.4 L491.4 418.4 L491.4 418.4 L491.9 418.4 L491.9 418 L492.4 418 L492.4 419.3 L492.9 419.3 L492.9 418 L493.4 418 L493.4 422.7 L493.9 422.7 L493.9 422.7 L494.3 422.7 L494.3 422.6 L494.8 422.6 L494.8 422.6 L495.3 422.6 L495.3 422.6 L495.8 422.6 L495.8 422.6 L496.3 422.6 L496.3 422.6 L496.8 422.6 L496.8 424.2 L497.3 424.2 L497.3 420.6 L497.8 420.6 L497.8 422.5 L498.3 422.5 L498.3 420.6 L498.8 420.6 L498.8 424.3 L499.3 424.3 L499.3 424 L499.8 424 L499.8 424.2 L500.3 424.2 L500.3 424.6 L500.8 424.6 L500.8 419 L501.3 419 L501.3 419 L501.8 419 L501.8 424.3 L502.3 424.3 L502.3 424.7 L502.8 424.7 L502.8 424.6 L503.3 424.6 L503.3 424.6 L503.8 424.6 L503.8 424.2 L504.3 424.2 L504.3 424.2 L504.8 424.2 L504.8 424.3 L505.3 424.3 L505.3 424.4 L505.8 424.4 L505.8 423.9 L506.3 423.9 L506.3 424.4 L506.8 424.4 L506.8 424.2 L507.3 424.2 L507.3 424.5 L507.8 424.5 L507.8 420.3 L508.3 420.3 L508.3 420.3 L508.8 420.3 L508.8 422.2 L509.3 422.2 L509.3 418.9 L509.8 418.9 L509.8 418.9 L510.3 418.9 L510.3 422.2 L510.8 422.2 L510.8 425.3 L511.3 425.3 L511.3 439.9 L510.8 439.9 L510.8 436.8 L510.3 436.8 L510.3 432.9 L509.8 432.9 L509.8 435.5 L509.3 435.5 L509.3 436.9 L508.8 436.9 L508.8 442.3 L508.3 442.3 L508.3 442.3 L507.8 442.3 L507.8 442.3 L507.3 442.3 L507.3 440.4 L506.8 440.4 L506.8 436.6 L506.3 436.6 L506.3 436.2 L505.8 436.2 L505.8 436.9 L505.3 436.9 L505.3 436.5 L504.8 436.5 L504.8 436.1 L504.3 436.1 L504.3 436.8 L503.8 436.8 L503.8 436.3 L503.3 436.3 L503.3 436.2 L502.8 436.2 L502.8 438.4 L502.3 438.4 L502.3 438.4 L501.8 438.4 L501.8 438.4 L501.3 438.4 L501.3 436.5 L500.8 436.5 L500.8 436.9 L500.3 436.9 L500.3 440.3 L499.8 440.3 L499.8 440.3 L499.3 440.3 L499.3 440.5 L498.8 440.5 L498.8 440.5 L498.3 440.5 L498.3 440.3 L497.8 440.3 L497.8 436.4 L497.3 436.4 L497.3 438.8 L496.8 438.8 L496.8 442.4 L496.3 442.4 L496.3 436.8 L495.8 436.8 L495.8 436.4 L495.3 436.4 L495.3 436.2 L494.8 436.2 L494.8 439.4 L494.3 439.4 L494.3 440.6 L493.9 440.6 L493.9 440.6 L493.4 440.6 L493.4 436.4 L492.9 436.4 L492.9 436.8 L492.4 436.8 L492.4 436.9 L491.9 436.9 L491.9 443.5 L491.4 443.5 L491.4 443.5 L490.9 443.5 L490.9 443.5 L490.4 443.5 L490.4 443.5 L489.9 443.5 L489.9 443.5 L489.4 443.5 L489.4 439.9 L488.9 439.9 L488.9 436.7 L488.4 436.7 L488.4 436.8 L487.9 436.8 L487.9 441.9 L487.4 441.9 L487.4 441.9 L486.9 441.9 L486.9 441.3 L486.4 441.3 L486.4 435.5 L485.9 435.5 L485.9 435.1 L485.4 435.1 L485.4 436.8 L484.9 436.8 L484.9 436.8 L484.4 436.8 L484.4 436.7 L483.9 436.7 L483.9 436.4 L483.4 436.4 L483.4 436.1 L482.9 436.1 L482.9 436.3 L482.4 436.3 L482.4 436.5 L481.9 436.5 L481.9 438.6 L481.4 438.6 L481.4 438.6 L480.9 438.6 L480.9 438.2 L480.4 438.2 L480.4 438.2 L479.9 438.2 L479.9 442.9 L479.4 442.9 L479.4 442.9 L478.9 442.9 L478.9 436.7 L478.4 436.7 L478.4 440 L477.9 440 L477.9 440 L477.4 440 L477.4 440 L476.9 440 L476.9 435.4 L476.4 435.4Z" fill="#8dea8d"/>
<path d="M511.3 426.5 L511.8 426.5 L511.8 424.4 L512.3 424.4 L512.3 424.5 L512.8 424.5 L512.8 424 L513.3 424 L513.3 425.7 L513.8 425.7 L513.8 426.3 L514.3 426.3 L514.3 425.7 L514.8 425.7 L514.8 424.3 L515.3 424.3 L515.3 424.2 L515.8 424.2 L515.8 424.6 L516.3 424.6 L516.3 424.4 L516.8 424.4 L516.8 424.1 L517.3 424.1 L517.3 419.5 L517.8 419.5 L517.8 418.9 L518.3 418.9 L518.3 419.2 L518.8 419.2 L518.8 422.2 L519.3 422.2 L519.3 418.4 L519.8 418.4 L519.8 422.2 L520.3 422.2 L520.3 421.9 L520.8 421.9 L520.8 421.1 L521.3 421.1 L521.3 421.1 L521.8 421.1 L521.8 421.9 L522.4 421.9 L522.4 424.1 L522.9 424.1 L522.9 419.4 L523.4 419.4 L523.4 419.4 L523.9 419.4 L523.9 418.6 L524.4 418.6 L524.4 418.3 L524.9 418.3 L524.9 418.3 L525.4 418.3 L525.4 424.1 L525.9 424.1 L525.9 424.1 L526.4 424.1 L526.4 424 L526.9 424 L526.9 419.4 L527.4 419.4 L527.4 419.4 L527.9 419.4 L527.9 419.4 L528.4 419.4 L528.4 423.9 L528.9 423.9 L528.9 424.6 L529.4 424.6 L529.4 424.4 L529.9 424.4 L529.9 424.2 L530.4 424.2 L530.4 424 L530.9 424 L530.9 424.3 L531.4 424.3 L531.4 424.1 L531.9 424.1 L531.9 424.4 L532.4 424.4 L532.4 419.6 L532.9 419.6 L532.9 419.6 L533.4 419.6 L533.4 419.6 L533.9 419.6 L533.9 424.7 L534.4 424.7 L534.4 424.2 L534.9 424.2 L534.9 424.7 L535.4 424.7 L535.4 424.5 L535.9 424.5 L535.9 422.8 L536.4 422.8 L536.4 422.8 L536.9 422.8 L536.9 422.8 L537.4 422.8 L537.4 422.8 L537.9 422.8 L537.9 424.6 L538.4 424.6 L538.4 424.5 L538.9 424.5 L538.9 424.1 L539.4 424.1 L539.4 424 L539.9 424 L539.9 421.7 L540.4 421.7 L540.4 419.9 L540.9 419.9 L540.9 419.9 L541.4 419.9 L541.4 424.2 L541.9 424.2 L541.9 424.6 L542.4 424.6 L542.4 417.6 L542.9 417.6 L542.9 424.6 L543.4 424.6 L543.4 424 L543.9 424 L543.9 419.3 L544.5 419.3 L544.5 420.5 L545 420.5 L545 419.3 L545.5 419.3 L545.5 424.2 L546 424.2 L546 425 L546.5 425 L546.5 425.7 L547 425.7 L547 424.1 L547.5 424.1 L547.5 424 L548 424 L548 423.9 L548.5 423.9 L548.5 424.2 L549 424.2 L549 417.8 L549.5 417.8 L549.5 417.8 L550 417.8 L550 419.7 L550.5 419.7 L550.5 419.4 L551 419.4 L551 418 L551.5 418 L551.5 416.7 L552 416.7 L552 416.7 L552.5 416.7 L552.5 416.7 L553 416.7 L553 424.6 L553.5 424.6 L553.5 424.6 L554 424.6 L554 424.4 L554.5 424.4 L554.5 424.4 L555 424.4 L555 426.7 L555.5 426.7 L555.5 435.5 L555 435.5 L555 434.9 L554.5 434.9 L554.5 433.2 L554 433.2 L554 434.9 L553.5 434.9 L553.5 434.9 L553 434.9 L553 435.1 L552.5 435.1 L552.5 435.1 L552 435.1 L552 435.1 L551.5 435.1 L551.5 440.5 L551 440.5 L551 438.1 L550.5 438.1 L550.5 438.1 L550 438.1 L550 438.1 L549.5 438.1 L549.5 438.1 L549 438.1 L549 436.8 L548.5 436.8 L548.5 436.9 L548 436.9 L548 436.7 L547.5 436.7 L547.5 435 L547 435 L547 436.6 L546.5 436.6 L546.5 436.2 L546 436.2 L546 436.6 L545.5 436.6 L545.5 436.3 L545 436.3 L545 436.7 L544.5 436.7 L544.5 440.9 L543.9 440.9 L543.9 440.9 L543.4 440.9 L543.4 440.9 L542.9 440.9 L542.9 440.9 L542.4 440.9 L542.4 441.7 L541.9 441.7 L541.9 441.7 L541.4 441.7 L541.4 441.7 L540.9 441.7 L540.9 442.5 L540.4 442.5 L540.4 442.5 L539.9 442.5 L539.9 442.5 L539.4 442.5 L539.4 442.5 L538.9 442.5 L538.9 440.1 L538.4 440.1 L538.4 440.1 L537.9 440.1 L537.9 440.1 L537.4 440.1 L537.4 440.1 L536.9 440.1 L536.9 436.3 L536.4 436.3 L536.4 436.4 L535.9 436.4 L535.9 436.4 L535.4 436.4 L535.4 437 L534.9 437 L534.9 436.1 L534.4 436.1 L534.4 436.6 L533.9 436.6 L533.9 436.4 L533.4 436.4 L533.4 436.1 L532.9 436.1 L532.9 436.4 L532.4 436.4 L532.4 436.6 L531.9 436.6 L531.9 436.9 L531.4 436.9 L531.4 442.6 L530.9 442.6 L530.9 442.6 L530.4 442.6 L530.4 436.2 L529.9 436.2 L529.9 436.4 L529.4 436.4 L529.4 436.1 L528.9 436.1 L528.9 436.4 L528.4 436.4 L528.4 436.3 L527.9 436.3 L527.9 441.3 L527.4 441.3 L527.4 441.3 L526.9 441.3 L526.9 440.1 L526.4 440.1 L526.4 440.1 L525.9 440.1 L525.9 440.1 L525.4 440.1 L525.4 436.6 L524.9 436.6 L524.9 436.2 L524.4 436.2 L524.4 437.9 L523.9 437.9 L523.9 437.9 L523.4 437.9 L523.4 437.9 L522.9 437.9 L522.9 437.9 L522.4 437.9 L522.4 437.9 L521.8 437.9 L521.8 437.8 L521.3 437.8 L521.3 438.3 L520.8 438.3 L520.8 440.7 L520.3 440.7 L520.3 440.3 L519.8 440.3 L519.8 440.3 L519.3 440.3 L519.3 436.7 L518.8 436.7 L518.8 436.3 L518.3 436.3 L518.3 436.8 L517.8 436.8 L517.8 436.6 L517.3 436.6 L517.3 436.1 L516.8 436.1 L516.8 441.2 L516.3 441.2 L516.3 436.6 L515.8 436.6 L515.8 437.9 L515.3 437.9 L515.3 437.9 L514.8 437.9 L514.8 437.9 L514.3 437.9 L514.3 436.4 L513.8 436.4 L513.8 436.6 L513.3 436.6 L513.3 436.3 L512.8 436.3 L512.8 443.2 L512.3 443.2 L512.3 443.2 L511.8 443.2 L511.8 440 L511.3 440Z" fill="#6fb3ea"/>
<path d="M555.5 426.8 L556 426.8 L556 424 L556.5 424 L556.5 424.5 L557 424.5 L557 424.4 L557.5 424.4 L557.5 424.3 L558 424.3 L558 424.3 L558.5 424.3 L558.5 424.6 L559 424.6 L559 424.3 L559.5 424.3 L559.5 424.4 L560 424.4 L560 419.8 L560.5 419.8 L560.5 419.8 L561 419.8 L561 419.8 L561.5 419.8 L561.5 424.4 L562 424.4 L562 424.1 L562.5 424.1 L562.5 424.2 L563 424.2 L563 424.6 L563.5 424.6 L563.5 424.6 L564 424.6 L564 419.3 L564.5 419.3 L564.5 419.3 L565 419.3 L565 425.6 L565.5 425.6 L565.5 426.5 L566 426.5 L566 422.2 L566.5 422.2 L566.5 421.5 L567 421.5 L567 424.4 L567.5 424.4 L567.5 421.7 L568 421.7 L568 422 L568.5 422 L568.5 421.9 L569 421.9 L569 417.3 L569.5 417.3 L569.5 417.3 L570 417.3 L570 417.3 L570.5 417.3 L570.5 417.3 L571 417.3 L571 419.7 L571.5 419.7 L571.5 420.8 L572 420.8 L572 420.8 L572.5 420.8 L572.5 420.8 L573 420.8 L573 420.8 L573.5 420.8 L573.5 424.5 L574 424.5 L574 424.1 L574.5 424.1 L574.5 424 L575 424 L575 424.7 L575.5 424.7 L575.5 424.5 L576 424.5 L576 424.2 L576.5 424.2 L576.5 421 L577 421 L577 421 L577.5 421 L577.5 421 L578 421 L578 420.1 L578.5 420.1 L578.5 420.1 L579 420.1 L579 424.6 L579.5 424.6 L579.5 422 L580 422 L580 422 L580.5 422 L580.5 423.9 L581 423.9 L581 424.3 L581.5 424.3 L581.5 425.2 L582 425.2 L582 422.9 L582.5 422.9 L582.5 421.5 L583 421.5 L583 420.9 L583.5 420.9 L583.5 420.9 L584 420.9 L584 421 L584.5 421 L584.5 418 L585 418 L585 418 L585.5 418 L585.5 418 L586 418 L586 423.9 L586.5 423.9 L586.5 424.5 L587 424.5 L587 424.1 L587.5 424.1 L587.5 424.3 L588 424.3 L588 424.5 L588.5 424.5 L588.5 425 L589 425 L589 425.6 L589.5 425.6 L589.5 424.6 L590 424.6 L590 424 L590.5 424 L590.5 424.2 L591 424.2 L591 426.7 L591.5 426.7 L591.5 436.8 L591 436.8 L591 438.5 L590.5 438.5 L590.5 437.9 L590 437.9 L590 442.7 L589.5 442.7 L589.5 443 L589 443 L589 442 L588.5 442 L588.5 436.4 L588 436.4 L588 439.2 L587.5 439.2 L587.5 440.5 L587 440.5 L587 441.1 L586.5 441.1 L586.5 441.1 L586 441.1 L586 441.1 L585.5 441.1 L585.5 441.1 L585 441.1 L585 441.1 L584.5 441.1 L584.5 436.6 L584 436.6 L584 439.4 L583.5 439.4 L583.5 441 L583 441 L583 441 L582.5 441 L582.5 441 L582 441 L582 441 L581.5 441 L581.5 441 L581 441 L581 435.4 L580.5 435.4 L580.5 436.2 L580 436.2 L580 435.2 L579.5 435.2 L579.5 436.3 L579 436.3 L579 436.9 L578.5 436.9 L578.5 436.1 L578 436.1 L578 436.8 L577.5 436.8 L577.5 440.5 L577 440.5 L577 440.5 L576.5 440.5 L576.5 436.8 L576 436.8 L576 436.7 L575.5 436.7 L575.5 436.9 L575 436.9 L575 442.1 L574.5 442.1 L574.5 442.1 L574 442.1 L574 436.3 L573.5 436.3 L573.5 436.7 L573 436.7 L573 443.4 L572.5 443.4 L572.5 436.1 L572 436.1 L572 438.9 L571.5 438.9 L571.5 438.9 L571 438.9 L571 436.7 L570.5 436.7 L570.5 436.6 L570 436.6 L570 442.7 L569.5 442.7 L569.5 442.7 L569 442.7 L569 442.7 L568.5 442.7 L568.5 434.9 L568 434.9 L568 435.4 L567.5 435.4 L567.5 436.5 L567 436.5 L567 440.9 L566.5 440.9 L566.5 440.9 L566 440.9 L566 440.9 L565.5 440.9 L565.5 436.8 L565 436.8 L565 436.5 L564.5 436.5 L564.5 436.2 L564 436.2 L564 436 L563.5 436 L563.5 436.6 L563 436.6 L563 436.8 L562.5 436.8 L562.5 439.1 L562 439.1 L562 439.2 L561.5 439.2 L561.5 438.6 L561 438.6 L561 440.6 L560.5 440.6 L560.5 439.7 L560 439.7 L560 439.7 L559.5 439.7 L559.5 439.7 L559 439.7 L559 442.7 L558.5 442.7 L558.5 438.4 L558 438.4 L558 436.9 L557.5 436.9 L557.5 436.4 L557 436.4 L557 436.8 L556.5 436.8 L556.5 436.3 L556 436.3 L556 435.5 L555.5 435.5Z" fill="#8dea8d"/>
<path d="M591.5 426.8 L592 426.8 L592 419.4 L592.5 419.4 L592.5 419.4 L593 419.4 L593 423.9 L593.5 423.9 L593.5 423.9 L594 423.9 L594 426.1 L594.5 426.1 L594.5 425.9 L595 425.9 L595 425.7 L595.5 425.7 L595.5 424.6 L596 424.6 L596 422.8 L596.5 422.8 L596.5 424.5 L597 424.5 L597 424.3 L597.5 424.3 L597.5 423 L598 423 L598 423 L598.5 423 L598.5 423 L599 423 L599 419.9 L599.5 419.9 L599.5 419.9 L600 419.9 L600 419.9 L600.5 419.9 L600.5 419.9 L601 419.9 L601 419.9 L601.5 419.9 L601.5 424.5 L602 424.5 L602 424.2 L602.5 424.2 L602.5 423.9 L603.1 423.9 L603.1 424.1 L603.6 424.1 L603.6 423.9 L604.1 423.9 L604.1 424 L604.6 424 L604.6 424.3 L605.1 424.3 L605.1 424.5 L605.6 424.5 L605.6 424.1 L606.1 424.1 L606.1 422.6 L606.6 422.6 L606.6 422.6 L607.1 422.6 L607.1 424.4 L607.6 424.4 L607.6 420.1 L608.1 420.1 L608.1 420.1 L608.6 420.1 L608.6 420.1 L609.1 420.1 L609.1 420.1 L609.6 420.1 L609.6 424.6 L610.1 424.6 L610.1 420.4 L610.6 420.4 L610.6 420.4 L611.1 420.4 L611.1 420.4 L611.6 420.4 L611.6 424.1 L612.1 424.1 L612.1 424.2 L612.6 424.2 L612.6 424 L613.1 424 L613.1 424 L613.6 424 L613.6 424.3 L614.1 424.3 L614.1 424.4 L614.6 424.4 L614.6 425.7 L615.1 425.7 L615.1 418.1 L615.6 418.1 L615.6 419.3 L616.1 419.3 L616.1 418.1 L616.6 418.1 L616.6 418.1 L617.1 418.1 L617.1 418.1 L617.6 418.1 L617.6 424.4 L618.1 424.4 L618.1 419.2 L618.6 419.2 L618.6 419.2 L619.1 419.2 L619.1 424.7 L619.6 424.7 L619.6 422.3 L620.1 422.3 L620.1 422.3 L620.6 422.3 L620.6 422.3 L621.1 422.3 L621.1 424.2 L621.6 424.2 L621.6 424.5 L622.1 424.5 L622.1 417.1 L622.6 417.1 L622.6 417.1 L623.1 417.1 L623.1 417.1 L623.6 417.1 L623.6 417.1 L624.1 417.1 L624.1 417.1 L624.6 417.1 L624.7 420.4 L625.2 420.4 L625.2 420.4 L625.7 420.4 L625.7 421.2 L626.2 421.2 L626.2 419.8 L626.7 419.8 L626.7 420.5 L627.2 420.5 L627.2 423.7 L627.7 423.7 L627.7 422.9 L628.2 422.9 L628.2 422.2 L628.7 422.2 L628.7 422.2 L629.2 422.2 L629.2 424.3 L629.7 424.3 L629.7 420.3 L630.2 420.3 L630.2 417.7 L630.7 417.7 L630.7 417.7 L631.2 417.7 L631.2 424.7 L631.7 424.7 L631.7 424.2 L632.2 424.2 L632.2 424.3 L632.7 424.3 L632.7 424.2 L633.2 424.2 L633.2 424.6 L633.7 424.6 L633.7 424.4 L634.2 424.4 L634.2 420 L634.7 420 L634.7 420 L635.2 420 L635.2 422.4 L635.7 422.4 L635.7 435.4 L635.2 435.4 L635.2 436.8 L634.7 436.8 L634.7 436.5 L634.2 436.5 L634.2 436.7 L633.7 436.7 L633.7 438.5 L633.2 438.5 L633.2 438.5 L632.7 438.5 L632.7 436.7 L632.2 436.7 L632.2 443.4 L631.7 443.4 L631.7 443.4 L631.2 443.4 L631.2 443.4 L630.7 443.4 L630.7 436.1 L630.2 436.1 L630.2 436.1 L629.7 436.1 L629.7 442.2 L629.2 442.2 L629.2 442.2 L628.7 442.2 L628.7 442.2 L628.2 442.2 L628.2 442.2 L627.7 442.2 L627.7 442.2 L627.2 442.2 L627.2 438.8 L626.7 438.8 L626.7 438.8 L626.2 438.8 L626.2 436.4 L625.7 436.4 L625.7 436.2 L625.2 436.2 L625.2 436.3 L624.7 436.3 L624.6 436.2 L624.1 436.2 L624.1 439 L623.6 439 L623.6 439.9 L623.1 439.9 L623.1 439.8 L622.6 439.8 L622.6 441.8 L622.1 441.8 L622.1 441.8 L621.6 441.8 L621.6 441.8 L621.1 441.8 L621.1 442.3 L620.6 442.3 L620.6 436.1 L620.1 436.1 L620.1 436.2 L619.6 436.2 L619.6 436.9 L619.1 436.9 L619.1 443.2 L618.6 443.2 L618.6 443.2 L618.1 443.2 L618.1 443.2 L617.6 443.2 L617.6 443.2 L617.1 443.2 L617.1 436.4 L616.6 436.4 L616.6 436.6 L616.1 436.6 L616.1 436.4 L615.6 436.4 L615.6 436.8 L615.1 436.8 L615.1 436.9 L614.6 436.9 L614.6 436.3 L614.1 436.3 L614.1 436.6 L613.6 436.6 L613.6 436.4 L613.1 436.4 L613.1 435.5 L612.6 435.5 L612.6 435.7 L612.1 435.7 L612.1 439.4 L611.6 439.4 L611.6 439.4 L611.1 439.4 L611.1 436.3 L610.6 436.3 L610.6 436.1 L610.1 436.1 L610.1 435.3 L609.6 435.3 L609.6 435.3 L609.1 435.3 L609.1 436.1 L608.6 436.1 L608.6 442.3 L608.1 442.3 L608.1 442.3 L607.6 442.3 L607.6 442.3 L607.1 442.3 L607.1 442.3 L606.6 442.3 L606.6 436.8 L606.1 436.8 L606.1 436.7 L605.6 436.7 L605.6 436.8 L605.1 436.8 L605.1 436.4 L604.6 436.4 L604.6 436.8 L604.1 436.8 L604.1 436.3 L603.6 436.3 L603.6 436.4 L603.1 436.4 L603.1 436.3 L602.5 436.3 L602.5 436.7 L602 436.7 L602 436.9 L601.5 436.9 L601.5 436.5 L601 436.5 L601 443 L600.5 443 L600.5 441.4 L600 441.4 L600 443 L599.5 443 L599.5 443 L599 443 L599 443 L598.5 443 L598.5 444.4 L598 444.4 L598 442.9 L597.5 442.9 L597.5 442.6 L597 442.6 L597 444.4 L596.5 444.4 L596.5 436.5 L596 436.5 L596 436 L595.5 436 L595.5 436.5 L595 436.5 L595 436.2 L594.5 436.2 L594.5 439 L594 439 L594 439 L593.5 439 L593.5 439 L593 439 L593 439 L592.5 439 L592.5 436 L592 436 L592 435 L591.5 435Z" fill="#6fb3ea"/>
<line x1="371.6" y1="414" x2="371.6" y2="446" stroke="#8dea8d" stroke-width="1.3"/>
<line x1="370.4" y1="423.3" x2="370.4" y2="439.3" stroke="#8dea8d" stroke-width="1.2"/>
<line x1="372.8" y1="424.788" x2="372.8" y2="438.228" stroke="#8dea8d" stroke-width="1.2"/>
<line x1="369.3" y1="427.02" x2="369.3" y2="436.62" stroke="#8dea8d" stroke-width="1.2"/>
<line x1="373" y1="415" x2="373" y2="443" stroke="#8dea8d" stroke-width="1.3"/>
<line x1="371.8" y1="423.8" x2="371.8" y2="437.8" stroke="#8dea8d" stroke-width="1.2"/>
<line x1="374.2" y1="425.208" x2="374.2" y2="436.968" stroke="#8dea8d" stroke-width="1.2"/>
<line x1="370.7" y1="427.32" x2="370.7" y2="435.72" stroke="#8dea8d" stroke-width="1.2"/>
<line x1="377.6" y1="416" x2="377.6" y2="445" stroke="#8dea8d" stroke-width="1.3"/>
<line x1="376.4" y1="424.3" x2="376.4" y2="438.8" stroke="#8dea8d" stroke-width="1.2"/>
<line x1="378.8" y1="425.628" x2="378.8" y2="437.808" stroke="#8dea8d" stroke-width="1.2"/>
<line x1="375.3" y1="427.62" x2="375.3" y2="436.32" stroke="#8dea8d" stroke-width="1.2"/>
<line x1="464.3" y1="409" x2="464.3" y2="440.5" stroke="#6fb3ea" stroke-width="1.3"/>
<line x1="463.1" y1="420.8" x2="463.1" y2="436.55" stroke="#6fb3ea" stroke-width="1.2"/>
<line x1="465.5" y1="422.688" x2="465.5" y2="435.918" stroke="#6fb3ea" stroke-width="1.2"/>
<line x1="462" y1="425.52" x2="462" y2="434.97" stroke="#6fb3ea" stroke-width="1.2"/>
<line x1="506" y1="402.3" x2="506" y2="440" stroke="#8dea8d" stroke-width="1.3"/>
<line x1="504.8" y1="417.45" x2="504.8" y2="436.3" stroke="#8dea8d" stroke-width="1.2"/>
<line x1="507.2" y1="419.874" x2="507.2" y2="435.708" stroke="#8dea8d" stroke-width="1.2"/>
<line x1="503.7" y1="423.51" x2="503.7" y2="434.82" stroke="#8dea8d" stroke-width="1.2"/>
<line x1="578.2" y1="402.3" x2="578.2" y2="438" stroke="#8dea8d" stroke-width="1.3"/>
<line x1="577" y1="417.45" x2="577" y2="435.3" stroke="#8dea8d" stroke-width="1.2"/>
<line x1="579.4" y1="419.874" x2="579.4" y2="434.868" stroke="#8dea8d" stroke-width="1.2"/>
<line x1="575.9" y1="423.51" x2="575.9" y2="434.22" stroke="#8dea8d" stroke-width="1.2"/>
<line x1="631.8" y1="402.3" x2="631.8" y2="446.6" stroke="#6fb3ea" stroke-width="1.3"/>
<line x1="630.6" y1="417.45" x2="630.6" y2="439.6" stroke="#6fb3ea" stroke-width="1.2"/>
<line x1="633" y1="419.874" x2="633" y2="438.48" stroke="#6fb3ea" stroke-width="1.2"/>
<line x1="629.5" y1="423.51" x2="629.5" y2="436.8" stroke="#6fb3ea" stroke-width="1.2"/>
<line x1="632.8" y1="412" x2="632.8" y2="443" stroke="#6fb3ea" stroke-width="1.3"/>
<line x1="631.6" y1="422.3" x2="631.6" y2="437.8" stroke="#6fb3ea" stroke-width="1.2"/>
<line x1="634" y1="423.948" x2="634" y2="436.968" stroke="#6fb3ea" stroke-width="1.2"/>
<line x1="630.5" y1="426.42" x2="630.5" y2="435.72" stroke="#6fb3ea" stroke-width="1.2"/>
<line x1="485.6" y1="413" x2="485.6" y2="441" stroke="#8dea8d" stroke-width="1.3"/>
<line x1="484.4" y1="422.8" x2="484.4" y2="436.8" stroke="#8dea8d" stroke-width="1.2"/>
<line x1="486.8" y1="424.368" x2="486.8" y2="436.128" stroke="#8dea8d" stroke-width="1.2"/>
<line x1="483.3" y1="426.72" x2="483.3" y2="435.12" stroke="#8dea8d" stroke-width="1.2"/>
<line x1="362.7" y1="422.6" x2="643" y2="422.6" stroke="#f7a3a3" stroke-width="0.5" opacity="0.45"/>
<line x1="362.7" y1="412" x2="362.7" y2="453.3" stroke="#bdbdbd" stroke-width="0.7"/>
<text font-size="7.2" font-family="'Liberation Sans', sans-serif" text-anchor="end" fill="#333" x="359.4" y="415.1">0.5</text>
<text font-size="7.2" font-family="'Liberation Sans', sans-serif" text-anchor="end" fill="#333" x="359.4" y="435.2">0.0</text>
<text font-size="7.2" font-family="'Liberation Sans', sans-serif" text-anchor="end" fill="#333" x="359.4" y="455.6">-0.5</text>
<text font-size="7.2" font-family="'Liberation Sans', sans-serif" text-anchor="middle" fill="#222" textLength="44" lengthAdjust="spacingAndGlyphs" transform="translate(345.6 433.25) rotate(-90)" stroke="#222" stroke-width="0.15">f_dM-statistic</text>
<text font-size="7" font-family="'Liberation Serif', serif" fill="#111" font-weight="bold" textLength="79.4" lengthAdjust="spacingAndGlyphs" x="365.8" y="411.1" stroke="#111" stroke-width="0.2">India subgroup introgressor</text>
<text font-size="7.1" font-family="'Liberation Serif', serif" fill="#606060" x="364" y="431.8">Chr</text>
<text font-size="7.6" font-family="'Liberation Serif', serif" text-anchor="middle" fill="#566" x="406.4" y="432.1">1</text>
<text font-size="7.6" font-family="'Liberation Serif', serif" text-anchor="middle" fill="#566" x="458.8" y="432.1">2</text>
<text font-size="7.6" font-family="'Liberation Serif', serif" text-anchor="middle" fill="#566" x="497.7" y="432.1">3</text>
<text font-size="7.6" font-family="'Liberation Serif', serif" text-anchor="middle" fill="#566" x="536.8" y="432.1">4</text>
<text font-size="7.6" font-family="'Liberation Serif', serif" text-anchor="middle" fill="#566" x="574.5" y="432.1">5</text>
<text font-size="7.6" font-family="'Liberation Serif', serif" text-anchor="middle" fill="#566" x="615.4" y="432.1">6</text>
<path d="M417.7 454.9 L423.2 458.6" stroke="#3f9a2c" stroke-width="0.9" fill="none"/>
<ellipse cx="413.7" cy="452.5" rx="7.2" ry="5.6" transform="rotate(32 413.7 452.5)" fill="url(#lfi)"/>
<text font-size="6.6" font-family="'Liberation Serif', serif" fill="#222" font-style="italic" textLength="14.8" lengthAdjust="spacingAndGlyphs" x="425.7" y="458.7">APC4</text>
<text font-size="6.6" font-family="'Liberation Serif', serif" fill="#d9773c" textLength="11.5" lengthAdjust="spacingAndGlyphs" x="446.9" y="451.8">Leaf</text>
<text font-size="6.6" font-family="'Liberation Serif', serif" fill="#d9773c" textLength="30.2" lengthAdjust="spacingAndGlyphs" x="446.9" y="458.7">morphology</text>
<path d="M362.4 461.2 V508.6 H465.9" fill="none" stroke="#c9c9c9" stroke-width="0.7"/>
<text font-size="5.3" font-family="'Liberation Sans', sans-serif" text-anchor="end" fill="#4a4a4a" x="360.6" y="465.808">0.6</text>
<line x1="361.2" y1="463.9" x2="362.4" y2="463.9" stroke="#c9c9c9" stroke-width="0.5"/>
<text font-size="5.3" font-family="'Liberation Sans', sans-serif" text-anchor="end" fill="#4a4a4a" x="360.6" y="478.908">0.4</text>
<line x1="361.2" y1="477" x2="362.4" y2="477" stroke="#c9c9c9" stroke-width="0.5"/>
<text font-size="5.3" font-family="'Liberation Sans', sans-serif" text-anchor="end" fill="#4a4a4a" x="360.6" y="491.908">0.2</text>
<line x1="361.2" y1="490" x2="362.4" y2="490" stroke="#c9c9c9" stroke-width="0.5"/>
<text font-size="5.3" font-family="'Liberation Sans', sans-serif" text-anchor="end" fill="#4a4a4a" x="360.6" y="505.008">0</text>
<line x1="361.2" y1="503.1" x2="362.4" y2="503.1" stroke="#c9c9c9" stroke-width="0.5"/>
<text font-size="5.3" font-family="'Liberation Sans', sans-serif" text-anchor="middle" fill="#4a4a4a" x="366.4" y="514.508">110</text>
<line x1="366.4" y1="508.6" x2="366.4" y2="509.8" stroke="#c9c9c9" stroke-width="0.5"/>
<text font-size="5.3" font-family="'Liberation Sans', sans-serif" text-anchor="middle" fill="#4a4a4a" x="414.3" y="514.508">115</text>
<line x1="414.3" y1="508.6" x2="414.3" y2="509.8" stroke="#c9c9c9" stroke-width="0.5"/>
<text font-size="5.3" font-family="'Liberation Sans', sans-serif" text-anchor="middle" fill="#4a4a4a" x="462.2" y="514.508">120</text>
<line x1="462.2" y1="508.6" x2="462.2" y2="509.8" stroke="#c9c9c9" stroke-width="0.5"/>
<text font-size="7" font-family="'Liberation Sans', sans-serif" fill="#222" textLength="60.8" lengthAdjust="spacingAndGlyphs" x="383.6" y="520.4" stroke="#222" stroke-width="0.18">Chromosome 2 (Mb)</text>
<text font-size="7.4" font-family="'Liberation Sans', sans-serif" text-anchor="middle" fill="#222" textLength="16.6" lengthAdjust="spacingAndGlyphs" transform="translate(351.5 485) rotate(-90)" stroke="#222" stroke-width="0.18">f_dM</text>
<line x1="430.5" y1="459.4" x2="430.5" y2="508.6" stroke="#a45ad6" stroke-width="0.9" stroke-dasharray="2 1.6"/>
<path d="M367.7 493.5 C368.1 493.9 368.5 495.8 369.8 495.5 C371.1 495.2 372.6 492.6 375 492.1 C377.4 491.6 380.6 492.3 382.9 492.7 C385.2 493.1 386.2 494.7 387.6 494.2 C389 493.7 389.4 490.1 390.7 490 C392 489.9 393.2 492.6 394.6 493.5 C396 494.4 396 494.3 398.6 494.8 C401.2 495.3 406.4 495.5 409 496.1 C411.6 496.7 411.3 496.9 413 498.2 C414.7 499.5 416.6 501.8 418.2 503.1 C419.8 504.4 420.9 509.1 422.1 505.2 C423.3 501.3 423.8 487.1 424.8 481.7 C425.8 476.3 426.9 477.4 427.9 475.1 C428.9 472.8 429.3 470.5 430.5 469.1 C431.7 467.7 433.2 467.2 434.5 467.3 C435.8 467.4 436.8 465.4 437.9 469.9 C439 474.4 439.6 487.4 440.5 492.1 C441.4 496.8 441.7 495.5 443.1 496.1 C444.5 496.7 446.9 497.2 448.3 495.5 C449.7 493.8 449.9 488.5 451 486.9 C452.1 485.3 453 485.6 454.4 486.4 C455.8 487.2 458 490.7 458.8 491.6" fill="none" stroke="#3b7c7d" stroke-width="1" stroke-linejoin="round" stroke-linecap="round"/>
<text font-size="6.6" font-family="'Liberation Serif', serif" fill="#d9773c" textLength="11.5" lengthAdjust="spacingAndGlyphs" x="523" y="451.5">Leaf</text>
<text font-size="6.6" font-family="'Liberation Serif', serif" fill="#d9773c" textLength="30.1" lengthAdjust="spacingAndGlyphs" x="523" y="458.3">morphology</text>
<path d="M562 453.7 L567.9 457.5" stroke="#3f9a2c" stroke-width="0.9" fill="none"/>
<ellipse cx="558" cy="451.3" rx="7.2" ry="5.6" transform="rotate(32 558 451.3)" fill="url(#lfi)"/>
<text font-size="6.6" font-family="'Liberation Serif', serif" fill="#222" font-style="italic" textLength="25.5" lengthAdjust="spacingAndGlyphs" x="583.2" y="453.6">2 SPEAR3</text>
<text font-size="6.6" font-family="'Liberation Serif', serif" fill="#222" font-style="italic" textLength="19.9" lengthAdjust="spacingAndGlyphs" x="568.8" y="462">ABCG11</text>
<text font-size="6.6" font-family="'Liberation Serif', serif" fill="#222" font-style="italic" textLength="14.5" lengthAdjust="spacingAndGlyphs" x="602.2" y="462">OFP8</text>
<path d="M529 467.1 V507.5 H635.5" fill="none" stroke="#c9c9c9" stroke-width="0.7"/>
<text font-size="5.3" font-family="'Liberation Sans', sans-serif" text-anchor="end" fill="#4a4a4a" x="527.4" y="470.908">0.75</text>
<line x1="527.8" y1="469" x2="529" y2="469" stroke="#c9c9c9" stroke-width="0.5"/>
<text font-size="5.3" font-family="'Liberation Sans', sans-serif" text-anchor="end" fill="#4a4a4a" x="527.4" y="482.908">0.50</text>
<line x1="527.8" y1="481" x2="529" y2="481" stroke="#c9c9c9" stroke-width="0.5"/>
<text font-size="5.3" font-family="'Liberation Sans', sans-serif" text-anchor="end" fill="#4a4a4a" x="527.4" y="495.108">0.25</text>
<line x1="527.8" y1="493.2" x2="529" y2="493.2" stroke="#c9c9c9" stroke-width="0.5"/>
<text font-size="5.3" font-family="'Liberation Sans', sans-serif" text-anchor="end" fill="#4a4a4a" x="527.4" y="507.308">0.00</text>
<line x1="527.8" y1="505.4" x2="529" y2="505.4" stroke="#c9c9c9" stroke-width="0.5"/>
<text font-size="5.3" font-family="'Liberation Sans', sans-serif" text-anchor="middle" fill="#4a4a4a" x="533.4" y="513.308">70</text>
<line x1="533.4" y1="507.5" x2="533.4" y2="508.7" stroke="#c9c9c9" stroke-width="0.5"/>
<text font-size="5.3" font-family="'Liberation Sans', sans-serif" text-anchor="middle" fill="#4a4a4a" x="566" y="513.308">74</text>
<line x1="566" y1="507.5" x2="566" y2="508.7" stroke="#c9c9c9" stroke-width="0.5"/>
<text font-size="5.3" font-family="'Liberation Sans', sans-serif" text-anchor="middle" fill="#4a4a4a" x="598.5" y="513.308">78</text>
<line x1="598.5" y1="507.5" x2="598.5" y2="508.7" stroke="#c9c9c9" stroke-width="0.5"/>
<text font-size="5.3" font-family="'Liberation Sans', sans-serif" text-anchor="middle" fill="#4a4a4a" x="631" y="513.308">82</text>
<line x1="631" y1="507.5" x2="631" y2="508.7" stroke="#c9c9c9" stroke-width="0.5"/>
<text font-size="7" font-family="'Liberation Sans', sans-serif" fill="#222" textLength="65.2" lengthAdjust="spacingAndGlyphs" x="549.8" y="520.5" stroke="#222" stroke-width="0.18">Chromosome 5 (Mb)</text>
<text font-size="7.4" font-family="'Liberation Sans', sans-serif" text-anchor="middle" fill="#222" textLength="16.6" lengthAdjust="spacingAndGlyphs" transform="translate(515.3 487.4) rotate(-90)" stroke="#222" stroke-width="0.18">f_dM</text>
<line x1="590.4" y1="460" x2="590.4" y2="508" stroke="#a45ad6" stroke-width="1.2" stroke-dasharray="1.6 1.6"/>
<line x1="595.3" y1="456" x2="595.3" y2="508" stroke="#a45ad6" stroke-width="2" stroke-dasharray="1.6 1.6"/>
<line x1="600.5" y1="460" x2="600.5" y2="508" stroke="#a45ad6" stroke-width="1.2" stroke-dasharray="1.6 1.6"/>
<path d="M534.2 498.4 C534.8 498 536.3 496.4 537.8 496.3 C539.3 496.2 540.7 497.2 542.5 497.9 C544.3 498.6 545.4 500.3 547.7 500.2 C550 500.1 552.9 497.8 555.5 497.1 C558.1 496.4 559.7 495.8 562 496.3 C564.3 496.8 566.2 498.9 568.5 499.7 C570.8 500.5 573.2 502.4 575 501 C576.8 499.6 577.4 494.2 578.4 491.9 C579.4 489.6 579.3 487.8 580.3 488 C581.3 488.2 582.8 492.7 584.2 493.2 C585.6 493.7 586.7 492.2 588.1 490.6 C589.5 489 590.7 486.9 592 484.1 C593.3 481.3 593.9 476.9 595.1 474.9 C596.3 472.9 597.4 472.9 598.5 472.9 C599.6 472.9 600.3 471.9 601.1 474.9 C601.9 477.9 602.2 484.1 602.9 489.3 C603.6 494.5 604.2 500.7 605 503.6 C605.8 506.5 606.3 505.7 607.1 505.4 C607.9 505.1 608.4 502.7 609.4 501.8 C610.4 500.9 611.7 501 612.8 500.5 C613.9 500 614.5 498.8 615.4 498.9 C616.3 499 616.8 500.9 618 501 C619.2 501.1 620.3 499.6 621.9 499.7 C623.5 499.8 625.6 501.5 627.1 501.5 C628.6 501.5 629.7 500 630.3 499.7" fill="none" stroke="#3b7c7d" stroke-width="1" stroke-linejoin="round" stroke-linecap="round"/>
</g>
</svg>
</body></html>
